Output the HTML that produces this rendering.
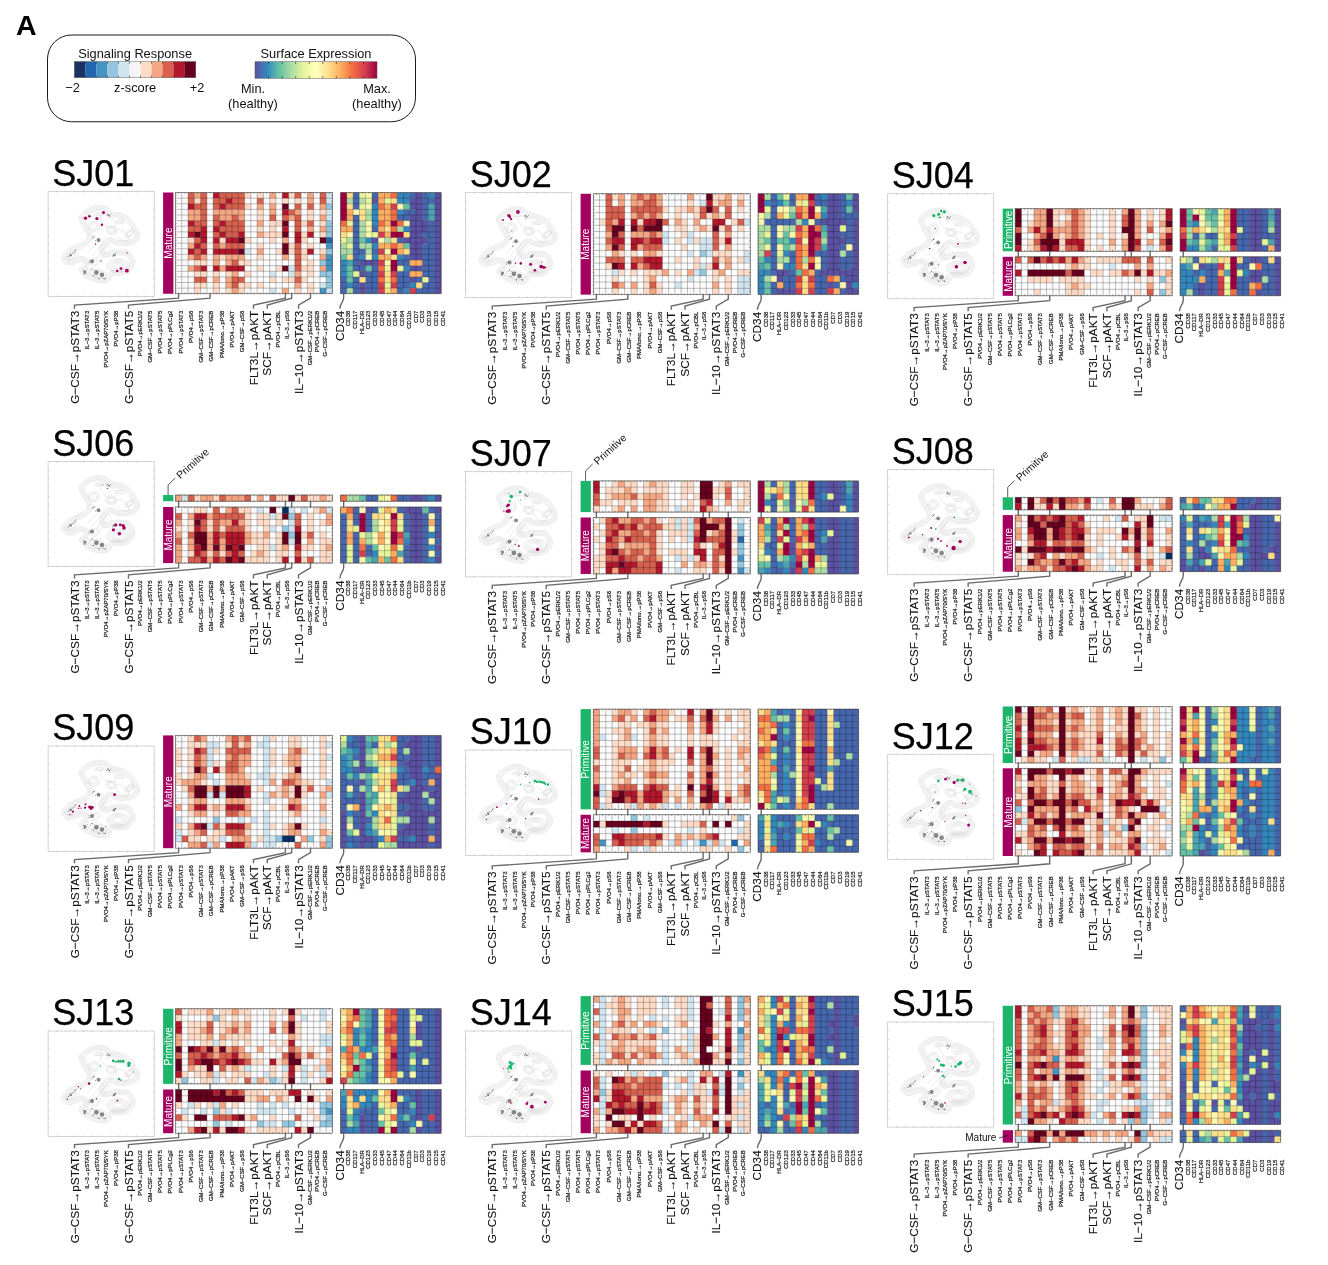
<!DOCTYPE html>
<html lang="en"><head><meta charset="utf-8"><title>Figure A</title>
<style>html,body{margin:0;padding:0;background:#fff}svg{display:block}text{font-family:"Liberation Sans",sans-serif}</style></head><body>
<svg width="1328" height="1265" viewBox="0 0 1328 1265">
<rect width="1328" height="1265" fill="#fff"/>
<defs><g id="ct"><path d="M51.7 14.3L54.1 14.5L56.4 14.9L58.7 15.7L60.8 17.1L62.7 19L64.8 20.4L67 21L69.4 21.3L71.7 21.7L74.1 22.5L76.4 23.5L78.7 24.8L80.9 26.3L83 28.1L84.8 30L86.2 32L87.2 34L88.3 36.1L89.6 38.1L90.9 40.1L91.7 42.2L91.6 44.6L91 47L90 49.1L88.7 50.6L86.9 51.7L84.8 52.6L82.2 53.4L79.1 54L76.1 54.3L73.1 54.3L70 54L67.4 53.5L65.3 52.5L63.7 51.4L62.2 50.9L60.9 51.5L59.7 52.8L58.7 54.3L57.6 56.1L56.5 58L56.1 59.6L56.5 60.6L57.4 61.2L58.7 61.3L60.1 60.8L61.8 59.8L63.9 59.1L66.6 58.8L69.6 58.7L72.6 58.7L75.4 58.7L78.1 58.9L80.4 59.6L82.2 61L83.6 62.8L84.8 64.8L86 66.9L86.9 69.2L87 71.7L86.1 74.7L84.3 77.8L82.2 80.4L79.6 82.1L76.5 83.2L73.5 83.9L70.4 84L67.2 83.6L64.8 83.9L63.6 85.3L63 87.4L62.2 89.1L60.8 90.3L59.1 91.2L57 91.7L54.4 91.8L51.3 91.5L48.3 90.9L45.3 90L42.4 88.8L39.6 87.4L36.9 85.8L34.4 84L32.6 82.2L31.7 80.5L31.4 78.7L31.7 77L33.1 75.1L35 73.2L36.1 71.7L35.6 70.7L34.3 70.1L32.6 70L30.8 70.6L28.7 71.7L26.5 72.6L24.2 73.2L21.8 73.6L19.6 73.5L17.5 72.7L15.7 71.4L14.3 70L13.5 68.7L13.2 67.4L13.5 65.7L14.7 63.5L16.6 60.9L18.7 58.7L21.1 57L23.8 55.6L26.5 54.3L29.2 53.2L31.9 52.1L34.3 50.9L36.6 49.4L38.6 47.6L39.6 45.7L39.1 43.5L37.6 41.1L36.1 38.7L34.9 36.3L33.6 34L32.6 31.7L31.6 29.6L30.9 27.7L30.9 25.7L32 23.6L33.9 21.5L36.1 19.6L38.8 17.9L41.9 16.3L44.8 15.2L47.2 14.6L49.5 14.3ZM51.7 15.5L53.9 15.7L56.1 16.1L58.1 16.8L60 18.1L62 19.9L64.3 21.5L66.8 22.2L69.2 22.5L71.4 22.9L73.6 23.7L75.9 24.7L78 25.9L80.1 27.3L82.1 29L83.8 30.8L85.1 32.6L86.1 34.6L87.2 36.7L88.6 38.8L89.8 40.7L90.5 42.4L90.4 44.4L89.8 46.6L89 48.4L87.9 49.6L86.3 50.6L84.4 51.4L81.9 52.2L78.9 52.7L76 53.1L73.1 53L70.2 52.8L67.8 52.3L66 51.5L64.3 50.3L62.1 49.7L60.1 50.5L58.8 52L57.7 53.6L56.5 55.4L55.4 57.5L54.9 59.6L55.5 61.4L57.1 62.3L58.9 62.5L60.6 61.9L62.3 61L64.2 60.3L66.7 60L69.7 59.9L72.6 59.9L75.3 60L77.9 60.2L79.8 60.7L81.3 61.8L82.6 63.5L83.7 65.4L84.8 67.4L85.6 69.5L85.8 71.5L84.9 74.2L83.3 77.1L81.4 79.5L79 81L76.2 82L73.3 82.7L70.4 82.7L67.3 82.4L64.3 82.8L62.5 84.8L61.9 86.9L61.2 88.3L60.1 89.2L58.7 90L56.8 90.5L54.4 90.5L51.5 90.3L48.6 89.7L45.8 88.8L42.9 87.7L40.2 86.3L37.6 84.7L35.2 83L33.6 81.4L32.8 80.1L32.6 78.8L32.8 77.5L34 75.9L36 74L37.3 72L36.4 69.8L34.5 68.9L32.4 68.8L30.3 69.5L28.2 70.6L26.1 71.4L23.9 72L21.7 72.3L19.9 72.3L18.1 71.6L16.5 70.4L15.3 69.2L14.6 68.2L14.4 67.4L14.7 66.2L15.7 64.1L17.5 61.7L19.5 59.6L21.8 58.1L24.4 56.7L27 55.4L29.7 54.3L32.4 53.3L34.9 52L37.3 50.4L39.5 48.4L40.8 45.9L40.2 43L38.7 40.4L37.2 38.1L36 35.8L34.8 33.4L33.7 31.2L32.8 29.1L32.1 27.4L32.1 26L33 24.3L34.7 22.4L36.8 20.6L39.4 19L42.4 17.5L45.2 16.4L47.5 15.8L49.5 15.5ZM51.6 16.8L53.7 17L55.8 17.3L57.6 17.9L59.2 19.1L61.2 20.9L63.7 22.7L66.6 23.5L69 23.7L71.1 24.1L73.2 24.9L75.3 25.8L77.4 26.9L79.4 28.3L81.3 29.9L82.9 31.6L84 33.3L85 35.2L86.1 37.4L87.5 39.5L88.7 41.2L89.2 42.6L89.2 44.2L88.7 46.2L87.9 47.7L87 48.7L85.8 49.5L84 50.2L81.6 51L78.8 51.5L76 51.8L73.2 51.8L70.4 51.5L68.1 51.1L66.6 50.4L64.8 49.2L62.1 48.4L59.3 49.5L57.8 51.3L56.6 52.9L55.4 54.8L54.2 57.1L53.6 59.5L54.6 62.2L56.7 63.5L59 63.8L61.2 63.1L62.8 62.1L64.4 61.5L66.8 61.3L69.7 61.2L72.6 61.2L75.3 61.2L77.7 61.4L79.3 61.8L80.4 62.7L81.6 64.2L82.6 66L83.7 68L84.4 69.7L84.5 71.3L83.8 73.7L82.3 76.4L80.5 78.5L78.5 79.8L75.8 80.8L73.2 81.4L70.5 81.5L67.3 81.1L63.7 81.6L61.4 84.2L60.7 86.5L60.2 87.6L59.4 88.2L58.2 88.8L56.7 89.2L54.5 89.3L51.7 89L48.9 88.5L46.2 87.6L43.4 86.5L40.8 85.2L38.3 83.7L36 82.1L34.6 80.7L34 79.6L33.9 78.8L34 78.1L34.9 76.8L36.9 74.9L38.5 72.3L37.2 68.8L34.8 67.7L32.2 67.5L29.8 68.3L27.6 69.4L25.7 70.2L23.7 70.7L21.6 71.1L20.1 71.1L18.7 70.5L17.3 69.5L16.2 68.4L15.8 67.7L15.7 67.4L15.8 66.6L16.8 64.8L18.5 62.5L20.3 60.6L22.4 59.1L24.9 57.8L27.5 56.6L30.1 55.5L32.9 54.4L35.6 53.1L38.1 51.4L40.5 49.2L42.1 46L41.4 42.5L39.7 39.8L38.3 37.5L37.1 35.2L35.9 32.9L34.9 30.7L33.9 28.7L33.3 27.2L33.3 26.4L34 25.1L35.6 23.3L37.6 21.6L40 20.1L42.9 18.6L45.6 17.6L47.7 17L49.6 16.8ZM51.6 18L53.6 18.2L55.5 18.5L57 19L58.4 20.1L60.4 21.9L63.2 23.8L66.3 24.7L68.8 25L70.7 25.3L72.7 26L74.8 26.9L76.7 28L78.6 29.3L80.4 30.9L81.9 32.4L83 33.9L83.9 35.8L85.1 38L86.5 40.2L87.6 41.8L88 42.8L87.9 44L87.5 45.7L86.9 47L86.2 47.7L85.2 48.4L83.5 49.1L81.3 49.7L78.6 50.3L75.9 50.6L73.3 50.5L70.6 50.3L68.5 49.9L67.2 49.3L65.4 48.1L62 47.2L58.6 48.6L56.8 50.5L55.6 52.2L54.3 54.2L53.1 56.6L52.4 59.5L53.7 63L56.3 64.7L59.2 65L61.7 64.2L63.3 63.3L64.7 62.8L66.9 62.5L69.7 62.4L72.6 62.4L75.2 62.5L77.5 62.6L78.7 63L79.6 63.6L80.5 64.9L81.5 66.6L82.6 68.5L83.2 70L83.3 71.2L82.6 73.2L81.2 75.7L79.7 77.6L77.9 78.7L75.5 79.6L73 80.2L70.5 80.2L67.3 79.9L63.2 80.5L60.2 83.6L59.5 86.1L59.2 86.8L58.7 87.2L57.8 87.7L56.5 88L54.5 88L51.9 87.8L49.2 87.3L46.6 86.5L43.9 85.4L41.4 84.1L39 82.7L36.8 81.1L35.6 79.9L35.2 79.2L35.1 78.8L35.1 78.6L35.9 77.6L37.8 75.7L39.7 72.6L38.1 67.9L35.1 66.5L32.1 66.3L29.3 67.2L27.1 68.3L25.3 69L23.4 69.5L21.6 69.8L20.4 69.8L19.3 69.4L18.1 68.5L17.2 67.6L16.9 67.2L16.9 67.4L17 67.1L17.8 65.5L19.4 63.4L21.2 61.5L23.1 60.2L25.5 58.9L28 57.7L30.6 56.6L33.4 55.6L36.2 54.1L38.9 52.3L41.5 50L43.3 46.2L42.5 42L40.8 39.1L39.4 36.8L38.2 34.6L37 32.3L36 30.1L35.1 28.2L34.6 27L34.5 26.7L35.1 25.8L36.5 24.2L38.3 22.6L40.6 21.1L43.4 19.8L46 18.8L47.9 18.2L49.7 18ZM51.5 19.3L53.4 19.4L55.2 19.7L56.4 20.1L57.6 21L59.6 22.9L62.6 24.9L66.1 25.9L68.6 26.2L70.4 26.5L72.2 27.2L74.2 28L76 29L77.8 30.3L79.6 31.8L80.9 33.2L81.9 34.6L82.8 36.3L84 38.6L85.5 40.9L86.5 42.4L86.8 43L86.7 43.9L86.3 45.3L85.8 46.3L85.4 46.8L84.6 47.3L83.1 47.9L81 48.5L78.4 49L75.9 49.3L73.3 49.3L70.7 49L68.9 48.7L67.8 48.2L66 47L62 45.9L57.8 47.6L55.8 49.7L54.5 51.5L53.2 53.6L51.9 56.1L51.1 59.5L52.7 63.9L55.9 65.9L59.4 66.3L62.2 65.3L63.8 64.4L65 64L66.9 63.8L69.7 63.7L72.5 63.7L75.2 63.7L77.2 63.9L78.2 64.1L78.7 64.5L79.5 65.6L80.4 67.3L81.4 69L82 70.3L82.1 71L81.5 72.7L80.2 75L78.9 76.7L77.4 77.6L75.1 78.4L72.9 78.9L70.6 79L67.3 78.6L62.7 79.4L59.1 83.1L58.3 85.6L58.2 86.1L58 86.1L57.3 86.5L56.4 86.7L54.5 86.8L52.1 86.5L49.5 86L47 85.3L44.4 84.2L42 83L39.7 81.6L37.6 80.2L36.5 79.1L36.4 78.8L36.4 78.8L36.2 79.1L36.8 78.4L38.8 76.5L41 72.9L38.9 66.9L35.4 65.2L31.9 65.1L28.8 66L26.6 67.2L24.9 67.9L23.2 68.3L21.5 68.6L20.6 68.6L19.9 68.3L18.9 67.5L18.2 66.8L18.1 66.7L18.2 67.4L18.2 67.5L18.9 66.2L20.4 64.2L22 62.5L23.7 61.3L26 60.1L28.6 58.9L31.1 57.8L33.9 56.7L36.8 55.2L39.6 53.3L42.4 50.8L44.6 46.3L43.7 41.5L41.8 38.5L40.4 36.2L39.3 34L38.1 31.8L37.1 29.6L36.2 27.7L35.8 26.7L35.7 27L36.1 26.5L37.3 25.1L39.1 23.6L41.3 22.2L43.9 20.9L46.4 19.9L48.2 19.5L49.7 19.3ZM51.3 35.2C51.3 36.22 50.88 37.43 50.23 38.26C49.59 39.08 48.47 39.83 47.43 40.15C46.39 40.46 45.01 40.46 43.97 40.15C42.93 39.83 41.81 39.08 41.17 38.26C40.52 37.43 40.1 36.22 40.1 35.2C40.1 34.18 40.52 32.97 41.17 32.14C41.81 31.32 42.93 30.57 43.97 30.25C45.01 29.94 46.39 29.94 47.43 30.25C48.47 30.57 49.59 31.32 50.23 32.14C50.88 32.97 51.3 34.18 51.3 35.2ZM49.81 35.2C49.81 35.95 49.5 36.84 49.02 37.44C48.55 38.05 47.73 38.6 46.97 38.83C46.2 39.06 45.2 39.06 44.43 38.83C43.67 38.6 42.85 38.05 42.38 37.44C41.9 36.84 41.59 35.95 41.59 35.2C41.59 34.45 41.9 33.56 42.38 32.96C42.85 32.35 43.67 31.8 44.43 31.57C45.2 31.34 46.2 31.34 46.97 31.57C47.73 31.8 48.55 32.35 49.02 32.96C49.5 33.56 49.81 34.45 49.81 35.2ZM48.31 35.2C48.31 35.68 48.12 36.24 47.81 36.63C47.51 37.01 46.99 37.36 46.51 37.51C46.02 37.65 45.38 37.65 44.89 37.51C44.41 37.36 43.89 37.01 43.59 36.63C43.28 36.24 43.09 35.68 43.09 35.2C43.09 34.72 43.28 34.16 43.59 33.77C43.89 33.39 44.41 33.04 44.89 32.89C45.38 32.75 46.02 32.75 46.51 32.89C46.99 33.04 47.51 33.39 47.81 33.77C48.12 34.16 48.31 34.72 48.31 35.2ZM55.85 22.3C55.89 22.61 55.57 23.04 55.04 23.37C54.5 23.7 53.55 24.07 52.64 24.29C51.73 24.52 50.52 24.69 49.58 24.72C48.65 24.76 47.63 24.67 47.03 24.49C46.42 24.32 45.99 24.01 45.95 23.7C45.91 23.39 46.23 22.96 46.76 22.63C47.3 22.3 48.25 21.93 49.16 21.71C50.07 21.48 51.28 21.31 52.22 21.28C53.15 21.24 54.17 21.33 54.77 21.51C55.38 21.68 55.81 21.99 55.85 22.3ZM53.87 22.58C53.9 22.77 53.7 23.02 53.38 23.22C53.06 23.42 52.49 23.64 51.95 23.78C51.4 23.91 50.67 24.01 50.11 24.03C49.55 24.05 48.94 24 48.58 23.9C48.21 23.79 47.96 23.6 47.93 23.42C47.9 23.23 48.1 22.98 48.42 22.78C48.74 22.58 49.31 22.36 49.85 22.22C50.4 22.09 51.13 21.99 51.69 21.97C52.25 21.95 52.86 22 53.22 22.1C53.59 22.21 53.84 22.4 53.87 22.58ZM68.07 40.55C67.78 41.36 67.04 42.18 66.22 42.62C65.4 43.07 64.17 43.3 63.14 43.2C62.1 43.11 60.86 42.66 60 42.06C59.15 41.47 58.36 40.5 58.01 39.64C57.66 38.77 57.63 37.66 57.93 36.85C58.22 36.04 58.96 35.22 59.78 34.78C60.6 34.33 61.83 34.1 62.86 34.2C63.9 34.29 65.14 34.74 66 35.34C66.85 35.93 67.64 36.9 67.99 37.76C68.34 38.63 68.37 39.74 68.07 40.55ZM66.72 40.05C66.5 40.65 65.97 41.25 65.36 41.58C64.76 41.9 63.86 42.07 63.1 42C62.34 41.93 61.43 41.6 60.8 41.17C60.17 40.73 59.59 40.02 59.34 39.39C59.09 38.75 59.06 37.94 59.28 37.35C59.5 36.75 60.03 36.15 60.64 35.82C61.24 35.5 62.14 35.33 62.9 35.4C63.66 35.47 64.57 35.8 65.2 36.23C65.83 36.67 66.41 37.38 66.66 38.01C66.91 38.65 66.94 39.46 66.72 40.05ZM65.37 39.56C65.23 39.94 64.89 40.32 64.5 40.53C64.12 40.74 63.55 40.85 63.06 40.8C62.58 40.76 62 40.55 61.6 40.27C61.2 39.99 60.83 39.54 60.67 39.14C60.51 38.73 60.49 38.22 60.63 37.84C60.77 37.46 61.11 37.08 61.5 36.87C61.88 36.66 62.45 36.55 62.94 36.6C63.42 36.64 64 36.85 64.4 37.13C64.8 37.41 65.17 37.86 65.33 38.26C65.49 38.67 65.51 39.18 65.37 39.56ZM76.28 30.8C76.25 31.15 75.87 31.54 75.32 31.78C74.76 32.02 73.83 32.2 72.97 32.23C72.1 32.26 70.98 32.16 70.13 31.98C69.29 31.8 68.4 31.46 67.9 31.13C67.4 30.8 67.09 30.35 67.12 30C67.15 29.65 67.53 29.26 68.08 29.02C68.64 28.78 69.57 28.6 70.43 28.57C71.3 28.54 72.42 28.64 73.27 28.82C74.11 29 75 29.34 75.5 29.67C76 30 76.31 30.45 76.28 30.8ZM74.45 30.64C74.43 30.85 74.2 31.08 73.87 31.23C73.54 31.37 72.98 31.48 72.46 31.5C71.94 31.52 71.27 31.46 70.76 31.35C70.25 31.24 69.72 31.04 69.42 30.84C69.12 30.64 68.93 30.37 68.95 30.16C68.97 29.95 69.2 29.72 69.53 29.57C69.86 29.43 70.42 29.32 70.94 29.3C71.46 29.28 72.13 29.34 72.64 29.45C73.15 29.56 73.68 29.76 73.98 29.96C74.28 30.16 74.47 30.43 74.45 30.64ZM85.89 38.99C86.22 39.47 86.28 40.29 86.02 41.05C85.77 41.81 85.1 42.8 84.35 43.54C83.6 44.29 82.48 45.08 81.52 45.53C80.56 45.98 79.4 46.26 78.6 46.24C77.8 46.22 77.05 45.89 76.71 45.41C76.38 44.93 76.32 44.11 76.58 43.35C76.83 42.59 77.5 41.6 78.25 40.86C79 40.11 80.12 39.32 81.08 38.87C82.04 38.42 83.2 38.14 84 38.16C84.8 38.18 85.55 38.51 85.89 38.99ZM84.66 39.84C84.91 40.2 84.95 40.8 84.76 41.35C84.58 41.91 84.09 42.64 83.54 43.19C82.99 43.73 82.16 44.31 81.46 44.64C80.76 44.97 79.91 45.18 79.32 45.16C78.73 45.15 78.18 44.91 77.94 44.56C77.69 44.2 77.65 43.6 77.84 43.05C78.02 42.49 78.51 41.76 79.06 41.21C79.61 40.67 80.44 40.09 81.14 39.76C81.84 39.43 82.69 39.22 83.28 39.24C83.87 39.25 84.42 39.49 84.66 39.84ZM83.44 40.7C83.6 40.93 83.62 41.31 83.5 41.66C83.38 42.02 83.08 42.48 82.73 42.83C82.37 43.18 81.85 43.54 81.4 43.75C80.95 43.96 80.41 44.1 80.04 44.09C79.67 44.08 79.32 43.92 79.16 43.7C79 43.47 78.98 43.09 79.1 42.74C79.22 42.38 79.52 41.92 79.87 41.57C80.23 41.22 80.75 40.86 81.2 40.65C81.65 40.44 82.19 40.3 82.56 40.31C82.93 40.32 83.28 40.48 83.44 40.7ZM81.5 74.3C81.5 75.67 80.63 77.3 79.3 78.41C77.98 79.52 75.7 80.53 73.55 80.96C71.41 81.38 68.59 81.38 66.45 80.96C64.3 80.53 62.02 79.52 60.7 78.41C59.37 77.3 58.5 75.67 58.5 74.3C58.5 72.93 59.37 71.3 60.7 70.19C62.02 69.08 64.3 68.07 66.45 67.64C68.59 67.22 71.41 67.22 73.55 67.64C75.7 68.07 77.98 69.08 79.3 70.19C80.63 71.3 81.5 72.93 81.5 74.3ZM79.66 74.3C79.66 75.45 78.93 76.82 77.82 77.76C76.7 78.69 74.79 79.54 72.99 79.89C71.19 80.25 68.81 80.25 67.01 79.89C65.21 79.54 63.3 78.69 62.18 77.76C61.07 76.82 60.34 75.45 60.34 74.3C60.34 73.15 61.07 71.78 62.18 70.84C63.3 69.91 65.21 69.06 67.01 68.71C68.81 68.35 71.19 68.35 72.99 68.71C74.79 69.06 76.7 69.91 77.82 70.84C78.93 71.78 79.66 73.15 79.66 74.3ZM77.82 74.3C77.82 75.23 77.23 76.34 76.33 77.1C75.43 77.85 73.87 78.54 72.42 78.83C70.96 79.12 69.04 79.12 67.58 78.83C66.13 78.54 64.57 77.85 63.67 77.1C62.77 76.34 62.18 75.23 62.18 74.3C62.18 73.37 62.77 72.26 63.67 71.5C64.57 70.75 66.13 70.06 67.58 69.77C69.04 69.48 70.96 69.48 72.42 69.77C73.87 70.06 75.43 70.75 76.33 71.5C77.23 72.26 77.82 73.37 77.82 74.3ZM75.98 74.3C75.98 75.01 75.53 75.86 74.84 76.44C74.15 77.02 72.96 77.54 71.85 77.76C70.73 77.98 69.27 77.98 68.15 77.76C67.04 77.54 65.85 77.02 65.16 76.44C64.47 75.86 64.02 75.01 64.02 74.3C64.02 73.59 64.47 72.74 65.16 72.16C65.85 71.58 67.04 71.06 68.15 70.84C69.27 70.62 70.73 70.62 71.85 70.84C72.96 71.06 74.15 71.58 74.84 72.16C75.53 72.74 75.98 73.59 75.98 74.3ZM74.14 74.3C74.14 74.79 73.83 75.38 73.35 75.78C72.87 76.18 72.05 76.54 71.28 76.7C70.51 76.85 69.49 76.85 68.72 76.7C67.95 76.54 67.13 76.18 66.65 75.78C66.17 75.38 65.86 74.79 65.86 74.3C65.86 73.81 66.17 73.22 66.65 72.82C67.13 72.42 67.95 72.06 68.72 71.9C69.49 71.75 70.51 71.75 71.28 71.9C72.05 72.06 72.87 72.42 73.35 72.82C73.83 73.22 74.14 73.81 74.14 74.3ZM51.5 70.9C51.5 71.68 51.12 72.62 50.55 73.25C49.97 73.89 48.98 74.46 48.05 74.7C47.11 74.95 45.89 74.95 44.95 74.7C44.02 74.46 43.03 73.89 42.45 73.25C41.88 72.62 41.5 71.68 41.5 70.9C41.5 70.12 41.88 69.18 42.45 68.55C43.03 67.91 44.02 67.34 44.95 67.1C45.89 66.85 47.11 66.85 48.05 67.1C48.98 67.34 49.97 67.91 50.55 68.55C51.12 69.18 51.5 70.12 51.5 70.9ZM49.5 70.9C49.5 71.37 49.27 71.93 48.93 72.31C48.58 72.69 47.99 73.04 47.43 73.18C46.87 73.33 46.13 73.33 45.57 73.18C45.01 73.04 44.42 72.69 44.07 72.31C43.73 71.93 43.5 71.37 43.5 70.9C43.5 70.43 43.73 69.87 44.07 69.49C44.42 69.11 45.01 68.76 45.57 68.62C46.13 68.47 46.87 68.47 47.43 68.62C47.99 68.76 48.58 69.11 48.93 69.49C49.27 69.87 49.5 70.43 49.5 70.9ZM58.31 84.27C58.13 85.13 57.28 86.02 56.18 86.52C55.07 87.01 53.29 87.3 51.68 87.23C50.07 87.17 48.03 86.74 46.54 86.14C45.05 85.54 43.53 84.56 42.72 83.66C41.91 82.76 41.5 81.6 41.69 80.73C41.87 79.87 42.72 78.98 43.82 78.48C44.93 77.99 46.71 77.7 48.32 77.77C49.93 77.83 51.97 78.26 53.46 78.86C54.95 79.46 56.47 80.44 57.28 81.34C58.09 82.24 58.5 83.4 58.31 84.27ZM56.1 83.8C55.96 84.43 55.34 85.08 54.53 85.45C53.72 85.81 52.41 86.02 51.23 85.97C50.05 85.92 48.56 85.61 47.46 85.17C46.37 84.73 45.26 84.01 44.66 83.35C44.07 82.69 43.77 81.84 43.9 81.2C44.04 80.57 44.66 79.92 45.47 79.55C46.28 79.19 47.59 78.98 48.77 79.03C49.95 79.08 51.44 79.39 52.54 79.83C53.63 80.27 54.74 80.99 55.34 81.65C55.93 82.31 56.23 83.16 56.1 83.8ZM53.88 83.32C53.79 83.73 53.4 84.14 52.88 84.37C52.37 84.61 51.53 84.74 50.78 84.71C50.03 84.68 49.08 84.48 48.39 84.2C47.69 83.92 46.98 83.46 46.6 83.04C46.23 82.62 46.03 82.08 46.12 81.68C46.21 81.27 46.6 80.86 47.12 80.63C47.63 80.39 48.47 80.26 49.22 80.29C49.97 80.32 50.92 80.52 51.61 80.8C52.31 81.08 53.02 81.54 53.4 81.96C53.77 82.38 53.97 82.92 53.88 83.32ZM28.74 61.75C29.03 62.3 28.95 63.19 28.53 63.99C28.1 64.79 27.18 65.8 26.2 66.54C25.22 67.28 23.82 68.03 22.66 68.43C21.49 68.83 20.14 69.03 19.24 68.93C18.34 68.83 17.56 68.41 17.26 67.85C16.97 67.3 17.05 66.41 17.47 65.61C17.9 64.81 18.82 63.8 19.8 63.06C20.78 62.32 22.18 61.57 23.34 61.17C24.51 60.77 25.86 60.57 26.76 60.67C27.66 60.77 28.44 61.19 28.74 61.75ZM26.44 62.97C26.62 63.3 26.57 63.84 26.32 64.32C26.06 64.79 25.51 65.4 24.92 65.85C24.33 66.29 23.49 66.74 22.79 66.98C22.1 67.22 21.28 67.34 20.74 67.28C20.2 67.22 19.73 66.96 19.56 66.63C19.38 66.3 19.43 65.76 19.68 65.28C19.94 64.81 20.49 64.2 21.08 63.75C21.67 63.31 22.51 62.86 23.21 62.62C23.9 62.38 24.72 62.26 25.26 62.32C25.8 62.38 26.27 62.64 26.44 62.97ZM41 79.5C41 80.24 40.77 81.13 40.43 81.73C40.08 82.34 39.49 82.88 38.93 83.11C38.37 83.34 37.63 83.34 37.07 83.11C36.51 82.88 35.92 82.34 35.57 81.73C35.23 81.13 35 80.24 35 79.5C35 78.76 35.23 77.87 35.57 77.27C35.92 76.66 36.51 76.12 37.07 75.89C37.63 75.66 38.37 75.66 38.93 75.89C39.49 76.12 40.08 76.66 40.43 77.27C40.77 77.87 41 78.76 41 79.5ZM67.37 35.16C66.81 35.96 65.58 36.53 64.28 36.58C62.98 36.64 61.1 36.2 59.55 35.49C58 34.78 56.19 33.51 54.99 32.3C53.79 31.09 52.74 29.47 52.35 28.23C51.96 26.99 52.07 25.64 52.63 24.84C53.19 24.04 54.42 23.47 55.72 23.42C57.02 23.36 58.9 23.8 60.45 24.51C62 25.22 63.81 26.49 65.01 27.7C66.21 28.91 67.26 30.53 67.65 31.77C68.04 33.01 67.93 34.36 67.37 35.16ZM80.13 49.14C79.62 49.74 78.56 50.07 77.45 49.96C76.33 49.85 74.75 49.28 73.45 48.5C72.15 47.73 70.65 46.47 69.66 45.33C68.67 44.18 67.83 42.72 67.53 41.64C67.23 40.56 67.37 39.46 67.87 38.86C68.38 38.26 69.44 37.93 70.55 38.04C71.67 38.15 73.25 38.72 74.55 39.5C75.85 40.27 77.35 41.53 78.34 42.67C79.33 43.82 80.17 45.28 80.47 46.36C80.77 47.44 80.63 48.54 80.13 49.14ZM60 52C56 58 51 62 48 68M63 53C59 60 54 64 51 70M57 50C52 56 47 60 44 65M54 48C49 53 43 57 40 62" stroke="#c2c2c2" stroke-width="0.33" fill="none"/><g fill="#858585"><circle cx="50.4" cy="48.7" r="1.9"/><circle cx="22.6" cy="63.9" r="1.3"/><circle cx="66.1" cy="63.9" r="1.3"/><circle cx="43.9" cy="70" r="2.1"/><circle cx="37" cy="80.4" r="1.5"/><circle cx="36.3" cy="82.3" r="1"/><circle cx="48.3" cy="81.3" r="2.4"/><circle cx="53.9" cy="83.5" r="2.3"/><circle cx="60.4" cy="23.9" r="0.7"/></g><g fill="#4a4a4a"><circle cx="59.6" cy="22.8" r="0.61"/><circle cx="61.5" cy="24.6" r="0.61"/><circle cx="62.6" cy="23" r="0.47"/><circle cx="60" cy="26.5" r="0.41"/><circle cx="58.8" cy="24.5" r="0.47"/><circle cx="45.7" cy="45.7" r="0.61"/><circle cx="44.6" cy="47" r="0.47"/><circle cx="46.8" cy="44.6" r="0.41"/><circle cx="47.3" cy="49.5" r="0.47"/><circle cx="27" cy="59.6" r="0.54"/><circle cx="26" cy="61.5" r="0.47"/><circle cx="27.8" cy="58.3" r="0.41"/><circle cx="20.5" cy="65.5" r="0.54"/><circle cx="24.3" cy="62" r="0.47"/><circle cx="67.3" cy="62.4" r="0.54"/><circle cx="64.8" cy="65" r="0.47"/><circle cx="41" cy="71.5" r="0.47"/><circle cx="40.8" cy="69.3" r="0.41"/><circle cx="43.9" cy="77.4" r="0.54"/><circle cx="42.5" cy="79" r="0.41"/><circle cx="45.2" cy="83.9" r="0.54"/><circle cx="50.9" cy="87.4" r="0.54"/><circle cx="57" cy="87.4" r="0.61"/><circle cx="55.5" cy="87.2" r="0.41"/><circle cx="39.5" cy="78.3" r="0.41"/><circle cx="46" cy="78.8" r="0.41"/><circle cx="35.5" cy="79.5" r="0.47"/></g></g></defs>
<text x="16" y="35.4" font-size="28.5" font-weight="bold" fill="#000">A</text>
<rect x="47.5" y="35" width="368" height="86.75" rx="24" ry="24" fill="#fff" stroke="#1a1a1a" stroke-width="1"/>
<text x="135.1" y="58" text-anchor="middle" font-size="12.8" fill="#111">Signaling Response</text>
<rect x="74.25" y="61.5" width="11.15" height="16.25" fill="#1d3263"/>
<rect x="85.3" y="61.5" width="11.15" height="16.25" fill="#2166ac"/>
<rect x="96.34" y="61.5" width="11.15" height="16.25" fill="#4393c3"/>
<rect x="107.39" y="61.5" width="11.15" height="16.25" fill="#92c5de"/>
<rect x="118.43" y="61.5" width="11.15" height="16.25" fill="#d1e5f0"/>
<rect x="129.48" y="61.5" width="11.15" height="16.25" fill="#f5f5f5"/>
<rect x="140.52" y="61.5" width="11.15" height="16.25" fill="#fddbc7"/>
<rect x="151.57" y="61.5" width="11.15" height="16.25" fill="#f4a582"/>
<rect x="162.61" y="61.5" width="11.15" height="16.25" fill="#d6604d"/>
<rect x="173.66" y="61.5" width="11.15" height="16.25" fill="#b2182b"/>
<rect x="184.7" y="61.5" width="11.15" height="16.25" fill="#67001f"/>
<path d="M85.3 61.5v2.2M85.3 77.75v-2.2M96.34 61.5v2.2M96.34 77.75v-2.2M107.39 61.5v2.2M107.39 77.75v-2.2M118.43 61.5v2.2M118.43 77.75v-2.2M129.48 61.5v2.2M129.48 77.75v-2.2M140.52 61.5v2.2M140.52 77.75v-2.2M151.57 61.5v2.2M151.57 77.75v-2.2M162.61 61.5v2.2M162.61 77.75v-2.2M173.66 61.5v2.2M173.66 77.75v-2.2M184.7 61.5v2.2M184.7 77.75v-2.2" stroke="#222" stroke-width="0.6" fill="none"/>
<rect x="74.25" y="61.5" width="121.5" height="16.25" fill="none" stroke="#666" stroke-width="0.5"/>
<text x="65.3" y="92" font-size="12.8" fill="#111">−2</text>
<text x="135.1" y="92" text-anchor="middle" font-size="12.8" fill="#111">z-score</text>
<text x="189.7" y="92" font-size="12.8" fill="#111">+2</text>
<text x="316" y="58" text-anchor="middle" font-size="12.8" fill="#111">Surface Expression</text>
<defs><linearGradient id="sp" x1="0" x2="1" y1="0" y2="0"><stop offset="0" stop-color="#5e4fa2"/><stop offset="0.1" stop-color="#3288bd"/><stop offset="0.2" stop-color="#66c2a5"/><stop offset="0.3" stop-color="#abdda4"/><stop offset="0.4" stop-color="#e6f598"/><stop offset="0.5" stop-color="#ffffbf"/><stop offset="0.6" stop-color="#fee08b"/><stop offset="0.7" stop-color="#fdae61"/><stop offset="0.8" stop-color="#f46d43"/><stop offset="0.9" stop-color="#d53e4f"/><stop offset="1" stop-color="#9e0142"/></linearGradient></defs>
<rect x="255" y="61.75" width="122" height="16.5" fill="url(#sp)" stroke="#555" stroke-width="0.5"/>
<path d="M268.56 61.75v2.2M268.56 78.25v-2.2M282.11 61.75v2.2M282.11 78.25v-2.2M295.67 61.75v2.2M295.67 78.25v-2.2M309.22 61.75v2.2M309.22 78.25v-2.2M322.78 61.75v2.2M322.78 78.25v-2.2M336.33 61.75v2.2M336.33 78.25v-2.2M349.89 61.75v2.2M349.89 78.25v-2.2M363.44 61.75v2.2M363.44 78.25v-2.2" stroke="#222" stroke-width="0.6" fill="none"/>
<text x="253" y="92.9" text-anchor="middle" font-size="12.8" fill="#111">Min.</text>
<text x="253" y="107.9" text-anchor="middle" font-size="12.8" fill="#111">(healthy)</text>
<text x="377" y="92.9" text-anchor="middle" font-size="12.8" fill="#111">Max.</text>
<text x="377" y="107.9" text-anchor="middle" font-size="12.8" fill="#111">(healthy)</text>
<g id="SJ01">
<text x="52.2" y="185.6" font-size="36" fill="#000" stroke="#000" stroke-width="0.25">SJ01</text>
<g transform="translate(48.1 191.3)">
<rect x="0" y="0" width="106.1" height="105.3" fill="#fff" stroke="#bdbdbd" stroke-width="0.65"/>
<path d="M8.84 0v1.2M8.84 105.3v-1.2M0 8.78h1.2M106.1 8.78h-1.2M17.68 0v1.2M17.68 105.3v-1.2M0 17.55h1.2M106.1 17.55h-1.2M26.52 0v1.2M26.52 105.3v-1.2M0 26.33h1.2M106.1 26.33h-1.2M35.37 0v1.2M35.37 105.3v-1.2M0 35.1h1.2M106.1 35.1h-1.2M44.21 0v1.2M44.21 105.3v-1.2M0 43.88h1.2M106.1 43.88h-1.2M53.05 0v1.2M53.05 105.3v-1.2M0 52.65h1.2M106.1 52.65h-1.2M61.89 0v1.2M61.89 105.3v-1.2M0 61.43h1.2M106.1 61.43h-1.2M70.73 0v1.2M70.73 105.3v-1.2M0 70.2h1.2M106.1 70.2h-1.2M79.58 0v1.2M79.58 105.3v-1.2M0 78.98h1.2M106.1 78.98h-1.2M88.42 0v1.2M88.42 105.3v-1.2M0 87.75h1.2M106.1 87.75h-1.2M97.26 0v1.2M97.26 105.3v-1.2M0 96.53h1.2M106.1 96.53h-1.2" stroke="#a8a8a8" stroke-width="0.55" fill="none"/>
<use href="#ct"/>
<g fill="#a3005f"><circle cx="37.5" cy="26.9" r="1.6"/><circle cx="41.3" cy="25" r="1.3"/><circle cx="48.8" cy="27.25" r="1.6"/><circle cx="55.4" cy="21.25" r="1.5"/><circle cx="53.8" cy="33.4" r="1.2"/><circle cx="47.3" cy="52.75" r="0.7"/><circle cx="79" cy="61.6" r="0.7"/><circle cx="52.9" cy="69.75" r="0.7"/><circle cx="69.1" cy="79.6" r="1.2"/><circle cx="72.9" cy="77.25" r="1.4"/><circle cx="78.8" cy="79.4" r="1.9"/><circle cx="35" cy="26.5" r="0.5"/></g>
</g>
<rect x="163.1" y="192.5" width="10.3" height="101.25" fill="#a3005f"/>
<text transform="translate(171.9 243.12) rotate(-90)" text-anchor="middle" font-size="10" fill="#fff">Mature</text>
<g transform="translate(175.5 192.5)">
<g transform="scale(6.2800 5.6250)">
<path fill="#fbfbfb" d="M0 0h2v1h-2zM5 0h1v1h-1zM12 0h1v1h-1zM14 0h1v1h-1zM16 0h1v1h-1zM20 0h1v1h-1zM22 0h1v1h-1zM0 1h2v1h-2zM5 1h1v1h-1zM11 1h2v1h-2zM14 1h1v1h-1zM16 1h1v1h-1zM18 1h1v1h-1zM20 1h1v1h-1zM22 1h1v1h-1zM0 2h2v1h-2zM5 2h1v1h-1zM12 2h1v1h-1zM14 2h1v1h-1zM16 2h1v1h-1zM18 2h1v1h-1zM20 2h1v1h-1zM22 2h1v1h-1zM0 3h2v1h-2zM5 3h1v1h-1zM11 3h2v1h-2zM14 3h1v1h-1zM16 3h1v1h-1zM20 3h1v1h-1zM22 3h1v1h-1zM0 4h2v1h-2zM5 4h1v1h-1zM11 4h2v1h-2zM14 4h1v1h-1zM16 4h1v1h-1zM20 4h1v1h-1zM22 4h1v1h-1zM0 5h2v1h-2zM5 5h1v1h-1zM11 5h2v1h-2zM14 5h1v1h-1zM18 5h1v1h-1zM22 5h1v1h-1zM0 6h2v1h-2zM5 6h1v1h-1zM11 6h2v1h-2zM14 6h1v1h-1zM16 6h1v1h-1zM18 6h1v1h-1zM20 6h1v1h-1zM22 6h1v1h-1zM0 7h2v1h-2zM5 7h1v1h-1zM11 7h2v1h-2zM18 7h1v1h-1zM22 7h1v1h-1zM0 8h2v1h-2zM5 8h1v1h-1zM12 8h3v1h-3zM16 8h1v1h-1zM18 8h1v1h-1zM21 8h2v1h-2zM0 9h2v1h-2zM5 9h1v1h-1zM11 9h2v1h-2zM14 9h3v1h-3zM20 9h1v1h-1zM22 9h2v1h-2zM0 10h2v1h-2zM5 10h1v1h-1zM12 10h1v1h-1zM14 10h2v1h-2zM22 10h1v1h-1zM0 11h2v1h-2zM5 11h1v1h-1zM11 11h2v1h-2zM14 11h3v1h-3zM18 11h1v1h-1zM21 11h2v1h-2zM0 12h3v1h-3zM5 12h1v1h-1zM7 12h1v1h-1zM12 12h7v1h-7zM20 12h1v1h-1zM22 12h1v1h-1zM0 13h2v1h-2zM5 13h1v1h-1zM11 13h2v1h-2zM14 13h2v1h-2zM22 13h1v1h-1zM0 14h3v1h-3zM5 14h1v1h-1zM7 14h1v1h-1zM10 14h1v1h-1zM12 14h3v1h-3zM16 14h2v1h-2zM20 14h1v1h-1zM22 14h1v1h-1zM0 15h3v1h-3zM5 15h1v1h-1zM7 15h1v1h-1zM11 15h4v1h-4zM16 15h1v1h-1zM21 15h3v1h-3zM0 16h3v1h-3zM5 16h1v1h-1zM7 16h1v1h-1zM12 16h1v1h-1zM14 16h5v1h-5zM20 16h1v1h-1zM22 16h1v1h-1zM0 17h3v1h-3zM4 17h2v1h-2zM7 17h1v1h-1zM11 17h4v1h-4zM16 17h1v1h-1zM18 17h1v1h-1zM20 17h1v1h-1zM22 17h1v1h-1z"/>
<path fill="#fddbc7" d="M11 0h1v1h-1zM13 0h1v1h-1zM18 0h1v1h-1zM3 1h1v1h-1zM15 1h1v1h-1zM17 1h1v1h-1zM19 1h1v1h-1zM11 2h1v1h-1zM13 3h1v1h-1zM21 3h1v1h-1zM23 3h1v1h-1zM13 4h1v1h-1zM21 4h1v1h-1zM15 5h2v1h-2zM20 5h1v1h-1zM23 5h1v1h-1zM13 6h1v1h-1zM15 6h1v1h-1zM14 7h3v1h-3zM20 7h1v1h-1zM23 7h1v1h-1zM2 8h1v1h-1zM7 8h1v1h-1zM11 8h1v1h-1zM15 8h1v1h-1zM20 8h1v1h-1zM13 9h1v1h-1zM18 9h1v1h-1zM21 9h1v1h-1zM16 10h1v1h-1zM18 10h1v1h-1zM20 10h1v1h-1zM23 10h1v1h-1zM7 11h1v1h-1zM13 11h1v1h-1zM20 11h1v1h-1zM3 12h2v1h-2zM10 12h2v1h-2zM21 12h1v1h-1zM13 13h1v1h-1zM16 13h1v1h-1zM20 13h2v1h-2zM3 14h2v1h-2zM6 14h1v1h-1zM8 14h1v1h-1zM11 14h1v1h-1zM21 14h1v1h-1zM15 15h1v1h-1zM17 15h2v1h-2zM20 15h1v1h-1zM3 16h2v1h-2zM6 16h1v1h-1zM10 16h2v1h-2zM13 16h1v1h-1zM21 16h1v1h-1zM3 17h1v1h-1zM6 17h1v1h-1zM8 17h1v1h-1zM10 17h1v1h-1zM19 17h1v1h-1zM21 17h1v1h-1z"/>
<path fill="#f4a582" d="M3 0h1v1h-1zM15 0h1v1h-1zM21 0h1v1h-1zM21 1h1v1h-1zM13 2h1v1h-1zM15 2h1v1h-1zM23 2h1v1h-1zM2 3h2v1h-2zM6 3h5v1h-5zM15 3h1v1h-1zM19 3h1v1h-1zM2 4h2v1h-2zM7 4h2v1h-2zM10 4h1v1h-1zM18 4h1v1h-1zM23 4h1v1h-1zM13 5h1v1h-1zM21 6h1v1h-1zM23 6h1v1h-1zM13 7h1v1h-1zM17 8h1v1h-1zM2 9h1v1h-1zM7 9h1v1h-1zM13 10h1v1h-1zM2 11h1v1h-1zM4 11h1v1h-1zM6 11h1v1h-1zM8 11h3v1h-3zM17 11h1v1h-1zM23 11h1v1h-1zM6 12h1v1h-1zM8 12h1v1h-1zM2 13h1v1h-1zM7 13h1v1h-1zM23 13h1v1h-1zM9 14h1v1h-1zM19 14h1v1h-1zM6 15h1v1h-1zM8 15h1v1h-1zM8 16h1v1h-1zM19 16h1v1h-1zM9 17h1v1h-1zM17 17h1v1h-1z"/>
<path fill="#d6604d" d="M2 0h1v1h-1zM4 0h1v1h-1zM7 0h4v1h-4zM19 0h1v1h-1zM23 0h1v1h-1zM2 1h1v1h-1zM4 1h1v1h-1zM6 1h2v1h-2zM9 1h2v1h-2zM13 1h1v1h-1zM23 1h1v1h-1zM3 2h2v1h-2zM6 2h1v1h-1zM8 2h3v1h-3zM19 2h1v1h-1zM21 2h1v1h-1zM4 3h1v1h-1zM18 3h1v1h-1zM4 4h1v1h-1zM6 4h1v1h-1zM9 4h1v1h-1zM15 4h1v1h-1zM17 4h1v1h-1zM19 4h1v1h-1zM3 5h2v1h-2zM6 5h1v1h-1zM8 5h3v1h-3zM19 5h1v1h-1zM21 5h1v1h-1zM2 6h2v1h-2zM7 6h4v1h-4zM19 6h1v1h-1zM6 7h1v1h-1zM8 7h2v1h-2zM3 8h1v1h-1zM4 9h1v1h-1zM6 9h1v1h-1zM8 9h3v1h-3zM19 9h1v1h-1zM3 10h1v1h-1zM19 10h1v1h-1zM3 11h1v1h-1zM19 11h1v1h-1zM9 12h1v1h-1zM19 12h1v1h-1zM3 13h1v1h-1zM19 13h1v1h-1zM3 15h2v1h-2zM9 15h2v1h-2zM19 15h1v1h-1zM9 16h1v1h-1z"/>
<path fill="#b2182b" d="M6 0h1v1h-1zM17 0h1v1h-1zM8 1h1v1h-1zM2 2h1v1h-1zM7 2h1v1h-1zM17 3h1v1h-1zM2 5h1v1h-1zM7 5h1v1h-1zM4 6h1v1h-1zM6 6h1v1h-1zM17 6h1v1h-1zM2 7h1v1h-1zM4 7h1v1h-1zM7 7h1v1h-1zM10 7h1v1h-1zM19 7h1v1h-1zM21 7h1v1h-1zM4 8h1v1h-1zM6 8h1v1h-1zM8 8h2v1h-2zM19 8h1v1h-1zM3 9h1v1h-1zM2 10h1v1h-1zM4 10h1v1h-1zM6 10h4v1h-4zM21 10h1v1h-1zM4 13h1v1h-1zM6 13h1v1h-1zM8 13h3v1h-3z"/>
<path fill="#67001f" d="M17 2h1v1h-1zM17 5h1v1h-1zM3 7h1v1h-1zM17 7h1v1h-1zM10 8h1v1h-1zM23 8h1v1h-1zM17 9h1v1h-1zM10 10h1v1h-1zM17 10h1v1h-1zM17 13h1v1h-1z"/>
<path fill="#d1e5f0" d="M24 0h1v1h-1zM24 1h1v1h-1zM24 3h1v1h-1zM24 4h1v1h-1zM11 10h1v1h-1zM18 13h1v1h-1zM15 14h1v1h-1zM18 14h1v1h-1zM23 16h1v1h-1zM15 17h1v1h-1zM24 17h1v1h-1z"/>
<path fill="#92c5de" d="M24 2h1v1h-1zM24 5h1v1h-1zM24 6h1v1h-1zM24 7h1v1h-1zM24 10h1v1h-1zM23 12h1v1h-1zM23 14h2v1h-2zM24 15h1v1h-1zM24 16h1v1h-1z"/>
<path fill="#4393c3" d="M24 9h1v1h-1zM24 11h1v1h-1zM24 12h1v1h-1zM24 13h1v1h-1zM23 17h1v1h-1z"/>
<path fill="#2166ac" d="M24 8h1v1h-1z"/>
</g>
<path d="M0 0V101.25M6.28 0V101.25M12.56 0V101.25M18.84 0V101.25M25.12 0V101.25M31.4 0V101.25M37.68 0V101.25M43.96 0V101.25M50.24 0V101.25M56.52 0V101.25M62.8 0V101.25M69.08 0V101.25M75.36 0V101.25M81.64 0V101.25M87.92 0V101.25M94.2 0V101.25M100.48 0V101.25M106.76 0V101.25M113.04 0V101.25M119.32 0V101.25M125.6 0V101.25M131.88 0V101.25M138.16 0V101.25M144.44 0V101.25M150.72 0V101.25M157 0V101.25M0 0H157M0 5.62H157M0 11.25H157M0 16.88H157M0 22.5H157M0 28.12H157M0 33.75H157M0 39.38H157M0 45H157M0 50.62H157M0 56.25H157M0 61.88H157M0 67.5H157M0 73.12H157M0 78.75H157M0 84.38H157M0 90H157M0 95.62H157M0 101.25H157" stroke="#000" stroke-width="0.31" fill="none" stroke-opacity="0.8"/>
<rect x="0" y="0" width="157" height="101.25" fill="none" stroke="#555" stroke-width="0.5"/>
<path d="M3.14 0v1.3M3.14 101.25v-1.3M9.42 0v1.3M9.42 101.25v-1.3M15.7 0v1.3M15.7 101.25v-1.3M21.98 0v1.3M21.98 101.25v-1.3M28.26 0v1.3M28.26 101.25v-1.3M34.54 0v1.3M34.54 101.25v-1.3M40.82 0v1.3M40.82 101.25v-1.3M47.1 0v1.3M47.1 101.25v-1.3M53.38 0v1.3M53.38 101.25v-1.3M59.66 0v1.3M59.66 101.25v-1.3M65.94 0v1.3M65.94 101.25v-1.3M72.22 0v1.3M72.22 101.25v-1.3M78.5 0v1.3M78.5 101.25v-1.3M84.78 0v1.3M84.78 101.25v-1.3M91.06 0v1.3M91.06 101.25v-1.3M97.34 0v1.3M97.34 101.25v-1.3M103.62 0v1.3M103.62 101.25v-1.3M109.9 0v1.3M109.9 101.25v-1.3M116.18 0v1.3M116.18 101.25v-1.3M122.46 0v1.3M122.46 101.25v-1.3M128.74 0v1.3M128.74 101.25v-1.3M135.02 0v1.3M135.02 101.25v-1.3M141.3 0v1.3M141.3 101.25v-1.3M147.58 0v1.3M147.58 101.25v-1.3M153.86 0v1.3M153.86 101.25v-1.3M0 2.81h1.3M157 2.81h-1.3M0 8.44h1.3M157 8.44h-1.3M0 14.06h1.3M157 14.06h-1.3M0 19.69h1.3M157 19.69h-1.3M0 25.31h1.3M157 25.31h-1.3M0 30.94h1.3M157 30.94h-1.3M0 36.56h1.3M157 36.56h-1.3M0 42.19h1.3M157 42.19h-1.3M0 47.81h1.3M157 47.81h-1.3M0 53.44h1.3M157 53.44h-1.3M0 59.06h1.3M157 59.06h-1.3M0 64.69h1.3M157 64.69h-1.3M0 70.31h1.3M157 70.31h-1.3M0 75.94h1.3M157 75.94h-1.3M0 81.56h1.3M157 81.56h-1.3M0 87.19h1.3M157 87.19h-1.3M0 92.81h1.3M157 92.81h-1.3M0 98.44h1.3M157 98.44h-1.3" stroke="#333" stroke-width="0.45" fill="none"/>
</g>
<g transform="translate(340.5 192.5)">
<g transform="scale(6.2906 5.6250)">
<path fill="#5b51a3" d="M12 0h1v1h-1zM15 0h1v1h-1zM5 1h1v1h-1zM11 1h2v1h-2zM15 1h1v1h-1zM11 2h2v1h-2zM15 2h1v1h-1zM12 3h1v1h-1zM15 3h1v1h-1zM11 4h2v1h-2zM15 4h1v1h-1zM11 5h3v1h-3zM15 5h1v1h-1zM11 6h3v1h-3zM15 6h1v1h-1zM11 7h2v1h-2zM15 7h1v1h-1zM5 8h1v1h-1zM10 8h4v1h-4zM15 8h1v1h-1zM11 9h2v1h-2zM15 9h1v1h-1zM11 10h2v1h-2zM15 10h1v1h-1zM11 11h2v1h-2zM15 11h1v1h-1zM3 12h3v1h-3zM15 12h1v1h-1zM11 13h2v1h-2zM15 13h1v1h-1zM3 14h1v1h-1zM15 14h1v1h-1zM11 15h1v1h-1zM15 15h1v1h-1zM3 16h1v1h-1zM15 16h1v1h-1zM3 17h1v1h-1zM15 17h1v1h-1z"/>
<path fill="#4667ae" d="M2 0h1v1h-1zM5 0h1v1h-1zM11 0h1v1h-1zM13 0h1v1h-1zM2 1h1v1h-1zM13 1h2v1h-2zM2 2h1v1h-1zM13 2h1v1h-1zM10 3h2v1h-2zM13 3h1v1h-1zM2 4h1v1h-1zM9 4h2v1h-2zM13 4h1v1h-1zM2 5h1v1h-1zM14 5h1v1h-1zM2 6h1v1h-1zM5 6h1v1h-1zM14 6h1v1h-1zM2 7h1v1h-1zM13 7h2v1h-2zM2 8h1v1h-1zM9 8h1v1h-1zM14 8h1v1h-1zM2 9h1v1h-1zM13 9h2v1h-2zM2 10h2v1h-2zM5 10h1v1h-1zM13 10h2v1h-2zM2 11h1v1h-1zM10 11h1v1h-1zM13 11h2v1h-2zM2 12h1v1h-1zM9 12h2v1h-2zM13 12h2v1h-2zM2 13h2v1h-2zM5 13h1v1h-1zM13 13h2v1h-2zM4 14h2v1h-2zM9 14h2v1h-2zM13 14h2v1h-2zM0 15h1v1h-1zM2 15h1v1h-1zM4 15h2v1h-2zM9 15h2v1h-2zM12 15h1v1h-1zM14 15h1v1h-1zM0 16h1v1h-1zM2 16h1v1h-1zM4 16h2v1h-2zM9 16h2v1h-2zM13 16h2v1h-2zM0 17h1v1h-1zM2 17h1v1h-1zM4 17h2v1h-2zM9 17h1v1h-1zM12 17h3v1h-3z"/>
<path fill="#3387bc" d="M9 0h2v1h-2zM14 0h1v1h-1zM9 1h2v1h-2zM5 2h1v1h-1zM5 3h1v1h-1zM9 3h1v1h-1zM5 4h1v1h-1zM5 5h1v1h-1zM10 6h1v1h-1zM4 8h1v1h-1zM5 9h1v1h-1zM3 11h1v1h-1zM5 11h1v1h-1zM9 11h1v1h-1zM0 12h1v1h-1zM0 13h1v1h-1zM10 13h1v1h-1zM0 14h1v1h-1zM1 16h1v1h-1zM11 16h1v1h-1zM10 17h1v1h-1z"/>
<path fill="#4ba4b1" d="M14 2h1v1h-1zM14 3h1v1h-1zM14 4h1v1h-1zM1 12h1v1h-1z"/>
<path fill="#66c2a5" d="M10 2h1v1h-1zM3 8h1v1h-1zM10 9h1v1h-1zM0 11h1v1h-1zM1 13h1v1h-1zM4 13h1v1h-1zM1 14h1v1h-1zM1 15h1v1h-1z"/>
<path fill="#abdda4" d="M1 1h1v1h-1zM3 1h1v1h-1zM4 3h1v1h-1zM4 4h1v1h-1zM3 5h1v1h-1zM3 6h1v1h-1zM9 6h1v1h-1zM3 7h1v1h-1zM1 8h1v1h-1zM7 8h1v1h-1zM0 9h1v1h-1zM3 9h2v1h-2zM0 10h2v1h-2zM4 10h1v1h-1zM1 17h1v1h-1z"/>
<path fill="#e6f598" d="M3 0h1v1h-1zM4 1h1v1h-1zM7 1h1v1h-1zM3 2h1v1h-1zM1 5h1v1h-1zM5 7h1v1h-1zM0 8h1v1h-1zM1 9h1v1h-1zM7 13h1v1h-1zM9 13h1v1h-1zM2 14h1v1h-1zM13 15h1v1h-1zM7 16h1v1h-1z"/>
<path fill="#fbf8b0" d="M4 0h1v1h-1zM4 2h1v1h-1zM9 2h1v1h-1zM2 3h1v1h-1zM4 5h1v1h-1zM10 5h1v1h-1zM4 6h1v1h-1zM1 7h1v1h-1zM4 7h1v1h-1zM6 8h1v1h-1zM7 10h1v1h-1zM4 11h1v1h-1zM7 12h1v1h-1z"/>
<path fill="#fee08b" d="M1 0h1v1h-1zM8 1h1v1h-1zM1 2h1v1h-1zM3 3h1v1h-1zM3 4h1v1h-1zM7 6h1v1h-1zM0 7h1v1h-1zM10 7h1v1h-1zM8 8h1v1h-1zM10 10h1v1h-1zM1 11h1v1h-1zM8 11h1v1h-1zM7 14h1v1h-1zM3 15h1v1h-1zM7 15h1v1h-1zM12 16h1v1h-1zM7 17h1v1h-1z"/>
<path fill="#fdae61" d="M6 0h2v1h-2zM6 1h1v1h-1zM7 2h1v1h-1zM1 3h1v1h-1zM6 3h2v1h-2zM1 4h1v1h-1zM6 4h2v1h-2zM7 5h1v1h-1zM0 6h2v1h-2zM6 6h1v1h-1zM7 7h1v1h-1zM6 9h2v1h-2zM9 9h1v1h-1zM9 10h1v1h-1zM6 11h2v1h-2zM11 12h2v1h-2zM11 14h2v1h-2zM8 17h1v1h-1z"/>
<path fill="#f46d43" d="M8 0h1v1h-1zM6 2h1v1h-1zM8 3h1v1h-1zM8 4h1v1h-1zM0 5h1v1h-1zM6 5h1v1h-1zM9 5h1v1h-1zM8 6h1v1h-1zM8 9h1v1h-1zM6 13h1v1h-1zM6 15h1v1h-1zM8 15h1v1h-1z"/>
<path fill="#d53e4f" d="M8 2h1v1h-1zM6 7h1v1h-1zM6 10h1v1h-1zM6 12h1v1h-1zM6 14h1v1h-1zM8 14h1v1h-1zM6 16h1v1h-1zM8 16h1v1h-1zM6 17h1v1h-1zM11 17h1v1h-1z"/>
<path fill="#9e0142" d="M0 0h1v1h-1zM0 1h1v1h-1zM0 2h1v1h-1zM0 3h1v1h-1zM0 4h1v1h-1zM8 5h1v1h-1zM8 7h2v1h-2zM8 10h1v1h-1zM8 12h1v1h-1zM8 13h1v1h-1z"/>
</g>
<path d="M0 0V101.25M6.29 0V101.25M12.58 0V101.25M18.87 0V101.25M25.16 0V101.25M31.45 0V101.25M37.74 0V101.25M44.03 0V101.25M50.33 0V101.25M56.62 0V101.25M62.91 0V101.25M69.2 0V101.25M75.49 0V101.25M81.78 0V101.25M88.07 0V101.25M94.36 0V101.25M100.65 0V101.25M0 0H100.65M0 5.62H100.65M0 11.25H100.65M0 16.88H100.65M0 22.5H100.65M0 28.12H100.65M0 33.75H100.65M0 39.38H100.65M0 45H100.65M0 50.62H100.65M0 56.25H100.65M0 61.88H100.65M0 67.5H100.65M0 73.12H100.65M0 78.75H100.65M0 84.38H100.65M0 90H100.65M0 95.62H100.65M0 101.25H100.65" stroke="#000" stroke-width="0.31" fill="none" stroke-opacity="0.8"/>
<rect x="0" y="0" width="100.65" height="101.25" fill="none" stroke="#555" stroke-width="0.5"/>
<path d="M3.15 0v1.3M3.15 101.25v-1.3M9.44 0v1.3M9.44 101.25v-1.3M15.73 0v1.3M15.73 101.25v-1.3M22.02 0v1.3M22.02 101.25v-1.3M28.31 0v1.3M28.31 101.25v-1.3M34.6 0v1.3M34.6 101.25v-1.3M40.89 0v1.3M40.89 101.25v-1.3M47.18 0v1.3M47.18 101.25v-1.3M53.47 0v1.3M53.47 101.25v-1.3M59.76 0v1.3M59.76 101.25v-1.3M66.05 0v1.3M66.05 101.25v-1.3M72.34 0v1.3M72.34 101.25v-1.3M78.63 0v1.3M78.63 101.25v-1.3M84.92 0v1.3M84.92 101.25v-1.3M91.21 0v1.3M91.21 101.25v-1.3M97.5 0v1.3M97.5 101.25v-1.3M0 2.81h1.3M100.65 2.81h-1.3M0 8.44h1.3M100.65 8.44h-1.3M0 14.06h1.3M100.65 14.06h-1.3M0 19.69h1.3M100.65 19.69h-1.3M0 25.31h1.3M100.65 25.31h-1.3M0 30.94h1.3M100.65 30.94h-1.3M0 36.56h1.3M100.65 36.56h-1.3M0 42.19h1.3M100.65 42.19h-1.3M0 47.81h1.3M100.65 47.81h-1.3M0 53.44h1.3M100.65 53.44h-1.3M0 59.06h1.3M100.65 59.06h-1.3M0 64.69h1.3M100.65 64.69h-1.3M0 70.31h1.3M100.65 70.31h-1.3M0 75.94h1.3M100.65 75.94h-1.3M0 81.56h1.3M100.65 81.56h-1.3M0 87.19h1.3M100.65 87.19h-1.3M0 92.81h1.3M100.65 92.81h-1.3M0 98.44h1.3M100.65 98.44h-1.3" stroke="#333" stroke-width="0.45" fill="none"/>
</g>
<path d="M178.64 293.75V298.15L74.5 305.15V308.65M210.04 293.75V298.15L128.5 305.15V308.65M285.4 293.75V298.15L253.5 305.15V308.65M291.68 293.75V298.15L267.25 305.15V308.65M310.52 293.75V298.15L298.5 305.15V308.65M343.65 293.75V297.75C343.65 301.75 339.9 303.75 339.9 308.65" stroke="#6a6a6a" stroke-width="1.4" fill="none"/>
<text transform="translate(78.5 310.75) rotate(-90)" text-anchor="end" font-size="11.8" fill="#111" stroke="#111" stroke-width="0.12">G−CSF→pSTAT3</text>
<text transform="translate(89.4 310.75) rotate(-90)" text-anchor="end" font-size="5.95" fill="#222" stroke="#222" stroke-width="0.22">IL−3→pSTAT3</text>
<text transform="translate(99 310.75) rotate(-90)" text-anchor="end" font-size="5.95" fill="#222" stroke="#222" stroke-width="0.22">IL−3→pSTAT5</text>
<text transform="translate(107.75 310.75) rotate(-90)" text-anchor="end" font-size="5.95" fill="#222" stroke="#222" stroke-width="0.22">PVO4→pZAP70/SYK</text>
<text transform="translate(117.5 310.75) rotate(-90)" text-anchor="end" font-size="5.95" fill="#222" stroke="#222" stroke-width="0.22">PVO4→pP38</text>
<text transform="translate(132.5 310.75) rotate(-90)" text-anchor="end" font-size="11.8" fill="#111" stroke="#111" stroke-width="0.12">G−CSF→pSTAT5</text>
<text transform="translate(141.9 310.75) rotate(-90)" text-anchor="end" font-size="5.95" fill="#222" stroke="#222" stroke-width="0.22">PVO4→pERK1/2</text>
<text transform="translate(152.1 310.75) rotate(-90)" text-anchor="end" font-size="5.95" fill="#222" stroke="#222" stroke-width="0.22">GM−CSF→pSTAT5</text>
<text transform="translate(162.25 310.75) rotate(-90)" text-anchor="end" font-size="5.95" fill="#222" stroke="#222" stroke-width="0.22">PVO4→pSTAT5</text>
<text transform="translate(172.25 310.75) rotate(-90)" text-anchor="end" font-size="5.95" fill="#222" stroke="#222" stroke-width="0.22">PVO4→pPLCg2</text>
<text transform="translate(182.5 310.75) rotate(-90)" text-anchor="end" font-size="5.95" fill="#222" stroke="#222" stroke-width="0.22">PVO4→pSTAT3</text>
<text transform="translate(192.75 310.75) rotate(-90)" text-anchor="end" font-size="5.95" fill="#222" stroke="#222" stroke-width="0.22">PVO4→pS6</text>
<text transform="translate(202.75 310.75) rotate(-90)" text-anchor="end" font-size="5.95" fill="#222" stroke="#222" stroke-width="0.22">GM−CSF→pSTAT3</text>
<text transform="translate(213.1 310.75) rotate(-90)" text-anchor="end" font-size="5.95" fill="#222" stroke="#222" stroke-width="0.22">GM−CSF→pCREB</text>
<text transform="translate(223.6 310.75) rotate(-90)" text-anchor="end" font-size="5.95" fill="#222" stroke="#222" stroke-width="0.22">PMA/iono.→pP38</text>
<text transform="translate(233.75 310.75) rotate(-90)" text-anchor="end" font-size="5.95" fill="#222" stroke="#222" stroke-width="0.22">PVO4→pAKT</text>
<text transform="translate(244 310.75) rotate(-90)" text-anchor="end" font-size="5.95" fill="#222" stroke="#222" stroke-width="0.22">GM−CSF→pS6</text>
<text transform="translate(257.5 310.75) rotate(-90)" text-anchor="end" font-size="11.8" fill="#111" stroke="#111" stroke-width="0.12">FLT3L→pAKT</text>
<text transform="translate(271.25 310.75) rotate(-90)" text-anchor="end" font-size="11.8" fill="#111" stroke="#111" stroke-width="0.12">SCF→pAKT</text>
<text transform="translate(280.25 310.75) rotate(-90)" text-anchor="end" font-size="5.95" fill="#222" stroke="#222" stroke-width="0.22">PVO4→pCBL</text>
<text transform="translate(288.5 310.75) rotate(-90)" text-anchor="end" font-size="5.95" fill="#222" stroke="#222" stroke-width="0.22">IL−3→pS6</text>
<text transform="translate(302.5 310.75) rotate(-90)" text-anchor="end" font-size="11.8" fill="#111" stroke="#111" stroke-width="0.12">IL−10→pSTAT3</text>
<text transform="translate(311.5 310.75) rotate(-90)" text-anchor="end" font-size="5.95" fill="#222" stroke="#222" stroke-width="0.22">GM−CSF→pERK1/2</text>
<text transform="translate(319 310.75) rotate(-90)" text-anchor="end" font-size="5.95" fill="#222" stroke="#222" stroke-width="0.22">PVO4→pCREB</text>
<text transform="translate(326.9 310.75) rotate(-90)" text-anchor="end" font-size="5.95" fill="#222" stroke="#222" stroke-width="0.22">G−CSF→pCREB</text>
<text transform="translate(343.8 310.75) rotate(-90)" text-anchor="end" font-size="11.8" fill="#111" stroke="#111" stroke-width="0.12">CD34</text>
<text transform="translate(350.15 310.75) rotate(-90)" text-anchor="end" font-size="5.95" fill="#222" stroke="#222" stroke-width="0.22">CD38</text>
<text transform="translate(356.89 310.75) rotate(-90)" text-anchor="end" font-size="5.95" fill="#222" stroke="#222" stroke-width="0.22">CD117</text>
<text transform="translate(363.63 310.75) rotate(-90)" text-anchor="end" font-size="5.95" fill="#222" stroke="#222" stroke-width="0.22">HLA−DR</text>
<text transform="translate(370.37 310.75) rotate(-90)" text-anchor="end" font-size="5.95" fill="#222" stroke="#222" stroke-width="0.22">CD123</text>
<text transform="translate(377.11 310.75) rotate(-90)" text-anchor="end" font-size="5.95" fill="#222" stroke="#222" stroke-width="0.22">CD33</text>
<text transform="translate(383.85 310.75) rotate(-90)" text-anchor="end" font-size="5.95" fill="#222" stroke="#222" stroke-width="0.22">CD45</text>
<text transform="translate(390.59 310.75) rotate(-90)" text-anchor="end" font-size="5.95" fill="#222" stroke="#222" stroke-width="0.22">CD47</text>
<text transform="translate(397.33 310.75) rotate(-90)" text-anchor="end" font-size="5.95" fill="#222" stroke="#222" stroke-width="0.22">CD44</text>
<text transform="translate(404.07 310.75) rotate(-90)" text-anchor="end" font-size="5.95" fill="#222" stroke="#222" stroke-width="0.22">CD64</text>
<text transform="translate(410.81 310.75) rotate(-90)" text-anchor="end" font-size="5.95" fill="#222" stroke="#222" stroke-width="0.22">CD11b</text>
<text transform="translate(417.55 310.75) rotate(-90)" text-anchor="end" font-size="5.95" fill="#222" stroke="#222" stroke-width="0.22">CD7</text>
<text transform="translate(424.29 310.75) rotate(-90)" text-anchor="end" font-size="5.95" fill="#222" stroke="#222" stroke-width="0.22">CD3</text>
<text transform="translate(431.03 310.75) rotate(-90)" text-anchor="end" font-size="5.95" fill="#222" stroke="#222" stroke-width="0.22">CD19</text>
<text transform="translate(437.77 310.75) rotate(-90)" text-anchor="end" font-size="5.95" fill="#222" stroke="#222" stroke-width="0.22">CD15</text>
<text transform="translate(444.51 310.75) rotate(-90)" text-anchor="end" font-size="5.95" fill="#222" stroke="#222" stroke-width="0.22">CD41</text>
</g>
<g id="SJ02">
<text x="469.7" y="186.8" font-size="36" fill="#000" stroke="#000" stroke-width="0.25">SJ02</text>
<g transform="translate(465.6 192.5)">
<rect x="0" y="0" width="106.1" height="105.2" fill="#fff" stroke="#bdbdbd" stroke-width="0.65"/>
<path d="M8.84 0v1.2M8.84 105.2v-1.2M0 8.77h1.2M106.1 8.77h-1.2M17.68 0v1.2M17.68 105.2v-1.2M0 17.53h1.2M106.1 17.53h-1.2M26.52 0v1.2M26.52 105.2v-1.2M0 26.3h1.2M106.1 26.3h-1.2M35.37 0v1.2M35.37 105.2v-1.2M0 35.07h1.2M106.1 35.07h-1.2M44.21 0v1.2M44.21 105.2v-1.2M0 43.83h1.2M106.1 43.83h-1.2M53.05 0v1.2M53.05 105.2v-1.2M0 52.6h1.2M106.1 52.6h-1.2M61.89 0v1.2M61.89 105.2v-1.2M0 61.37h1.2M106.1 61.37h-1.2M70.73 0v1.2M70.73 105.2v-1.2M0 70.13h1.2M106.1 70.13h-1.2M79.58 0v1.2M79.58 105.2v-1.2M0 78.9h1.2M106.1 78.9h-1.2M88.42 0v1.2M88.42 105.2v-1.2M0 87.67h1.2M106.1 87.67h-1.2M97.26 0v1.2M97.26 105.2v-1.2M0 96.43h1.2M106.1 96.43h-1.2" stroke="#a8a8a8" stroke-width="0.55" fill="none"/>
<use href="#ct"/>
<g fill="#a3005f"><circle cx="52.3" cy="19.4" r="1.9"/><circle cx="43.3" cy="23.1" r="1.7"/><circle cx="44.3" cy="24.6" r="1.2"/><circle cx="45.6" cy="26.7" r="1.1"/><circle cx="37.4" cy="27.4" r="1"/><circle cx="46.3" cy="38.4" r="0.5"/><circle cx="47.2" cy="53.6" r="0.6"/><circle cx="49.9" cy="70.7" r="0.7"/><circle cx="55.2" cy="70.9" r="1.3"/><circle cx="65" cy="71.7" r="1.5"/><circle cx="69.3" cy="77.8" r="1.4"/><circle cx="75.6" cy="74.1" r="1.9"/><circle cx="78.2" cy="75" r="1.4"/><circle cx="79.9" cy="75" r="0.8"/><circle cx="76" cy="69.7" r="0.5"/></g>
</g>
<rect x="580.6" y="193.75" width="10.3" height="100.85" fill="#a3005f"/>
<text transform="translate(589.4 244.18) rotate(-90)" text-anchor="middle" font-size="10" fill="#fff">Mature</text>
<g transform="translate(593.25 193.75)">
<g transform="scale(6.2800 6.3031)">
<path fill="#fbfbfb" d="M0 0h2v1h-2zM5 0h1v1h-1zM11 0h4v1h-4zM16 0h2v1h-2zM22 0h1v1h-1zM24 0h1v1h-1zM0 1h2v1h-2zM3 1h1v1h-1zM5 1h1v1h-1zM11 1h4v1h-4zM16 1h1v1h-1zM22 1h1v1h-1zM24 1h1v1h-1zM0 2h2v1h-2zM5 2h1v1h-1zM12 2h1v1h-1zM20 2h1v1h-1zM22 2h1v1h-1zM24 2h1v1h-1zM0 3h2v1h-2zM5 3h1v1h-1zM11 3h2v1h-2zM14 3h2v1h-2zM22 3h3v1h-3zM0 4h1v1h-1zM5 4h1v1h-1zM12 4h1v1h-1zM15 4h1v1h-1zM17 4h2v1h-2zM21 4h1v1h-1zM0 5h2v1h-2zM5 5h1v1h-1zM11 5h2v1h-2zM15 5h1v1h-1zM22 5h1v1h-1zM24 5h1v1h-1zM0 6h2v1h-2zM5 6h1v1h-1zM12 6h2v1h-2zM16 6h3v1h-3zM20 6h1v1h-1zM22 6h3v1h-3zM0 7h2v1h-2zM5 7h1v1h-1zM12 7h1v1h-1zM14 7h1v1h-1zM22 7h3v1h-3zM0 8h2v1h-2zM5 8h1v1h-1zM11 8h3v1h-3zM15 8h2v1h-2zM20 8h1v1h-1zM22 8h3v1h-3zM0 9h3v1h-3zM5 9h1v1h-1zM7 9h1v1h-1zM11 9h4v1h-4zM16 9h1v1h-1zM22 9h2v1h-2zM0 10h2v1h-2zM5 10h1v1h-1zM11 10h2v1h-2zM14 10h2v1h-2zM17 10h2v1h-2zM22 10h1v1h-1zM0 11h2v1h-2zM5 11h1v1h-1zM11 11h5v1h-5zM20 11h1v1h-1zM22 11h3v1h-3zM0 12h3v1h-3zM5 12h1v1h-1zM7 12h1v1h-1zM12 12h1v1h-1zM14 12h1v1h-1zM18 12h1v1h-1zM21 12h2v1h-2zM0 13h3v1h-3zM4 13h4v1h-4zM10 13h5v1h-5zM16 13h3v1h-3zM20 13h1v1h-1zM22 13h1v1h-1zM0 14h3v1h-3zM5 14h1v1h-1zM7 14h1v1h-1zM11 14h2v1h-2zM14 14h5v1h-5zM20 14h1v1h-1zM22 14h1v1h-1zM0 15h3v1h-3zM4 15h2v1h-2zM7 15h1v1h-1zM11 15h8v1h-8zM20 15h1v1h-1zM22 15h1v1h-1z"/>
<path fill="#fddbc7" d="M3 0h1v1h-1zM19 0h2v1h-2zM23 0h1v1h-1zM15 1h1v1h-1zM19 1h1v1h-1zM11 2h1v1h-1zM13 2h2v1h-2zM16 2h1v1h-1zM23 2h1v1h-1zM13 3h1v1h-1zM16 3h1v1h-1zM18 3h1v1h-1zM20 3h1v1h-1zM1 4h1v1h-1zM7 4h1v1h-1zM14 4h1v1h-1zM22 4h1v1h-1zM13 5h2v1h-2zM16 5h1v1h-1zM18 5h1v1h-1zM20 5h1v1h-1zM23 5h1v1h-1zM14 6h1v1h-1zM13 7h1v1h-1zM16 7h1v1h-1zM20 7h1v1h-1zM14 8h1v1h-1zM4 9h1v1h-1zM6 9h1v1h-1zM10 9h1v1h-1zM19 9h3v1h-3zM13 10h1v1h-1zM16 10h1v1h-1zM20 10h1v1h-1zM23 10h1v1h-1zM2 11h1v1h-1zM16 11h1v1h-1zM18 11h1v1h-1zM4 12h1v1h-1zM6 12h1v1h-1zM8 12h3v1h-3zM13 12h1v1h-1zM19 12h1v1h-1zM23 12h2v1h-2zM3 13h1v1h-1zM8 13h1v1h-1zM19 13h1v1h-1zM21 13h1v1h-1zM8 14h1v1h-1zM10 14h1v1h-1zM21 14h1v1h-1zM3 15h1v1h-1zM6 15h1v1h-1zM8 15h1v1h-1zM10 15h1v1h-1zM19 15h1v1h-1zM21 15h1v1h-1z"/>
<path fill="#f4a582" d="M4 0h1v1h-1zM6 0h1v1h-1zM8 0h1v1h-1zM10 0h1v1h-1zM15 0h1v1h-1zM21 0h1v1h-1zM4 1h1v1h-1zM6 1h2v1h-2zM10 1h1v1h-1zM20 1h2v1h-2zM23 1h1v1h-1zM15 2h1v1h-1zM6 3h1v1h-1zM8 3h1v1h-1zM10 3h1v1h-1zM19 3h1v1h-1zM3 4h1v1h-1zM13 4h1v1h-1zM16 4h1v1h-1zM17 5h1v1h-1zM2 6h1v1h-1zM6 6h3v1h-3zM10 6h1v1h-1zM21 6h1v1h-1zM2 8h1v1h-1zM7 8h1v1h-1zM21 8h1v1h-1zM3 9h1v1h-1zM8 9h2v1h-2zM21 10h1v1h-1zM7 11h1v1h-1zM21 11h1v1h-1zM11 12h1v1h-1zM15 12h1v1h-1zM20 12h1v1h-1zM9 13h1v1h-1zM4 14h1v1h-1zM6 14h1v1h-1zM19 14h1v1h-1zM9 15h1v1h-1z"/>
<path fill="#d6604d" d="M2 0h1v1h-1zM7 0h1v1h-1zM9 0h1v1h-1zM2 1h1v1h-1zM8 1h2v1h-2zM2 2h3v1h-3zM6 2h5v1h-5zM17 2h1v1h-1zM19 2h1v1h-1zM21 2h1v1h-1zM2 3h3v1h-3zM7 3h1v1h-1zM9 3h1v1h-1zM17 3h1v1h-1zM21 3h1v1h-1zM2 4h1v1h-1zM11 4h1v1h-1zM23 4h1v1h-1zM2 5h1v1h-1zM7 5h1v1h-1zM21 5h1v1h-1zM4 6h1v1h-1zM9 6h1v1h-1zM19 6h1v1h-1zM2 7h1v1h-1zM8 7h1v1h-1zM19 7h1v1h-1zM4 8h1v1h-1zM8 8h3v1h-3zM19 8h1v1h-1zM2 10h3v1h-3zM6 10h2v1h-2zM19 10h1v1h-1zM8 11h1v1h-1zM3 14h1v1h-1zM9 14h1v1h-1z"/>
<path fill="#b2182b" d="M18 1h1v1h-1zM4 4h1v1h-1zM6 4h1v1h-1zM8 4h2v1h-2zM19 4h2v1h-2zM3 7h2v1h-2zM6 7h2v1h-2zM9 7h2v1h-2zM21 7h1v1h-1zM6 8h1v1h-1zM8 10h3v1h-3zM4 11h1v1h-1zM6 11h1v1h-1zM9 11h2v1h-2zM19 11h1v1h-1z"/>
<path fill="#67001f" d="M18 0h1v1h-1zM18 2h1v1h-1zM10 4h1v1h-1zM3 5h2v1h-2zM6 5h1v1h-1zM8 5h3v1h-3zM19 5h1v1h-1zM3 6h1v1h-1zM3 8h1v1h-1zM3 11h1v1h-1z"/>
<path fill="#d1e5f0" d="M17 1h1v1h-1zM24 4h1v1h-1zM11 6h1v1h-1zM15 6h1v1h-1zM11 7h1v1h-1zM15 7h1v1h-1zM17 7h2v1h-2zM17 8h2v1h-2zM15 9h1v1h-1zM18 9h1v1h-1zM24 9h1v1h-1zM24 10h1v1h-1zM17 11h1v1h-1zM3 12h1v1h-1zM16 12h1v1h-1zM15 13h1v1h-1zM23 13h2v1h-2zM13 14h1v1h-1zM23 14h2v1h-2zM23 15h2v1h-2z"/>
<path fill="#92c5de" d="M17 9h1v1h-1zM17 12h1v1h-1z"/>
</g>
<path d="M0 0V100.85M6.28 0V100.85M12.56 0V100.85M18.84 0V100.85M25.12 0V100.85M31.4 0V100.85M37.68 0V100.85M43.96 0V100.85M50.24 0V100.85M56.52 0V100.85M62.8 0V100.85M69.08 0V100.85M75.36 0V100.85M81.64 0V100.85M87.92 0V100.85M94.2 0V100.85M100.48 0V100.85M106.76 0V100.85M113.04 0V100.85M119.32 0V100.85M125.6 0V100.85M131.88 0V100.85M138.16 0V100.85M144.44 0V100.85M150.72 0V100.85M157 0V100.85M0 0H157M0 6.3H157M0 12.61H157M0 18.91H157M0 25.21H157M0 31.52H157M0 37.82H157M0 44.12H157M0 50.43H157M0 56.73H157M0 63.03H157M0 69.33H157M0 75.64H157M0 81.94H157M0 88.24H157M0 94.55H157M0 100.85H157" stroke="#000" stroke-width="0.31" fill="none" stroke-opacity="0.8"/>
<rect x="0" y="0" width="157" height="100.85" fill="none" stroke="#555" stroke-width="0.5"/>
<path d="M3.14 0v1.3M3.14 100.85v-1.3M9.42 0v1.3M9.42 100.85v-1.3M15.7 0v1.3M15.7 100.85v-1.3M21.98 0v1.3M21.98 100.85v-1.3M28.26 0v1.3M28.26 100.85v-1.3M34.54 0v1.3M34.54 100.85v-1.3M40.82 0v1.3M40.82 100.85v-1.3M47.1 0v1.3M47.1 100.85v-1.3M53.38 0v1.3M53.38 100.85v-1.3M59.66 0v1.3M59.66 100.85v-1.3M65.94 0v1.3M65.94 100.85v-1.3M72.22 0v1.3M72.22 100.85v-1.3M78.5 0v1.3M78.5 100.85v-1.3M84.78 0v1.3M84.78 100.85v-1.3M91.06 0v1.3M91.06 100.85v-1.3M97.34 0v1.3M97.34 100.85v-1.3M103.62 0v1.3M103.62 100.85v-1.3M109.9 0v1.3M109.9 100.85v-1.3M116.18 0v1.3M116.18 100.85v-1.3M122.46 0v1.3M122.46 100.85v-1.3M128.74 0v1.3M128.74 100.85v-1.3M135.02 0v1.3M135.02 100.85v-1.3M141.3 0v1.3M141.3 100.85v-1.3M147.58 0v1.3M147.58 100.85v-1.3M153.86 0v1.3M153.86 100.85v-1.3M0 3.15h1.3M157 3.15h-1.3M0 9.45h1.3M157 9.45h-1.3M0 15.76h1.3M157 15.76h-1.3M0 22.06h1.3M157 22.06h-1.3M0 28.36h1.3M157 28.36h-1.3M0 34.67h1.3M157 34.67h-1.3M0 40.97h1.3M157 40.97h-1.3M0 47.27h1.3M157 47.27h-1.3M0 53.58h1.3M157 53.58h-1.3M0 59.88h1.3M157 59.88h-1.3M0 66.18h1.3M157 66.18h-1.3M0 72.49h1.3M157 72.49h-1.3M0 78.79h1.3M157 78.79h-1.3M0 85.09h1.3M157 85.09h-1.3M0 91.4h1.3M157 91.4h-1.3M0 97.7h1.3M157 97.7h-1.3" stroke="#333" stroke-width="0.45" fill="none"/>
</g>
<g transform="translate(758.05 193.75)">
<g transform="scale(6.2906 6.3031)">
<path fill="#5b51a3" d="M11 0h2v1h-2zM15 0h1v1h-1zM11 1h2v1h-2zM15 1h1v1h-1zM11 2h2v1h-2zM15 2h1v1h-1zM11 3h2v1h-2zM10 4h4v1h-4zM15 4h1v1h-1zM11 5h2v1h-2zM15 5h1v1h-1zM11 6h2v1h-2zM15 6h1v1h-1zM11 7h3v1h-3zM15 7h1v1h-1zM11 8h2v1h-2zM15 8h1v1h-1zM11 9h2v1h-2zM15 9h1v1h-1zM11 10h2v1h-2zM15 10h1v1h-1zM11 11h2v1h-2zM15 11h1v1h-1zM3 12h2v1h-2zM10 12h6v1h-6zM3 13h1v1h-1zM14 13h2v1h-2zM11 14h1v1h-1zM14 14h1v1h-1zM3 15h3v1h-3zM14 15h2v1h-2z"/>
<path fill="#4667ae" d="M2 0h1v1h-1zM5 0h1v1h-1zM9 0h1v1h-1zM13 0h1v1h-1zM2 1h1v1h-1zM5 1h1v1h-1zM9 1h2v1h-2zM13 1h1v1h-1zM2 2h1v1h-1zM13 2h1v1h-1zM2 3h1v1h-1zM13 3h3v1h-3zM1 4h5v1h-5zM9 4h1v1h-1zM14 4h1v1h-1zM2 5h1v1h-1zM14 5h1v1h-1zM2 6h1v1h-1zM13 6h2v1h-2zM2 7h1v1h-1zM14 7h1v1h-1zM2 8h1v1h-1zM13 8h1v1h-1zM2 9h1v1h-1zM5 9h1v1h-1zM9 9h2v1h-2zM14 9h1v1h-1zM2 10h1v1h-1zM5 10h1v1h-1zM10 10h1v1h-1zM13 10h2v1h-2zM2 11h1v1h-1zM10 11h1v1h-1zM13 11h2v1h-2zM2 12h1v1h-1zM5 12h1v1h-1zM9 12h1v1h-1zM4 13h2v1h-2zM9 13h2v1h-2zM13 13h1v1h-1zM2 14h1v1h-1zM4 14h2v1h-2zM9 14h2v1h-2zM12 14h1v1h-1zM2 15h1v1h-1zM9 15h2v1h-2zM13 15h1v1h-1z"/>
<path fill="#3387bc" d="M10 0h1v1h-1zM1 1h1v1h-1zM3 1h1v1h-1zM14 1h1v1h-1zM10 3h1v1h-1zM7 4h1v1h-1zM5 7h1v1h-1zM4 9h1v1h-1zM1 10h1v1h-1zM4 11h2v1h-2zM0 12h2v1h-2zM0 13h1v1h-1zM0 14h1v1h-1zM15 14h1v1h-1zM0 15h1v1h-1z"/>
<path fill="#4ba4b1" d="M10 2h1v1h-1zM10 5h1v1h-1zM10 8h1v1h-1zM0 11h1v1h-1z"/>
<path fill="#66c2a5" d="M3 0h1v1h-1zM14 0h1v1h-1zM4 1h1v1h-1zM14 2h1v1h-1zM5 3h1v1h-1zM4 6h1v1h-1zM10 6h1v1h-1zM1 7h1v1h-1zM3 7h2v1h-2zM4 8h1v1h-1zM0 10h1v1h-1zM1 11h1v1h-1zM6 12h1v1h-1zM1 14h1v1h-1zM1 15h1v1h-1z"/>
<path fill="#abdda4" d="M1 0h1v1h-1zM5 2h1v1h-1zM1 3h1v1h-1zM6 4h1v1h-1zM0 5h2v1h-2zM4 5h2v1h-2zM0 6h1v1h-1zM0 7h1v1h-1zM10 7h1v1h-1zM0 8h1v1h-1zM5 8h1v1h-1zM0 9h1v1h-1zM13 9h1v1h-1zM3 10h2v1h-2zM7 10h1v1h-1zM1 13h1v1h-1z"/>
<path fill="#e6f598" d="M4 0h1v1h-1zM7 1h1v1h-1zM1 2h1v1h-1zM4 3h1v1h-1zM13 5h1v1h-1zM1 6h1v1h-1zM1 8h1v1h-1zM3 9h1v1h-1z"/>
<path fill="#fbf8b0" d="M3 2h2v1h-2zM9 2h1v1h-1zM0 3h1v1h-1zM0 4h1v1h-1zM8 4h1v1h-1zM3 5h1v1h-1zM3 6h1v1h-1zM5 6h1v1h-1zM7 7h1v1h-1zM3 8h1v1h-1zM14 8h1v1h-1zM9 10h1v1h-1zM3 11h1v1h-1zM9 11h1v1h-1zM2 13h1v1h-1zM13 14h1v1h-1z"/>
<path fill="#fee08b" d="M6 1h1v1h-1zM7 11h1v1h-1zM7 13h1v1h-1zM7 14h1v1h-1zM7 15h1v1h-1z"/>
<path fill="#fdae61" d="M6 0h2v1h-2zM7 2h1v1h-1zM3 3h1v1h-1zM7 3h1v1h-1zM9 3h1v1h-1zM7 5h1v1h-1zM7 6h1v1h-1zM7 8h1v1h-1zM7 9h1v1h-1zM8 12h1v1h-1zM12 13h1v1h-1zM3 14h1v1h-1zM12 15h1v1h-1z"/>
<path fill="#f46d43" d="M6 2h1v1h-1zM9 5h1v1h-1zM6 6h1v1h-1zM6 8h1v1h-1zM6 9h1v1h-1zM6 10h1v1h-1zM8 10h1v1h-1zM6 11h1v1h-1zM7 12h1v1h-1zM11 13h1v1h-1zM6 14h1v1h-1zM8 14h1v1h-1z"/>
<path fill="#d53e4f" d="M8 1h1v1h-1zM6 3h1v1h-1zM6 5h1v1h-1zM6 7h1v1h-1zM9 7h1v1h-1zM9 8h1v1h-1zM1 9h1v1h-1zM6 13h1v1h-1zM8 13h1v1h-1zM6 15h1v1h-1zM8 15h1v1h-1zM11 15h1v1h-1z"/>
<path fill="#9e0142" d="M0 0h1v1h-1zM8 0h1v1h-1zM0 1h1v1h-1zM0 2h1v1h-1zM8 2h1v1h-1zM8 3h1v1h-1zM8 5h1v1h-1zM8 6h2v1h-2zM8 7h1v1h-1zM8 8h1v1h-1zM8 9h1v1h-1zM8 11h1v1h-1z"/>
</g>
<path d="M0 0V100.85M6.29 0V100.85M12.58 0V100.85M18.87 0V100.85M25.16 0V100.85M31.45 0V100.85M37.74 0V100.85M44.03 0V100.85M50.33 0V100.85M56.62 0V100.85M62.91 0V100.85M69.2 0V100.85M75.49 0V100.85M81.78 0V100.85M88.07 0V100.85M94.36 0V100.85M100.65 0V100.85M0 0H100.65M0 6.3H100.65M0 12.61H100.65M0 18.91H100.65M0 25.21H100.65M0 31.52H100.65M0 37.82H100.65M0 44.12H100.65M0 50.43H100.65M0 56.73H100.65M0 63.03H100.65M0 69.33H100.65M0 75.64H100.65M0 81.94H100.65M0 88.24H100.65M0 94.55H100.65M0 100.85H100.65" stroke="#000" stroke-width="0.31" fill="none" stroke-opacity="0.8"/>
<rect x="0" y="0" width="100.65" height="100.85" fill="none" stroke="#555" stroke-width="0.5"/>
<path d="M3.15 0v1.3M3.15 100.85v-1.3M9.44 0v1.3M9.44 100.85v-1.3M15.73 0v1.3M15.73 100.85v-1.3M22.02 0v1.3M22.02 100.85v-1.3M28.31 0v1.3M28.31 100.85v-1.3M34.6 0v1.3M34.6 100.85v-1.3M40.89 0v1.3M40.89 100.85v-1.3M47.18 0v1.3M47.18 100.85v-1.3M53.47 0v1.3M53.47 100.85v-1.3M59.76 0v1.3M59.76 100.85v-1.3M66.05 0v1.3M66.05 100.85v-1.3M72.34 0v1.3M72.34 100.85v-1.3M78.63 0v1.3M78.63 100.85v-1.3M84.92 0v1.3M84.92 100.85v-1.3M91.21 0v1.3M91.21 100.85v-1.3M97.5 0v1.3M97.5 100.85v-1.3M0 3.15h1.3M100.65 3.15h-1.3M0 9.45h1.3M100.65 9.45h-1.3M0 15.76h1.3M100.65 15.76h-1.3M0 22.06h1.3M100.65 22.06h-1.3M0 28.36h1.3M100.65 28.36h-1.3M0 34.67h1.3M100.65 34.67h-1.3M0 40.97h1.3M100.65 40.97h-1.3M0 47.27h1.3M100.65 47.27h-1.3M0 53.58h1.3M100.65 53.58h-1.3M0 59.88h1.3M100.65 59.88h-1.3M0 66.18h1.3M100.65 66.18h-1.3M0 72.49h1.3M100.65 72.49h-1.3M0 78.79h1.3M100.65 78.79h-1.3M0 85.09h1.3M100.65 85.09h-1.3M0 91.4h1.3M100.65 91.4h-1.3M0 97.7h1.3M100.65 97.7h-1.3" stroke="#333" stroke-width="0.45" fill="none"/>
</g>
<path d="M596.39 294.6V299.15L492.25 306.15V309.65M627.79 294.6V299.15L546.25 306.15V309.65M703.15 294.6V299.15L671.25 306.15V309.65M709.43 294.6V299.15L685 306.15V309.65M728.27 294.6V299.15L716.25 306.15V309.65M761.2 294.6V298.75C761.2 302.75 757.45 304.75 757.45 309.65" stroke="#6a6a6a" stroke-width="1.4" fill="none"/>
<text transform="translate(496.25 311.75) rotate(-90)" text-anchor="end" font-size="11.8" fill="#111" stroke="#111" stroke-width="0.12">G−CSF→pSTAT3</text>
<text transform="translate(507.15 311.75) rotate(-90)" text-anchor="end" font-size="5.95" fill="#222" stroke="#222" stroke-width="0.22">IL−3→pSTAT3</text>
<text transform="translate(516.75 311.75) rotate(-90)" text-anchor="end" font-size="5.95" fill="#222" stroke="#222" stroke-width="0.22">IL−3→pSTAT5</text>
<text transform="translate(525.5 311.75) rotate(-90)" text-anchor="end" font-size="5.95" fill="#222" stroke="#222" stroke-width="0.22">PVO4→pZAP70/SYK</text>
<text transform="translate(535.25 311.75) rotate(-90)" text-anchor="end" font-size="5.95" fill="#222" stroke="#222" stroke-width="0.22">PVO4→pP38</text>
<text transform="translate(550.25 311.75) rotate(-90)" text-anchor="end" font-size="11.8" fill="#111" stroke="#111" stroke-width="0.12">G−CSF→pSTAT5</text>
<text transform="translate(559.65 311.75) rotate(-90)" text-anchor="end" font-size="5.95" fill="#222" stroke="#222" stroke-width="0.22">PVO4→pERK1/2</text>
<text transform="translate(569.85 311.75) rotate(-90)" text-anchor="end" font-size="5.95" fill="#222" stroke="#222" stroke-width="0.22">GM−CSF→pSTAT5</text>
<text transform="translate(580 311.75) rotate(-90)" text-anchor="end" font-size="5.95" fill="#222" stroke="#222" stroke-width="0.22">PVO4→pSTAT5</text>
<text transform="translate(590 311.75) rotate(-90)" text-anchor="end" font-size="5.95" fill="#222" stroke="#222" stroke-width="0.22">PVO4→pPLCg2</text>
<text transform="translate(600.25 311.75) rotate(-90)" text-anchor="end" font-size="5.95" fill="#222" stroke="#222" stroke-width="0.22">PVO4→pSTAT3</text>
<text transform="translate(610.5 311.75) rotate(-90)" text-anchor="end" font-size="5.95" fill="#222" stroke="#222" stroke-width="0.22">PVO4→pS6</text>
<text transform="translate(620.5 311.75) rotate(-90)" text-anchor="end" font-size="5.95" fill="#222" stroke="#222" stroke-width="0.22">GM−CSF→pSTAT3</text>
<text transform="translate(630.85 311.75) rotate(-90)" text-anchor="end" font-size="5.95" fill="#222" stroke="#222" stroke-width="0.22">GM−CSF→pCREB</text>
<text transform="translate(641.35 311.75) rotate(-90)" text-anchor="end" font-size="5.95" fill="#222" stroke="#222" stroke-width="0.22">PMA/iono.→pP38</text>
<text transform="translate(651.5 311.75) rotate(-90)" text-anchor="end" font-size="5.95" fill="#222" stroke="#222" stroke-width="0.22">PVO4→pAKT</text>
<text transform="translate(661.75 311.75) rotate(-90)" text-anchor="end" font-size="5.95" fill="#222" stroke="#222" stroke-width="0.22">GM−CSF→pS6</text>
<text transform="translate(675.25 311.75) rotate(-90)" text-anchor="end" font-size="11.8" fill="#111" stroke="#111" stroke-width="0.12">FLT3L→pAKT</text>
<text transform="translate(689 311.75) rotate(-90)" text-anchor="end" font-size="11.8" fill="#111" stroke="#111" stroke-width="0.12">SCF→pAKT</text>
<text transform="translate(698 311.75) rotate(-90)" text-anchor="end" font-size="5.95" fill="#222" stroke="#222" stroke-width="0.22">PVO4→pCBL</text>
<text transform="translate(706.25 311.75) rotate(-90)" text-anchor="end" font-size="5.95" fill="#222" stroke="#222" stroke-width="0.22">IL−3→pS6</text>
<text transform="translate(720.25 311.75) rotate(-90)" text-anchor="end" font-size="11.8" fill="#111" stroke="#111" stroke-width="0.12">IL−10→pSTAT3</text>
<text transform="translate(729.25 311.75) rotate(-90)" text-anchor="end" font-size="5.95" fill="#222" stroke="#222" stroke-width="0.22">GM−CSF→pERK1/2</text>
<text transform="translate(736.75 311.75) rotate(-90)" text-anchor="end" font-size="5.95" fill="#222" stroke="#222" stroke-width="0.22">PVO4→pCREB</text>
<text transform="translate(744.65 311.75) rotate(-90)" text-anchor="end" font-size="5.95" fill="#222" stroke="#222" stroke-width="0.22">G−CSF→pCREB</text>
<text transform="translate(761.35 311.75) rotate(-90)" text-anchor="end" font-size="11.8" fill="#111" stroke="#111" stroke-width="0.12">CD34</text>
<text transform="translate(767.7 311.75) rotate(-90)" text-anchor="end" font-size="5.95" fill="#222" stroke="#222" stroke-width="0.22">CD38</text>
<text transform="translate(774.44 311.75) rotate(-90)" text-anchor="end" font-size="5.95" fill="#222" stroke="#222" stroke-width="0.22">CD117</text>
<text transform="translate(781.18 311.75) rotate(-90)" text-anchor="end" font-size="5.95" fill="#222" stroke="#222" stroke-width="0.22">HLA−DR</text>
<text transform="translate(787.92 311.75) rotate(-90)" text-anchor="end" font-size="5.95" fill="#222" stroke="#222" stroke-width="0.22">CD123</text>
<text transform="translate(794.66 311.75) rotate(-90)" text-anchor="end" font-size="5.95" fill="#222" stroke="#222" stroke-width="0.22">CD33</text>
<text transform="translate(801.4 311.75) rotate(-90)" text-anchor="end" font-size="5.95" fill="#222" stroke="#222" stroke-width="0.22">CD45</text>
<text transform="translate(808.14 311.75) rotate(-90)" text-anchor="end" font-size="5.95" fill="#222" stroke="#222" stroke-width="0.22">CD47</text>
<text transform="translate(814.88 311.75) rotate(-90)" text-anchor="end" font-size="5.95" fill="#222" stroke="#222" stroke-width="0.22">CD44</text>
<text transform="translate(821.62 311.75) rotate(-90)" text-anchor="end" font-size="5.95" fill="#222" stroke="#222" stroke-width="0.22">CD64</text>
<text transform="translate(828.36 311.75) rotate(-90)" text-anchor="end" font-size="5.95" fill="#222" stroke="#222" stroke-width="0.22">CD11b</text>
<text transform="translate(835.1 311.75) rotate(-90)" text-anchor="end" font-size="5.95" fill="#222" stroke="#222" stroke-width="0.22">CD7</text>
<text transform="translate(841.84 311.75) rotate(-90)" text-anchor="end" font-size="5.95" fill="#222" stroke="#222" stroke-width="0.22">CD3</text>
<text transform="translate(848.58 311.75) rotate(-90)" text-anchor="end" font-size="5.95" fill="#222" stroke="#222" stroke-width="0.22">CD19</text>
<text transform="translate(855.32 311.75) rotate(-90)" text-anchor="end" font-size="5.95" fill="#222" stroke="#222" stroke-width="0.22">CD15</text>
<text transform="translate(862.06 311.75) rotate(-90)" text-anchor="end" font-size="5.95" fill="#222" stroke="#222" stroke-width="0.22">CD41</text>
</g>
<g id="SJ04">
<text x="891.8" y="188.05" font-size="36" fill="#000" stroke="#000" stroke-width="0.25">SJ04</text>
<g transform="translate(887.7 193.75)">
<rect x="0" y="0" width="106.1" height="105" fill="#fff" stroke="#bdbdbd" stroke-width="0.65"/>
<path d="M8.84 0v1.2M8.84 105v-1.2M0 8.75h1.2M106.1 8.75h-1.2M17.68 0v1.2M17.68 105v-1.2M0 17.5h1.2M106.1 17.5h-1.2M26.52 0v1.2M26.52 105v-1.2M0 26.25h1.2M106.1 26.25h-1.2M35.37 0v1.2M35.37 105v-1.2M0 35h1.2M106.1 35h-1.2M44.21 0v1.2M44.21 105v-1.2M0 43.75h1.2M106.1 43.75h-1.2M53.05 0v1.2M53.05 105v-1.2M0 52.5h1.2M106.1 52.5h-1.2M61.89 0v1.2M61.89 105v-1.2M0 61.25h1.2M106.1 61.25h-1.2M70.73 0v1.2M70.73 105v-1.2M0 70h1.2M106.1 70h-1.2M79.58 0v1.2M79.58 105v-1.2M0 78.75h1.2M106.1 78.75h-1.2M88.42 0v1.2M88.42 105v-1.2M0 87.5h1.2M106.1 87.5h-1.2M97.26 0v1.2M97.26 105v-1.2M0 96.25h1.2M106.1 96.25h-1.2" stroke="#a8a8a8" stroke-width="0.55" fill="none"/>
<use href="#ct"/>
<g fill="#1db46b"><circle cx="46.1" cy="21.8" r="1.6"/><circle cx="50.9" cy="20.5" r="1.5"/><circle cx="53.4" cy="17.2" r="1.2"/><circle cx="56.7" cy="18.1" r="1.6"/><circle cx="51.9" cy="23.5" r="1"/><circle cx="47.4" cy="34.7" r="0.8"/></g>
<g fill="#a3005f"><circle cx="70.3" cy="50.1" r="0.9"/><circle cx="42" cy="54.7" r="0.8"/><circle cx="50.7" cy="70.9" r="0.5"/><circle cx="68.7" cy="73.1" r="1.8"/><circle cx="77.3" cy="68.8" r="1.8"/></g>
</g>
<path d="M1018.29 251.25V256.8M1049.69 251.25V256.8M1125.05 251.25V256.8M1131.33 251.25V256.8M1150.17 251.25V256.8M1183.25 251.25V256.8" stroke="#6a6a6a" stroke-width="1.4" fill="none"/>
<rect x="1002.7" y="208.65" width="10.3" height="42.6" fill="#1db46b"/>
<text transform="translate(1011.5 229.95) rotate(-90)" text-anchor="middle" font-size="10" fill="#fff">Primitive</text>
<g transform="translate(1015.15 208.65)">
<g transform="scale(6.2800 6.0857)">
<path fill="#fbfbfb" d="M1 0h2v1h-2zM12 0h3v1h-3zM16 0h1v1h-1zM20 0h1v1h-1zM22 0h1v1h-1zM1 1h2v1h-2zM7 1h1v1h-1zM12 1h3v1h-3zM16 1h1v1h-1zM20 1h1v1h-1zM22 1h1v1h-1zM1 2h1v1h-1zM12 2h3v1h-3zM16 2h1v1h-1zM20 2h1v1h-1zM22 2h1v1h-1zM1 3h1v1h-1zM12 3h3v1h-3zM16 3h1v1h-1zM20 3h1v1h-1zM22 3h1v1h-1zM1 4h2v1h-2zM12 4h1v1h-1zM14 4h1v1h-1zM16 4h1v1h-1zM20 4h3v1h-3zM1 5h1v1h-1zM12 5h3v1h-3zM16 5h1v1h-1zM20 5h1v1h-1zM22 5h1v1h-1zM1 6h1v1h-1zM12 6h1v1h-1zM14 6h1v1h-1zM16 6h1v1h-1zM20 6h1v1h-1zM22 6h1v1h-1z"/>
<path fill="#fddbc7" d="M6 0h2v1h-2zM11 0h1v1h-1zM15 0h1v1h-1zM21 0h1v1h-1zM23 0h1v1h-1zM6 1h1v1h-1zM8 1h1v1h-1zM11 1h1v1h-1zM15 1h1v1h-1zM21 1h1v1h-1zM23 1h1v1h-1zM2 2h1v1h-1zM6 2h2v1h-2zM11 2h1v1h-1zM15 2h1v1h-1zM11 3h1v1h-1zM15 3h1v1h-1zM23 3h1v1h-1zM7 4h1v1h-1zM11 4h1v1h-1zM13 4h1v1h-1zM15 4h1v1h-1zM17 4h1v1h-1zM2 5h1v1h-1zM7 5h1v1h-1zM11 5h1v1h-1zM2 6h1v1h-1zM7 6h1v1h-1zM11 6h1v1h-1zM13 6h1v1h-1zM15 6h1v1h-1z"/>
<path fill="#f4a582" d="M3 0h2v1h-2zM8 0h1v1h-1zM10 0h1v1h-1zM17 0h1v1h-1zM19 0h1v1h-1zM3 1h2v1h-2zM10 1h1v1h-1zM19 1h1v1h-1zM3 2h2v1h-2zM8 2h1v1h-1zM10 2h1v1h-1zM19 2h1v1h-1zM21 2h1v1h-1zM23 2h1v1h-1zM2 3h1v1h-1zM4 3h1v1h-1zM6 3h3v1h-3zM10 3h1v1h-1zM19 3h1v1h-1zM24 3h1v1h-1zM3 4h1v1h-1zM6 4h1v1h-1zM8 4h1v1h-1zM10 4h1v1h-1zM19 4h1v1h-1zM23 4h1v1h-1zM15 5h1v1h-1zM17 5h1v1h-1zM21 5h1v1h-1zM3 6h1v1h-1zM17 6h1v1h-1zM23 6h1v1h-1z"/>
<path fill="#d6604d" d="M9 0h1v1h-1zM9 1h1v1h-1zM17 1h1v1h-1zM9 2h1v1h-1zM17 2h1v1h-1zM0 3h1v1h-1zM9 3h1v1h-1zM21 3h1v1h-1zM4 4h1v1h-1zM9 4h1v1h-1zM3 5h1v1h-1zM23 5h1v1h-1zM8 6h2v1h-2zM19 6h1v1h-1z"/>
<path fill="#b2182b" d="M24 0h1v1h-1zM24 1h1v1h-1zM3 3h1v1h-1zM5 3h1v1h-1zM24 4h1v1h-1zM8 5h3v1h-3zM19 5h1v1h-1zM0 6h1v1h-1zM4 6h1v1h-1zM6 6h1v1h-1zM10 6h1v1h-1zM24 6h1v1h-1z"/>
<path fill="#67001f" d="M0 0h1v1h-1zM5 0h1v1h-1zM18 0h1v1h-1zM0 1h1v1h-1zM5 1h1v1h-1zM18 1h1v1h-1zM0 2h1v1h-1zM5 2h1v1h-1zM18 2h1v1h-1zM24 2h1v1h-1zM17 3h2v1h-2zM0 4h1v1h-1zM5 4h1v1h-1zM18 4h1v1h-1zM0 5h1v1h-1zM4 5h3v1h-3zM18 5h1v1h-1zM24 5h1v1h-1zM5 6h1v1h-1zM18 6h1v1h-1z"/>
<path fill="#d1e5f0" d="M21 6h1v1h-1z"/>
</g>
<path d="M0 0V42.6M6.28 0V42.6M12.56 0V42.6M18.84 0V42.6M25.12 0V42.6M31.4 0V42.6M37.68 0V42.6M43.96 0V42.6M50.24 0V42.6M56.52 0V42.6M62.8 0V42.6M69.08 0V42.6M75.36 0V42.6M81.64 0V42.6M87.92 0V42.6M94.2 0V42.6M100.48 0V42.6M106.76 0V42.6M113.04 0V42.6M119.32 0V42.6M125.6 0V42.6M131.88 0V42.6M138.16 0V42.6M144.44 0V42.6M150.72 0V42.6M157 0V42.6M0 0H157M0 6.09H157M0 12.17H157M0 18.26H157M0 24.34H157M0 30.43H157M0 36.51H157M0 42.6H157" stroke="#000" stroke-width="0.31" fill="none" stroke-opacity="0.8"/>
<rect x="0" y="0" width="157" height="42.6" fill="none" stroke="#555" stroke-width="0.5"/>
<path d="M3.14 0v1.3M3.14 42.6v-1.3M9.42 0v1.3M9.42 42.6v-1.3M15.7 0v1.3M15.7 42.6v-1.3M21.98 0v1.3M21.98 42.6v-1.3M28.26 0v1.3M28.26 42.6v-1.3M34.54 0v1.3M34.54 42.6v-1.3M40.82 0v1.3M40.82 42.6v-1.3M47.1 0v1.3M47.1 42.6v-1.3M53.38 0v1.3M53.38 42.6v-1.3M59.66 0v1.3M59.66 42.6v-1.3M65.94 0v1.3M65.94 42.6v-1.3M72.22 0v1.3M72.22 42.6v-1.3M78.5 0v1.3M78.5 42.6v-1.3M84.78 0v1.3M84.78 42.6v-1.3M91.06 0v1.3M91.06 42.6v-1.3M97.34 0v1.3M97.34 42.6v-1.3M103.62 0v1.3M103.62 42.6v-1.3M109.9 0v1.3M109.9 42.6v-1.3M116.18 0v1.3M116.18 42.6v-1.3M122.46 0v1.3M122.46 42.6v-1.3M128.74 0v1.3M128.74 42.6v-1.3M135.02 0v1.3M135.02 42.6v-1.3M141.3 0v1.3M141.3 42.6v-1.3M147.58 0v1.3M147.58 42.6v-1.3M153.86 0v1.3M153.86 42.6v-1.3M0 3.04h1.3M157 3.04h-1.3M0 9.13h1.3M157 9.13h-1.3M0 15.21h1.3M157 15.21h-1.3M0 21.3h1.3M157 21.3h-1.3M0 27.39h1.3M157 27.39h-1.3M0 33.47h1.3M157 33.47h-1.3M0 39.56h1.3M157 39.56h-1.3" stroke="#333" stroke-width="0.45" fill="none"/>
</g>
<g transform="translate(1180.1 208.65)">
<g transform="scale(6.2906 6.0857)">
<path fill="#5b51a3" d="M11 0h2v1h-2zM15 0h1v1h-1zM11 1h2v1h-2zM15 1h1v1h-1zM11 2h2v1h-2zM15 2h1v1h-1zM11 3h2v1h-2zM15 3h1v1h-1zM11 4h2v1h-2zM15 4h1v1h-1zM11 5h2v1h-2zM15 5h1v1h-1zM11 6h2v1h-2zM15 6h1v1h-1z"/>
<path fill="#4667ae" d="M9 0h2v1h-2zM13 0h1v1h-1zM9 1h2v1h-2zM13 1h1v1h-1zM9 2h2v1h-2zM13 2h1v1h-1zM10 3h1v1h-1zM13 3h1v1h-1zM2 4h1v1h-1zM4 4h2v1h-2zM9 4h2v1h-2zM13 4h2v1h-2zM9 5h2v1h-2zM5 6h1v1h-1zM9 6h2v1h-2zM13 6h1v1h-1z"/>
<path fill="#3387bc" d="M2 2h1v1h-1zM1 6h2v1h-2z"/>
<path fill="#4ba4b1" d="M5 0h1v1h-1zM14 0h1v1h-1zM14 1h1v1h-1zM1 2h1v1h-1zM2 5h1v1h-1zM5 5h1v1h-1zM14 5h1v1h-1zM4 6h1v1h-1z"/>
<path fill="#66c2a5" d="M1 0h1v1h-1zM4 0h1v1h-1zM1 1h1v1h-1zM4 1h2v1h-2zM5 2h1v1h-1zM14 2h1v1h-1zM1 5h1v1h-1zM4 5h1v1h-1z"/>
<path fill="#abdda4" d="M4 2h1v1h-1zM1 3h1v1h-1zM5 3h1v1h-1zM14 3h1v1h-1zM1 4h1v1h-1zM3 4h1v1h-1zM3 6h1v1h-1z"/>
<path fill="#e6f598" d="M3 0h1v1h-1zM6 0h1v1h-1zM6 1h1v1h-1zM9 3h1v1h-1zM6 4h1v1h-1zM3 5h1v1h-1zM6 5h1v1h-1zM13 5h1v1h-1zM6 6h2v1h-2z"/>
<path fill="#fbf8b0" d="M2 0h1v1h-1zM3 1h1v1h-1zM3 2h1v1h-1zM6 2h1v1h-1zM4 3h1v1h-1z"/>
<path fill="#fee08b" d="M3 3h1v1h-1zM6 3h2v1h-2z"/>
<path fill="#fdae61" d="M7 0h1v1h-1zM7 1h1v1h-1zM7 2h1v1h-1zM2 3h1v1h-1zM7 4h1v1h-1zM7 5h1v1h-1zM14 6h1v1h-1z"/>
<path fill="#f46d43" d="M0 3h1v1h-1z"/>
<path fill="#d53e4f" d="M0 4h1v1h-1zM8 4h1v1h-1zM8 6h1v1h-1z"/>
<path fill="#9e0142" d="M0 0h1v1h-1zM8 0h1v1h-1zM0 1h1v1h-1zM2 1h1v1h-1zM8 1h1v1h-1zM0 2h1v1h-1zM8 2h1v1h-1zM8 3h1v1h-1zM0 5h1v1h-1zM8 5h1v1h-1zM0 6h1v1h-1z"/>
</g>
<path d="M0 0V42.6M6.29 0V42.6M12.58 0V42.6M18.87 0V42.6M25.16 0V42.6M31.45 0V42.6M37.74 0V42.6M44.03 0V42.6M50.33 0V42.6M56.62 0V42.6M62.91 0V42.6M69.2 0V42.6M75.49 0V42.6M81.78 0V42.6M88.07 0V42.6M94.36 0V42.6M100.65 0V42.6M0 0H100.65M0 6.09H100.65M0 12.17H100.65M0 18.26H100.65M0 24.34H100.65M0 30.43H100.65M0 36.51H100.65M0 42.6H100.65" stroke="#000" stroke-width="0.31" fill="none" stroke-opacity="0.8"/>
<rect x="0" y="0" width="100.65" height="42.6" fill="none" stroke="#555" stroke-width="0.5"/>
<path d="M3.15 0v1.3M3.15 42.6v-1.3M9.44 0v1.3M9.44 42.6v-1.3M15.73 0v1.3M15.73 42.6v-1.3M22.02 0v1.3M22.02 42.6v-1.3M28.31 0v1.3M28.31 42.6v-1.3M34.6 0v1.3M34.6 42.6v-1.3M40.89 0v1.3M40.89 42.6v-1.3M47.18 0v1.3M47.18 42.6v-1.3M53.47 0v1.3M53.47 42.6v-1.3M59.76 0v1.3M59.76 42.6v-1.3M66.05 0v1.3M66.05 42.6v-1.3M72.34 0v1.3M72.34 42.6v-1.3M78.63 0v1.3M78.63 42.6v-1.3M84.92 0v1.3M84.92 42.6v-1.3M91.21 0v1.3M91.21 42.6v-1.3M97.5 0v1.3M97.5 42.6v-1.3M0 3.04h1.3M100.65 3.04h-1.3M0 9.13h1.3M100.65 9.13h-1.3M0 15.21h1.3M100.65 15.21h-1.3M0 21.3h1.3M100.65 21.3h-1.3M0 27.39h1.3M100.65 27.39h-1.3M0 33.47h1.3M100.65 33.47h-1.3M0 39.56h1.3M100.65 39.56h-1.3" stroke="#333" stroke-width="0.45" fill="none"/>
</g>
<rect x="1002.7" y="256.8" width="10.3" height="39" fill="#a3005f"/>
<text transform="translate(1011.5 276.3) rotate(-90)" text-anchor="middle" font-size="10" fill="#fff">Mature</text>
<g transform="translate(1015.15 256.8)">
<g transform="scale(6.2800 6.5000)">
<path fill="#fbfbfb" d="M1 0h1v1h-1zM12 0h1v1h-1zM20 0h1v1h-1zM22 0h2v1h-2zM0 1h8v1h-8zM12 1h3v1h-3zM16 1h3v1h-3zM20 1h1v1h-1zM22 1h3v1h-3zM1 2h1v1h-1zM11 2h1v1h-1zM14 2h1v1h-1zM0 3h2v1h-2zM6 3h1v1h-1zM11 3h8v1h-8zM20 3h1v1h-1zM22 3h1v1h-1zM0 4h8v1h-8zM12 4h9v1h-9zM22 4h2v1h-2zM0 5h3v1h-3zM4 5h4v1h-4zM11 5h8v1h-8zM20 5h1v1h-1zM22 5h1v1h-1z"/>
<path fill="#fddbc7" d="M11 0h1v1h-1zM13 0h4v1h-4zM24 0h1v1h-1zM8 1h1v1h-1zM10 1h2v1h-2zM12 2h2v1h-2zM15 2h2v1h-2zM20 2h1v1h-1zM22 2h2v1h-2zM2 3h4v1h-4zM7 3h4v1h-4zM19 3h1v1h-1zM21 3h1v1h-1zM24 3h1v1h-1zM8 4h1v1h-1zM10 4h2v1h-2zM24 4h1v1h-1zM3 5h1v1h-1zM8 5h3v1h-3zM19 5h1v1h-1zM24 5h1v1h-1z"/>
<path fill="#f4a582" d="M8 0h1v1h-1zM10 0h1v1h-1zM9 1h1v1h-1zM19 1h1v1h-1zM21 1h1v1h-1zM18 2h1v1h-1zM24 2h1v1h-1zM9 4h1v1h-1zM21 4h1v1h-1z"/>
<path fill="#d6604d" d="M0 0h1v1h-1zM2 0h1v1h-1zM4 0h1v1h-1zM6 0h1v1h-1zM17 0h3v1h-3zM21 0h1v1h-1zM8 2h1v1h-1zM17 2h1v1h-1zM21 5h1v1h-1z"/>
<path fill="#b2182b" d="M5 0h1v1h-1zM7 0h1v1h-1zM9 0h1v1h-1zM0 2h1v1h-1zM21 2h1v1h-1z"/>
<path fill="#67001f" d="M3 0h1v1h-1zM2 2h6v1h-6zM9 2h2v1h-2zM19 2h1v1h-1z"/>
<path fill="#d1e5f0" d="M15 1h1v1h-1z"/>
<path fill="#92c5de" d="M23 3h1v1h-1zM23 5h1v1h-1z"/>
</g>
<path d="M0 0V39M6.28 0V39M12.56 0V39M18.84 0V39M25.12 0V39M31.4 0V39M37.68 0V39M43.96 0V39M50.24 0V39M56.52 0V39M62.8 0V39M69.08 0V39M75.36 0V39M81.64 0V39M87.92 0V39M94.2 0V39M100.48 0V39M106.76 0V39M113.04 0V39M119.32 0V39M125.6 0V39M131.88 0V39M138.16 0V39M144.44 0V39M150.72 0V39M157 0V39M0 0H157M0 6.5H157M0 13H157M0 19.5H157M0 26H157M0 32.5H157M0 39H157" stroke="#000" stroke-width="0.31" fill="none" stroke-opacity="0.8"/>
<rect x="0" y="0" width="157" height="39" fill="none" stroke="#555" stroke-width="0.5"/>
<path d="M3.14 0v1.3M3.14 39v-1.3M9.42 0v1.3M9.42 39v-1.3M15.7 0v1.3M15.7 39v-1.3M21.98 0v1.3M21.98 39v-1.3M28.26 0v1.3M28.26 39v-1.3M34.54 0v1.3M34.54 39v-1.3M40.82 0v1.3M40.82 39v-1.3M47.1 0v1.3M47.1 39v-1.3M53.38 0v1.3M53.38 39v-1.3M59.66 0v1.3M59.66 39v-1.3M65.94 0v1.3M65.94 39v-1.3M72.22 0v1.3M72.22 39v-1.3M78.5 0v1.3M78.5 39v-1.3M84.78 0v1.3M84.78 39v-1.3M91.06 0v1.3M91.06 39v-1.3M97.34 0v1.3M97.34 39v-1.3M103.62 0v1.3M103.62 39v-1.3M109.9 0v1.3M109.9 39v-1.3M116.18 0v1.3M116.18 39v-1.3M122.46 0v1.3M122.46 39v-1.3M128.74 0v1.3M128.74 39v-1.3M135.02 0v1.3M135.02 39v-1.3M141.3 0v1.3M141.3 39v-1.3M147.58 0v1.3M147.58 39v-1.3M153.86 0v1.3M153.86 39v-1.3M0 3.25h1.3M157 3.25h-1.3M0 9.75h1.3M157 9.75h-1.3M0 16.25h1.3M157 16.25h-1.3M0 22.75h1.3M157 22.75h-1.3M0 29.25h1.3M157 29.25h-1.3M0 35.75h1.3M157 35.75h-1.3" stroke="#333" stroke-width="0.45" fill="none"/>
</g>
<g transform="translate(1180.1 256.8)">
<g transform="scale(6.2906 6.5000)">
<path fill="#5b51a3" d="M11 0h2v1h-2zM15 0h1v1h-1zM3 1h1v1h-1zM15 1h1v1h-1zM11 2h2v1h-2zM15 2h1v1h-1zM11 3h2v1h-2zM15 3h1v1h-1zM3 4h1v1h-1zM15 4h1v1h-1zM3 5h1v1h-1zM12 5h1v1h-1zM15 5h1v1h-1z"/>
<path fill="#4667ae" d="M2 0h1v1h-1zM10 0h1v1h-1zM13 0h1v1h-1zM4 1h2v1h-2zM9 1h2v1h-2zM13 1h2v1h-2zM2 2h1v1h-1zM4 2h2v1h-2zM13 2h2v1h-2zM4 3h2v1h-2zM9 3h2v1h-2zM14 3h1v1h-1zM2 4h1v1h-1zM4 4h2v1h-2zM9 4h2v1h-2zM13 4h2v1h-2zM2 5h1v1h-1zM4 5h2v1h-2zM9 5h2v1h-2zM13 5h2v1h-2z"/>
<path fill="#3387bc" d="M0 1h1v1h-1zM0 2h2v1h-2zM3 2h1v1h-1zM10 2h1v1h-1zM0 3h3v1h-3zM0 4h2v1h-2zM0 5h1v1h-1z"/>
<path fill="#4ba4b1" d="M1 1h1v1h-1zM7 2h1v1h-1z"/>
<path fill="#abdda4" d="M1 0h1v1h-1zM5 0h1v1h-1zM13 3h1v1h-1zM1 5h1v1h-1z"/>
<path fill="#e6f598" d="M0 0h1v1h-1zM4 0h1v1h-1zM7 1h1v1h-1zM9 2h1v1h-1zM7 4h1v1h-1zM7 5h1v1h-1z"/>
<path fill="#fbf8b0" d="M2 1h1v1h-1zM11 1h1v1h-1zM7 3h1v1h-1z"/>
<path fill="#fee08b" d="M3 0h1v1h-1zM6 0h2v1h-2zM9 0h1v1h-1zM14 0h1v1h-1z"/>
<path fill="#fdae61" d="M6 2h1v1h-1zM3 3h1v1h-1zM11 4h1v1h-1z"/>
<path fill="#f46d43" d="M12 1h1v1h-1zM12 4h1v1h-1zM8 5h1v1h-1zM11 5h1v1h-1z"/>
<path fill="#d53e4f" d="M6 1h1v1h-1zM6 3h1v1h-1zM6 4h1v1h-1zM6 5h1v1h-1z"/>
<path fill="#9e0142" d="M8 0h1v1h-1zM8 1h1v1h-1zM8 2h1v1h-1zM8 3h1v1h-1zM8 4h1v1h-1z"/>
</g>
<path d="M0 0V39M6.29 0V39M12.58 0V39M18.87 0V39M25.16 0V39M31.45 0V39M37.74 0V39M44.03 0V39M50.33 0V39M56.62 0V39M62.91 0V39M69.2 0V39M75.49 0V39M81.78 0V39M88.07 0V39M94.36 0V39M100.65 0V39M0 0H100.65M0 6.5H100.65M0 13H100.65M0 19.5H100.65M0 26H100.65M0 32.5H100.65M0 39H100.65" stroke="#000" stroke-width="0.31" fill="none" stroke-opacity="0.8"/>
<rect x="0" y="0" width="100.65" height="39" fill="none" stroke="#555" stroke-width="0.5"/>
<path d="M3.15 0v1.3M3.15 39v-1.3M9.44 0v1.3M9.44 39v-1.3M15.73 0v1.3M15.73 39v-1.3M22.02 0v1.3M22.02 39v-1.3M28.31 0v1.3M28.31 39v-1.3M34.6 0v1.3M34.6 39v-1.3M40.89 0v1.3M40.89 39v-1.3M47.18 0v1.3M47.18 39v-1.3M53.47 0v1.3M53.47 39v-1.3M59.76 0v1.3M59.76 39v-1.3M66.05 0v1.3M66.05 39v-1.3M72.34 0v1.3M72.34 39v-1.3M78.63 0v1.3M78.63 39v-1.3M84.92 0v1.3M84.92 39v-1.3M91.21 0v1.3M91.21 39v-1.3M97.5 0v1.3M97.5 39v-1.3M0 3.25h1.3M100.65 3.25h-1.3M0 9.75h1.3M100.65 9.75h-1.3M0 16.25h1.3M100.65 16.25h-1.3M0 22.75h1.3M100.65 22.75h-1.3M0 29.25h1.3M100.65 29.25h-1.3M0 35.75h1.3M100.65 35.75h-1.3" stroke="#333" stroke-width="0.45" fill="none"/>
</g>
<path d="M1018.29 295.8V300.65L914.15 307.65V311.15M1049.69 295.8V300.65L968.15 307.65V311.15M1125.05 295.8V300.65L1093.15 307.65V311.15M1131.33 295.8V300.65L1106.9 307.65V311.15M1150.17 295.8V300.65L1138.15 307.65V311.15M1183.25 295.8V300.25C1183.25 304.25 1179.5 306.25 1179.5 311.15" stroke="#6a6a6a" stroke-width="1.4" fill="none"/>
<text transform="translate(918.15 313.25) rotate(-90)" text-anchor="end" font-size="11.8" fill="#111" stroke="#111" stroke-width="0.12">G−CSF→pSTAT3</text>
<text transform="translate(929.05 313.25) rotate(-90)" text-anchor="end" font-size="5.95" fill="#222" stroke="#222" stroke-width="0.22">IL−3→pSTAT3</text>
<text transform="translate(938.65 313.25) rotate(-90)" text-anchor="end" font-size="5.95" fill="#222" stroke="#222" stroke-width="0.22">IL−3→pSTAT5</text>
<text transform="translate(947.4 313.25) rotate(-90)" text-anchor="end" font-size="5.95" fill="#222" stroke="#222" stroke-width="0.22">PVO4→pZAP70/SYK</text>
<text transform="translate(957.15 313.25) rotate(-90)" text-anchor="end" font-size="5.95" fill="#222" stroke="#222" stroke-width="0.22">PVO4→pP38</text>
<text transform="translate(972.15 313.25) rotate(-90)" text-anchor="end" font-size="11.8" fill="#111" stroke="#111" stroke-width="0.12">G−CSF→pSTAT5</text>
<text transform="translate(981.55 313.25) rotate(-90)" text-anchor="end" font-size="5.95" fill="#222" stroke="#222" stroke-width="0.22">PVO4→pERK1/2</text>
<text transform="translate(991.75 313.25) rotate(-90)" text-anchor="end" font-size="5.95" fill="#222" stroke="#222" stroke-width="0.22">GM−CSF→pSTAT5</text>
<text transform="translate(1001.9 313.25) rotate(-90)" text-anchor="end" font-size="5.95" fill="#222" stroke="#222" stroke-width="0.22">PVO4→pSTAT5</text>
<text transform="translate(1011.9 313.25) rotate(-90)" text-anchor="end" font-size="5.95" fill="#222" stroke="#222" stroke-width="0.22">PVO4→pPLCg2</text>
<text transform="translate(1022.15 313.25) rotate(-90)" text-anchor="end" font-size="5.95" fill="#222" stroke="#222" stroke-width="0.22">PVO4→pSTAT3</text>
<text transform="translate(1032.4 313.25) rotate(-90)" text-anchor="end" font-size="5.95" fill="#222" stroke="#222" stroke-width="0.22">PVO4→pS6</text>
<text transform="translate(1042.4 313.25) rotate(-90)" text-anchor="end" font-size="5.95" fill="#222" stroke="#222" stroke-width="0.22">GM−CSF→pSTAT3</text>
<text transform="translate(1052.75 313.25) rotate(-90)" text-anchor="end" font-size="5.95" fill="#222" stroke="#222" stroke-width="0.22">GM−CSF→pCREB</text>
<text transform="translate(1063.25 313.25) rotate(-90)" text-anchor="end" font-size="5.95" fill="#222" stroke="#222" stroke-width="0.22">PMA/iono.→pP38</text>
<text transform="translate(1073.4 313.25) rotate(-90)" text-anchor="end" font-size="5.95" fill="#222" stroke="#222" stroke-width="0.22">PVO4→pAKT</text>
<text transform="translate(1083.65 313.25) rotate(-90)" text-anchor="end" font-size="5.95" fill="#222" stroke="#222" stroke-width="0.22">GM−CSF→pS6</text>
<text transform="translate(1097.15 313.25) rotate(-90)" text-anchor="end" font-size="11.8" fill="#111" stroke="#111" stroke-width="0.12">FLT3L→pAKT</text>
<text transform="translate(1110.9 313.25) rotate(-90)" text-anchor="end" font-size="11.8" fill="#111" stroke="#111" stroke-width="0.12">SCF→pAKT</text>
<text transform="translate(1119.9 313.25) rotate(-90)" text-anchor="end" font-size="5.95" fill="#222" stroke="#222" stroke-width="0.22">PVO4→pCBL</text>
<text transform="translate(1128.15 313.25) rotate(-90)" text-anchor="end" font-size="5.95" fill="#222" stroke="#222" stroke-width="0.22">IL−3→pS6</text>
<text transform="translate(1142.15 313.25) rotate(-90)" text-anchor="end" font-size="11.8" fill="#111" stroke="#111" stroke-width="0.12">IL−10→pSTAT3</text>
<text transform="translate(1151.15 313.25) rotate(-90)" text-anchor="end" font-size="5.95" fill="#222" stroke="#222" stroke-width="0.22">GM−CSF→pERK1/2</text>
<text transform="translate(1158.65 313.25) rotate(-90)" text-anchor="end" font-size="5.95" fill="#222" stroke="#222" stroke-width="0.22">PVO4→pCREB</text>
<text transform="translate(1166.55 313.25) rotate(-90)" text-anchor="end" font-size="5.95" fill="#222" stroke="#222" stroke-width="0.22">G−CSF→pCREB</text>
<text transform="translate(1183.4 313.25) rotate(-90)" text-anchor="end" font-size="11.8" fill="#111" stroke="#111" stroke-width="0.12">CD34</text>
<text transform="translate(1189.75 313.25) rotate(-90)" text-anchor="end" font-size="5.95" fill="#222" stroke="#222" stroke-width="0.22">CD38</text>
<text transform="translate(1196.49 313.25) rotate(-90)" text-anchor="end" font-size="5.95" fill="#222" stroke="#222" stroke-width="0.22">CD117</text>
<text transform="translate(1203.23 313.25) rotate(-90)" text-anchor="end" font-size="5.95" fill="#222" stroke="#222" stroke-width="0.22">HLA−DR</text>
<text transform="translate(1209.97 313.25) rotate(-90)" text-anchor="end" font-size="5.95" fill="#222" stroke="#222" stroke-width="0.22">CD123</text>
<text transform="translate(1216.71 313.25) rotate(-90)" text-anchor="end" font-size="5.95" fill="#222" stroke="#222" stroke-width="0.22">CD33</text>
<text transform="translate(1223.45 313.25) rotate(-90)" text-anchor="end" font-size="5.95" fill="#222" stroke="#222" stroke-width="0.22">CD45</text>
<text transform="translate(1230.19 313.25) rotate(-90)" text-anchor="end" font-size="5.95" fill="#222" stroke="#222" stroke-width="0.22">CD47</text>
<text transform="translate(1236.93 313.25) rotate(-90)" text-anchor="end" font-size="5.95" fill="#222" stroke="#222" stroke-width="0.22">CD44</text>
<text transform="translate(1243.67 313.25) rotate(-90)" text-anchor="end" font-size="5.95" fill="#222" stroke="#222" stroke-width="0.22">CD64</text>
<text transform="translate(1250.41 313.25) rotate(-90)" text-anchor="end" font-size="5.95" fill="#222" stroke="#222" stroke-width="0.22">CD11b</text>
<text transform="translate(1257.15 313.25) rotate(-90)" text-anchor="end" font-size="5.95" fill="#222" stroke="#222" stroke-width="0.22">CD7</text>
<text transform="translate(1263.89 313.25) rotate(-90)" text-anchor="end" font-size="5.95" fill="#222" stroke="#222" stroke-width="0.22">CD3</text>
<text transform="translate(1270.63 313.25) rotate(-90)" text-anchor="end" font-size="5.95" fill="#222" stroke="#222" stroke-width="0.22">CD19</text>
<text transform="translate(1277.37 313.25) rotate(-90)" text-anchor="end" font-size="5.95" fill="#222" stroke="#222" stroke-width="0.22">CD15</text>
<text transform="translate(1284.11 313.25) rotate(-90)" text-anchor="end" font-size="5.95" fill="#222" stroke="#222" stroke-width="0.22">CD41</text>
</g>
<g id="SJ06">
<text x="52.2" y="455.8" font-size="36" fill="#000" stroke="#000" stroke-width="0.25">SJ06</text>
<g transform="translate(48.1 461.5)">
<rect x="0" y="0" width="106.1" height="105.2" fill="#fff" stroke="#bdbdbd" stroke-width="0.65"/>
<path d="M8.84 0v1.2M8.84 105.2v-1.2M0 8.77h1.2M106.1 8.77h-1.2M17.68 0v1.2M17.68 105.2v-1.2M0 17.53h1.2M106.1 17.53h-1.2M26.52 0v1.2M26.52 105.2v-1.2M0 26.3h1.2M106.1 26.3h-1.2M35.37 0v1.2M35.37 105.2v-1.2M0 35.07h1.2M106.1 35.07h-1.2M44.21 0v1.2M44.21 105.2v-1.2M0 43.83h1.2M106.1 43.83h-1.2M53.05 0v1.2M53.05 105.2v-1.2M0 52.6h1.2M106.1 52.6h-1.2M61.89 0v1.2M61.89 105.2v-1.2M0 61.37h1.2M106.1 61.37h-1.2M70.73 0v1.2M70.73 105.2v-1.2M0 70.13h1.2M106.1 70.13h-1.2M79.58 0v1.2M79.58 105.2v-1.2M0 78.9h1.2M106.1 78.9h-1.2M88.42 0v1.2M88.42 105.2v-1.2M0 87.67h1.2M106.1 87.67h-1.2M97.26 0v1.2M97.26 105.2v-1.2M0 96.43h1.2M106.1 96.43h-1.2" stroke="#a8a8a8" stroke-width="0.55" fill="none"/>
<use href="#ct"/>
<g fill="#1db46b"><circle cx="54.6" cy="23.3" r="0.5"/></g>
<g fill="#a3005f"><circle cx="67.8" cy="63.6" r="1.5"/><circle cx="72.2" cy="63.4" r="1.4"/><circle cx="75" cy="64" r="1.6"/><circle cx="75.9" cy="66.4" r="1.8"/><circle cx="65.3" cy="68.3" r="1.6"/><circle cx="71.3" cy="72.2" r="1.8"/><circle cx="59.2" cy="27" r="0.6"/></g>
</g>
<path d="M178.64 501.25V507M210.04 501.25V507M285.4 501.25V507M291.68 501.25V507M310.52 501.25V507M343.65 501.25V507" stroke="#6a6a6a" stroke-width="1.4" fill="none"/>
<rect x="163.1" y="495" width="10.3" height="6.25" fill="#1db46b"/>
<path d="M168.1 495V485L175.1 478.1" stroke="#333" stroke-width="0.8" fill="none"/>
<text transform="translate(180.3 479.3) rotate(-42)" font-size="10.3" fill="#111">Primitive</text>
<g transform="translate(175.5 495)">
<g transform="scale(6.2800 6.2500)">
<path fill="#fbfbfb" d="M12 0h1v1h-1zM14 0h1v1h-1z"/>
<path fill="#fddbc7" d="M3 0h1v1h-1zM6 0h1v1h-1zM16 0h2v1h-2zM19 0h1v1h-1zM21 0h2v1h-2zM24 0h1v1h-1z"/>
<path fill="#f4a582" d="M0 0h1v1h-1zM4 0h2v1h-2zM8 0h3v1h-3zM13 0h1v1h-1zM23 0h1v1h-1z"/>
<path fill="#d6604d" d="M2 0h1v1h-1zM7 0h1v1h-1zM11 0h1v1h-1zM15 0h1v1h-1zM20 0h1v1h-1z"/>
<path fill="#67001f" d="M18 0h1v1h-1z"/>
<path fill="#d1e5f0" d="M1 0h1v1h-1z"/>
</g>
<path d="M0 0V6.25M6.28 0V6.25M12.56 0V6.25M18.84 0V6.25M25.12 0V6.25M31.4 0V6.25M37.68 0V6.25M43.96 0V6.25M50.24 0V6.25M56.52 0V6.25M62.8 0V6.25M69.08 0V6.25M75.36 0V6.25M81.64 0V6.25M87.92 0V6.25M94.2 0V6.25M100.48 0V6.25M106.76 0V6.25M113.04 0V6.25M119.32 0V6.25M125.6 0V6.25M131.88 0V6.25M138.16 0V6.25M144.44 0V6.25M150.72 0V6.25M157 0V6.25M0 0H157M0 6.25H157" stroke="#000" stroke-width="0.31" fill="none" stroke-opacity="0.8"/>
<rect x="0" y="0" width="157" height="6.25" fill="none" stroke="#555" stroke-width="0.5"/>
<path d="M3.14 0v1.3M3.14 6.25v-1.3M9.42 0v1.3M9.42 6.25v-1.3M15.7 0v1.3M15.7 6.25v-1.3M21.98 0v1.3M21.98 6.25v-1.3M28.26 0v1.3M28.26 6.25v-1.3M34.54 0v1.3M34.54 6.25v-1.3M40.82 0v1.3M40.82 6.25v-1.3M47.1 0v1.3M47.1 6.25v-1.3M53.38 0v1.3M53.38 6.25v-1.3M59.66 0v1.3M59.66 6.25v-1.3M65.94 0v1.3M65.94 6.25v-1.3M72.22 0v1.3M72.22 6.25v-1.3M78.5 0v1.3M78.5 6.25v-1.3M84.78 0v1.3M84.78 6.25v-1.3M91.06 0v1.3M91.06 6.25v-1.3M97.34 0v1.3M97.34 6.25v-1.3M103.62 0v1.3M103.62 6.25v-1.3M109.9 0v1.3M109.9 6.25v-1.3M116.18 0v1.3M116.18 6.25v-1.3M122.46 0v1.3M122.46 6.25v-1.3M128.74 0v1.3M128.74 6.25v-1.3M135.02 0v1.3M135.02 6.25v-1.3M141.3 0v1.3M141.3 6.25v-1.3M147.58 0v1.3M147.58 6.25v-1.3M153.86 0v1.3M153.86 6.25v-1.3M0 3.12h1.3M157 3.12h-1.3" stroke="#333" stroke-width="0.45" fill="none"/>
</g>
<g transform="translate(340.5 495)">
<g transform="scale(6.2906 6.2500)">
<path fill="#5b51a3" d="M11 0h2v1h-2zM15 0h1v1h-1z"/>
<path fill="#4667ae" d="M4 0h2v1h-2zM9 0h2v1h-2zM13 0h1v1h-1z"/>
<path fill="#3387bc" d="M14 0h1v1h-1z"/>
<path fill="#66c2a5" d="M3 0h1v1h-1z"/>
<path fill="#abdda4" d="M1 0h2v1h-2z"/>
<path fill="#e6f598" d="M6 0h1v1h-1z"/>
<path fill="#fbf8b0" d="M7 0h1v1h-1z"/>
<path fill="#f46d43" d="M0 0h1v1h-1zM8 0h1v1h-1z"/>
</g>
<path d="M0 0V6.25M6.29 0V6.25M12.58 0V6.25M18.87 0V6.25M25.16 0V6.25M31.45 0V6.25M37.74 0V6.25M44.03 0V6.25M50.33 0V6.25M56.62 0V6.25M62.91 0V6.25M69.2 0V6.25M75.49 0V6.25M81.78 0V6.25M88.07 0V6.25M94.36 0V6.25M100.65 0V6.25M0 0H100.65M0 6.25H100.65" stroke="#000" stroke-width="0.31" fill="none" stroke-opacity="0.8"/>
<rect x="0" y="0" width="100.65" height="6.25" fill="none" stroke="#555" stroke-width="0.5"/>
<path d="M3.15 0v1.3M3.15 6.25v-1.3M9.44 0v1.3M9.44 6.25v-1.3M15.73 0v1.3M15.73 6.25v-1.3M22.02 0v1.3M22.02 6.25v-1.3M28.31 0v1.3M28.31 6.25v-1.3M34.6 0v1.3M34.6 6.25v-1.3M40.89 0v1.3M40.89 6.25v-1.3M47.18 0v1.3M47.18 6.25v-1.3M53.47 0v1.3M53.47 6.25v-1.3M59.76 0v1.3M59.76 6.25v-1.3M66.05 0v1.3M66.05 6.25v-1.3M72.34 0v1.3M72.34 6.25v-1.3M78.63 0v1.3M78.63 6.25v-1.3M84.92 0v1.3M84.92 6.25v-1.3M91.21 0v1.3M91.21 6.25v-1.3M97.5 0v1.3M97.5 6.25v-1.3M0 3.12h1.3M100.65 3.12h-1.3" stroke="#333" stroke-width="0.45" fill="none"/>
</g>
<rect x="163.1" y="507" width="10.3" height="56.1" fill="#a3005f"/>
<text transform="translate(171.9 535.05) rotate(-90)" text-anchor="middle" font-size="10" fill="#fff">Mature</text>
<g transform="translate(175.5 507)">
<g transform="scale(6.2800 6.2333)">
<path fill="#fbfbfb" d="M0 0h3v1h-3zM5 0h1v1h-1zM7 0h1v1h-1zM12 0h1v1h-1zM14 0h1v1h-1zM16 0h1v1h-1zM19 0h1v1h-1zM21 0h1v1h-1zM1 1h1v1h-1zM12 1h1v1h-1zM20 1h1v1h-1zM22 1h2v1h-2zM1 2h1v1h-1zM12 2h1v1h-1zM15 2h1v1h-1zM17 2h1v1h-1zM20 2h1v1h-1zM22 2h1v1h-1zM1 3h1v1h-1zM12 3h2v1h-2zM16 3h1v1h-1zM20 3h1v1h-1zM22 3h3v1h-3zM1 4h1v1h-1zM15 4h1v1h-1zM22 4h1v1h-1zM24 4h1v1h-1zM1 5h1v1h-1zM15 5h1v1h-1zM20 5h1v1h-1zM22 5h1v1h-1zM1 6h1v1h-1zM11 6h2v1h-2zM18 6h1v1h-1zM22 6h1v1h-1zM1 7h1v1h-1zM11 7h1v1h-1zM15 7h1v1h-1zM18 7h1v1h-1zM20 7h3v1h-3zM1 8h1v1h-1zM15 8h1v1h-1zM18 8h1v1h-1zM22 8h1v1h-1z"/>
<path fill="#fddbc7" d="M3 0h2v1h-2zM10 0h2v1h-2zM22 0h1v1h-1zM11 1h1v1h-1zM13 1h2v1h-2zM16 1h1v1h-1zM21 1h1v1h-1zM2 2h1v1h-1zM5 2h1v1h-1zM11 2h1v1h-1zM13 2h2v1h-2zM16 2h1v1h-1zM21 2h1v1h-1zM23 2h1v1h-1zM0 3h1v1h-1zM2 3h1v1h-1zM5 3h1v1h-1zM7 3h1v1h-1zM11 3h1v1h-1zM14 3h1v1h-1zM21 3h1v1h-1zM12 4h2v1h-2zM16 4h1v1h-1zM20 4h1v1h-1zM23 4h1v1h-1zM12 5h3v1h-3zM16 5h1v1h-1zM23 5h2v1h-2zM13 6h2v1h-2zM16 6h1v1h-1zM20 6h2v1h-2zM23 6h1v1h-1zM2 7h1v1h-1zM5 7h1v1h-1zM7 7h1v1h-1zM12 7h1v1h-1zM14 7h1v1h-1zM16 7h2v1h-2zM23 7h2v1h-2zM11 8h4v1h-4zM16 8h1v1h-1zM20 8h1v1h-1zM23 8h2v1h-2z"/>
<path fill="#f4a582" d="M8 0h1v1h-1zM23 0h1v1h-1zM2 1h1v1h-1zM5 1h1v1h-1zM24 1h1v1h-1zM0 2h1v1h-1zM7 2h2v1h-2zM10 2h1v1h-1zM24 2h1v1h-1zM0 4h1v1h-1zM5 4h1v1h-1zM11 4h1v1h-1zM14 4h1v1h-1zM2 5h1v1h-1zM5 5h1v1h-1zM7 5h1v1h-1zM11 5h1v1h-1zM21 5h1v1h-1zM0 6h1v1h-1zM2 6h1v1h-1zM5 6h1v1h-1zM7 6h1v1h-1zM17 6h1v1h-1zM24 6h1v1h-1zM0 7h1v1h-1zM13 7h1v1h-1zM0 8h1v1h-1zM5 8h1v1h-1z"/>
<path fill="#d6604d" d="M6 0h1v1h-1zM9 0h1v1h-1zM0 1h1v1h-1zM6 1h5v1h-5zM19 1h1v1h-1zM4 2h1v1h-1zM6 2h1v1h-1zM19 2h1v1h-1zM4 3h1v1h-1zM6 3h1v1h-1zM8 3h3v1h-3zM2 4h1v1h-1zM7 4h1v1h-1zM21 4h1v1h-1zM0 5h1v1h-1zM4 7h1v1h-1zM6 7h1v1h-1zM8 7h1v1h-1zM10 7h1v1h-1zM19 7h1v1h-1zM2 8h2v1h-2zM7 8h1v1h-1zM21 8h1v1h-1z"/>
<path fill="#b2182b" d="M3 1h2v1h-2zM9 2h1v1h-1zM3 3h1v1h-1zM19 3h1v1h-1zM6 4h1v1h-1zM8 4h3v1h-3zM6 5h1v1h-1zM8 5h3v1h-3zM3 6h1v1h-1zM9 6h1v1h-1zM19 6h1v1h-1zM3 7h1v1h-1zM9 7h1v1h-1zM4 8h1v1h-1zM6 8h1v1h-1zM9 8h1v1h-1zM17 8h1v1h-1zM19 8h1v1h-1z"/>
<path fill="#67001f" d="M15 0h1v1h-1zM17 1h1v1h-1zM3 2h1v1h-1zM3 4h2v1h-2zM17 4h1v1h-1zM19 4h1v1h-1zM3 5h2v1h-2zM17 5h1v1h-1zM19 5h1v1h-1zM4 6h1v1h-1zM6 6h1v1h-1zM8 6h1v1h-1zM10 6h1v1h-1zM8 8h1v1h-1zM10 8h1v1h-1z"/>
<path fill="#d1e5f0" d="M13 0h1v1h-1zM18 0h1v1h-1zM20 0h1v1h-1zM24 0h1v1h-1zM15 1h1v1h-1zM18 2h1v1h-1zM15 3h1v1h-1zM18 3h1v1h-1zM18 5h1v1h-1zM15 6h1v1h-1z"/>
<path fill="#92c5de" d="M18 1h1v1h-1zM17 3h1v1h-1zM18 4h1v1h-1z"/>
<path fill="#053061" d="M17 0h1v1h-1z"/>
</g>
<path d="M0 0V56.1M6.28 0V56.1M12.56 0V56.1M18.84 0V56.1M25.12 0V56.1M31.4 0V56.1M37.68 0V56.1M43.96 0V56.1M50.24 0V56.1M56.52 0V56.1M62.8 0V56.1M69.08 0V56.1M75.36 0V56.1M81.64 0V56.1M87.92 0V56.1M94.2 0V56.1M100.48 0V56.1M106.76 0V56.1M113.04 0V56.1M119.32 0V56.1M125.6 0V56.1M131.88 0V56.1M138.16 0V56.1M144.44 0V56.1M150.72 0V56.1M157 0V56.1M0 0H157M0 6.23H157M0 12.47H157M0 18.7H157M0 24.93H157M0 31.17H157M0 37.4H157M0 43.63H157M0 49.87H157M0 56.1H157" stroke="#000" stroke-width="0.31" fill="none" stroke-opacity="0.8"/>
<rect x="0" y="0" width="157" height="56.1" fill="none" stroke="#555" stroke-width="0.5"/>
<path d="M3.14 0v1.3M3.14 56.1v-1.3M9.42 0v1.3M9.42 56.1v-1.3M15.7 0v1.3M15.7 56.1v-1.3M21.98 0v1.3M21.98 56.1v-1.3M28.26 0v1.3M28.26 56.1v-1.3M34.54 0v1.3M34.54 56.1v-1.3M40.82 0v1.3M40.82 56.1v-1.3M47.1 0v1.3M47.1 56.1v-1.3M53.38 0v1.3M53.38 56.1v-1.3M59.66 0v1.3M59.66 56.1v-1.3M65.94 0v1.3M65.94 56.1v-1.3M72.22 0v1.3M72.22 56.1v-1.3M78.5 0v1.3M78.5 56.1v-1.3M84.78 0v1.3M84.78 56.1v-1.3M91.06 0v1.3M91.06 56.1v-1.3M97.34 0v1.3M97.34 56.1v-1.3M103.62 0v1.3M103.62 56.1v-1.3M109.9 0v1.3M109.9 56.1v-1.3M116.18 0v1.3M116.18 56.1v-1.3M122.46 0v1.3M122.46 56.1v-1.3M128.74 0v1.3M128.74 56.1v-1.3M135.02 0v1.3M135.02 56.1v-1.3M141.3 0v1.3M141.3 56.1v-1.3M147.58 0v1.3M147.58 56.1v-1.3M153.86 0v1.3M153.86 56.1v-1.3M0 3.12h1.3M157 3.12h-1.3M0 9.35h1.3M157 9.35h-1.3M0 15.58h1.3M157 15.58h-1.3M0 21.82h1.3M157 21.82h-1.3M0 28.05h1.3M157 28.05h-1.3M0 34.28h1.3M157 34.28h-1.3M0 40.52h1.3M157 40.52h-1.3M0 46.75h1.3M157 46.75h-1.3M0 52.98h1.3M157 52.98h-1.3" stroke="#333" stroke-width="0.45" fill="none"/>
</g>
<g transform="translate(340.5 507)">
<g transform="scale(6.2906 6.2333)">
<path fill="#5b51a3" d="M4 0h1v1h-1zM10 0h3v1h-3zM15 0h1v1h-1zM11 1h2v1h-2zM11 2h2v1h-2zM11 3h2v1h-2zM11 4h2v1h-2zM15 4h1v1h-1zM11 5h2v1h-2zM11 6h2v1h-2zM15 6h1v1h-1zM11 7h2v1h-2zM11 8h2v1h-2zM15 8h1v1h-1z"/>
<path fill="#4667ae" d="M2 0h1v1h-1zM5 0h1v1h-1zM9 0h1v1h-1zM14 0h1v1h-1zM0 1h1v1h-1zM2 1h1v1h-1zM4 1h1v1h-1zM10 1h1v1h-1zM13 1h1v1h-1zM15 1h1v1h-1zM0 2h1v1h-1zM2 2h1v1h-1zM4 2h1v1h-1zM10 2h1v1h-1zM13 2h1v1h-1zM15 2h1v1h-1zM0 3h1v1h-1zM4 3h1v1h-1zM10 3h1v1h-1zM13 3h1v1h-1zM15 3h1v1h-1zM0 4h1v1h-1zM2 4h1v1h-1zM13 4h1v1h-1zM0 5h1v1h-1zM2 5h1v1h-1zM13 5h1v1h-1zM15 5h1v1h-1zM0 6h1v1h-1zM2 6h1v1h-1zM4 6h1v1h-1zM10 6h1v1h-1zM13 6h1v1h-1zM0 7h1v1h-1zM2 7h1v1h-1zM4 7h1v1h-1zM10 7h1v1h-1zM13 7h1v1h-1zM15 7h1v1h-1zM0 8h1v1h-1zM2 8h1v1h-1zM10 8h1v1h-1zM13 8h1v1h-1z"/>
<path fill="#3387bc" d="M14 4h1v1h-1zM10 5h1v1h-1zM14 6h1v1h-1zM5 7h1v1h-1zM14 8h1v1h-1z"/>
<path fill="#4ba4b1" d="M10 4h1v1h-1zM9 7h1v1h-1zM5 8h1v1h-1z"/>
<path fill="#66c2a5" d="M13 0h1v1h-1zM5 6h1v1h-1zM4 8h1v1h-1zM7 8h1v1h-1z"/>
<path fill="#abdda4" d="M5 2h1v1h-1zM5 3h1v1h-1zM4 4h1v1h-1zM4 5h1v1h-1z"/>
<path fill="#e6f598" d="M6 0h1v1h-1zM9 2h1v1h-1zM2 3h1v1h-1zM9 3h1v1h-1zM3 4h1v1h-1zM1 6h1v1h-1zM7 6h1v1h-1zM9 6h1v1h-1zM1 7h1v1h-1zM6 7h2v1h-2zM1 8h1v1h-1z"/>
<path fill="#fbf8b0" d="M3 0h1v1h-1zM7 1h1v1h-1zM14 1h1v1h-1zM6 2h1v1h-1zM6 3h2v1h-2zM14 3h1v1h-1zM5 4h1v1h-1zM7 4h1v1h-1zM5 5h1v1h-1zM7 5h1v1h-1zM14 5h1v1h-1zM6 6h1v1h-1zM14 7h1v1h-1zM3 8h1v1h-1z"/>
<path fill="#fee08b" d="M8 0h1v1h-1zM5 1h2v1h-2zM9 1h1v1h-1zM1 2h1v1h-1zM7 2h1v1h-1zM1 3h1v1h-1zM9 8h1v1h-1z"/>
<path fill="#fdae61" d="M0 0h1v1h-1zM7 0h1v1h-1zM1 1h1v1h-1zM14 2h1v1h-1zM1 4h1v1h-1zM6 4h1v1h-1zM1 5h1v1h-1zM3 5h1v1h-1zM6 5h1v1h-1zM8 7h1v1h-1zM6 8h1v1h-1z"/>
<path fill="#f46d43" d="M1 0h1v1h-1zM9 5h1v1h-1zM3 6h1v1h-1zM8 6h1v1h-1zM8 8h1v1h-1z"/>
<path fill="#d53e4f" d="M8 2h1v1h-1zM8 3h1v1h-1zM9 4h1v1h-1zM3 7h1v1h-1z"/>
<path fill="#9e0142" d="M3 1h1v1h-1zM8 1h1v1h-1zM3 2h1v1h-1zM3 3h1v1h-1zM8 4h1v1h-1zM8 5h1v1h-1z"/>
</g>
<path d="M0 0V56.1M6.29 0V56.1M12.58 0V56.1M18.87 0V56.1M25.16 0V56.1M31.45 0V56.1M37.74 0V56.1M44.03 0V56.1M50.33 0V56.1M56.62 0V56.1M62.91 0V56.1M69.2 0V56.1M75.49 0V56.1M81.78 0V56.1M88.07 0V56.1M94.36 0V56.1M100.65 0V56.1M0 0H100.65M0 6.23H100.65M0 12.47H100.65M0 18.7H100.65M0 24.93H100.65M0 31.17H100.65M0 37.4H100.65M0 43.63H100.65M0 49.87H100.65M0 56.1H100.65" stroke="#000" stroke-width="0.31" fill="none" stroke-opacity="0.8"/>
<rect x="0" y="0" width="100.65" height="56.1" fill="none" stroke="#555" stroke-width="0.5"/>
<path d="M3.15 0v1.3M3.15 56.1v-1.3M9.44 0v1.3M9.44 56.1v-1.3M15.73 0v1.3M15.73 56.1v-1.3M22.02 0v1.3M22.02 56.1v-1.3M28.31 0v1.3M28.31 56.1v-1.3M34.6 0v1.3M34.6 56.1v-1.3M40.89 0v1.3M40.89 56.1v-1.3M47.18 0v1.3M47.18 56.1v-1.3M53.47 0v1.3M53.47 56.1v-1.3M59.76 0v1.3M59.76 56.1v-1.3M66.05 0v1.3M66.05 56.1v-1.3M72.34 0v1.3M72.34 56.1v-1.3M78.63 0v1.3M78.63 56.1v-1.3M84.92 0v1.3M84.92 56.1v-1.3M91.21 0v1.3M91.21 56.1v-1.3M97.5 0v1.3M97.5 56.1v-1.3M0 3.12h1.3M100.65 3.12h-1.3M0 9.35h1.3M100.65 9.35h-1.3M0 15.58h1.3M100.65 15.58h-1.3M0 21.82h1.3M100.65 21.82h-1.3M0 28.05h1.3M100.65 28.05h-1.3M0 34.28h1.3M100.65 34.28h-1.3M0 40.52h1.3M100.65 40.52h-1.3M0 46.75h1.3M100.65 46.75h-1.3M0 52.98h1.3M100.65 52.98h-1.3" stroke="#333" stroke-width="0.45" fill="none"/>
</g>
<path d="M178.64 563.1V567.9L74.5 574.9V578.4M210.04 563.1V567.9L128.5 574.9V578.4M285.4 563.1V567.9L253.5 574.9V578.4M291.68 563.1V567.9L267.25 574.9V578.4M310.52 563.1V567.9L298.5 574.9V578.4M343.65 563.1V567.5C343.65 571.5 339.9 573.5 339.9 578.4" stroke="#6a6a6a" stroke-width="1.4" fill="none"/>
<text transform="translate(78.5 580.5) rotate(-90)" text-anchor="end" font-size="11.8" fill="#111" stroke="#111" stroke-width="0.12">G−CSF→pSTAT3</text>
<text transform="translate(89.4 580.5) rotate(-90)" text-anchor="end" font-size="5.95" fill="#222" stroke="#222" stroke-width="0.22">IL−3→pSTAT3</text>
<text transform="translate(99 580.5) rotate(-90)" text-anchor="end" font-size="5.95" fill="#222" stroke="#222" stroke-width="0.22">IL−3→pSTAT5</text>
<text transform="translate(107.75 580.5) rotate(-90)" text-anchor="end" font-size="5.95" fill="#222" stroke="#222" stroke-width="0.22">PVO4→pZAP70/SYK</text>
<text transform="translate(117.5 580.5) rotate(-90)" text-anchor="end" font-size="5.95" fill="#222" stroke="#222" stroke-width="0.22">PVO4→pP38</text>
<text transform="translate(132.5 580.5) rotate(-90)" text-anchor="end" font-size="11.8" fill="#111" stroke="#111" stroke-width="0.12">G−CSF→pSTAT5</text>
<text transform="translate(141.9 580.5) rotate(-90)" text-anchor="end" font-size="5.95" fill="#222" stroke="#222" stroke-width="0.22">PVO4→pERK1/2</text>
<text transform="translate(152.1 580.5) rotate(-90)" text-anchor="end" font-size="5.95" fill="#222" stroke="#222" stroke-width="0.22">GM−CSF→pSTAT5</text>
<text transform="translate(162.25 580.5) rotate(-90)" text-anchor="end" font-size="5.95" fill="#222" stroke="#222" stroke-width="0.22">PVO4→pSTAT5</text>
<text transform="translate(172.25 580.5) rotate(-90)" text-anchor="end" font-size="5.95" fill="#222" stroke="#222" stroke-width="0.22">PVO4→pPLCg2</text>
<text transform="translate(182.5 580.5) rotate(-90)" text-anchor="end" font-size="5.95" fill="#222" stroke="#222" stroke-width="0.22">PVO4→pSTAT3</text>
<text transform="translate(192.75 580.5) rotate(-90)" text-anchor="end" font-size="5.95" fill="#222" stroke="#222" stroke-width="0.22">PVO4→pS6</text>
<text transform="translate(202.75 580.5) rotate(-90)" text-anchor="end" font-size="5.95" fill="#222" stroke="#222" stroke-width="0.22">GM−CSF→pSTAT3</text>
<text transform="translate(213.1 580.5) rotate(-90)" text-anchor="end" font-size="5.95" fill="#222" stroke="#222" stroke-width="0.22">GM−CSF→pCREB</text>
<text transform="translate(223.6 580.5) rotate(-90)" text-anchor="end" font-size="5.95" fill="#222" stroke="#222" stroke-width="0.22">PMA/iono.→pP38</text>
<text transform="translate(233.75 580.5) rotate(-90)" text-anchor="end" font-size="5.95" fill="#222" stroke="#222" stroke-width="0.22">PVO4→pAKT</text>
<text transform="translate(244 580.5) rotate(-90)" text-anchor="end" font-size="5.95" fill="#222" stroke="#222" stroke-width="0.22">GM−CSF→pS6</text>
<text transform="translate(257.5 580.5) rotate(-90)" text-anchor="end" font-size="11.8" fill="#111" stroke="#111" stroke-width="0.12">FLT3L→pAKT</text>
<text transform="translate(271.25 580.5) rotate(-90)" text-anchor="end" font-size="11.8" fill="#111" stroke="#111" stroke-width="0.12">SCF→pAKT</text>
<text transform="translate(280.25 580.5) rotate(-90)" text-anchor="end" font-size="5.95" fill="#222" stroke="#222" stroke-width="0.22">PVO4→pCBL</text>
<text transform="translate(288.5 580.5) rotate(-90)" text-anchor="end" font-size="5.95" fill="#222" stroke="#222" stroke-width="0.22">IL−3→pS6</text>
<text transform="translate(302.5 580.5) rotate(-90)" text-anchor="end" font-size="11.8" fill="#111" stroke="#111" stroke-width="0.12">IL−10→pSTAT3</text>
<text transform="translate(311.5 580.5) rotate(-90)" text-anchor="end" font-size="5.95" fill="#222" stroke="#222" stroke-width="0.22">GM−CSF→pERK1/2</text>
<text transform="translate(319 580.5) rotate(-90)" text-anchor="end" font-size="5.95" fill="#222" stroke="#222" stroke-width="0.22">PVO4→pCREB</text>
<text transform="translate(326.9 580.5) rotate(-90)" text-anchor="end" font-size="5.95" fill="#222" stroke="#222" stroke-width="0.22">G−CSF→pCREB</text>
<text transform="translate(343.8 580.5) rotate(-90)" text-anchor="end" font-size="11.8" fill="#111" stroke="#111" stroke-width="0.12">CD34</text>
<text transform="translate(350.15 580.5) rotate(-90)" text-anchor="end" font-size="5.95" fill="#222" stroke="#222" stroke-width="0.22">CD38</text>
<text transform="translate(356.89 580.5) rotate(-90)" text-anchor="end" font-size="5.95" fill="#222" stroke="#222" stroke-width="0.22">CD117</text>
<text transform="translate(363.63 580.5) rotate(-90)" text-anchor="end" font-size="5.95" fill="#222" stroke="#222" stroke-width="0.22">HLA−DR</text>
<text transform="translate(370.37 580.5) rotate(-90)" text-anchor="end" font-size="5.95" fill="#222" stroke="#222" stroke-width="0.22">CD123</text>
<text transform="translate(377.11 580.5) rotate(-90)" text-anchor="end" font-size="5.95" fill="#222" stroke="#222" stroke-width="0.22">CD33</text>
<text transform="translate(383.85 580.5) rotate(-90)" text-anchor="end" font-size="5.95" fill="#222" stroke="#222" stroke-width="0.22">CD45</text>
<text transform="translate(390.59 580.5) rotate(-90)" text-anchor="end" font-size="5.95" fill="#222" stroke="#222" stroke-width="0.22">CD47</text>
<text transform="translate(397.33 580.5) rotate(-90)" text-anchor="end" font-size="5.95" fill="#222" stroke="#222" stroke-width="0.22">CD44</text>
<text transform="translate(404.07 580.5) rotate(-90)" text-anchor="end" font-size="5.95" fill="#222" stroke="#222" stroke-width="0.22">CD64</text>
<text transform="translate(410.81 580.5) rotate(-90)" text-anchor="end" font-size="5.95" fill="#222" stroke="#222" stroke-width="0.22">CD11b</text>
<text transform="translate(417.55 580.5) rotate(-90)" text-anchor="end" font-size="5.95" fill="#222" stroke="#222" stroke-width="0.22">CD7</text>
<text transform="translate(424.29 580.5) rotate(-90)" text-anchor="end" font-size="5.95" fill="#222" stroke="#222" stroke-width="0.22">CD3</text>
<text transform="translate(431.03 580.5) rotate(-90)" text-anchor="end" font-size="5.95" fill="#222" stroke="#222" stroke-width="0.22">CD19</text>
<text transform="translate(437.77 580.5) rotate(-90)" text-anchor="end" font-size="5.95" fill="#222" stroke="#222" stroke-width="0.22">CD15</text>
<text transform="translate(444.51 580.5) rotate(-90)" text-anchor="end" font-size="5.95" fill="#222" stroke="#222" stroke-width="0.22">CD41</text>
</g>
<g id="SJ07">
<text x="469.7" y="465.9" font-size="36" fill="#000" stroke="#000" stroke-width="0.25">SJ07</text>
<g transform="translate(465.6 471.6)">
<rect x="0" y="0" width="106.1" height="105.3" fill="#fff" stroke="#bdbdbd" stroke-width="0.65"/>
<path d="M8.84 0v1.2M8.84 105.3v-1.2M0 8.77h1.2M106.1 8.77h-1.2M17.68 0v1.2M17.68 105.3v-1.2M0 17.55h1.2M106.1 17.55h-1.2M26.52 0v1.2M26.52 105.3v-1.2M0 26.32h1.2M106.1 26.32h-1.2M35.37 0v1.2M35.37 105.3v-1.2M0 35.1h1.2M106.1 35.1h-1.2M44.21 0v1.2M44.21 105.3v-1.2M0 43.87h1.2M106.1 43.87h-1.2M53.05 0v1.2M53.05 105.3v-1.2M0 52.65h1.2M106.1 52.65h-1.2M61.89 0v1.2M61.89 105.3v-1.2M0 61.42h1.2M106.1 61.42h-1.2M70.73 0v1.2M70.73 105.3v-1.2M0 70.2h1.2M106.1 70.2h-1.2M79.58 0v1.2M79.58 105.3v-1.2M0 78.97h1.2M106.1 78.97h-1.2M88.42 0v1.2M88.42 105.3v-1.2M0 87.75h1.2M106.1 87.75h-1.2M97.26 0v1.2M97.26 105.3v-1.2M0 96.52h1.2M106.1 96.52h-1.2" stroke="#a8a8a8" stroke-width="0.55" fill="none"/>
<use href="#ct"/>
<g fill="#1db46b"><circle cx="54.5" cy="20.5" r="1.3"/><circle cx="45.7" cy="25" r="1.8"/><circle cx="43.3" cy="22.4" r="0.7"/><circle cx="44.1" cy="29.5" r="1.2"/><circle cx="54.9" cy="28.4" r="0.6"/></g>
<g fill="#a3005f"><circle cx="42.8" cy="33.4" r="1.6"/><circle cx="41.6" cy="34.5" r="1.2"/><circle cx="43.3" cy="39.4" r="2"/><circle cx="41.6" cy="39.7" r="1.5"/><circle cx="38.3" cy="39.5" r="0.7"/><circle cx="49.6" cy="72.8" r="0.6"/><circle cx="53.2" cy="74.4" r="1"/><circle cx="72" cy="77.8" r="1.7"/></g>
</g>
<path d="M596.39 512.1V517.5M627.79 512.1V517.5M703.15 512.1V517.5M709.43 512.1V517.5M728.27 512.1V517.5M761.2 512.1V517.5" stroke="#6a6a6a" stroke-width="1.4" fill="none"/>
<rect x="580.6" y="480.9" width="10.3" height="31.2" fill="#1db46b"/>
<path d="M585.6 480.9V470.9L592.6 464" stroke="#333" stroke-width="0.8" fill="none"/>
<text transform="translate(597.8 465.2) rotate(-42)" font-size="10.3" fill="#111">Primitive</text>
<g transform="translate(593.25 480.9)">
<g transform="scale(6.2800 6.2400)">
<path fill="#fbfbfb" d="M1 0h2v1h-2zM7 0h1v1h-1zM12 0h2v1h-2zM16 0h1v1h-1zM19 0h1v1h-1zM22 0h1v1h-1zM1 1h1v1h-1zM7 1h1v1h-1zM12 1h2v1h-2zM16 1h1v1h-1zM22 1h2v1h-2zM1 2h1v1h-1zM12 2h2v1h-2zM15 2h1v1h-1zM20 2h1v1h-1zM22 2h2v1h-2zM3 3h1v1h-1zM7 3h1v1h-1zM12 3h3v1h-3zM16 3h1v1h-1zM19 3h2v1h-2zM22 3h1v1h-1zM1 4h2v1h-2zM5 4h1v1h-1zM7 4h1v1h-1zM12 4h1v1h-1zM16 4h1v1h-1zM20 4h3v1h-3zM24 4h1v1h-1z"/>
<path fill="#fddbc7" d="M3 0h1v1h-1zM5 0h2v1h-2zM8 0h1v1h-1zM10 0h2v1h-2zM14 0h2v1h-2zM20 0h1v1h-1zM23 0h2v1h-2zM2 1h3v1h-3zM6 1h1v1h-1zM8 1h4v1h-4zM14 1h2v1h-2zM19 1h2v1h-2zM24 1h1v1h-1zM2 2h1v1h-1zM7 2h1v1h-1zM11 2h1v1h-1zM14 2h1v1h-1zM16 2h1v1h-1zM19 2h1v1h-1zM24 2h1v1h-1zM1 3h2v1h-2zM4 3h3v1h-3zM10 3h2v1h-2zM15 3h1v1h-1zM23 3h2v1h-2zM0 4h1v1h-1zM3 4h1v1h-1zM10 4h2v1h-2zM14 4h2v1h-2zM19 4h1v1h-1zM23 4h1v1h-1z"/>
<path fill="#f4a582" d="M4 0h1v1h-1zM9 0h1v1h-1zM21 0h1v1h-1zM5 1h1v1h-1zM3 2h3v1h-3zM8 2h3v1h-3zM8 3h2v1h-2zM21 3h1v1h-1zM4 4h1v1h-1zM6 4h1v1h-1zM8 4h2v1h-2zM18 4h1v1h-1z"/>
<path fill="#d6604d" d="M21 1h1v1h-1zM0 2h1v1h-1zM6 2h1v1h-1zM21 2h1v1h-1zM0 3h1v1h-1zM17 3h1v1h-1z"/>
<path fill="#b2182b" d="M0 0h1v1h-1zM0 1h1v1h-1zM18 3h1v1h-1zM17 4h1v1h-1z"/>
<path fill="#67001f" d="M17 0h2v1h-2zM17 1h2v1h-2zM17 2h2v1h-2z"/>
<path fill="#d1e5f0" d="M13 4h1v1h-1z"/>
</g>
<path d="M0 0V31.2M6.28 0V31.2M12.56 0V31.2M18.84 0V31.2M25.12 0V31.2M31.4 0V31.2M37.68 0V31.2M43.96 0V31.2M50.24 0V31.2M56.52 0V31.2M62.8 0V31.2M69.08 0V31.2M75.36 0V31.2M81.64 0V31.2M87.92 0V31.2M94.2 0V31.2M100.48 0V31.2M106.76 0V31.2M113.04 0V31.2M119.32 0V31.2M125.6 0V31.2M131.88 0V31.2M138.16 0V31.2M144.44 0V31.2M150.72 0V31.2M157 0V31.2M0 0H157M0 6.24H157M0 12.48H157M0 18.72H157M0 24.96H157M0 31.2H157" stroke="#000" stroke-width="0.31" fill="none" stroke-opacity="0.8"/>
<rect x="0" y="0" width="157" height="31.2" fill="none" stroke="#555" stroke-width="0.5"/>
<path d="M3.14 0v1.3M3.14 31.2v-1.3M9.42 0v1.3M9.42 31.2v-1.3M15.7 0v1.3M15.7 31.2v-1.3M21.98 0v1.3M21.98 31.2v-1.3M28.26 0v1.3M28.26 31.2v-1.3M34.54 0v1.3M34.54 31.2v-1.3M40.82 0v1.3M40.82 31.2v-1.3M47.1 0v1.3M47.1 31.2v-1.3M53.38 0v1.3M53.38 31.2v-1.3M59.66 0v1.3M59.66 31.2v-1.3M65.94 0v1.3M65.94 31.2v-1.3M72.22 0v1.3M72.22 31.2v-1.3M78.5 0v1.3M78.5 31.2v-1.3M84.78 0v1.3M84.78 31.2v-1.3M91.06 0v1.3M91.06 31.2v-1.3M97.34 0v1.3M97.34 31.2v-1.3M103.62 0v1.3M103.62 31.2v-1.3M109.9 0v1.3M109.9 31.2v-1.3M116.18 0v1.3M116.18 31.2v-1.3M122.46 0v1.3M122.46 31.2v-1.3M128.74 0v1.3M128.74 31.2v-1.3M135.02 0v1.3M135.02 31.2v-1.3M141.3 0v1.3M141.3 31.2v-1.3M147.58 0v1.3M147.58 31.2v-1.3M153.86 0v1.3M153.86 31.2v-1.3M0 3.12h1.3M157 3.12h-1.3M0 9.36h1.3M157 9.36h-1.3M0 15.6h1.3M157 15.6h-1.3M0 21.84h1.3M157 21.84h-1.3M0 28.08h1.3M157 28.08h-1.3" stroke="#333" stroke-width="0.45" fill="none"/>
</g>
<g transform="translate(758.05 480.9)">
<g transform="scale(6.2906 6.2400)">
<path fill="#5b51a3" d="M11 0h2v1h-2zM15 0h1v1h-1zM11 1h2v1h-2zM15 1h1v1h-1zM12 2h1v1h-1zM15 2h1v1h-1zM5 3h1v1h-1zM11 3h2v1h-2zM15 3h1v1h-1zM11 4h2v1h-2zM15 4h1v1h-1z"/>
<path fill="#4667ae" d="M2 0h1v1h-1zM5 0h1v1h-1zM9 0h2v1h-2zM13 0h1v1h-1zM5 1h1v1h-1zM9 1h2v1h-2zM13 1h1v1h-1zM2 2h1v1h-1zM5 2h1v1h-1zM9 2h1v1h-1zM13 2h1v1h-1zM2 3h1v1h-1zM9 3h2v1h-2zM13 3h1v1h-1zM2 4h1v1h-1zM5 4h1v1h-1zM9 4h2v1h-2z"/>
<path fill="#3387bc" d="M10 2h1v1h-1zM14 2h1v1h-1zM1 3h1v1h-1zM14 3h1v1h-1zM14 4h1v1h-1z"/>
<path fill="#4ba4b1" d="M14 0h1v1h-1zM14 1h1v1h-1z"/>
<path fill="#66c2a5" d="M4 3h1v1h-1z"/>
<path fill="#abdda4" d="M1 0h1v1h-1zM4 0h1v1h-1zM4 1h1v1h-1zM1 2h1v1h-1zM7 3h1v1h-1zM4 4h1v1h-1z"/>
<path fill="#e6f598" d="M1 1h1v1h-1zM11 2h1v1h-1zM3 3h1v1h-1zM6 4h1v1h-1z"/>
<path fill="#fbf8b0" d="M4 2h1v1h-1zM6 3h1v1h-1zM1 4h1v1h-1zM3 4h1v1h-1zM13 4h1v1h-1z"/>
<path fill="#fee08b" d="M3 0h1v1h-1zM6 0h2v1h-2zM2 1h1v1h-1zM6 1h2v1h-2zM6 2h2v1h-2zM8 4h1v1h-1z"/>
<path fill="#fdae61" d="M3 1h1v1h-1z"/>
<path fill="#f46d43" d="M3 2h1v1h-1zM8 3h1v1h-1z"/>
<path fill="#d53e4f" d="M7 4h1v1h-1z"/>
<path fill="#9e0142" d="M0 0h1v1h-1zM8 0h1v1h-1zM0 1h1v1h-1zM8 1h1v1h-1zM0 2h1v1h-1zM8 2h1v1h-1zM0 3h1v1h-1zM0 4h1v1h-1z"/>
</g>
<path d="M0 0V31.2M6.29 0V31.2M12.58 0V31.2M18.87 0V31.2M25.16 0V31.2M31.45 0V31.2M37.74 0V31.2M44.03 0V31.2M50.33 0V31.2M56.62 0V31.2M62.91 0V31.2M69.2 0V31.2M75.49 0V31.2M81.78 0V31.2M88.07 0V31.2M94.36 0V31.2M100.65 0V31.2M0 0H100.65M0 6.24H100.65M0 12.48H100.65M0 18.72H100.65M0 24.96H100.65M0 31.2H100.65" stroke="#000" stroke-width="0.31" fill="none" stroke-opacity="0.8"/>
<rect x="0" y="0" width="100.65" height="31.2" fill="none" stroke="#555" stroke-width="0.5"/>
<path d="M3.15 0v1.3M3.15 31.2v-1.3M9.44 0v1.3M9.44 31.2v-1.3M15.73 0v1.3M15.73 31.2v-1.3M22.02 0v1.3M22.02 31.2v-1.3M28.31 0v1.3M28.31 31.2v-1.3M34.6 0v1.3M34.6 31.2v-1.3M40.89 0v1.3M40.89 31.2v-1.3M47.18 0v1.3M47.18 31.2v-1.3M53.47 0v1.3M53.47 31.2v-1.3M59.76 0v1.3M59.76 31.2v-1.3M66.05 0v1.3M66.05 31.2v-1.3M72.34 0v1.3M72.34 31.2v-1.3M78.63 0v1.3M78.63 31.2v-1.3M84.92 0v1.3M84.92 31.2v-1.3M91.21 0v1.3M91.21 31.2v-1.3M97.5 0v1.3M97.5 31.2v-1.3M0 3.12h1.3M100.65 3.12h-1.3M0 9.36h1.3M100.65 9.36h-1.3M0 15.6h1.3M100.65 15.6h-1.3M0 21.84h1.3M100.65 21.84h-1.3M0 28.08h1.3M100.65 28.08h-1.3" stroke="#333" stroke-width="0.45" fill="none"/>
</g>
<rect x="580.6" y="517.5" width="10.3" height="56.45" fill="#a3005f"/>
<text transform="translate(589.4 545.73) rotate(-90)" text-anchor="middle" font-size="10" fill="#fff">Mature</text>
<g transform="translate(593.25 517.5)">
<g transform="scale(6.2800 6.2722)">
<path fill="#fbfbfb" d="M0 0h1v1h-1zM11 0h1v1h-1zM22 0h1v1h-1zM24 0h1v1h-1zM1 1h1v1h-1zM22 1h1v1h-1zM24 1h1v1h-1zM0 2h1v1h-1zM11 2h1v1h-1zM24 2h1v1h-1zM1 3h1v1h-1zM11 3h1v1h-1zM13 3h1v1h-1zM24 3h1v1h-1zM0 4h1v1h-1zM11 4h5v1h-5zM18 4h1v1h-1zM22 4h1v1h-1zM24 4h1v1h-1zM0 5h1v1h-1zM11 5h1v1h-1zM15 5h1v1h-1zM18 5h1v1h-1zM24 5h1v1h-1zM11 6h2v1h-2zM18 6h1v1h-1zM22 6h1v1h-1zM24 6h1v1h-1zM11 7h3v1h-3zM15 7h1v1h-1zM22 7h1v1h-1zM24 7h1v1h-1zM1 8h1v1h-1zM11 8h2v1h-2zM14 8h2v1h-2zM18 8h1v1h-1zM22 8h1v1h-1z"/>
<path fill="#fddbc7" d="M1 0h1v1h-1zM10 0h1v1h-1zM12 0h1v1h-1zM14 0h1v1h-1zM0 1h1v1h-1zM11 1h2v1h-2zM14 1h1v1h-1zM1 2h1v1h-1zM10 2h1v1h-1zM12 2h3v1h-3zM18 2h1v1h-1zM22 2h1v1h-1zM0 3h1v1h-1zM10 3h1v1h-1zM12 3h1v1h-1zM14 3h1v1h-1zM22 3h1v1h-1zM1 4h1v1h-1zM4 4h1v1h-1zM10 4h1v1h-1zM17 4h1v1h-1zM1 5h1v1h-1zM10 5h1v1h-1zM12 5h3v1h-3zM22 5h1v1h-1zM0 6h2v1h-2zM14 6h1v1h-1zM16 6h1v1h-1zM20 6h1v1h-1zM0 7h2v1h-2zM18 7h1v1h-1zM0 8h1v1h-1zM16 8h2v1h-2zM20 8h1v1h-1z"/>
<path fill="#f4a582" d="M4 0h2v1h-2zM8 0h1v1h-1zM18 0h1v1h-1zM7 1h1v1h-1zM16 1h1v1h-1zM20 1h1v1h-1zM4 2h2v1h-2zM8 2h1v1h-1zM19 2h1v1h-1zM4 3h1v1h-1zM5 4h4v1h-4zM19 4h1v1h-1zM5 5h1v1h-1zM8 5h1v1h-1zM7 6h1v1h-1zM10 6h1v1h-1zM14 7h1v1h-1zM16 7h2v1h-2zM20 7h1v1h-1zM3 8h1v1h-1z"/>
<path fill="#d6604d" d="M2 0h1v1h-1zM6 0h2v1h-2zM9 0h1v1h-1zM16 0h1v1h-1zM19 0h2v1h-2zM2 1h2v1h-2zM5 1h1v1h-1zM8 1h3v1h-3zM2 2h1v1h-1zM6 2h2v1h-2zM9 2h1v1h-1zM16 2h1v1h-1zM20 2h1v1h-1zM3 3h1v1h-1zM6 3h4v1h-4zM18 3h3v1h-3zM2 4h2v1h-2zM9 4h1v1h-1zM16 4h1v1h-1zM4 5h1v1h-1zM6 5h2v1h-2zM9 5h1v1h-1zM19 5h2v1h-2zM2 6h2v1h-2zM5 6h2v1h-2zM8 6h2v1h-2zM19 6h1v1h-1zM7 7h3v1h-3zM19 7h1v1h-1zM6 8h4v1h-4zM19 8h1v1h-1z"/>
<path fill="#b2182b" d="M3 0h1v1h-1zM4 1h1v1h-1zM6 1h1v1h-1zM3 2h1v1h-1zM2 3h1v1h-1zM5 3h1v1h-1zM16 3h1v1h-1zM20 4h1v1h-1zM2 5h1v1h-1zM16 5h2v1h-2zM4 6h1v1h-1zM17 6h1v1h-1zM2 7h2v1h-2zM5 7h2v1h-2zM10 7h1v1h-1zM2 8h1v1h-1zM4 8h2v1h-2zM10 8h1v1h-1z"/>
<path fill="#67001f" d="M17 0h1v1h-1zM21 0h1v1h-1zM17 1h3v1h-3zM21 1h1v1h-1zM17 2h1v1h-1zM21 2h1v1h-1zM17 3h1v1h-1zM21 3h1v1h-1zM21 4h1v1h-1zM3 5h1v1h-1zM21 5h1v1h-1zM21 6h1v1h-1zM4 7h1v1h-1zM21 7h1v1h-1zM21 8h1v1h-1z"/>
<path fill="#d1e5f0" d="M13 0h1v1h-1zM15 0h1v1h-1zM23 0h1v1h-1zM13 1h1v1h-1zM15 1h1v1h-1zM15 2h1v1h-1zM15 3h1v1h-1zM13 6h1v1h-1zM15 6h1v1h-1zM13 8h1v1h-1zM24 8h1v1h-1z"/>
<path fill="#92c5de" d="M23 1h1v1h-1zM23 2h1v1h-1zM23 4h1v1h-1zM23 5h1v1h-1zM23 7h1v1h-1z"/>
<path fill="#4393c3" d="M23 6h1v1h-1zM23 8h1v1h-1z"/>
<path fill="#2166ac" d="M23 3h1v1h-1z"/>
</g>
<path d="M0 0V56.45M6.28 0V56.45M12.56 0V56.45M18.84 0V56.45M25.12 0V56.45M31.4 0V56.45M37.68 0V56.45M43.96 0V56.45M50.24 0V56.45M56.52 0V56.45M62.8 0V56.45M69.08 0V56.45M75.36 0V56.45M81.64 0V56.45M87.92 0V56.45M94.2 0V56.45M100.48 0V56.45M106.76 0V56.45M113.04 0V56.45M119.32 0V56.45M125.6 0V56.45M131.88 0V56.45M138.16 0V56.45M144.44 0V56.45M150.72 0V56.45M157 0V56.45M0 0H157M0 6.27H157M0 12.54H157M0 18.82H157M0 25.09H157M0 31.36H157M0 37.63H157M0 43.91H157M0 50.18H157M0 56.45H157" stroke="#000" stroke-width="0.31" fill="none" stroke-opacity="0.8"/>
<rect x="0" y="0" width="157" height="56.45" fill="none" stroke="#555" stroke-width="0.5"/>
<path d="M3.14 0v1.3M3.14 56.45v-1.3M9.42 0v1.3M9.42 56.45v-1.3M15.7 0v1.3M15.7 56.45v-1.3M21.98 0v1.3M21.98 56.45v-1.3M28.26 0v1.3M28.26 56.45v-1.3M34.54 0v1.3M34.54 56.45v-1.3M40.82 0v1.3M40.82 56.45v-1.3M47.1 0v1.3M47.1 56.45v-1.3M53.38 0v1.3M53.38 56.45v-1.3M59.66 0v1.3M59.66 56.45v-1.3M65.94 0v1.3M65.94 56.45v-1.3M72.22 0v1.3M72.22 56.45v-1.3M78.5 0v1.3M78.5 56.45v-1.3M84.78 0v1.3M84.78 56.45v-1.3M91.06 0v1.3M91.06 56.45v-1.3M97.34 0v1.3M97.34 56.45v-1.3M103.62 0v1.3M103.62 56.45v-1.3M109.9 0v1.3M109.9 56.45v-1.3M116.18 0v1.3M116.18 56.45v-1.3M122.46 0v1.3M122.46 56.45v-1.3M128.74 0v1.3M128.74 56.45v-1.3M135.02 0v1.3M135.02 56.45v-1.3M141.3 0v1.3M141.3 56.45v-1.3M147.58 0v1.3M147.58 56.45v-1.3M153.86 0v1.3M153.86 56.45v-1.3M0 3.14h1.3M157 3.14h-1.3M0 9.41h1.3M157 9.41h-1.3M0 15.68h1.3M157 15.68h-1.3M0 21.95h1.3M157 21.95h-1.3M0 28.23h1.3M157 28.23h-1.3M0 34.5h1.3M157 34.5h-1.3M0 40.77h1.3M157 40.77h-1.3M0 47.04h1.3M157 47.04h-1.3M0 53.31h1.3M157 53.31h-1.3" stroke="#333" stroke-width="0.45" fill="none"/>
</g>
<g transform="translate(758.05 517.5)">
<g transform="scale(6.2906 6.2722)">
<path fill="#5b51a3" d="M11 0h2v1h-2zM15 0h1v1h-1zM11 1h2v1h-2zM15 1h1v1h-1zM12 2h1v1h-1zM15 2h1v1h-1zM11 3h2v1h-2zM15 3h1v1h-1zM5 4h1v1h-1zM11 4h2v1h-2zM15 4h1v1h-1zM5 5h1v1h-1zM11 5h2v1h-2zM15 5h1v1h-1zM11 6h2v1h-2zM15 6h1v1h-1zM11 7h2v1h-2zM15 7h1v1h-1zM5 8h1v1h-1zM11 8h2v1h-2zM15 8h1v1h-1z"/>
<path fill="#4667ae" d="M2 0h1v1h-1zM5 0h1v1h-1zM9 0h2v1h-2zM13 0h2v1h-2zM2 1h1v1h-1zM5 1h1v1h-1zM9 1h2v1h-2zM13 1h2v1h-2zM2 2h1v1h-1zM5 2h1v1h-1zM9 2h1v1h-1zM13 2h2v1h-2zM2 3h1v1h-1zM5 3h1v1h-1zM9 3h1v1h-1zM13 3h2v1h-2zM1 4h2v1h-2zM9 4h2v1h-2zM13 4h2v1h-2zM2 5h1v1h-1zM9 5h2v1h-2zM13 5h2v1h-2zM2 6h1v1h-1zM13 6h2v1h-2zM2 7h1v1h-1zM5 7h1v1h-1zM13 7h2v1h-2zM2 8h2v1h-2zM13 8h2v1h-2z"/>
<path fill="#3387bc" d="M10 2h1v1h-1zM1 5h1v1h-1zM5 6h1v1h-1zM3 7h1v1h-1zM1 8h1v1h-1zM4 8h1v1h-1zM7 8h1v1h-1z"/>
<path fill="#4ba4b1" d="M1 1h1v1h-1zM10 3h1v1h-1zM4 7h1v1h-1zM0 8h1v1h-1z"/>
<path fill="#66c2a5" d="M1 2h1v1h-1zM4 6h1v1h-1zM0 7h2v1h-2z"/>
<path fill="#abdda4" d="M4 1h1v1h-1zM7 1h1v1h-1zM1 3h1v1h-1zM3 6h1v1h-1zM10 6h1v1h-1zM7 7h1v1h-1zM9 8h2v1h-2z"/>
<path fill="#e6f598" d="M1 0h1v1h-1zM11 2h1v1h-1zM4 3h1v1h-1zM3 4h1v1h-1zM7 4h1v1h-1zM0 6h1v1h-1zM9 7h2v1h-2z"/>
<path fill="#fbf8b0" d="M0 5h1v1h-1zM1 6h1v1h-1z"/>
<path fill="#fee08b" d="M3 2h1v1h-1zM0 4h1v1h-1zM7 6h1v1h-1z"/>
<path fill="#fdae61" d="M3 0h1v1h-1zM6 0h1v1h-1zM0 1h1v1h-1zM6 1h1v1h-1zM0 2h1v1h-1zM6 2h1v1h-1zM0 3h1v1h-1zM7 3h1v1h-1zM6 4h1v1h-1zM8 4h1v1h-1zM3 5h1v1h-1zM9 6h1v1h-1z"/>
<path fill="#f46d43" d="M3 1h1v1h-1zM7 2h1v1h-1zM6 5h1v1h-1zM8 8h1v1h-1z"/>
<path fill="#d53e4f" d="M0 0h1v1h-1zM7 0h1v1h-1zM8 1h1v1h-1zM3 3h1v1h-1zM6 3h1v1h-1zM7 5h1v1h-1zM6 6h1v1h-1zM6 8h1v1h-1z"/>
<path fill="#9e0142" d="M4 0h1v1h-1zM8 0h1v1h-1zM4 2h1v1h-1zM8 2h1v1h-1zM8 3h1v1h-1zM4 4h1v1h-1zM4 5h1v1h-1zM8 5h1v1h-1zM8 6h1v1h-1zM6 7h1v1h-1zM8 7h1v1h-1z"/>
</g>
<path d="M0 0V56.45M6.29 0V56.45M12.58 0V56.45M18.87 0V56.45M25.16 0V56.45M31.45 0V56.45M37.74 0V56.45M44.03 0V56.45M50.33 0V56.45M56.62 0V56.45M62.91 0V56.45M69.2 0V56.45M75.49 0V56.45M81.78 0V56.45M88.07 0V56.45M94.36 0V56.45M100.65 0V56.45M0 0H100.65M0 6.27H100.65M0 12.54H100.65M0 18.82H100.65M0 25.09H100.65M0 31.36H100.65M0 37.63H100.65M0 43.91H100.65M0 50.18H100.65M0 56.45H100.65" stroke="#000" stroke-width="0.31" fill="none" stroke-opacity="0.8"/>
<rect x="0" y="0" width="100.65" height="56.45" fill="none" stroke="#555" stroke-width="0.5"/>
<path d="M3.15 0v1.3M3.15 56.45v-1.3M9.44 0v1.3M9.44 56.45v-1.3M15.73 0v1.3M15.73 56.45v-1.3M22.02 0v1.3M22.02 56.45v-1.3M28.31 0v1.3M28.31 56.45v-1.3M34.6 0v1.3M34.6 56.45v-1.3M40.89 0v1.3M40.89 56.45v-1.3M47.18 0v1.3M47.18 56.45v-1.3M53.47 0v1.3M53.47 56.45v-1.3M59.76 0v1.3M59.76 56.45v-1.3M66.05 0v1.3M66.05 56.45v-1.3M72.34 0v1.3M72.34 56.45v-1.3M78.63 0v1.3M78.63 56.45v-1.3M84.92 0v1.3M84.92 56.45v-1.3M91.21 0v1.3M91.21 56.45v-1.3M97.5 0v1.3M97.5 56.45v-1.3M0 3.14h1.3M100.65 3.14h-1.3M0 9.41h1.3M100.65 9.41h-1.3M0 15.68h1.3M100.65 15.68h-1.3M0 21.95h1.3M100.65 21.95h-1.3M0 28.23h1.3M100.65 28.23h-1.3M0 34.5h1.3M100.65 34.5h-1.3M0 40.77h1.3M100.65 40.77h-1.3M0 47.04h1.3M100.65 47.04h-1.3M0 53.31h1.3M100.65 53.31h-1.3" stroke="#333" stroke-width="0.45" fill="none"/>
</g>
<path d="M596.39 573.95V578.4L492.25 585.4V588.9M627.79 573.95V578.4L546.25 585.4V588.9M703.15 573.95V578.4L671.25 585.4V588.9M709.43 573.95V578.4L685 585.4V588.9M728.27 573.95V578.4L716.25 585.4V588.9M761.2 573.95V578C761.2 582 757.45 584 757.45 588.9" stroke="#6a6a6a" stroke-width="1.4" fill="none"/>
<text transform="translate(496.25 591) rotate(-90)" text-anchor="end" font-size="11.8" fill="#111" stroke="#111" stroke-width="0.12">G−CSF→pSTAT3</text>
<text transform="translate(507.15 591) rotate(-90)" text-anchor="end" font-size="5.95" fill="#222" stroke="#222" stroke-width="0.22">IL−3→pSTAT3</text>
<text transform="translate(516.75 591) rotate(-90)" text-anchor="end" font-size="5.95" fill="#222" stroke="#222" stroke-width="0.22">IL−3→pSTAT5</text>
<text transform="translate(525.5 591) rotate(-90)" text-anchor="end" font-size="5.95" fill="#222" stroke="#222" stroke-width="0.22">PVO4→pZAP70/SYK</text>
<text transform="translate(535.25 591) rotate(-90)" text-anchor="end" font-size="5.95" fill="#222" stroke="#222" stroke-width="0.22">PVO4→pP38</text>
<text transform="translate(550.25 591) rotate(-90)" text-anchor="end" font-size="11.8" fill="#111" stroke="#111" stroke-width="0.12">G−CSF→pSTAT5</text>
<text transform="translate(559.65 591) rotate(-90)" text-anchor="end" font-size="5.95" fill="#222" stroke="#222" stroke-width="0.22">PVO4→pERK1/2</text>
<text transform="translate(569.85 591) rotate(-90)" text-anchor="end" font-size="5.95" fill="#222" stroke="#222" stroke-width="0.22">GM−CSF→pSTAT5</text>
<text transform="translate(580 591) rotate(-90)" text-anchor="end" font-size="5.95" fill="#222" stroke="#222" stroke-width="0.22">PVO4→pSTAT5</text>
<text transform="translate(590 591) rotate(-90)" text-anchor="end" font-size="5.95" fill="#222" stroke="#222" stroke-width="0.22">PVO4→pPLCg2</text>
<text transform="translate(600.25 591) rotate(-90)" text-anchor="end" font-size="5.95" fill="#222" stroke="#222" stroke-width="0.22">PVO4→pSTAT3</text>
<text transform="translate(610.5 591) rotate(-90)" text-anchor="end" font-size="5.95" fill="#222" stroke="#222" stroke-width="0.22">PVO4→pS6</text>
<text transform="translate(620.5 591) rotate(-90)" text-anchor="end" font-size="5.95" fill="#222" stroke="#222" stroke-width="0.22">GM−CSF→pSTAT3</text>
<text transform="translate(630.85 591) rotate(-90)" text-anchor="end" font-size="5.95" fill="#222" stroke="#222" stroke-width="0.22">GM−CSF→pCREB</text>
<text transform="translate(641.35 591) rotate(-90)" text-anchor="end" font-size="5.95" fill="#222" stroke="#222" stroke-width="0.22">PMA/iono.→pP38</text>
<text transform="translate(651.5 591) rotate(-90)" text-anchor="end" font-size="5.95" fill="#222" stroke="#222" stroke-width="0.22">PVO4→pAKT</text>
<text transform="translate(661.75 591) rotate(-90)" text-anchor="end" font-size="5.95" fill="#222" stroke="#222" stroke-width="0.22">GM−CSF→pS6</text>
<text transform="translate(675.25 591) rotate(-90)" text-anchor="end" font-size="11.8" fill="#111" stroke="#111" stroke-width="0.12">FLT3L→pAKT</text>
<text transform="translate(689 591) rotate(-90)" text-anchor="end" font-size="11.8" fill="#111" stroke="#111" stroke-width="0.12">SCF→pAKT</text>
<text transform="translate(698 591) rotate(-90)" text-anchor="end" font-size="5.95" fill="#222" stroke="#222" stroke-width="0.22">PVO4→pCBL</text>
<text transform="translate(706.25 591) rotate(-90)" text-anchor="end" font-size="5.95" fill="#222" stroke="#222" stroke-width="0.22">IL−3→pS6</text>
<text transform="translate(720.25 591) rotate(-90)" text-anchor="end" font-size="11.8" fill="#111" stroke="#111" stroke-width="0.12">IL−10→pSTAT3</text>
<text transform="translate(729.25 591) rotate(-90)" text-anchor="end" font-size="5.95" fill="#222" stroke="#222" stroke-width="0.22">GM−CSF→pERK1/2</text>
<text transform="translate(736.75 591) rotate(-90)" text-anchor="end" font-size="5.95" fill="#222" stroke="#222" stroke-width="0.22">PVO4→pCREB</text>
<text transform="translate(744.65 591) rotate(-90)" text-anchor="end" font-size="5.95" fill="#222" stroke="#222" stroke-width="0.22">G−CSF→pCREB</text>
<text transform="translate(761.35 591) rotate(-90)" text-anchor="end" font-size="11.8" fill="#111" stroke="#111" stroke-width="0.12">CD34</text>
<text transform="translate(767.7 591) rotate(-90)" text-anchor="end" font-size="5.95" fill="#222" stroke="#222" stroke-width="0.22">CD38</text>
<text transform="translate(774.44 591) rotate(-90)" text-anchor="end" font-size="5.95" fill="#222" stroke="#222" stroke-width="0.22">CD117</text>
<text transform="translate(781.18 591) rotate(-90)" text-anchor="end" font-size="5.95" fill="#222" stroke="#222" stroke-width="0.22">HLA−DR</text>
<text transform="translate(787.92 591) rotate(-90)" text-anchor="end" font-size="5.95" fill="#222" stroke="#222" stroke-width="0.22">CD123</text>
<text transform="translate(794.66 591) rotate(-90)" text-anchor="end" font-size="5.95" fill="#222" stroke="#222" stroke-width="0.22">CD33</text>
<text transform="translate(801.4 591) rotate(-90)" text-anchor="end" font-size="5.95" fill="#222" stroke="#222" stroke-width="0.22">CD45</text>
<text transform="translate(808.14 591) rotate(-90)" text-anchor="end" font-size="5.95" fill="#222" stroke="#222" stroke-width="0.22">CD47</text>
<text transform="translate(814.88 591) rotate(-90)" text-anchor="end" font-size="5.95" fill="#222" stroke="#222" stroke-width="0.22">CD44</text>
<text transform="translate(821.62 591) rotate(-90)" text-anchor="end" font-size="5.95" fill="#222" stroke="#222" stroke-width="0.22">CD64</text>
<text transform="translate(828.36 591) rotate(-90)" text-anchor="end" font-size="5.95" fill="#222" stroke="#222" stroke-width="0.22">CD11b</text>
<text transform="translate(835.1 591) rotate(-90)" text-anchor="end" font-size="5.95" fill="#222" stroke="#222" stroke-width="0.22">CD7</text>
<text transform="translate(841.84 591) rotate(-90)" text-anchor="end" font-size="5.95" fill="#222" stroke="#222" stroke-width="0.22">CD3</text>
<text transform="translate(848.58 591) rotate(-90)" text-anchor="end" font-size="5.95" fill="#222" stroke="#222" stroke-width="0.22">CD19</text>
<text transform="translate(855.32 591) rotate(-90)" text-anchor="end" font-size="5.95" fill="#222" stroke="#222" stroke-width="0.22">CD15</text>
<text transform="translate(862.06 591) rotate(-90)" text-anchor="end" font-size="5.95" fill="#222" stroke="#222" stroke-width="0.22">CD41</text>
</g>
<g id="SJ08">
<text x="891.8" y="463.9" font-size="36" fill="#000" stroke="#000" stroke-width="0.25">SJ08</text>
<g transform="translate(887.7 469.6)">
<rect x="0" y="0" width="106.1" height="105.15" fill="#fff" stroke="#bdbdbd" stroke-width="0.65"/>
<path d="M8.84 0v1.2M8.84 105.15v-1.2M0 8.76h1.2M106.1 8.76h-1.2M17.68 0v1.2M17.68 105.15v-1.2M0 17.52h1.2M106.1 17.52h-1.2M26.52 0v1.2M26.52 105.15v-1.2M0 26.29h1.2M106.1 26.29h-1.2M35.37 0v1.2M35.37 105.15v-1.2M0 35.05h1.2M106.1 35.05h-1.2M44.21 0v1.2M44.21 105.15v-1.2M0 43.81h1.2M106.1 43.81h-1.2M53.05 0v1.2M53.05 105.15v-1.2M0 52.57h1.2M106.1 52.57h-1.2M61.89 0v1.2M61.89 105.15v-1.2M0 61.34h1.2M106.1 61.34h-1.2M70.73 0v1.2M70.73 105.15v-1.2M0 70.1h1.2M106.1 70.1h-1.2M79.58 0v1.2M79.58 105.15v-1.2M0 78.86h1.2M106.1 78.86h-1.2M88.42 0v1.2M88.42 105.15v-1.2M0 87.62h1.2M106.1 87.62h-1.2M97.26 0v1.2M97.26 105.15v-1.2M0 96.39h1.2M106.1 96.39h-1.2" stroke="#a8a8a8" stroke-width="0.55" fill="none"/>
<use href="#ct"/>
<g fill="#1db46b"><circle cx="66.6" cy="47.7" r="0.9"/><circle cx="48.1" cy="59.5" r="0.9"/></g>
<g fill="#a3005f"><circle cx="43.5" cy="58.4" r="0.9"/><circle cx="34.9" cy="65.1" r="0.7"/><circle cx="21.1" cy="67.8" r="0.9"/><circle cx="50.3" cy="69.2" r="1.1"/><circle cx="53.3" cy="71.4" r="0.9"/><circle cx="59.3" cy="76.3" r="0.9"/><circle cx="72.4" cy="72" r="1.7"/><circle cx="65.9" cy="78.4" r="2.2"/></g>
</g>
<path d="M1018.29 509.9V515.1M1049.69 509.9V515.1M1125.05 509.9V515.1M1131.33 509.9V515.1M1150.17 509.9V515.1M1183.25 509.9V515.1" stroke="#6a6a6a" stroke-width="1.4" fill="none"/>
<rect x="1002.7" y="497.3" width="10.3" height="12.6" fill="#1db46b"/>
<path d="M1007.7 497.3V487.3L1014.7 480.4" stroke="#333" stroke-width="0.8" fill="none"/>
<text transform="translate(1019.9 481.6) rotate(-42)" font-size="10.3" fill="#111">Primitive</text>
<g transform="translate(1015.15 497.3)">
<g transform="scale(6.2800 6.3000)">
<path fill="#fbfbfb" d="M1 0h1v1h-1zM12 0h1v1h-1zM14 0h1v1h-1zM16 0h1v1h-1zM20 0h3v1h-3zM1 1h1v1h-1zM12 1h3v1h-3zM22 1h1v1h-1z"/>
<path fill="#fddbc7" d="M3 0h1v1h-1zM23 0h1v1h-1zM3 1h2v1h-2zM6 1h1v1h-1zM10 1h1v1h-1zM16 1h1v1h-1zM19 1h3v1h-3z"/>
<path fill="#f4a582" d="M10 0h1v1h-1zM19 0h1v1h-1zM8 1h2v1h-2zM15 1h1v1h-1zM23 1h1v1h-1z"/>
<path fill="#d6604d" d="M4 0h1v1h-1zM6 0h1v1h-1zM8 0h2v1h-2zM15 0h1v1h-1zM24 0h1v1h-1zM11 1h1v1h-1zM24 1h1v1h-1z"/>
<path fill="#b2182b" d="M11 0h1v1h-1zM0 1h1v1h-1zM5 1h1v1h-1z"/>
<path fill="#67001f" d="M0 0h1v1h-1zM2 0h1v1h-1zM5 0h1v1h-1zM7 0h1v1h-1zM17 0h2v1h-2zM2 1h1v1h-1zM7 1h1v1h-1zM17 1h2v1h-2z"/>
<path fill="#d1e5f0" d="M13 0h1v1h-1z"/>
</g>
<path d="M0 0V12.6M6.28 0V12.6M12.56 0V12.6M18.84 0V12.6M25.12 0V12.6M31.4 0V12.6M37.68 0V12.6M43.96 0V12.6M50.24 0V12.6M56.52 0V12.6M62.8 0V12.6M69.08 0V12.6M75.36 0V12.6M81.64 0V12.6M87.92 0V12.6M94.2 0V12.6M100.48 0V12.6M106.76 0V12.6M113.04 0V12.6M119.32 0V12.6M125.6 0V12.6M131.88 0V12.6M138.16 0V12.6M144.44 0V12.6M150.72 0V12.6M157 0V12.6M0 0H157M0 6.3H157M0 12.6H157" stroke="#000" stroke-width="0.31" fill="none" stroke-opacity="0.8"/>
<rect x="0" y="0" width="157" height="12.6" fill="none" stroke="#555" stroke-width="0.5"/>
<path d="M3.14 0v1.3M3.14 12.6v-1.3M9.42 0v1.3M9.42 12.6v-1.3M15.7 0v1.3M15.7 12.6v-1.3M21.98 0v1.3M21.98 12.6v-1.3M28.26 0v1.3M28.26 12.6v-1.3M34.54 0v1.3M34.54 12.6v-1.3M40.82 0v1.3M40.82 12.6v-1.3M47.1 0v1.3M47.1 12.6v-1.3M53.38 0v1.3M53.38 12.6v-1.3M59.66 0v1.3M59.66 12.6v-1.3M65.94 0v1.3M65.94 12.6v-1.3M72.22 0v1.3M72.22 12.6v-1.3M78.5 0v1.3M78.5 12.6v-1.3M84.78 0v1.3M84.78 12.6v-1.3M91.06 0v1.3M91.06 12.6v-1.3M97.34 0v1.3M97.34 12.6v-1.3M103.62 0v1.3M103.62 12.6v-1.3M109.9 0v1.3M109.9 12.6v-1.3M116.18 0v1.3M116.18 12.6v-1.3M122.46 0v1.3M122.46 12.6v-1.3M128.74 0v1.3M128.74 12.6v-1.3M135.02 0v1.3M135.02 12.6v-1.3M141.3 0v1.3M141.3 12.6v-1.3M147.58 0v1.3M147.58 12.6v-1.3M153.86 0v1.3M153.86 12.6v-1.3M0 3.15h1.3M157 3.15h-1.3M0 9.45h1.3M157 9.45h-1.3" stroke="#333" stroke-width="0.45" fill="none"/>
</g>
<g transform="translate(1180.1 497.3)">
<g transform="scale(6.2906 6.3000)">
<path fill="#5b51a3" d="M12 0h1v1h-1zM15 0h1v1h-1zM11 1h2v1h-2zM15 1h1v1h-1z"/>
<path fill="#4667ae" d="M0 0h1v1h-1zM9 0h3v1h-3zM13 0h2v1h-2zM2 1h1v1h-1zM9 1h2v1h-2zM13 1h2v1h-2z"/>
<path fill="#3387bc" d="M3 1h1v1h-1z"/>
<path fill="#4ba4b1" d="M0 1h1v1h-1z"/>
<path fill="#66c2a5" d="M3 0h2v1h-2zM1 1h1v1h-1z"/>
<path fill="#abdda4" d="M5 1h1v1h-1z"/>
<path fill="#fbf8b0" d="M4 1h1v1h-1z"/>
<path fill="#fee08b" d="M1 0h1v1h-1zM5 0h2v1h-2z"/>
<path fill="#fdae61" d="M6 1h2v1h-2z"/>
<path fill="#f46d43" d="M2 0h1v1h-1zM7 0h2v1h-2z"/>
<path fill="#9e0142" d="M8 1h1v1h-1z"/>
</g>
<path d="M0 0V12.6M6.29 0V12.6M12.58 0V12.6M18.87 0V12.6M25.16 0V12.6M31.45 0V12.6M37.74 0V12.6M44.03 0V12.6M50.33 0V12.6M56.62 0V12.6M62.91 0V12.6M69.2 0V12.6M75.49 0V12.6M81.78 0V12.6M88.07 0V12.6M94.36 0V12.6M100.65 0V12.6M0 0H100.65M0 6.3H100.65M0 12.6H100.65" stroke="#000" stroke-width="0.31" fill="none" stroke-opacity="0.8"/>
<rect x="0" y="0" width="100.65" height="12.6" fill="none" stroke="#555" stroke-width="0.5"/>
<path d="M3.15 0v1.3M3.15 12.6v-1.3M9.44 0v1.3M9.44 12.6v-1.3M15.73 0v1.3M15.73 12.6v-1.3M22.02 0v1.3M22.02 12.6v-1.3M28.31 0v1.3M28.31 12.6v-1.3M34.6 0v1.3M34.6 12.6v-1.3M40.89 0v1.3M40.89 12.6v-1.3M47.18 0v1.3M47.18 12.6v-1.3M53.47 0v1.3M53.47 12.6v-1.3M59.76 0v1.3M59.76 12.6v-1.3M66.05 0v1.3M66.05 12.6v-1.3M72.34 0v1.3M72.34 12.6v-1.3M78.63 0v1.3M78.63 12.6v-1.3M84.92 0v1.3M84.92 12.6v-1.3M91.21 0v1.3M91.21 12.6v-1.3M97.5 0v1.3M97.5 12.6v-1.3M0 3.15h1.3M100.65 3.15h-1.3M0 9.45h1.3M100.65 9.45h-1.3" stroke="#333" stroke-width="0.45" fill="none"/>
</g>
<rect x="1002.7" y="515.1" width="10.3" height="56.6" fill="#a3005f"/>
<text transform="translate(1011.5 543.4) rotate(-90)" text-anchor="middle" font-size="10" fill="#fff">Mature</text>
<g transform="translate(1015.15 515.1)">
<g transform="scale(6.2800 6.2889)">
<path fill="#fbfbfb" d="M1 0h1v1h-1zM11 0h3v1h-3zM15 0h1v1h-1zM18 0h1v1h-1zM22 0h1v1h-1zM1 1h1v1h-1zM12 1h7v1h-7zM22 1h3v1h-3zM1 2h1v1h-1zM12 2h1v1h-1zM16 2h1v1h-1zM22 2h2v1h-2zM1 3h1v1h-1zM12 3h1v1h-1zM14 3h2v1h-2zM22 3h2v1h-2zM0 4h2v1h-2zM12 4h1v1h-1zM14 4h5v1h-5zM20 4h1v1h-1zM22 4h2v1h-2zM13 5h2v1h-2zM16 5h1v1h-1zM20 5h1v1h-1zM22 5h1v1h-1zM1 6h1v1h-1zM5 6h1v1h-1zM11 6h2v1h-2zM14 6h1v1h-1zM16 6h2v1h-2zM20 6h1v1h-1zM22 6h1v1h-1zM1 7h1v1h-1zM12 7h1v1h-1zM14 7h2v1h-2zM18 7h1v1h-1zM22 7h1v1h-1zM14 8h1v1h-1zM16 8h1v1h-1zM18 8h1v1h-1zM20 8h1v1h-1zM22 8h1v1h-1z"/>
<path fill="#fddbc7" d="M14 0h1v1h-1zM19 0h2v1h-2zM0 1h1v1h-1zM11 1h1v1h-1zM20 1h1v1h-1zM13 2h3v1h-3zM20 2h1v1h-1zM11 3h1v1h-1zM13 3h1v1h-1zM16 3h1v1h-1zM18 3h1v1h-1zM20 3h1v1h-1zM24 3h1v1h-1zM5 4h1v1h-1zM11 4h1v1h-1zM13 4h1v1h-1zM24 4h1v1h-1zM1 5h1v1h-1zM12 5h1v1h-1zM15 5h1v1h-1zM21 5h1v1h-1zM0 6h1v1h-1zM2 6h1v1h-1zM7 6h1v1h-1zM15 6h1v1h-1zM18 6h1v1h-1zM21 6h1v1h-1zM0 7h1v1h-1zM13 7h1v1h-1zM16 7h2v1h-2zM20 7h1v1h-1zM23 7h2v1h-2zM1 8h1v1h-1zM5 8h1v1h-1zM12 8h2v1h-2zM17 8h1v1h-1zM24 8h1v1h-1z"/>
<path fill="#f4a582" d="M0 0h1v1h-1zM0 2h1v1h-1zM5 2h1v1h-1zM11 2h1v1h-1zM18 2h1v1h-1zM24 2h1v1h-1zM0 3h1v1h-1zM5 3h1v1h-1zM2 4h1v1h-1zM8 4h1v1h-1zM11 5h1v1h-1zM18 5h1v1h-1zM23 5h1v1h-1zM6 6h1v1h-1zM8 6h2v1h-2zM4 7h2v1h-2zM10 7h2v1h-2zM0 8h1v1h-1zM2 8h2v1h-2zM11 8h1v1h-1zM21 8h1v1h-1zM23 8h1v1h-1z"/>
<path fill="#d6604d" d="M3 0h1v1h-1zM5 0h1v1h-1zM8 0h2v1h-2zM17 0h1v1h-1zM4 1h1v1h-1zM8 1h1v1h-1zM10 1h1v1h-1zM8 2h1v1h-1zM21 2h1v1h-1zM2 3h1v1h-1zM8 3h1v1h-1zM21 3h1v1h-1zM6 4h2v1h-2zM9 4h2v1h-2zM17 5h1v1h-1zM24 5h1v1h-1zM3 6h1v1h-1zM10 6h1v1h-1zM19 6h1v1h-1zM3 7h1v1h-1zM6 7h1v1h-1zM8 7h1v1h-1zM19 7h1v1h-1zM21 7h1v1h-1zM4 8h1v1h-1zM6 8h2v1h-2z"/>
<path fill="#b2182b" d="M4 0h1v1h-1zM6 0h1v1h-1zM10 0h1v1h-1zM9 1h1v1h-1zM19 1h1v1h-1zM2 2h1v1h-1zM7 2h1v1h-1zM9 2h2v1h-2zM7 3h1v1h-1zM9 3h1v1h-1zM17 3h1v1h-1zM3 4h2v1h-2zM19 4h1v1h-1zM21 4h1v1h-1zM5 5h1v1h-1zM8 5h1v1h-1zM4 6h1v1h-1zM9 7h1v1h-1zM8 8h1v1h-1zM10 8h1v1h-1zM19 8h1v1h-1z"/>
<path fill="#67001f" d="M2 0h1v1h-1zM7 0h1v1h-1zM21 0h1v1h-1zM2 1h2v1h-2zM5 1h3v1h-3zM21 1h1v1h-1zM3 2h2v1h-2zM6 2h1v1h-1zM17 2h1v1h-1zM19 2h1v1h-1zM3 3h2v1h-2zM6 3h1v1h-1zM10 3h1v1h-1zM19 3h1v1h-1zM0 5h1v1h-1zM2 5h3v1h-3zM6 5h2v1h-2zM9 5h2v1h-2zM19 5h1v1h-1zM2 7h1v1h-1zM7 7h1v1h-1zM9 8h1v1h-1z"/>
<path fill="#d1e5f0" d="M16 0h1v1h-1zM23 0h2v1h-2zM13 6h1v1h-1zM23 6h1v1h-1zM15 8h1v1h-1z"/>
<path fill="#053061" d="M24 6h1v1h-1z"/>
</g>
<path d="M0 0V56.6M6.28 0V56.6M12.56 0V56.6M18.84 0V56.6M25.12 0V56.6M31.4 0V56.6M37.68 0V56.6M43.96 0V56.6M50.24 0V56.6M56.52 0V56.6M62.8 0V56.6M69.08 0V56.6M75.36 0V56.6M81.64 0V56.6M87.92 0V56.6M94.2 0V56.6M100.48 0V56.6M106.76 0V56.6M113.04 0V56.6M119.32 0V56.6M125.6 0V56.6M131.88 0V56.6M138.16 0V56.6M144.44 0V56.6M150.72 0V56.6M157 0V56.6M0 0H157M0 6.29H157M0 12.58H157M0 18.87H157M0 25.16H157M0 31.44H157M0 37.73H157M0 44.02H157M0 50.31H157M0 56.6H157" stroke="#000" stroke-width="0.31" fill="none" stroke-opacity="0.8"/>
<rect x="0" y="0" width="157" height="56.6" fill="none" stroke="#555" stroke-width="0.5"/>
<path d="M3.14 0v1.3M3.14 56.6v-1.3M9.42 0v1.3M9.42 56.6v-1.3M15.7 0v1.3M15.7 56.6v-1.3M21.98 0v1.3M21.98 56.6v-1.3M28.26 0v1.3M28.26 56.6v-1.3M34.54 0v1.3M34.54 56.6v-1.3M40.82 0v1.3M40.82 56.6v-1.3M47.1 0v1.3M47.1 56.6v-1.3M53.38 0v1.3M53.38 56.6v-1.3M59.66 0v1.3M59.66 56.6v-1.3M65.94 0v1.3M65.94 56.6v-1.3M72.22 0v1.3M72.22 56.6v-1.3M78.5 0v1.3M78.5 56.6v-1.3M84.78 0v1.3M84.78 56.6v-1.3M91.06 0v1.3M91.06 56.6v-1.3M97.34 0v1.3M97.34 56.6v-1.3M103.62 0v1.3M103.62 56.6v-1.3M109.9 0v1.3M109.9 56.6v-1.3M116.18 0v1.3M116.18 56.6v-1.3M122.46 0v1.3M122.46 56.6v-1.3M128.74 0v1.3M128.74 56.6v-1.3M135.02 0v1.3M135.02 56.6v-1.3M141.3 0v1.3M141.3 56.6v-1.3M147.58 0v1.3M147.58 56.6v-1.3M153.86 0v1.3M153.86 56.6v-1.3M0 3.14h1.3M157 3.14h-1.3M0 9.43h1.3M157 9.43h-1.3M0 15.72h1.3M157 15.72h-1.3M0 22.01h1.3M157 22.01h-1.3M0 28.3h1.3M157 28.3h-1.3M0 34.59h1.3M157 34.59h-1.3M0 40.88h1.3M157 40.88h-1.3M0 47.17h1.3M157 47.17h-1.3M0 53.46h1.3M157 53.46h-1.3" stroke="#333" stroke-width="0.45" fill="none"/>
</g>
<g transform="translate(1180.1 515.1)">
<g transform="scale(6.2906 6.2889)">
<path fill="#5b51a3" d="M11 0h2v1h-2zM11 1h2v1h-2zM15 1h1v1h-1zM11 2h2v1h-2zM15 2h1v1h-1zM11 3h2v1h-2zM15 3h1v1h-1zM11 4h2v1h-2zM15 4h1v1h-1zM3 5h1v1h-1zM11 5h2v1h-2zM14 5h2v1h-2zM3 6h2v1h-2zM11 6h3v1h-3zM15 6h1v1h-1zM0 7h1v1h-1zM11 7h2v1h-2zM15 7h1v1h-1zM0 8h1v1h-1zM3 8h1v1h-1zM11 8h2v1h-2zM15 8h1v1h-1z"/>
<path fill="#4667ae" d="M2 0h1v1h-1zM13 0h2v1h-2zM0 1h1v1h-1zM2 1h3v1h-3zM13 1h2v1h-2zM0 2h1v1h-1zM2 2h1v1h-1zM10 2h1v1h-1zM13 2h2v1h-2zM0 3h1v1h-1zM2 3h1v1h-1zM13 3h2v1h-2zM0 4h1v1h-1zM2 4h1v1h-1zM4 4h1v1h-1zM13 4h2v1h-2zM0 5h1v1h-1zM2 5h1v1h-1zM9 5h2v1h-2zM13 5h1v1h-1zM0 6h1v1h-1zM2 6h1v1h-1zM2 7h1v1h-1zM5 7h1v1h-1zM10 7h1v1h-1zM13 7h2v1h-2zM1 8h2v1h-2zM4 8h2v1h-2zM9 8h2v1h-2zM13 8h2v1h-2z"/>
<path fill="#3387bc" d="M0 0h1v1h-1zM4 0h1v1h-1zM5 1h1v1h-1zM3 3h1v1h-1zM10 3h1v1h-1zM1 4h1v1h-1zM5 4h1v1h-1zM4 5h1v1h-1zM10 6h1v1h-1zM7 8h1v1h-1z"/>
<path fill="#4ba4b1" d="M3 0h1v1h-1zM1 1h1v1h-1zM7 1h1v1h-1zM10 4h1v1h-1zM5 6h1v1h-1zM1 7h1v1h-1zM3 7h1v1h-1zM7 7h1v1h-1z"/>
<path fill="#66c2a5" d="M4 3h1v1h-1zM9 4h1v1h-1z"/>
<path fill="#abdda4" d="M5 0h1v1h-1zM10 0h1v1h-1zM5 2h1v1h-1zM5 3h1v1h-1zM3 4h1v1h-1zM1 6h1v1h-1zM9 6h1v1h-1z"/>
<path fill="#e6f598" d="M1 0h1v1h-1zM10 1h1v1h-1zM4 2h1v1h-1zM4 7h1v1h-1zM9 7h1v1h-1zM8 8h1v1h-1z"/>
<path fill="#fbf8b0" d="M7 0h1v1h-1zM15 0h1v1h-1zM7 2h1v1h-1zM1 3h1v1h-1zM7 3h1v1h-1zM7 4h1v1h-1zM5 5h1v1h-1zM6 6h1v1h-1z"/>
<path fill="#fee08b" d="M1 2h1v1h-1zM3 2h1v1h-1zM1 5h1v1h-1zM6 5h2v1h-2zM14 6h1v1h-1z"/>
<path fill="#fdae61" d="M6 2h1v1h-1zM7 6h2v1h-2zM6 7h1v1h-1zM8 7h1v1h-1zM6 8h1v1h-1z"/>
<path fill="#f46d43" d="M9 1h1v1h-1zM9 2h1v1h-1zM6 3h1v1h-1zM8 5h1v1h-1z"/>
<path fill="#d53e4f" d="M6 0h1v1h-1zM9 0h1v1h-1zM6 1h1v1h-1zM6 4h1v1h-1z"/>
<path fill="#9e0142" d="M8 0h1v1h-1zM8 1h1v1h-1zM8 2h1v1h-1zM8 3h2v1h-2zM8 4h1v1h-1z"/>
</g>
<path d="M0 0V56.6M6.29 0V56.6M12.58 0V56.6M18.87 0V56.6M25.16 0V56.6M31.45 0V56.6M37.74 0V56.6M44.03 0V56.6M50.33 0V56.6M56.62 0V56.6M62.91 0V56.6M69.2 0V56.6M75.49 0V56.6M81.78 0V56.6M88.07 0V56.6M94.36 0V56.6M100.65 0V56.6M0 0H100.65M0 6.29H100.65M0 12.58H100.65M0 18.87H100.65M0 25.16H100.65M0 31.44H100.65M0 37.73H100.65M0 44.02H100.65M0 50.31H100.65M0 56.6H100.65" stroke="#000" stroke-width="0.31" fill="none" stroke-opacity="0.8"/>
<rect x="0" y="0" width="100.65" height="56.6" fill="none" stroke="#555" stroke-width="0.5"/>
<path d="M3.15 0v1.3M3.15 56.6v-1.3M9.44 0v1.3M9.44 56.6v-1.3M15.73 0v1.3M15.73 56.6v-1.3M22.02 0v1.3M22.02 56.6v-1.3M28.31 0v1.3M28.31 56.6v-1.3M34.6 0v1.3M34.6 56.6v-1.3M40.89 0v1.3M40.89 56.6v-1.3M47.18 0v1.3M47.18 56.6v-1.3M53.47 0v1.3M53.47 56.6v-1.3M59.76 0v1.3M59.76 56.6v-1.3M66.05 0v1.3M66.05 56.6v-1.3M72.34 0v1.3M72.34 56.6v-1.3M78.63 0v1.3M78.63 56.6v-1.3M84.92 0v1.3M84.92 56.6v-1.3M91.21 0v1.3M91.21 56.6v-1.3M97.5 0v1.3M97.5 56.6v-1.3M0 3.14h1.3M100.65 3.14h-1.3M0 9.43h1.3M100.65 9.43h-1.3M0 15.72h1.3M100.65 15.72h-1.3M0 22.01h1.3M100.65 22.01h-1.3M0 28.3h1.3M100.65 28.3h-1.3M0 34.59h1.3M100.65 34.59h-1.3M0 40.88h1.3M100.65 40.88h-1.3M0 47.17h1.3M100.65 47.17h-1.3M0 53.46h1.3M100.65 53.46h-1.3" stroke="#333" stroke-width="0.45" fill="none"/>
</g>
<path d="M1018.29 571.7V576.15L914.15 583.15V586.65M1049.69 571.7V576.15L968.15 583.15V586.65M1125.05 571.7V576.15L1093.15 583.15V586.65M1131.33 571.7V576.15L1106.9 583.15V586.65M1150.17 571.7V576.15L1138.15 583.15V586.65M1183.25 571.7V575.75C1183.25 579.75 1179.5 581.75 1179.5 586.65" stroke="#6a6a6a" stroke-width="1.4" fill="none"/>
<text transform="translate(918.15 588.75) rotate(-90)" text-anchor="end" font-size="11.8" fill="#111" stroke="#111" stroke-width="0.12">G−CSF→pSTAT3</text>
<text transform="translate(929.05 588.75) rotate(-90)" text-anchor="end" font-size="5.95" fill="#222" stroke="#222" stroke-width="0.22">IL−3→pSTAT3</text>
<text transform="translate(938.65 588.75) rotate(-90)" text-anchor="end" font-size="5.95" fill="#222" stroke="#222" stroke-width="0.22">IL−3→pSTAT5</text>
<text transform="translate(947.4 588.75) rotate(-90)" text-anchor="end" font-size="5.95" fill="#222" stroke="#222" stroke-width="0.22">PVO4→pZAP70/SYK</text>
<text transform="translate(957.15 588.75) rotate(-90)" text-anchor="end" font-size="5.95" fill="#222" stroke="#222" stroke-width="0.22">PVO4→pP38</text>
<text transform="translate(972.15 588.75) rotate(-90)" text-anchor="end" font-size="11.8" fill="#111" stroke="#111" stroke-width="0.12">G−CSF→pSTAT5</text>
<text transform="translate(981.55 588.75) rotate(-90)" text-anchor="end" font-size="5.95" fill="#222" stroke="#222" stroke-width="0.22">PVO4→pERK1/2</text>
<text transform="translate(991.75 588.75) rotate(-90)" text-anchor="end" font-size="5.95" fill="#222" stroke="#222" stroke-width="0.22">GM−CSF→pSTAT5</text>
<text transform="translate(1001.9 588.75) rotate(-90)" text-anchor="end" font-size="5.95" fill="#222" stroke="#222" stroke-width="0.22">PVO4→pSTAT5</text>
<text transform="translate(1011.9 588.75) rotate(-90)" text-anchor="end" font-size="5.95" fill="#222" stroke="#222" stroke-width="0.22">PVO4→pPLCg2</text>
<text transform="translate(1022.15 588.75) rotate(-90)" text-anchor="end" font-size="5.95" fill="#222" stroke="#222" stroke-width="0.22">PVO4→pSTAT3</text>
<text transform="translate(1032.4 588.75) rotate(-90)" text-anchor="end" font-size="5.95" fill="#222" stroke="#222" stroke-width="0.22">PVO4→pS6</text>
<text transform="translate(1042.4 588.75) rotate(-90)" text-anchor="end" font-size="5.95" fill="#222" stroke="#222" stroke-width="0.22">GM−CSF→pSTAT3</text>
<text transform="translate(1052.75 588.75) rotate(-90)" text-anchor="end" font-size="5.95" fill="#222" stroke="#222" stroke-width="0.22">GM−CSF→pCREB</text>
<text transform="translate(1063.25 588.75) rotate(-90)" text-anchor="end" font-size="5.95" fill="#222" stroke="#222" stroke-width="0.22">PMA/iono.→pP38</text>
<text transform="translate(1073.4 588.75) rotate(-90)" text-anchor="end" font-size="5.95" fill="#222" stroke="#222" stroke-width="0.22">PVO4→pAKT</text>
<text transform="translate(1083.65 588.75) rotate(-90)" text-anchor="end" font-size="5.95" fill="#222" stroke="#222" stroke-width="0.22">GM−CSF→pS6</text>
<text transform="translate(1097.15 588.75) rotate(-90)" text-anchor="end" font-size="11.8" fill="#111" stroke="#111" stroke-width="0.12">FLT3L→pAKT</text>
<text transform="translate(1110.9 588.75) rotate(-90)" text-anchor="end" font-size="11.8" fill="#111" stroke="#111" stroke-width="0.12">SCF→pAKT</text>
<text transform="translate(1119.9 588.75) rotate(-90)" text-anchor="end" font-size="5.95" fill="#222" stroke="#222" stroke-width="0.22">PVO4→pCBL</text>
<text transform="translate(1128.15 588.75) rotate(-90)" text-anchor="end" font-size="5.95" fill="#222" stroke="#222" stroke-width="0.22">IL−3→pS6</text>
<text transform="translate(1142.15 588.75) rotate(-90)" text-anchor="end" font-size="11.8" fill="#111" stroke="#111" stroke-width="0.12">IL−10→pSTAT3</text>
<text transform="translate(1151.15 588.75) rotate(-90)" text-anchor="end" font-size="5.95" fill="#222" stroke="#222" stroke-width="0.22">GM−CSF→pERK1/2</text>
<text transform="translate(1158.65 588.75) rotate(-90)" text-anchor="end" font-size="5.95" fill="#222" stroke="#222" stroke-width="0.22">PVO4→pCREB</text>
<text transform="translate(1166.55 588.75) rotate(-90)" text-anchor="end" font-size="5.95" fill="#222" stroke="#222" stroke-width="0.22">G−CSF→pCREB</text>
<text transform="translate(1183.4 588.75) rotate(-90)" text-anchor="end" font-size="11.8" fill="#111" stroke="#111" stroke-width="0.12">CD34</text>
<text transform="translate(1189.75 588.75) rotate(-90)" text-anchor="end" font-size="5.95" fill="#222" stroke="#222" stroke-width="0.22">CD38</text>
<text transform="translate(1196.49 588.75) rotate(-90)" text-anchor="end" font-size="5.95" fill="#222" stroke="#222" stroke-width="0.22">CD117</text>
<text transform="translate(1203.23 588.75) rotate(-90)" text-anchor="end" font-size="5.95" fill="#222" stroke="#222" stroke-width="0.22">HLA−DR</text>
<text transform="translate(1209.97 588.75) rotate(-90)" text-anchor="end" font-size="5.95" fill="#222" stroke="#222" stroke-width="0.22">CD123</text>
<text transform="translate(1216.71 588.75) rotate(-90)" text-anchor="end" font-size="5.95" fill="#222" stroke="#222" stroke-width="0.22">CD33</text>
<text transform="translate(1223.45 588.75) rotate(-90)" text-anchor="end" font-size="5.95" fill="#222" stroke="#222" stroke-width="0.22">CD45</text>
<text transform="translate(1230.19 588.75) rotate(-90)" text-anchor="end" font-size="5.95" fill="#222" stroke="#222" stroke-width="0.22">CD47</text>
<text transform="translate(1236.93 588.75) rotate(-90)" text-anchor="end" font-size="5.95" fill="#222" stroke="#222" stroke-width="0.22">CD44</text>
<text transform="translate(1243.67 588.75) rotate(-90)" text-anchor="end" font-size="5.95" fill="#222" stroke="#222" stroke-width="0.22">CD64</text>
<text transform="translate(1250.41 588.75) rotate(-90)" text-anchor="end" font-size="5.95" fill="#222" stroke="#222" stroke-width="0.22">CD11b</text>
<text transform="translate(1257.15 588.75) rotate(-90)" text-anchor="end" font-size="5.95" fill="#222" stroke="#222" stroke-width="0.22">CD7</text>
<text transform="translate(1263.89 588.75) rotate(-90)" text-anchor="end" font-size="5.95" fill="#222" stroke="#222" stroke-width="0.22">CD3</text>
<text transform="translate(1270.63 588.75) rotate(-90)" text-anchor="end" font-size="5.95" fill="#222" stroke="#222" stroke-width="0.22">CD19</text>
<text transform="translate(1277.37 588.75) rotate(-90)" text-anchor="end" font-size="5.95" fill="#222" stroke="#222" stroke-width="0.22">CD15</text>
<text transform="translate(1284.11 588.75) rotate(-90)" text-anchor="end" font-size="5.95" fill="#222" stroke="#222" stroke-width="0.22">CD41</text>
</g>
<g id="SJ09">
<text x="52.2" y="740.3" font-size="36" fill="#000" stroke="#000" stroke-width="0.25">SJ09</text>
<g transform="translate(48.1 746)">
<rect x="0" y="0" width="106.1" height="105.5" fill="#fff" stroke="#bdbdbd" stroke-width="0.65"/>
<path d="M8.84 0v1.2M8.84 105.5v-1.2M0 8.79h1.2M106.1 8.79h-1.2M17.68 0v1.2M17.68 105.5v-1.2M0 17.58h1.2M106.1 17.58h-1.2M26.52 0v1.2M26.52 105.5v-1.2M0 26.38h1.2M106.1 26.38h-1.2M35.37 0v1.2M35.37 105.5v-1.2M0 35.17h1.2M106.1 35.17h-1.2M44.21 0v1.2M44.21 105.5v-1.2M0 43.96h1.2M106.1 43.96h-1.2M53.05 0v1.2M53.05 105.5v-1.2M0 52.75h1.2M106.1 52.75h-1.2M61.89 0v1.2M61.89 105.5v-1.2M0 61.54h1.2M106.1 61.54h-1.2M70.73 0v1.2M70.73 105.5v-1.2M0 70.33h1.2M106.1 70.33h-1.2M79.58 0v1.2M79.58 105.5v-1.2M0 79.12h1.2M106.1 79.12h-1.2M88.42 0v1.2M88.42 105.5v-1.2M0 87.92h1.2M106.1 87.92h-1.2M97.26 0v1.2M97.26 105.5v-1.2M0 96.71h1.2M106.1 96.71h-1.2" stroke="#a8a8a8" stroke-width="0.55" fill="none"/>
<use href="#ct"/>
<g fill="#a3005f"><circle cx="66.5" cy="48.7" r="1.4"/><circle cx="41.6" cy="61" r="1.6"/><circle cx="44" cy="61.3" r="1.6"/><circle cx="42.8" cy="62.8" r="1.2"/><circle cx="37.4" cy="58.3" r="1"/><circle cx="37" cy="61.7" r="1.1"/><circle cx="31.3" cy="60" r="1"/><circle cx="30.4" cy="62.2" r="0.8"/><circle cx="33" cy="62.2" r="0.6"/><circle cx="24.8" cy="65.7" r="1.1"/><circle cx="21.7" cy="68.7" r="0.6"/><circle cx="23.9" cy="68.7" r="0.4"/><circle cx="57.8" cy="80.4" r="0.5"/></g>
</g>
<rect x="163.1" y="735.4" width="10.3" height="112.8" fill="#a3005f"/>
<text transform="translate(171.9 791.8) rotate(-90)" text-anchor="middle" font-size="10" fill="#fff">Mature</text>
<g transform="translate(175.5 735.4)">
<g transform="scale(6.2800 6.2667)">
<path fill="#fbfbfb" d="M0 0h2v1h-2zM5 0h3v1h-3zM12 0h2v1h-2zM16 0h2v1h-2zM20 0h3v1h-3zM24 0h1v1h-1zM0 1h2v1h-2zM7 1h1v1h-1zM12 1h1v1h-1zM15 1h3v1h-3zM20 1h3v1h-3zM1 2h1v1h-1zM7 2h1v1h-1zM12 2h2v1h-2zM16 2h2v1h-2zM21 2h2v1h-2zM24 2h1v1h-1zM1 3h1v1h-1zM6 3h2v1h-2zM12 3h2v1h-2zM16 3h1v1h-1zM20 3h3v1h-3zM1 4h1v1h-1zM7 4h1v1h-1zM12 4h2v1h-2zM16 4h1v1h-1zM20 4h3v1h-3zM24 4h1v1h-1zM0 5h2v1h-2zM5 5h1v1h-1zM11 5h3v1h-3zM15 5h3v1h-3zM20 5h3v1h-3zM24 5h1v1h-1zM1 6h1v1h-1zM6 6h2v1h-2zM12 6h1v1h-1zM16 6h1v1h-1zM20 6h3v1h-3zM24 6h1v1h-1zM5 7h1v1h-1zM7 7h1v1h-1zM12 7h2v1h-2zM16 7h1v1h-1zM22 7h2v1h-2zM0 8h1v1h-1zM12 8h1v1h-1zM14 8h2v1h-2zM22 8h1v1h-1zM0 9h2v1h-2zM12 9h2v1h-2zM21 9h2v1h-2zM0 10h2v1h-2zM5 10h3v1h-3zM12 10h2v1h-2zM15 10h3v1h-3zM20 10h3v1h-3zM24 10h1v1h-1zM1 11h1v1h-1zM12 11h3v1h-3zM16 11h1v1h-1zM21 11h2v1h-2zM24 11h1v1h-1zM0 12h2v1h-2zM5 12h1v1h-1zM7 12h1v1h-1zM12 12h2v1h-2zM15 12h3v1h-3zM20 12h3v1h-3zM24 12h1v1h-1zM1 13h5v1h-5zM7 13h3v1h-3zM11 13h1v1h-1zM13 13h1v1h-1zM15 13h8v1h-8zM24 13h1v1h-1zM1 14h1v1h-1zM12 14h2v1h-2zM16 14h1v1h-1zM21 14h2v1h-2zM24 14h1v1h-1zM1 15h1v1h-1zM5 15h1v1h-1zM12 15h2v1h-2zM15 15h2v1h-2zM20 15h3v1h-3zM4 16h1v1h-1zM8 16h1v1h-1zM12 16h1v1h-1zM19 16h1v1h-1zM22 16h1v1h-1zM0 17h2v1h-2zM7 17h1v1h-1zM13 17h1v1h-1zM16 17h3v1h-3zM20 17h3v1h-3z"/>
<path fill="#fddbc7" d="M2 0h1v1h-1zM15 0h1v1h-1zM18 0h2v1h-2zM23 0h1v1h-1zM2 1h3v1h-3zM8 1h1v1h-1zM10 1h1v1h-1zM18 1h2v1h-2zM23 1h1v1h-1zM0 2h1v1h-1zM2 2h1v1h-1zM6 2h1v1h-1zM15 2h1v1h-1zM20 2h1v1h-1zM23 2h1v1h-1zM0 3h1v1h-1zM2 3h1v1h-1zM15 3h1v1h-1zM17 3h1v1h-1zM23 3h1v1h-1zM0 4h1v1h-1zM2 4h1v1h-1zM6 4h1v1h-1zM15 4h1v1h-1zM17 4h1v1h-1zM23 4h1v1h-1zM2 5h1v1h-1zM7 5h1v1h-1zM18 5h1v1h-1zM23 5h1v1h-1zM0 6h1v1h-1zM2 6h1v1h-1zM11 6h1v1h-1zM15 6h1v1h-1zM17 6h1v1h-1zM23 6h1v1h-1zM0 7h1v1h-1zM4 7h1v1h-1zM20 7h2v1h-2zM1 8h1v1h-1zM13 8h1v1h-1zM16 8h1v1h-1zM18 8h1v1h-1zM20 8h1v1h-1zM23 8h1v1h-1zM16 9h1v1h-1zM18 9h1v1h-1zM20 9h1v1h-1zM2 10h1v1h-1zM11 10h1v1h-1zM23 10h1v1h-1zM5 11h1v1h-1zM7 11h1v1h-1zM15 11h1v1h-1zM17 11h1v1h-1zM20 11h1v1h-1zM2 12h1v1h-1zM6 12h1v1h-1zM18 12h1v1h-1zM23 12h1v1h-1zM0 14h1v1h-1zM7 14h1v1h-1zM15 14h1v1h-1zM17 14h1v1h-1zM20 14h1v1h-1zM23 14h1v1h-1zM2 15h1v1h-1zM6 15h2v1h-2zM11 15h1v1h-1zM17 15h1v1h-1zM24 15h1v1h-1zM2 16h2v1h-2zM5 16h2v1h-2zM13 16h1v1h-1zM23 16h1v1h-1z"/>
<path fill="#f4a582" d="M4 0h1v1h-1zM8 0h1v1h-1zM10 0h1v1h-1zM11 1h1v1h-1zM18 2h1v1h-1zM4 3h1v1h-1zM8 3h1v1h-1zM10 3h2v1h-2zM18 3h2v1h-2zM4 4h1v1h-1zM10 4h2v1h-2zM18 4h2v1h-2zM10 5h1v1h-1zM3 6h2v1h-2zM8 6h3v1h-3zM18 6h2v1h-2zM1 7h3v1h-3zM8 7h4v1h-4zM15 7h1v1h-1zM19 7h1v1h-1zM5 8h1v1h-1zM7 8h1v1h-1zM17 8h1v1h-1zM24 8h1v1h-1zM2 9h1v1h-1zM15 9h1v1h-1zM17 9h1v1h-1zM23 9h1v1h-1zM3 10h2v1h-2zM8 10h3v1h-3zM18 10h2v1h-2zM0 11h1v1h-1zM2 11h1v1h-1zM6 11h1v1h-1zM11 11h1v1h-1zM23 11h1v1h-1zM3 12h2v1h-2zM10 12h2v1h-2zM19 12h1v1h-1zM2 14h1v1h-1zM11 14h1v1h-1zM18 14h1v1h-1zM3 15h1v1h-1zM18 15h2v1h-2zM23 15h1v1h-1zM9 16h3v1h-3zM20 16h1v1h-1zM2 17h2v1h-2zM6 17h1v1h-1zM11 17h1v1h-1zM23 17h1v1h-1z"/>
<path fill="#d6604d" d="M3 0h1v1h-1zM9 0h1v1h-1zM11 0h1v1h-1zM9 1h1v1h-1zM4 2h1v1h-1zM8 2h4v1h-4zM19 2h1v1h-1zM3 3h1v1h-1zM9 3h1v1h-1zM3 4h1v1h-1zM8 4h2v1h-2zM4 5h1v1h-1zM8 5h2v1h-2zM17 7h2v1h-2zM2 8h1v1h-1zM21 8h1v1h-1zM19 11h1v1h-1zM8 12h2v1h-2zM6 14h1v1h-1zM4 15h1v1h-1zM8 15h3v1h-3zM1 16h1v1h-1zM4 17h1v1h-1zM19 17h1v1h-1z"/>
<path fill="#b2182b" d="M3 2h1v1h-1zM6 5h1v1h-1zM11 8h1v1h-1zM11 9h1v1h-1zM3 11h2v1h-2zM8 11h3v1h-3zM18 11h1v1h-1zM3 14h1v1h-1zM8 14h3v1h-3zM8 17h3v1h-3z"/>
<path fill="#67001f" d="M3 5h1v1h-1zM19 5h1v1h-1zM3 8h2v1h-2zM6 8h1v1h-1zM8 8h3v1h-3zM19 8h1v1h-1zM3 9h2v1h-2zM6 9h1v1h-1zM8 9h3v1h-3zM19 9h1v1h-1zM4 14h1v1h-1zM19 14h1v1h-1z"/>
<path fill="#d1e5f0" d="M14 0h1v1h-1zM5 1h2v1h-2zM13 1h2v1h-2zM24 1h1v1h-1zM5 2h1v1h-1zM14 2h1v1h-1zM5 3h1v1h-1zM14 3h1v1h-1zM24 3h1v1h-1zM5 4h1v1h-1zM14 4h1v1h-1zM14 5h1v1h-1zM5 6h1v1h-1zM13 6h2v1h-2zM6 7h1v1h-1zM14 7h1v1h-1zM24 7h1v1h-1zM5 9h1v1h-1zM7 9h1v1h-1zM14 9h1v1h-1zM24 9h1v1h-1zM14 10h1v1h-1zM14 12h1v1h-1zM0 13h1v1h-1zM10 13h1v1h-1zM12 13h1v1h-1zM14 13h1v1h-1zM23 13h1v1h-1zM5 14h1v1h-1zM14 14h1v1h-1zM0 15h1v1h-1zM14 15h1v1h-1zM0 16h1v1h-1zM7 16h1v1h-1zM14 16h2v1h-2zM5 17h1v1h-1zM12 17h1v1h-1zM14 17h2v1h-2z"/>
<path fill="#92c5de" d="M6 13h1v1h-1zM16 16h1v1h-1zM21 16h1v1h-1zM24 16h1v1h-1zM24 17h1v1h-1z"/>
<path fill="#053061" d="M17 16h2v1h-2z"/>
</g>
<path d="M0 0V112.8M6.28 0V112.8M12.56 0V112.8M18.84 0V112.8M25.12 0V112.8M31.4 0V112.8M37.68 0V112.8M43.96 0V112.8M50.24 0V112.8M56.52 0V112.8M62.8 0V112.8M69.08 0V112.8M75.36 0V112.8M81.64 0V112.8M87.92 0V112.8M94.2 0V112.8M100.48 0V112.8M106.76 0V112.8M113.04 0V112.8M119.32 0V112.8M125.6 0V112.8M131.88 0V112.8M138.16 0V112.8M144.44 0V112.8M150.72 0V112.8M157 0V112.8M0 0H157M0 6.27H157M0 12.53H157M0 18.8H157M0 25.07H157M0 31.33H157M0 37.6H157M0 43.87H157M0 50.13H157M0 56.4H157M0 62.67H157M0 68.93H157M0 75.2H157M0 81.47H157M0 87.73H157M0 94H157M0 100.27H157M0 106.53H157M0 112.8H157" stroke="#000" stroke-width="0.31" fill="none" stroke-opacity="0.8"/>
<rect x="0" y="0" width="157" height="112.8" fill="none" stroke="#555" stroke-width="0.5"/>
<path d="M3.14 0v1.3M3.14 112.8v-1.3M9.42 0v1.3M9.42 112.8v-1.3M15.7 0v1.3M15.7 112.8v-1.3M21.98 0v1.3M21.98 112.8v-1.3M28.26 0v1.3M28.26 112.8v-1.3M34.54 0v1.3M34.54 112.8v-1.3M40.82 0v1.3M40.82 112.8v-1.3M47.1 0v1.3M47.1 112.8v-1.3M53.38 0v1.3M53.38 112.8v-1.3M59.66 0v1.3M59.66 112.8v-1.3M65.94 0v1.3M65.94 112.8v-1.3M72.22 0v1.3M72.22 112.8v-1.3M78.5 0v1.3M78.5 112.8v-1.3M84.78 0v1.3M84.78 112.8v-1.3M91.06 0v1.3M91.06 112.8v-1.3M97.34 0v1.3M97.34 112.8v-1.3M103.62 0v1.3M103.62 112.8v-1.3M109.9 0v1.3M109.9 112.8v-1.3M116.18 0v1.3M116.18 112.8v-1.3M122.46 0v1.3M122.46 112.8v-1.3M128.74 0v1.3M128.74 112.8v-1.3M135.02 0v1.3M135.02 112.8v-1.3M141.3 0v1.3M141.3 112.8v-1.3M147.58 0v1.3M147.58 112.8v-1.3M153.86 0v1.3M153.86 112.8v-1.3M0 3.13h1.3M157 3.13h-1.3M0 9.4h1.3M157 9.4h-1.3M0 15.67h1.3M157 15.67h-1.3M0 21.93h1.3M157 21.93h-1.3M0 28.2h1.3M157 28.2h-1.3M0 34.47h1.3M157 34.47h-1.3M0 40.73h1.3M157 40.73h-1.3M0 47h1.3M157 47h-1.3M0 53.27h1.3M157 53.27h-1.3M0 59.53h1.3M157 59.53h-1.3M0 65.8h1.3M157 65.8h-1.3M0 72.07h1.3M157 72.07h-1.3M0 78.33h1.3M157 78.33h-1.3M0 84.6h1.3M157 84.6h-1.3M0 90.87h1.3M157 90.87h-1.3M0 97.13h1.3M157 97.13h-1.3M0 103.4h1.3M157 103.4h-1.3M0 109.67h1.3M157 109.67h-1.3" stroke="#333" stroke-width="0.45" fill="none"/>
</g>
<g transform="translate(340.5 735.4)">
<g transform="scale(6.2906 6.2667)">
<path fill="#5b51a3" d="M3 0h1v1h-1zM11 0h2v1h-2zM15 0h1v1h-1zM3 1h1v1h-1zM10 1h3v1h-3zM15 1h1v1h-1zM3 2h1v1h-1zM11 2h2v1h-2zM15 2h1v1h-1zM3 3h1v1h-1zM11 3h2v1h-2zM15 3h1v1h-1zM3 4h1v1h-1zM10 4h3v1h-3zM15 4h1v1h-1zM3 5h1v1h-1zM11 5h2v1h-2zM11 6h2v1h-2zM15 6h1v1h-1zM3 7h1v1h-1zM12 7h1v1h-1zM15 7h1v1h-1zM11 8h3v1h-3zM15 8h1v1h-1zM3 9h1v1h-1zM10 9h3v1h-3zM14 9h2v1h-2zM3 10h1v1h-1zM9 10h4v1h-4zM15 10h1v1h-1zM3 11h1v1h-1zM11 11h2v1h-2zM15 11h1v1h-1zM0 12h1v1h-1zM3 12h1v1h-1zM10 12h6v1h-6zM0 13h1v1h-1zM3 13h1v1h-1zM11 13h3v1h-3zM15 13h1v1h-1zM0 14h1v1h-1zM3 14h1v1h-1zM10 14h4v1h-4zM15 14h1v1h-1zM0 15h1v1h-1zM3 15h1v1h-1zM9 15h5v1h-5zM15 15h1v1h-1zM0 16h1v1h-1zM3 16h2v1h-2zM12 16h2v1h-2zM15 16h1v1h-1zM0 17h1v1h-1zM3 17h1v1h-1zM9 17h5v1h-5zM15 17h1v1h-1z"/>
<path fill="#4667ae" d="M2 0h1v1h-1zM9 0h2v1h-2zM13 0h2v1h-2zM1 1h2v1h-2zM5 1h1v1h-1zM9 1h1v1h-1zM13 1h2v1h-2zM9 2h1v1h-1zM13 2h2v1h-2zM2 3h1v1h-1zM9 3h2v1h-2zM13 3h2v1h-2zM9 4h1v1h-1zM13 4h2v1h-2zM2 5h1v1h-1zM4 5h1v1h-1zM10 5h1v1h-1zM14 5h1v1h-1zM0 6h1v1h-1zM9 6h2v1h-2zM13 6h2v1h-2zM0 7h3v1h-3zM9 7h2v1h-2zM13 7h1v1h-1zM0 8h1v1h-1zM2 8h1v1h-1zM14 8h1v1h-1zM0 9h1v1h-1zM2 9h1v1h-1zM9 9h1v1h-1zM0 10h3v1h-3zM13 10h1v1h-1zM0 11h1v1h-1zM9 11h2v1h-2zM13 11h2v1h-2zM2 12h1v1h-1zM9 12h1v1h-1zM2 13h1v1h-1zM4 13h1v1h-1zM2 14h1v1h-1zM9 14h1v1h-1zM14 14h1v1h-1zM14 15h1v1h-1zM1 16h2v1h-2zM5 16h1v1h-1zM9 16h2v1h-2zM2 17h1v1h-1zM4 17h2v1h-2zM14 17h1v1h-1z"/>
<path fill="#3387bc" d="M1 0h1v1h-1zM2 2h1v1h-1zM0 3h1v1h-1zM0 4h1v1h-1zM0 5h2v1h-2zM5 5h1v1h-1zM9 5h1v1h-1zM13 5h1v1h-1zM2 6h1v1h-1zM11 7h1v1h-1zM1 12h1v1h-1zM5 12h1v1h-1zM4 14h1v1h-1zM4 15h1v1h-1zM6 16h1v1h-1zM11 16h1v1h-1zM1 17h1v1h-1z"/>
<path fill="#4ba4b1" d="M4 1h1v1h-1zM1 2h1v1h-1zM1 3h1v1h-1zM1 4h1v1h-1zM4 7h1v1h-1zM4 8h1v1h-1zM1 9h1v1h-1zM5 9h1v1h-1zM4 10h1v1h-1zM4 11h1v1h-1zM5 15h1v1h-1z"/>
<path fill="#66c2a5" d="M4 0h2v1h-2zM0 2h1v1h-1zM4 2h1v1h-1zM4 4h1v1h-1zM1 6h1v1h-1zM4 6h1v1h-1zM4 9h1v1h-1zM5 10h1v1h-1zM4 12h1v1h-1zM1 15h1v1h-1z"/>
<path fill="#abdda4" d="M0 1h1v1h-1zM7 1h1v1h-1zM5 2h1v1h-1zM10 2h1v1h-1zM4 3h1v1h-1zM2 4h1v1h-1zM5 4h1v1h-1zM8 5h1v1h-1zM3 6h1v1h-1zM5 7h1v1h-1zM3 8h1v1h-1zM10 8h1v1h-1zM13 9h1v1h-1zM14 10h1v1h-1zM1 13h1v1h-1zM5 13h1v1h-1zM9 13h2v1h-2zM14 13h1v1h-1zM5 14h1v1h-1zM7 17h2v1h-2z"/>
<path fill="#e6f598" d="M0 0h1v1h-1zM8 1h1v1h-1zM5 3h1v1h-1zM6 5h1v1h-1zM5 6h1v1h-1zM7 8h1v1h-1zM8 10h1v1h-1zM8 13h1v1h-1zM8 14h1v1h-1zM2 15h1v1h-1zM8 15h1v1h-1zM6 17h1v1h-1z"/>
<path fill="#fbf8b0" d="M7 5h1v1h-1zM1 8h1v1h-1zM5 8h1v1h-1zM6 9h2v1h-2zM6 10h2v1h-2zM1 11h1v1h-1zM5 11h1v1h-1zM7 12h1v1h-1zM1 14h1v1h-1zM6 15h2v1h-2z"/>
<path fill="#fee08b" d="M6 0h2v1h-2zM6 1h1v1h-1zM6 2h2v1h-2zM6 4h2v1h-2zM6 6h2v1h-2zM6 7h2v1h-2zM9 8h1v1h-1zM8 9h1v1h-1zM6 11h1v1h-1zM8 11h1v1h-1zM6 12h1v1h-1zM8 12h1v1h-1zM6 13h1v1h-1zM6 14h2v1h-2z"/>
<path fill="#fdae61" d="M8 2h1v1h-1zM6 3h2v1h-2zM8 4h1v1h-1zM8 6h1v1h-1zM14 7h1v1h-1zM6 8h1v1h-1zM2 11h1v1h-1zM7 11h1v1h-1zM7 16h1v1h-1zM14 16h1v1h-1z"/>
<path fill="#f46d43" d="M8 0h1v1h-1zM15 5h1v1h-1zM7 13h1v1h-1z"/>
<path fill="#d53e4f" d="M8 3h1v1h-1zM8 7h1v1h-1zM8 8h1v1h-1zM8 16h1v1h-1z"/>
</g>
<path d="M0 0V112.8M6.29 0V112.8M12.58 0V112.8M18.87 0V112.8M25.16 0V112.8M31.45 0V112.8M37.74 0V112.8M44.03 0V112.8M50.33 0V112.8M56.62 0V112.8M62.91 0V112.8M69.2 0V112.8M75.49 0V112.8M81.78 0V112.8M88.07 0V112.8M94.36 0V112.8M100.65 0V112.8M0 0H100.65M0 6.27H100.65M0 12.53H100.65M0 18.8H100.65M0 25.07H100.65M0 31.33H100.65M0 37.6H100.65M0 43.87H100.65M0 50.13H100.65M0 56.4H100.65M0 62.67H100.65M0 68.93H100.65M0 75.2H100.65M0 81.47H100.65M0 87.73H100.65M0 94H100.65M0 100.27H100.65M0 106.53H100.65M0 112.8H100.65" stroke="#000" stroke-width="0.31" fill="none" stroke-opacity="0.8"/>
<rect x="0" y="0" width="100.65" height="112.8" fill="none" stroke="#555" stroke-width="0.5"/>
<path d="M3.15 0v1.3M3.15 112.8v-1.3M9.44 0v1.3M9.44 112.8v-1.3M15.73 0v1.3M15.73 112.8v-1.3M22.02 0v1.3M22.02 112.8v-1.3M28.31 0v1.3M28.31 112.8v-1.3M34.6 0v1.3M34.6 112.8v-1.3M40.89 0v1.3M40.89 112.8v-1.3M47.18 0v1.3M47.18 112.8v-1.3M53.47 0v1.3M53.47 112.8v-1.3M59.76 0v1.3M59.76 112.8v-1.3M66.05 0v1.3M66.05 112.8v-1.3M72.34 0v1.3M72.34 112.8v-1.3M78.63 0v1.3M78.63 112.8v-1.3M84.92 0v1.3M84.92 112.8v-1.3M91.21 0v1.3M91.21 112.8v-1.3M97.5 0v1.3M97.5 112.8v-1.3M0 3.13h1.3M100.65 3.13h-1.3M0 9.4h1.3M100.65 9.4h-1.3M0 15.67h1.3M100.65 15.67h-1.3M0 21.93h1.3M100.65 21.93h-1.3M0 28.2h1.3M100.65 28.2h-1.3M0 34.47h1.3M100.65 34.47h-1.3M0 40.73h1.3M100.65 40.73h-1.3M0 47h1.3M100.65 47h-1.3M0 53.27h1.3M100.65 53.27h-1.3M0 59.53h1.3M100.65 59.53h-1.3M0 65.8h1.3M100.65 65.8h-1.3M0 72.07h1.3M100.65 72.07h-1.3M0 78.33h1.3M100.65 78.33h-1.3M0 84.6h1.3M100.65 84.6h-1.3M0 90.87h1.3M100.65 90.87h-1.3M0 97.13h1.3M100.65 97.13h-1.3M0 103.4h1.3M100.65 103.4h-1.3M0 109.67h1.3M100.65 109.67h-1.3" stroke="#333" stroke-width="0.45" fill="none"/>
</g>
<path d="M178.64 848.2V852.65L74.5 859.65V863.15M210.04 848.2V852.65L128.5 859.65V863.15M285.4 848.2V852.65L253.5 859.65V863.15M291.68 848.2V852.65L267.25 859.65V863.15M310.52 848.2V852.65L298.5 859.65V863.15M343.65 848.2V852.25C343.65 856.25 339.9 858.25 339.9 863.15" stroke="#6a6a6a" stroke-width="1.4" fill="none"/>
<text transform="translate(78.5 865.25) rotate(-90)" text-anchor="end" font-size="11.8" fill="#111" stroke="#111" stroke-width="0.12">G−CSF→pSTAT3</text>
<text transform="translate(89.4 865.25) rotate(-90)" text-anchor="end" font-size="5.95" fill="#222" stroke="#222" stroke-width="0.22">IL−3→pSTAT3</text>
<text transform="translate(99 865.25) rotate(-90)" text-anchor="end" font-size="5.95" fill="#222" stroke="#222" stroke-width="0.22">IL−3→pSTAT5</text>
<text transform="translate(107.75 865.25) rotate(-90)" text-anchor="end" font-size="5.95" fill="#222" stroke="#222" stroke-width="0.22">PVO4→pZAP70/SYK</text>
<text transform="translate(117.5 865.25) rotate(-90)" text-anchor="end" font-size="5.95" fill="#222" stroke="#222" stroke-width="0.22">PVO4→pP38</text>
<text transform="translate(132.5 865.25) rotate(-90)" text-anchor="end" font-size="11.8" fill="#111" stroke="#111" stroke-width="0.12">G−CSF→pSTAT5</text>
<text transform="translate(141.9 865.25) rotate(-90)" text-anchor="end" font-size="5.95" fill="#222" stroke="#222" stroke-width="0.22">PVO4→pERK1/2</text>
<text transform="translate(152.1 865.25) rotate(-90)" text-anchor="end" font-size="5.95" fill="#222" stroke="#222" stroke-width="0.22">GM−CSF→pSTAT5</text>
<text transform="translate(162.25 865.25) rotate(-90)" text-anchor="end" font-size="5.95" fill="#222" stroke="#222" stroke-width="0.22">PVO4→pSTAT5</text>
<text transform="translate(172.25 865.25) rotate(-90)" text-anchor="end" font-size="5.95" fill="#222" stroke="#222" stroke-width="0.22">PVO4→pPLCg2</text>
<text transform="translate(182.5 865.25) rotate(-90)" text-anchor="end" font-size="5.95" fill="#222" stroke="#222" stroke-width="0.22">PVO4→pSTAT3</text>
<text transform="translate(192.75 865.25) rotate(-90)" text-anchor="end" font-size="5.95" fill="#222" stroke="#222" stroke-width="0.22">PVO4→pS6</text>
<text transform="translate(202.75 865.25) rotate(-90)" text-anchor="end" font-size="5.95" fill="#222" stroke="#222" stroke-width="0.22">GM−CSF→pSTAT3</text>
<text transform="translate(213.1 865.25) rotate(-90)" text-anchor="end" font-size="5.95" fill="#222" stroke="#222" stroke-width="0.22">GM−CSF→pCREB</text>
<text transform="translate(223.6 865.25) rotate(-90)" text-anchor="end" font-size="5.95" fill="#222" stroke="#222" stroke-width="0.22">PMA/iono.→pP38</text>
<text transform="translate(233.75 865.25) rotate(-90)" text-anchor="end" font-size="5.95" fill="#222" stroke="#222" stroke-width="0.22">PVO4→pAKT</text>
<text transform="translate(244 865.25) rotate(-90)" text-anchor="end" font-size="5.95" fill="#222" stroke="#222" stroke-width="0.22">GM−CSF→pS6</text>
<text transform="translate(257.5 865.25) rotate(-90)" text-anchor="end" font-size="11.8" fill="#111" stroke="#111" stroke-width="0.12">FLT3L→pAKT</text>
<text transform="translate(271.25 865.25) rotate(-90)" text-anchor="end" font-size="11.8" fill="#111" stroke="#111" stroke-width="0.12">SCF→pAKT</text>
<text transform="translate(280.25 865.25) rotate(-90)" text-anchor="end" font-size="5.95" fill="#222" stroke="#222" stroke-width="0.22">PVO4→pCBL</text>
<text transform="translate(288.5 865.25) rotate(-90)" text-anchor="end" font-size="5.95" fill="#222" stroke="#222" stroke-width="0.22">IL−3→pS6</text>
<text transform="translate(302.5 865.25) rotate(-90)" text-anchor="end" font-size="11.8" fill="#111" stroke="#111" stroke-width="0.12">IL−10→pSTAT3</text>
<text transform="translate(311.5 865.25) rotate(-90)" text-anchor="end" font-size="5.95" fill="#222" stroke="#222" stroke-width="0.22">GM−CSF→pERK1/2</text>
<text transform="translate(319 865.25) rotate(-90)" text-anchor="end" font-size="5.95" fill="#222" stroke="#222" stroke-width="0.22">PVO4→pCREB</text>
<text transform="translate(326.9 865.25) rotate(-90)" text-anchor="end" font-size="5.95" fill="#222" stroke="#222" stroke-width="0.22">G−CSF→pCREB</text>
<text transform="translate(343.8 865.25) rotate(-90)" text-anchor="end" font-size="11.8" fill="#111" stroke="#111" stroke-width="0.12">CD34</text>
<text transform="translate(350.15 865.25) rotate(-90)" text-anchor="end" font-size="5.95" fill="#222" stroke="#222" stroke-width="0.22">CD38</text>
<text transform="translate(356.89 865.25) rotate(-90)" text-anchor="end" font-size="5.95" fill="#222" stroke="#222" stroke-width="0.22">CD117</text>
<text transform="translate(363.63 865.25) rotate(-90)" text-anchor="end" font-size="5.95" fill="#222" stroke="#222" stroke-width="0.22">HLA−DR</text>
<text transform="translate(370.37 865.25) rotate(-90)" text-anchor="end" font-size="5.95" fill="#222" stroke="#222" stroke-width="0.22">CD123</text>
<text transform="translate(377.11 865.25) rotate(-90)" text-anchor="end" font-size="5.95" fill="#222" stroke="#222" stroke-width="0.22">CD33</text>
<text transform="translate(383.85 865.25) rotate(-90)" text-anchor="end" font-size="5.95" fill="#222" stroke="#222" stroke-width="0.22">CD45</text>
<text transform="translate(390.59 865.25) rotate(-90)" text-anchor="end" font-size="5.95" fill="#222" stroke="#222" stroke-width="0.22">CD47</text>
<text transform="translate(397.33 865.25) rotate(-90)" text-anchor="end" font-size="5.95" fill="#222" stroke="#222" stroke-width="0.22">CD44</text>
<text transform="translate(404.07 865.25) rotate(-90)" text-anchor="end" font-size="5.95" fill="#222" stroke="#222" stroke-width="0.22">CD64</text>
<text transform="translate(410.81 865.25) rotate(-90)" text-anchor="end" font-size="5.95" fill="#222" stroke="#222" stroke-width="0.22">CD11b</text>
<text transform="translate(417.55 865.25) rotate(-90)" text-anchor="end" font-size="5.95" fill="#222" stroke="#222" stroke-width="0.22">CD7</text>
<text transform="translate(424.29 865.25) rotate(-90)" text-anchor="end" font-size="5.95" fill="#222" stroke="#222" stroke-width="0.22">CD3</text>
<text transform="translate(431.03 865.25) rotate(-90)" text-anchor="end" font-size="5.95" fill="#222" stroke="#222" stroke-width="0.22">CD19</text>
<text transform="translate(437.77 865.25) rotate(-90)" text-anchor="end" font-size="5.95" fill="#222" stroke="#222" stroke-width="0.22">CD15</text>
<text transform="translate(444.51 865.25) rotate(-90)" text-anchor="end" font-size="5.95" fill="#222" stroke="#222" stroke-width="0.22">CD41</text>
</g>
<g id="SJ10">
<text x="469.7" y="744.3" font-size="36" fill="#000" stroke="#000" stroke-width="0.25">SJ10</text>
<g transform="translate(465.6 750)">
<rect x="0" y="0" width="106.1" height="105.5" fill="#fff" stroke="#bdbdbd" stroke-width="0.65"/>
<path d="M8.84 0v1.2M8.84 105.5v-1.2M0 8.79h1.2M106.1 8.79h-1.2M17.68 0v1.2M17.68 105.5v-1.2M0 17.58h1.2M106.1 17.58h-1.2M26.52 0v1.2M26.52 105.5v-1.2M0 26.38h1.2M106.1 26.38h-1.2M35.37 0v1.2M35.37 105.5v-1.2M0 35.17h1.2M106.1 35.17h-1.2M44.21 0v1.2M44.21 105.5v-1.2M0 43.96h1.2M106.1 43.96h-1.2M53.05 0v1.2M53.05 105.5v-1.2M0 52.75h1.2M106.1 52.75h-1.2M61.89 0v1.2M61.89 105.5v-1.2M0 61.54h1.2M106.1 61.54h-1.2M70.73 0v1.2M70.73 105.5v-1.2M0 70.33h1.2M106.1 70.33h-1.2M79.58 0v1.2M79.58 105.5v-1.2M0 79.12h1.2M106.1 79.12h-1.2M88.42 0v1.2M88.42 105.5v-1.2M0 87.92h1.2M106.1 87.92h-1.2M97.26 0v1.2M97.26 105.5v-1.2M0 96.71h1.2M106.1 96.71h-1.2" stroke="#a8a8a8" stroke-width="0.55" fill="none"/>
<use href="#ct"/>
<g fill="#1db46b"><circle cx="69.3" cy="31.1" r="1.3"/><circle cx="71.5" cy="31.7" r="1.3"/><circle cx="74.1" cy="31.7" r="1.3"/><circle cx="76.3" cy="32.2" r="1.3"/><circle cx="78.4" cy="32.8" r="1.3"/><circle cx="79.7" cy="33.9" r="1"/><circle cx="82.3" cy="34.5" r="1.2"/><circle cx="64.1" cy="32.6" r="0.8"/><circle cx="54.8" cy="34.5" r="0.8"/><circle cx="54.1" cy="25.5" r="0.4"/></g>
<g fill="#a3005f"><circle cx="73" cy="49.1" r="0.8"/><circle cx="41" cy="53.7" r="0.8"/><circle cx="31.3" cy="57.2" r="0.9"/><circle cx="20.9" cy="69.6" r="0.7"/><circle cx="60" cy="68.7" r="0.7"/></g>
</g>
<path d="M596.39 809.35V814.75M627.79 809.35V814.75M703.15 809.35V814.75M709.43 809.35V814.75M728.27 809.35V814.75M761.2 809.35V814.75" stroke="#6a6a6a" stroke-width="1.4" fill="none"/>
<rect x="580.6" y="709.1" width="10.3" height="100.25" fill="#1db46b"/>
<text transform="translate(589.4 759.23) rotate(-90)" text-anchor="middle" font-size="10" fill="#fff">Primitive</text>
<g transform="translate(593.25 709.1)">
<g transform="scale(6.2800 6.2656)">
<path fill="#fbfbfb" d="M1 0h2v1h-2zM7 0h1v1h-1zM13 0h2v1h-2zM16 0h1v1h-1zM20 0h1v1h-1zM22 0h1v1h-1zM1 1h2v1h-2zM7 1h1v1h-1zM12 1h1v1h-1zM16 1h1v1h-1zM20 1h1v1h-1zM22 1h1v1h-1zM1 2h3v1h-3zM6 2h1v1h-1zM12 2h3v1h-3zM16 2h1v1h-1zM20 2h4v1h-4zM1 3h2v1h-2zM6 3h2v1h-2zM12 3h3v1h-3zM16 3h1v1h-1zM20 3h3v1h-3zM2 4h2v1h-2zM7 4h1v1h-1zM12 4h3v1h-3zM16 4h1v1h-1zM19 4h3v1h-3zM23 4h1v1h-1zM1 5h2v1h-2zM6 5h2v1h-2zM12 5h3v1h-3zM16 5h1v1h-1zM20 5h3v1h-3zM1 6h2v1h-2zM7 6h1v1h-1zM12 6h1v1h-1zM14 6h1v1h-1zM16 6h1v1h-1zM20 6h1v1h-1zM22 6h1v1h-1zM1 7h2v1h-2zM7 7h1v1h-1zM13 7h2v1h-2zM16 7h1v1h-1zM20 7h1v1h-1zM22 7h1v1h-1zM1 8h2v1h-2zM6 8h2v1h-2zM13 8h2v1h-2zM16 8h1v1h-1zM20 8h1v1h-1zM22 8h1v1h-1zM1 9h2v1h-2zM6 9h1v1h-1zM12 9h3v1h-3zM16 9h1v1h-1zM20 9h1v1h-1zM22 9h2v1h-2zM1 10h2v1h-2zM7 10h1v1h-1zM12 10h3v1h-3zM16 10h1v1h-1zM20 10h1v1h-1zM22 10h1v1h-1zM1 11h2v1h-2zM6 11h2v1h-2zM12 11h3v1h-3zM16 11h1v1h-1zM20 11h1v1h-1zM22 11h2v1h-2zM2 12h1v1h-1zM7 12h1v1h-1zM12 12h1v1h-1zM14 12h1v1h-1zM16 12h1v1h-1zM20 12h1v1h-1zM22 12h1v1h-1zM14 13h1v1h-1zM16 13h1v1h-1zM20 13h1v1h-1zM22 13h1v1h-1zM1 14h1v1h-1zM12 14h1v1h-1zM14 14h1v1h-1zM16 14h1v1h-1zM20 14h1v1h-1zM3 15h2v1h-2zM12 15h1v1h-1zM14 15h1v1h-1zM16 15h1v1h-1zM19 15h1v1h-1zM22 15h3v1h-3z"/>
<path fill="#fddbc7" d="M3 0h1v1h-1zM6 0h1v1h-1zM12 0h1v1h-1zM19 0h1v1h-1zM21 0h1v1h-1zM23 0h2v1h-2zM5 1h1v1h-1zM13 1h2v1h-2zM23 1h2v1h-2zM4 2h2v1h-2zM7 2h2v1h-2zM10 2h2v1h-2zM19 2h1v1h-1zM24 2h1v1h-1zM3 3h2v1h-2zM8 3h1v1h-1zM10 3h1v1h-1zM19 3h1v1h-1zM23 3h2v1h-2zM4 4h1v1h-1zM8 4h1v1h-1zM10 4h2v1h-2zM15 4h1v1h-1zM17 4h2v1h-2zM22 4h1v1h-1zM24 4h1v1h-1zM3 5h3v1h-3zM8 5h1v1h-1zM10 5h2v1h-2zM15 5h1v1h-1zM17 5h3v1h-3zM23 5h2v1h-2zM3 6h1v1h-1zM13 6h1v1h-1zM19 6h1v1h-1zM21 6h1v1h-1zM3 7h1v1h-1zM12 7h1v1h-1zM21 7h1v1h-1zM24 7h1v1h-1zM0 8h1v1h-1zM3 8h3v1h-3zM8 8h1v1h-1zM10 8h3v1h-3zM19 8h1v1h-1zM21 8h1v1h-1zM23 8h2v1h-2zM3 9h2v1h-2zM7 9h2v1h-2zM10 9h2v1h-2zM15 9h1v1h-1zM19 9h1v1h-1zM21 9h1v1h-1zM3 10h1v1h-1zM5 10h2v1h-2zM21 10h1v1h-1zM23 10h2v1h-2zM3 11h2v1h-2zM8 11h1v1h-1zM10 11h2v1h-2zM19 11h1v1h-1zM21 11h1v1h-1zM24 11h1v1h-1zM13 12h1v1h-1zM21 12h1v1h-1zM2 13h1v1h-1zM12 13h2v1h-2zM2 14h1v1h-1zM22 14h2v1h-2zM2 15h1v1h-1zM5 15h1v1h-1zM8 15h1v1h-1zM10 15h1v1h-1zM15 15h1v1h-1zM21 15h1v1h-1z"/>
<path fill="#f4a582" d="M0 0h1v1h-1zM4 0h2v1h-2zM8 0h1v1h-1zM10 0h2v1h-2zM17 0h1v1h-1zM0 1h1v1h-1zM3 1h1v1h-1zM6 1h1v1h-1zM10 1h2v1h-2zM19 1h1v1h-1zM21 1h1v1h-1zM0 2h1v1h-1zM9 2h1v1h-1zM15 2h1v1h-1zM17 2h1v1h-1zM0 3h1v1h-1zM5 3h1v1h-1zM11 3h1v1h-1zM15 3h1v1h-1zM17 3h1v1h-1zM0 4h1v1h-1zM5 4h1v1h-1zM9 4h1v1h-1zM0 5h1v1h-1zM9 5h1v1h-1zM4 6h3v1h-3zM8 6h1v1h-1zM10 6h1v1h-1zM23 6h2v1h-2zM5 7h2v1h-2zM10 7h1v1h-1zM17 7h1v1h-1zM19 7h1v1h-1zM23 7h1v1h-1zM9 8h1v1h-1zM17 8h1v1h-1zM9 9h1v1h-1zM17 9h1v1h-1zM24 9h1v1h-1zM0 10h1v1h-1zM4 10h1v1h-1zM8 10h1v1h-1zM10 10h2v1h-2zM17 10h1v1h-1zM19 10h1v1h-1zM0 11h1v1h-1zM5 11h1v1h-1zM9 11h1v1h-1zM15 11h1v1h-1zM17 11h1v1h-1zM3 12h1v1h-1zM19 12h1v1h-1zM23 12h1v1h-1zM7 13h1v1h-1zM11 13h1v1h-1zM21 13h1v1h-1zM23 13h1v1h-1zM7 14h1v1h-1zM11 14h1v1h-1zM13 14h1v1h-1zM15 14h1v1h-1zM24 14h1v1h-1zM7 15h1v1h-1zM9 15h1v1h-1zM17 15h1v1h-1z"/>
<path fill="#d6604d" d="M9 0h1v1h-1zM4 1h1v1h-1zM8 1h1v1h-1zM15 1h1v1h-1zM17 1h1v1h-1zM9 3h1v1h-1zM0 6h1v1h-1zM11 6h1v1h-1zM17 6h1v1h-1zM0 7h1v1h-1zM4 7h1v1h-1zM8 7h1v1h-1zM11 7h1v1h-1zM15 8h1v1h-1zM0 9h1v1h-1zM5 9h1v1h-1zM18 9h1v1h-1zM9 10h1v1h-1zM15 10h1v1h-1zM4 12h3v1h-3zM8 12h1v1h-1zM10 12h2v1h-2zM24 12h1v1h-1zM15 13h1v1h-1zM17 13h1v1h-1zM24 13h1v1h-1zM0 14h1v1h-1zM5 14h1v1h-1zM0 15h1v1h-1zM18 15h1v1h-1z"/>
<path fill="#b2182b" d="M15 0h1v1h-1zM9 1h1v1h-1zM18 2h1v1h-1zM18 3h1v1h-1zM9 6h1v1h-1zM15 6h1v1h-1zM9 7h1v1h-1zM15 7h1v1h-1zM18 11h1v1h-1zM0 12h1v1h-1zM9 12h1v1h-1zM17 12h1v1h-1zM3 13h1v1h-1zM5 13h2v1h-2zM8 13h3v1h-3zM19 13h1v1h-1zM6 14h1v1h-1zM8 14h3v1h-3zM19 14h1v1h-1zM21 14h1v1h-1z"/>
<path fill="#67001f" d="M18 0h1v1h-1zM18 1h1v1h-1zM18 6h1v1h-1zM18 7h1v1h-1zM18 8h1v1h-1zM18 10h1v1h-1zM15 12h1v1h-1zM18 12h1v1h-1zM0 13h1v1h-1zM4 13h1v1h-1zM18 13h1v1h-1zM3 14h2v1h-2zM17 14h2v1h-2z"/>
<path fill="#d1e5f0" d="M1 4h1v1h-1zM6 4h1v1h-1zM1 12h1v1h-1zM1 13h1v1h-1zM1 15h1v1h-1zM6 15h1v1h-1zM11 15h1v1h-1zM13 15h1v1h-1zM20 15h1v1h-1z"/>
</g>
<path d="M0 0V100.25M6.28 0V100.25M12.56 0V100.25M18.84 0V100.25M25.12 0V100.25M31.4 0V100.25M37.68 0V100.25M43.96 0V100.25M50.24 0V100.25M56.52 0V100.25M62.8 0V100.25M69.08 0V100.25M75.36 0V100.25M81.64 0V100.25M87.92 0V100.25M94.2 0V100.25M100.48 0V100.25M106.76 0V100.25M113.04 0V100.25M119.32 0V100.25M125.6 0V100.25M131.88 0V100.25M138.16 0V100.25M144.44 0V100.25M150.72 0V100.25M157 0V100.25M0 0H157M0 6.27H157M0 12.53H157M0 18.8H157M0 25.06H157M0 31.33H157M0 37.59H157M0 43.86H157M0 50.12H157M0 56.39H157M0 62.66H157M0 68.92H157M0 75.19H157M0 81.45H157M0 87.72H157M0 93.98H157M0 100.25H157" stroke="#000" stroke-width="0.31" fill="none" stroke-opacity="0.8"/>
<rect x="0" y="0" width="157" height="100.25" fill="none" stroke="#555" stroke-width="0.5"/>
<path d="M3.14 0v1.3M3.14 100.25v-1.3M9.42 0v1.3M9.42 100.25v-1.3M15.7 0v1.3M15.7 100.25v-1.3M21.98 0v1.3M21.98 100.25v-1.3M28.26 0v1.3M28.26 100.25v-1.3M34.54 0v1.3M34.54 100.25v-1.3M40.82 0v1.3M40.82 100.25v-1.3M47.1 0v1.3M47.1 100.25v-1.3M53.38 0v1.3M53.38 100.25v-1.3M59.66 0v1.3M59.66 100.25v-1.3M65.94 0v1.3M65.94 100.25v-1.3M72.22 0v1.3M72.22 100.25v-1.3M78.5 0v1.3M78.5 100.25v-1.3M84.78 0v1.3M84.78 100.25v-1.3M91.06 0v1.3M91.06 100.25v-1.3M97.34 0v1.3M97.34 100.25v-1.3M103.62 0v1.3M103.62 100.25v-1.3M109.9 0v1.3M109.9 100.25v-1.3M116.18 0v1.3M116.18 100.25v-1.3M122.46 0v1.3M122.46 100.25v-1.3M128.74 0v1.3M128.74 100.25v-1.3M135.02 0v1.3M135.02 100.25v-1.3M141.3 0v1.3M141.3 100.25v-1.3M147.58 0v1.3M147.58 100.25v-1.3M153.86 0v1.3M153.86 100.25v-1.3M0 3.13h1.3M157 3.13h-1.3M0 9.4h1.3M157 9.4h-1.3M0 15.66h1.3M157 15.66h-1.3M0 21.93h1.3M157 21.93h-1.3M0 28.2h1.3M157 28.2h-1.3M0 34.46h1.3M157 34.46h-1.3M0 40.73h1.3M157 40.73h-1.3M0 46.99h1.3M157 46.99h-1.3M0 53.26h1.3M157 53.26h-1.3M0 59.52h1.3M157 59.52h-1.3M0 65.79h1.3M157 65.79h-1.3M0 72.05h1.3M157 72.05h-1.3M0 78.32h1.3M157 78.32h-1.3M0 84.59h1.3M157 84.59h-1.3M0 90.85h1.3M157 90.85h-1.3M0 97.12h1.3M157 97.12h-1.3" stroke="#333" stroke-width="0.45" fill="none"/>
</g>
<g transform="translate(758.05 709.1)">
<g transform="scale(6.2906 6.2656)">
<path fill="#4667ae" d="M3 0h1v1h-1zM5 0h1v1h-1zM9 0h2v1h-2zM12 0h4v1h-4zM5 1h1v1h-1zM9 1h2v1h-2zM12 1h4v1h-4zM3 2h1v1h-1zM5 2h1v1h-1zM9 2h2v1h-2zM13 2h3v1h-3zM3 3h1v1h-1zM5 3h1v1h-1zM9 3h2v1h-2zM12 3h4v1h-4zM3 4h1v1h-1zM5 4h1v1h-1zM9 4h2v1h-2zM12 4h4v1h-4zM3 5h3v1h-3zM9 5h2v1h-2zM12 5h4v1h-4zM3 6h1v1h-1zM5 6h1v1h-1zM9 6h2v1h-2zM12 6h4v1h-4zM3 7h1v1h-1zM5 7h1v1h-1zM9 7h2v1h-2zM12 7h2v1h-2zM15 7h1v1h-1zM3 8h1v1h-1zM5 8h1v1h-1zM9 8h2v1h-2zM13 8h3v1h-3zM3 9h1v1h-1zM5 9h1v1h-1zM9 9h2v1h-2zM12 9h4v1h-4zM3 10h1v1h-1zM9 10h2v1h-2zM12 10h4v1h-4zM3 11h1v1h-1zM5 11h1v1h-1zM10 11h1v1h-1zM12 11h4v1h-4zM3 12h1v1h-1zM5 12h1v1h-1zM9 12h1v1h-1zM12 12h4v1h-4zM3 13h1v1h-1zM5 13h1v1h-1zM9 13h7v1h-7zM5 14h1v1h-1zM9 14h7v1h-7zM3 15h1v1h-1zM5 15h1v1h-1zM9 15h2v1h-2zM12 15h4v1h-4z"/>
<path fill="#3387bc" d="M4 0h1v1h-1zM4 2h1v1h-1zM4 4h1v1h-1zM4 7h1v1h-1zM4 8h1v1h-1zM4 10h1v1h-1zM4 11h1v1h-1zM4 12h1v1h-1zM4 13h1v1h-1zM4 15h1v1h-1z"/>
<path fill="#4ba4b1" d="M2 0h1v1h-1zM2 6h1v1h-1zM2 8h1v1h-1zM4 9h1v1h-1zM11 9h1v1h-1zM2 13h1v1h-1zM2 14h1v1h-1z"/>
<path fill="#66c2a5" d="M2 1h1v1h-1zM4 3h1v1h-1zM4 6h1v1h-1zM2 15h1v1h-1z"/>
<path fill="#abdda4" d="M3 1h2v1h-2zM12 2h1v1h-1zM14 7h1v1h-1zM12 8h1v1h-1zM2 10h1v1h-1zM5 10h1v1h-1zM10 12h1v1h-1zM4 14h1v1h-1zM11 15h1v1h-1z"/>
<path fill="#e6f598" d="M2 7h1v1h-1zM9 11h1v1h-1zM2 12h1v1h-1zM3 14h1v1h-1zM1 15h1v1h-1z"/>
<path fill="#fbf8b0" d="M6 0h1v1h-1zM11 0h1v1h-1zM6 2h1v1h-1zM6 3h1v1h-1zM6 4h1v1h-1zM6 5h1v1h-1zM11 5h1v1h-1zM6 7h1v1h-1zM6 8h1v1h-1zM6 9h1v1h-1zM6 10h1v1h-1zM2 11h1v1h-1zM6 11h1v1h-1zM6 12h1v1h-1zM6 13h1v1h-1zM0 14h1v1h-1z"/>
<path fill="#fee08b" d="M0 0h1v1h-1zM6 1h1v1h-1zM11 1h1v1h-1zM11 2h1v1h-1zM2 3h1v1h-1zM11 3h1v1h-1zM11 4h1v1h-1zM0 5h1v1h-1zM2 5h1v1h-1zM6 6h1v1h-1zM11 7h1v1h-1zM11 8h1v1h-1zM11 10h1v1h-1zM11 11h1v1h-1zM11 12h1v1h-1zM0 13h1v1h-1zM6 14h1v1h-1zM8 15h1v1h-1z"/>
<path fill="#fdae61" d="M1 0h1v1h-1zM0 2h2v1h-2zM1 3h1v1h-1zM0 4h2v1h-2zM1 5h1v1h-1zM11 6h1v1h-1zM1 7h1v1h-1zM0 8h2v1h-2zM0 9h2v1h-2zM0 10h2v1h-2zM0 11h2v1h-2zM6 15h1v1h-1z"/>
<path fill="#f46d43" d="M0 1h2v1h-2zM2 2h1v1h-1zM0 3h1v1h-1zM7 5h2v1h-2zM1 6h1v1h-1zM0 7h1v1h-1zM2 9h1v1h-1zM0 12h2v1h-2zM1 13h1v1h-1zM1 14h1v1h-1zM7 14h1v1h-1zM7 15h1v1h-1z"/>
<path fill="#d53e4f" d="M7 0h2v1h-2zM7 1h1v1h-1zM7 2h2v1h-2zM7 3h2v1h-2zM7 4h2v1h-2zM0 6h1v1h-1zM7 7h2v1h-2zM7 8h2v1h-2zM7 9h1v1h-1zM7 10h2v1h-2zM7 11h2v1h-2zM7 12h1v1h-1zM7 13h1v1h-1z"/>
<path fill="#9e0142" d="M8 1h1v1h-1zM2 4h1v1h-1zM7 6h2v1h-2zM8 9h1v1h-1zM8 12h1v1h-1zM8 13h1v1h-1zM8 14h1v1h-1zM0 15h1v1h-1z"/>
</g>
<path d="M0 0V100.25M6.29 0V100.25M12.58 0V100.25M18.87 0V100.25M25.16 0V100.25M31.45 0V100.25M37.74 0V100.25M44.03 0V100.25M50.33 0V100.25M56.62 0V100.25M62.91 0V100.25M69.2 0V100.25M75.49 0V100.25M81.78 0V100.25M88.07 0V100.25M94.36 0V100.25M100.65 0V100.25M0 0H100.65M0 6.27H100.65M0 12.53H100.65M0 18.8H100.65M0 25.06H100.65M0 31.33H100.65M0 37.59H100.65M0 43.86H100.65M0 50.12H100.65M0 56.39H100.65M0 62.66H100.65M0 68.92H100.65M0 75.19H100.65M0 81.45H100.65M0 87.72H100.65M0 93.98H100.65M0 100.25H100.65" stroke="#000" stroke-width="0.31" fill="none" stroke-opacity="0.8"/>
<rect x="0" y="0" width="100.65" height="100.25" fill="none" stroke="#555" stroke-width="0.5"/>
<path d="M3.15 0v1.3M3.15 100.25v-1.3M9.44 0v1.3M9.44 100.25v-1.3M15.73 0v1.3M15.73 100.25v-1.3M22.02 0v1.3M22.02 100.25v-1.3M28.31 0v1.3M28.31 100.25v-1.3M34.6 0v1.3M34.6 100.25v-1.3M40.89 0v1.3M40.89 100.25v-1.3M47.18 0v1.3M47.18 100.25v-1.3M53.47 0v1.3M53.47 100.25v-1.3M59.76 0v1.3M59.76 100.25v-1.3M66.05 0v1.3M66.05 100.25v-1.3M72.34 0v1.3M72.34 100.25v-1.3M78.63 0v1.3M78.63 100.25v-1.3M84.92 0v1.3M84.92 100.25v-1.3M91.21 0v1.3M91.21 100.25v-1.3M97.5 0v1.3M97.5 100.25v-1.3M0 3.13h1.3M100.65 3.13h-1.3M0 9.4h1.3M100.65 9.4h-1.3M0 15.66h1.3M100.65 15.66h-1.3M0 21.93h1.3M100.65 21.93h-1.3M0 28.2h1.3M100.65 28.2h-1.3M0 34.46h1.3M100.65 34.46h-1.3M0 40.73h1.3M100.65 40.73h-1.3M0 46.99h1.3M100.65 46.99h-1.3M0 53.26h1.3M100.65 53.26h-1.3M0 59.52h1.3M100.65 59.52h-1.3M0 65.79h1.3M100.65 65.79h-1.3M0 72.05h1.3M100.65 72.05h-1.3M0 78.32h1.3M100.65 78.32h-1.3M0 84.59h1.3M100.65 84.59h-1.3M0 90.85h1.3M100.65 90.85h-1.3M0 97.12h1.3M100.65 97.12h-1.3" stroke="#333" stroke-width="0.45" fill="none"/>
</g>
<rect x="580.6" y="814.75" width="10.3" height="37.6" fill="#a3005f"/>
<text transform="translate(589.4 833.55) rotate(-90)" text-anchor="middle" font-size="10" fill="#fff">Mature</text>
<g transform="translate(593.25 814.75)">
<g transform="scale(6.2800 6.2667)">
<path fill="#fbfbfb" d="M0 0h6v1h-6zM7 0h1v1h-1zM9 0h13v1h-13zM24 0h1v1h-1zM12 1h2v1h-2zM18 1h1v1h-1zM20 1h1v1h-1zM22 1h2v1h-2zM0 2h3v1h-3zM4 2h2v1h-2zM7 2h8v1h-8zM16 2h1v1h-1zM18 2h5v1h-5zM1 3h2v1h-2zM12 3h1v1h-1zM20 3h3v1h-3zM2 4h1v1h-1zM11 4h1v1h-1zM15 4h1v1h-1zM21 4h1v1h-1zM23 4h1v1h-1zM1 5h4v1h-4zM7 5h1v1h-1zM10 5h7v1h-7zM19 5h2v1h-2zM22 5h1v1h-1zM24 5h1v1h-1z"/>
<path fill="#fddbc7" d="M22 0h1v1h-1zM1 1h1v1h-1zM11 1h1v1h-1zM14 1h3v1h-3zM24 1h1v1h-1zM17 2h1v1h-1zM24 2h1v1h-1zM11 3h1v1h-1zM14 3h1v1h-1zM16 3h1v1h-1zM23 3h2v1h-2zM5 5h1v1h-1zM9 5h1v1h-1zM17 5h2v1h-2zM21 5h1v1h-1z"/>
<path fill="#f4a582" d="M13 3h1v1h-1zM15 3h1v1h-1zM17 3h1v1h-1zM8 4h1v1h-1zM10 4h1v1h-1zM13 4h1v1h-1zM19 4h1v1h-1zM24 4h1v1h-1zM0 5h1v1h-1z"/>
<path fill="#d6604d" d="M17 1h1v1h-1zM0 3h1v1h-1zM5 3h5v1h-5zM18 3h1v1h-1zM0 4h1v1h-1zM3 4h1v1h-1zM5 4h3v1h-3zM9 4h1v1h-1z"/>
<path fill="#b2182b" d="M8 1h1v1h-1zM3 3h2v1h-2zM10 3h1v1h-1zM19 3h1v1h-1zM4 4h1v1h-1z"/>
<path fill="#67001f" d="M0 1h1v1h-1zM2 1h6v1h-6zM9 1h2v1h-2zM19 1h1v1h-1zM21 1h1v1h-1z"/>
<path fill="#d1e5f0" d="M8 0h1v1h-1zM3 2h1v1h-1zM15 2h1v1h-1zM23 2h1v1h-1zM12 4h1v1h-1zM14 4h1v1h-1zM16 4h1v1h-1zM18 4h1v1h-1zM20 4h1v1h-1zM6 5h1v1h-1zM8 5h1v1h-1z"/>
<path fill="#92c5de" d="M6 0h1v1h-1zM23 0h1v1h-1zM6 2h1v1h-1zM23 5h1v1h-1z"/>
<path fill="#4393c3" d="M1 4h1v1h-1zM17 4h1v1h-1z"/>
<path fill="#2166ac" d="M22 4h1v1h-1z"/>
</g>
<path d="M0 0V37.6M6.28 0V37.6M12.56 0V37.6M18.84 0V37.6M25.12 0V37.6M31.4 0V37.6M37.68 0V37.6M43.96 0V37.6M50.24 0V37.6M56.52 0V37.6M62.8 0V37.6M69.08 0V37.6M75.36 0V37.6M81.64 0V37.6M87.92 0V37.6M94.2 0V37.6M100.48 0V37.6M106.76 0V37.6M113.04 0V37.6M119.32 0V37.6M125.6 0V37.6M131.88 0V37.6M138.16 0V37.6M144.44 0V37.6M150.72 0V37.6M157 0V37.6M0 0H157M0 6.27H157M0 12.53H157M0 18.8H157M0 25.07H157M0 31.33H157M0 37.6H157" stroke="#000" stroke-width="0.31" fill="none" stroke-opacity="0.8"/>
<rect x="0" y="0" width="157" height="37.6" fill="none" stroke="#555" stroke-width="0.5"/>
<path d="M3.14 0v1.3M3.14 37.6v-1.3M9.42 0v1.3M9.42 37.6v-1.3M15.7 0v1.3M15.7 37.6v-1.3M21.98 0v1.3M21.98 37.6v-1.3M28.26 0v1.3M28.26 37.6v-1.3M34.54 0v1.3M34.54 37.6v-1.3M40.82 0v1.3M40.82 37.6v-1.3M47.1 0v1.3M47.1 37.6v-1.3M53.38 0v1.3M53.38 37.6v-1.3M59.66 0v1.3M59.66 37.6v-1.3M65.94 0v1.3M65.94 37.6v-1.3M72.22 0v1.3M72.22 37.6v-1.3M78.5 0v1.3M78.5 37.6v-1.3M84.78 0v1.3M84.78 37.6v-1.3M91.06 0v1.3M91.06 37.6v-1.3M97.34 0v1.3M97.34 37.6v-1.3M103.62 0v1.3M103.62 37.6v-1.3M109.9 0v1.3M109.9 37.6v-1.3M116.18 0v1.3M116.18 37.6v-1.3M122.46 0v1.3M122.46 37.6v-1.3M128.74 0v1.3M128.74 37.6v-1.3M135.02 0v1.3M135.02 37.6v-1.3M141.3 0v1.3M141.3 37.6v-1.3M147.58 0v1.3M147.58 37.6v-1.3M153.86 0v1.3M153.86 37.6v-1.3M0 3.13h1.3M157 3.13h-1.3M0 9.4h1.3M157 9.4h-1.3M0 15.67h1.3M157 15.67h-1.3M0 21.93h1.3M157 21.93h-1.3M0 28.2h1.3M157 28.2h-1.3M0 34.47h1.3M157 34.47h-1.3" stroke="#333" stroke-width="0.45" fill="none"/>
</g>
<g transform="translate(758.05 814.75)">
<g transform="scale(6.2906 6.2667)">
<path fill="#4667ae" d="M3 0h3v1h-3zM9 0h2v1h-2zM12 0h4v1h-4zM5 1h1v1h-1zM11 1h5v1h-5zM3 2h3v1h-3zM9 2h2v1h-2zM13 2h3v1h-3zM3 3h1v1h-1zM5 3h1v1h-1zM9 3h2v1h-2zM12 3h4v1h-4zM0 4h1v1h-1zM3 4h3v1h-3zM10 4h4v1h-4zM15 4h1v1h-1zM0 5h1v1h-1zM3 5h3v1h-3zM9 5h2v1h-2zM12 5h4v1h-4z"/>
<path fill="#3387bc" d="M2 0h1v1h-1zM0 1h1v1h-1zM2 1h1v1h-1zM4 1h1v1h-1zM10 1h1v1h-1zM0 2h1v1h-1zM2 2h1v1h-1zM0 3h1v1h-1zM4 3h1v1h-1zM9 4h1v1h-1z"/>
<path fill="#4ba4b1" d="M0 0h1v1h-1zM3 1h1v1h-1zM2 3h1v1h-1zM2 4h1v1h-1z"/>
<path fill="#66c2a5" d="M6 0h1v1h-1zM11 0h1v1h-1zM6 2h1v1h-1zM11 2h1v1h-1zM11 5h1v1h-1z"/>
<path fill="#abdda4" d="M12 2h1v1h-1zM11 3h1v1h-1z"/>
<path fill="#e6f598" d="M1 0h1v1h-1zM1 2h1v1h-1zM8 2h1v1h-1zM6 3h1v1h-1zM6 5h1v1h-1z"/>
<path fill="#fbf8b0" d="M7 0h2v1h-2zM9 1h1v1h-1zM1 4h1v1h-1zM6 4h1v1h-1zM14 4h1v1h-1z"/>
<path fill="#fee08b" d="M1 1h1v1h-1zM6 1h1v1h-1zM7 2h1v1h-1zM1 3h1v1h-1zM1 5h1v1h-1z"/>
<path fill="#fdae61" d="M7 1h1v1h-1zM7 4h1v1h-1zM8 5h1v1h-1z"/>
<path fill="#f46d43" d="M7 3h2v1h-2zM2 5h1v1h-1zM7 5h1v1h-1z"/>
<path fill="#d53e4f" d="M8 4h1v1h-1z"/>
<path fill="#9e0142" d="M8 1h1v1h-1z"/>
</g>
<path d="M0 0V37.6M6.29 0V37.6M12.58 0V37.6M18.87 0V37.6M25.16 0V37.6M31.45 0V37.6M37.74 0V37.6M44.03 0V37.6M50.33 0V37.6M56.62 0V37.6M62.91 0V37.6M69.2 0V37.6M75.49 0V37.6M81.78 0V37.6M88.07 0V37.6M94.36 0V37.6M100.65 0V37.6M0 0H100.65M0 6.27H100.65M0 12.53H100.65M0 18.8H100.65M0 25.07H100.65M0 31.33H100.65M0 37.6H100.65" stroke="#000" stroke-width="0.31" fill="none" stroke-opacity="0.8"/>
<rect x="0" y="0" width="100.65" height="37.6" fill="none" stroke="#555" stroke-width="0.5"/>
<path d="M3.15 0v1.3M3.15 37.6v-1.3M9.44 0v1.3M9.44 37.6v-1.3M15.73 0v1.3M15.73 37.6v-1.3M22.02 0v1.3M22.02 37.6v-1.3M28.31 0v1.3M28.31 37.6v-1.3M34.6 0v1.3M34.6 37.6v-1.3M40.89 0v1.3M40.89 37.6v-1.3M47.18 0v1.3M47.18 37.6v-1.3M53.47 0v1.3M53.47 37.6v-1.3M59.76 0v1.3M59.76 37.6v-1.3M66.05 0v1.3M66.05 37.6v-1.3M72.34 0v1.3M72.34 37.6v-1.3M78.63 0v1.3M78.63 37.6v-1.3M84.92 0v1.3M84.92 37.6v-1.3M91.21 0v1.3M91.21 37.6v-1.3M97.5 0v1.3M97.5 37.6v-1.3M0 3.13h1.3M100.65 3.13h-1.3M0 9.4h1.3M100.65 9.4h-1.3M0 15.67h1.3M100.65 15.67h-1.3M0 21.93h1.3M100.65 21.93h-1.3M0 28.2h1.3M100.65 28.2h-1.3M0 34.47h1.3M100.65 34.47h-1.3" stroke="#333" stroke-width="0.45" fill="none"/>
</g>
<path d="M596.39 852.35V858.9L492.25 865.9V869.4M627.79 852.35V858.9L546.25 865.9V869.4M703.15 852.35V858.9L671.25 865.9V869.4M709.43 852.35V858.9L685 865.9V869.4M728.27 852.35V858.9L716.25 865.9V869.4M761.2 852.35V858.5C761.2 862.5 757.45 864.5 757.45 869.4" stroke="#6a6a6a" stroke-width="1.4" fill="none"/>
<text transform="translate(496.25 871.5) rotate(-90)" text-anchor="end" font-size="11.8" fill="#111" stroke="#111" stroke-width="0.12">G−CSF→pSTAT3</text>
<text transform="translate(507.15 871.5) rotate(-90)" text-anchor="end" font-size="5.95" fill="#222" stroke="#222" stroke-width="0.22">IL−3→pSTAT3</text>
<text transform="translate(516.75 871.5) rotate(-90)" text-anchor="end" font-size="5.95" fill="#222" stroke="#222" stroke-width="0.22">IL−3→pSTAT5</text>
<text transform="translate(525.5 871.5) rotate(-90)" text-anchor="end" font-size="5.95" fill="#222" stroke="#222" stroke-width="0.22">PVO4→pZAP70/SYK</text>
<text transform="translate(535.25 871.5) rotate(-90)" text-anchor="end" font-size="5.95" fill="#222" stroke="#222" stroke-width="0.22">PVO4→pP38</text>
<text transform="translate(550.25 871.5) rotate(-90)" text-anchor="end" font-size="11.8" fill="#111" stroke="#111" stroke-width="0.12">G−CSF→pSTAT5</text>
<text transform="translate(559.65 871.5) rotate(-90)" text-anchor="end" font-size="5.95" fill="#222" stroke="#222" stroke-width="0.22">PVO4→pERK1/2</text>
<text transform="translate(569.85 871.5) rotate(-90)" text-anchor="end" font-size="5.95" fill="#222" stroke="#222" stroke-width="0.22">GM−CSF→pSTAT5</text>
<text transform="translate(580 871.5) rotate(-90)" text-anchor="end" font-size="5.95" fill="#222" stroke="#222" stroke-width="0.22">PVO4→pSTAT5</text>
<text transform="translate(590 871.5) rotate(-90)" text-anchor="end" font-size="5.95" fill="#222" stroke="#222" stroke-width="0.22">PVO4→pPLCg2</text>
<text transform="translate(600.25 871.5) rotate(-90)" text-anchor="end" font-size="5.95" fill="#222" stroke="#222" stroke-width="0.22">PVO4→pSTAT3</text>
<text transform="translate(610.5 871.5) rotate(-90)" text-anchor="end" font-size="5.95" fill="#222" stroke="#222" stroke-width="0.22">PVO4→pS6</text>
<text transform="translate(620.5 871.5) rotate(-90)" text-anchor="end" font-size="5.95" fill="#222" stroke="#222" stroke-width="0.22">GM−CSF→pSTAT3</text>
<text transform="translate(630.85 871.5) rotate(-90)" text-anchor="end" font-size="5.95" fill="#222" stroke="#222" stroke-width="0.22">GM−CSF→pCREB</text>
<text transform="translate(641.35 871.5) rotate(-90)" text-anchor="end" font-size="5.95" fill="#222" stroke="#222" stroke-width="0.22">PMA/iono.→pP38</text>
<text transform="translate(651.5 871.5) rotate(-90)" text-anchor="end" font-size="5.95" fill="#222" stroke="#222" stroke-width="0.22">PVO4→pAKT</text>
<text transform="translate(661.75 871.5) rotate(-90)" text-anchor="end" font-size="5.95" fill="#222" stroke="#222" stroke-width="0.22">GM−CSF→pS6</text>
<text transform="translate(675.25 871.5) rotate(-90)" text-anchor="end" font-size="11.8" fill="#111" stroke="#111" stroke-width="0.12">FLT3L→pAKT</text>
<text transform="translate(689 871.5) rotate(-90)" text-anchor="end" font-size="11.8" fill="#111" stroke="#111" stroke-width="0.12">SCF→pAKT</text>
<text transform="translate(698 871.5) rotate(-90)" text-anchor="end" font-size="5.95" fill="#222" stroke="#222" stroke-width="0.22">PVO4→pCBL</text>
<text transform="translate(706.25 871.5) rotate(-90)" text-anchor="end" font-size="5.95" fill="#222" stroke="#222" stroke-width="0.22">IL−3→pS6</text>
<text transform="translate(720.25 871.5) rotate(-90)" text-anchor="end" font-size="11.8" fill="#111" stroke="#111" stroke-width="0.12">IL−10→pSTAT3</text>
<text transform="translate(729.25 871.5) rotate(-90)" text-anchor="end" font-size="5.95" fill="#222" stroke="#222" stroke-width="0.22">GM−CSF→pERK1/2</text>
<text transform="translate(736.75 871.5) rotate(-90)" text-anchor="end" font-size="5.95" fill="#222" stroke="#222" stroke-width="0.22">PVO4→pCREB</text>
<text transform="translate(744.65 871.5) rotate(-90)" text-anchor="end" font-size="5.95" fill="#222" stroke="#222" stroke-width="0.22">G−CSF→pCREB</text>
<text transform="translate(761.35 871.5) rotate(-90)" text-anchor="end" font-size="11.8" fill="#111" stroke="#111" stroke-width="0.12">CD34</text>
<text transform="translate(767.7 871.5) rotate(-90)" text-anchor="end" font-size="5.95" fill="#222" stroke="#222" stroke-width="0.22">CD38</text>
<text transform="translate(774.44 871.5) rotate(-90)" text-anchor="end" font-size="5.95" fill="#222" stroke="#222" stroke-width="0.22">CD117</text>
<text transform="translate(781.18 871.5) rotate(-90)" text-anchor="end" font-size="5.95" fill="#222" stroke="#222" stroke-width="0.22">HLA−DR</text>
<text transform="translate(787.92 871.5) rotate(-90)" text-anchor="end" font-size="5.95" fill="#222" stroke="#222" stroke-width="0.22">CD123</text>
<text transform="translate(794.66 871.5) rotate(-90)" text-anchor="end" font-size="5.95" fill="#222" stroke="#222" stroke-width="0.22">CD33</text>
<text transform="translate(801.4 871.5) rotate(-90)" text-anchor="end" font-size="5.95" fill="#222" stroke="#222" stroke-width="0.22">CD45</text>
<text transform="translate(808.14 871.5) rotate(-90)" text-anchor="end" font-size="5.95" fill="#222" stroke="#222" stroke-width="0.22">CD47</text>
<text transform="translate(814.88 871.5) rotate(-90)" text-anchor="end" font-size="5.95" fill="#222" stroke="#222" stroke-width="0.22">CD44</text>
<text transform="translate(821.62 871.5) rotate(-90)" text-anchor="end" font-size="5.95" fill="#222" stroke="#222" stroke-width="0.22">CD64</text>
<text transform="translate(828.36 871.5) rotate(-90)" text-anchor="end" font-size="5.95" fill="#222" stroke="#222" stroke-width="0.22">CD11b</text>
<text transform="translate(835.1 871.5) rotate(-90)" text-anchor="end" font-size="5.95" fill="#222" stroke="#222" stroke-width="0.22">CD7</text>
<text transform="translate(841.84 871.5) rotate(-90)" text-anchor="end" font-size="5.95" fill="#222" stroke="#222" stroke-width="0.22">CD3</text>
<text transform="translate(848.58 871.5) rotate(-90)" text-anchor="end" font-size="5.95" fill="#222" stroke="#222" stroke-width="0.22">CD19</text>
<text transform="translate(855.32 871.5) rotate(-90)" text-anchor="end" font-size="5.95" fill="#222" stroke="#222" stroke-width="0.22">CD15</text>
<text transform="translate(862.06 871.5) rotate(-90)" text-anchor="end" font-size="5.95" fill="#222" stroke="#222" stroke-width="0.22">CD41</text>
</g>
<g id="SJ12">
<text x="891.8" y="748.5" font-size="36" fill="#000" stroke="#000" stroke-width="0.25">SJ12</text>
<g transform="translate(887.7 754.2)">
<rect x="0" y="0" width="106.1" height="105.2" fill="#fff" stroke="#bdbdbd" stroke-width="0.65"/>
<path d="M8.84 0v1.2M8.84 105.2v-1.2M0 8.77h1.2M106.1 8.77h-1.2M17.68 0v1.2M17.68 105.2v-1.2M0 17.53h1.2M106.1 17.53h-1.2M26.52 0v1.2M26.52 105.2v-1.2M0 26.3h1.2M106.1 26.3h-1.2M35.37 0v1.2M35.37 105.2v-1.2M0 35.07h1.2M106.1 35.07h-1.2M44.21 0v1.2M44.21 105.2v-1.2M0 43.83h1.2M106.1 43.83h-1.2M53.05 0v1.2M53.05 105.2v-1.2M0 52.6h1.2M106.1 52.6h-1.2M61.89 0v1.2M61.89 105.2v-1.2M0 61.37h1.2M106.1 61.37h-1.2M70.73 0v1.2M70.73 105.2v-1.2M0 70.13h1.2M106.1 70.13h-1.2M79.58 0v1.2M79.58 105.2v-1.2M0 78.9h1.2M106.1 78.9h-1.2M88.42 0v1.2M88.42 105.2v-1.2M0 87.67h1.2M106.1 87.67h-1.2M97.26 0v1.2M97.26 105.2v-1.2M0 96.43h1.2M106.1 96.43h-1.2" stroke="#a8a8a8" stroke-width="0.55" fill="none"/>
<use href="#ct"/>
<g fill="#1db46b"><circle cx="50.6" cy="26.7" r="1.3"/><circle cx="70.3" cy="25.9" r="1.6"/><circle cx="75" cy="25.9" r="1.9"/><circle cx="77.2" cy="34.9" r="1.6"/><circle cx="75.9" cy="36.6" r="0.8"/><circle cx="82.3" cy="37.5" r="1.9"/><circle cx="84.1" cy="39.7" r="0.8"/><circle cx="88.4" cy="41.6" r="0.6"/></g>
<g fill="#a3005f"><circle cx="57.8" cy="25" r="1.4"/><circle cx="66.4" cy="28.2" r="1.6"/><circle cx="69" cy="26.7" r="0.6"/><circle cx="72.8" cy="25.9" r="0.5"/><circle cx="81.7" cy="29.9" r="0.5"/><circle cx="47.6" cy="37.8" r="0.5"/><circle cx="75" cy="48.9" r="0.6"/><circle cx="77.6" cy="49.1" r="0.7"/><circle cx="44.6" cy="53.6" r="0.8"/><circle cx="32.9" cy="56.6" r="0.7"/><circle cx="20" cy="66.1" r="0.5"/><circle cx="57.3" cy="67.4" r="0.7"/><circle cx="78" cy="61.2" r="0.6"/><circle cx="80.9" cy="70.9" r="1.5"/></g>
</g>
<path d="M1018.29 763V768.3M1049.69 763V768.3M1125.05 763V768.3M1131.33 763V768.3M1150.17 763V768.3M1183.25 763V768.3" stroke="#6a6a6a" stroke-width="1.4" fill="none"/>
<rect x="1002.7" y="706.5" width="10.3" height="56.5" fill="#1db46b"/>
<text transform="translate(1011.5 734.75) rotate(-90)" text-anchor="middle" font-size="10" fill="#fff">Primitive</text>
<g transform="translate(1015.15 706.5)">
<g transform="scale(6.2800 6.2778)">
<path fill="#fbfbfb" d="M1 0h1v1h-1zM6 0h1v1h-1zM11 0h1v1h-1zM14 0h1v1h-1zM21 0h1v1h-1zM23 0h2v1h-2zM11 1h1v1h-1zM14 1h1v1h-1zM21 1h1v1h-1zM23 1h2v1h-2zM11 2h1v1h-1zM14 2h2v1h-2zM21 2h1v1h-1zM23 2h2v1h-2zM1 3h1v1h-1zM14 3h1v1h-1zM21 3h1v1h-1zM23 3h2v1h-2zM1 4h1v1h-1zM6 4h1v1h-1zM14 4h2v1h-2zM21 4h1v1h-1zM23 4h1v1h-1zM14 5h1v1h-1zM21 5h1v1h-1zM23 5h1v1h-1zM1 6h1v1h-1zM14 6h1v1h-1zM23 6h1v1h-1zM1 7h1v1h-1zM6 7h1v1h-1zM14 7h2v1h-2zM23 7h1v1h-1zM0 8h1v1h-1zM5 8h1v1h-1zM8 8h1v1h-1zM15 8h3v1h-3zM19 8h1v1h-1zM21 8h1v1h-1zM24 8h1v1h-1z"/>
<path fill="#fddbc7" d="M8 0h1v1h-1zM10 0h1v1h-1zM12 0h1v1h-1zM15 0h1v1h-1zM17 0h1v1h-1zM19 0h2v1h-2zM22 0h1v1h-1zM1 1h1v1h-1zM12 1h1v1h-1zM15 1h1v1h-1zM17 1h1v1h-1zM20 1h1v1h-1zM22 1h1v1h-1zM1 2h1v1h-1zM6 2h1v1h-1zM8 2h1v1h-1zM12 2h1v1h-1zM17 2h1v1h-1zM20 2h1v1h-1zM22 2h1v1h-1zM11 3h2v1h-2zM15 3h3v1h-3zM20 3h1v1h-1zM22 3h1v1h-1zM8 4h1v1h-1zM10 4h3v1h-3zM17 4h1v1h-1zM19 4h1v1h-1zM22 4h1v1h-1zM24 4h1v1h-1zM1 5h1v1h-1zM11 5h2v1h-2zM15 5h1v1h-1zM22 5h1v1h-1zM24 5h1v1h-1zM11 6h2v1h-2zM15 6h1v1h-1zM20 6h1v1h-1zM22 6h1v1h-1zM24 6h1v1h-1zM3 7h1v1h-1zM8 7h1v1h-1zM10 7h3v1h-3zM19 7h1v1h-1zM21 7h2v1h-2zM24 7h1v1h-1zM1 8h1v1h-1zM3 8h2v1h-2zM9 8h1v1h-1zM12 8h2v1h-2zM22 8h1v1h-1z"/>
<path fill="#f4a582" d="M3 0h2v1h-2zM9 0h1v1h-1zM13 0h1v1h-1zM16 0h1v1h-1zM5 1h2v1h-2zM8 1h1v1h-1zM13 1h1v1h-1zM16 1h1v1h-1zM3 2h3v1h-3zM9 2h2v1h-2zM13 2h1v1h-1zM16 2h1v1h-1zM19 2h1v1h-1zM6 3h1v1h-1zM8 3h1v1h-1zM10 3h1v1h-1zM13 3h1v1h-1zM19 3h1v1h-1zM3 4h3v1h-3zM9 4h1v1h-1zM16 4h1v1h-1zM20 4h1v1h-1zM5 5h2v1h-2zM8 5h1v1h-1zM10 5h1v1h-1zM17 5h1v1h-1zM20 5h1v1h-1zM6 6h1v1h-1zM8 6h1v1h-1zM10 6h1v1h-1zM13 6h1v1h-1zM21 6h1v1h-1zM4 7h2v1h-2zM9 7h1v1h-1zM17 7h1v1h-1zM2 8h1v1h-1z"/>
<path fill="#d6604d" d="M5 0h1v1h-1zM0 1h1v1h-1zM3 1h2v1h-2zM9 1h2v1h-2zM19 1h1v1h-1zM0 2h1v1h-1zM3 3h3v1h-3zM9 3h1v1h-1zM0 4h1v1h-1zM13 4h1v1h-1zM3 5h2v1h-2zM9 5h1v1h-1zM16 5h1v1h-1zM19 5h1v1h-1zM5 6h1v1h-1zM9 6h1v1h-1zM16 6h2v1h-2zM19 6h1v1h-1zM13 7h1v1h-1zM16 7h1v1h-1zM20 7h1v1h-1zM7 8h1v1h-1z"/>
<path fill="#b2182b" d="M0 3h1v1h-1zM2 4h1v1h-1zM0 5h1v1h-1zM13 5h1v1h-1zM0 6h1v1h-1zM2 6h3v1h-3z"/>
<path fill="#67001f" d="M0 0h1v1h-1zM2 0h1v1h-1zM7 0h1v1h-1zM18 0h1v1h-1zM2 1h1v1h-1zM7 1h1v1h-1zM18 1h1v1h-1zM2 2h1v1h-1zM7 2h1v1h-1zM18 2h1v1h-1zM2 3h1v1h-1zM7 3h1v1h-1zM18 3h1v1h-1zM7 4h1v1h-1zM18 4h1v1h-1zM2 5h1v1h-1zM7 5h1v1h-1zM18 5h1v1h-1zM7 6h1v1h-1zM18 6h1v1h-1zM0 7h1v1h-1zM2 7h1v1h-1zM7 7h1v1h-1zM18 7h1v1h-1zM18 8h1v1h-1z"/>
<path fill="#d1e5f0" d="M6 8h1v1h-1zM10 8h2v1h-2zM14 8h1v1h-1zM20 8h1v1h-1z"/>
<path fill="#92c5de" d="M23 8h1v1h-1z"/>
</g>
<path d="M0 0V56.5M6.28 0V56.5M12.56 0V56.5M18.84 0V56.5M25.12 0V56.5M31.4 0V56.5M37.68 0V56.5M43.96 0V56.5M50.24 0V56.5M56.52 0V56.5M62.8 0V56.5M69.08 0V56.5M75.36 0V56.5M81.64 0V56.5M87.92 0V56.5M94.2 0V56.5M100.48 0V56.5M106.76 0V56.5M113.04 0V56.5M119.32 0V56.5M125.6 0V56.5M131.88 0V56.5M138.16 0V56.5M144.44 0V56.5M150.72 0V56.5M157 0V56.5M0 0H157M0 6.28H157M0 12.56H157M0 18.83H157M0 25.11H157M0 31.39H157M0 37.67H157M0 43.94H157M0 50.22H157M0 56.5H157" stroke="#000" stroke-width="0.31" fill="none" stroke-opacity="0.8"/>
<rect x="0" y="0" width="157" height="56.5" fill="none" stroke="#555" stroke-width="0.5"/>
<path d="M3.14 0v1.3M3.14 56.5v-1.3M9.42 0v1.3M9.42 56.5v-1.3M15.7 0v1.3M15.7 56.5v-1.3M21.98 0v1.3M21.98 56.5v-1.3M28.26 0v1.3M28.26 56.5v-1.3M34.54 0v1.3M34.54 56.5v-1.3M40.82 0v1.3M40.82 56.5v-1.3M47.1 0v1.3M47.1 56.5v-1.3M53.38 0v1.3M53.38 56.5v-1.3M59.66 0v1.3M59.66 56.5v-1.3M65.94 0v1.3M65.94 56.5v-1.3M72.22 0v1.3M72.22 56.5v-1.3M78.5 0v1.3M78.5 56.5v-1.3M84.78 0v1.3M84.78 56.5v-1.3M91.06 0v1.3M91.06 56.5v-1.3M97.34 0v1.3M97.34 56.5v-1.3M103.62 0v1.3M103.62 56.5v-1.3M109.9 0v1.3M109.9 56.5v-1.3M116.18 0v1.3M116.18 56.5v-1.3M122.46 0v1.3M122.46 56.5v-1.3M128.74 0v1.3M128.74 56.5v-1.3M135.02 0v1.3M135.02 56.5v-1.3M141.3 0v1.3M141.3 56.5v-1.3M147.58 0v1.3M147.58 56.5v-1.3M153.86 0v1.3M153.86 56.5v-1.3M0 3.14h1.3M157 3.14h-1.3M0 9.42h1.3M157 9.42h-1.3M0 15.69h1.3M157 15.69h-1.3M0 21.97h1.3M157 21.97h-1.3M0 28.25h1.3M157 28.25h-1.3M0 34.53h1.3M157 34.53h-1.3M0 40.81h1.3M157 40.81h-1.3M0 47.08h1.3M157 47.08h-1.3M0 53.36h1.3M157 53.36h-1.3" stroke="#333" stroke-width="0.45" fill="none"/>
</g>
<g transform="translate(1180.1 706.5)">
<g transform="scale(6.2906 6.2778)">
<path fill="#4667ae" d="M4 0h1v1h-1zM12 0h1v1h-1zM15 0h1v1h-1zM4 1h1v1h-1zM12 1h1v1h-1zM15 1h1v1h-1zM4 2h1v1h-1zM12 2h1v1h-1zM15 2h1v1h-1zM4 3h1v1h-1zM12 3h1v1h-1zM15 3h1v1h-1zM4 4h1v1h-1zM12 4h1v1h-1zM15 4h1v1h-1zM4 5h1v1h-1zM12 5h1v1h-1zM15 5h1v1h-1zM4 6h1v1h-1zM12 6h1v1h-1zM15 6h1v1h-1zM4 7h1v1h-1zM12 7h1v1h-1zM15 7h1v1h-1zM3 8h2v1h-2zM11 8h2v1h-2zM15 8h1v1h-1z"/>
<path fill="#3387bc" d="M9 0h2v1h-2zM13 0h1v1h-1zM9 1h2v1h-2zM13 1h1v1h-1zM5 2h1v1h-1zM9 2h2v1h-2zM13 2h2v1h-2zM9 3h2v1h-2zM13 3h1v1h-1zM5 4h1v1h-1zM9 4h3v1h-3zM13 4h2v1h-2zM9 5h3v1h-3zM13 5h1v1h-1zM10 6h2v1h-2zM13 6h2v1h-2zM9 7h3v1h-3zM13 7h2v1h-2zM9 8h2v1h-2zM13 8h2v1h-2z"/>
<path fill="#4ba4b1" d="M14 0h1v1h-1zM2 1h1v1h-1zM14 1h1v1h-1zM14 3h1v1h-1zM2 5h1v1h-1zM14 5h1v1h-1zM5 7h1v1h-1zM5 8h1v1h-1z"/>
<path fill="#66c2a5" d="M5 1h1v1h-1zM5 5h1v1h-1zM0 8h1v1h-1z"/>
<path fill="#abdda4" d="M5 0h1v1h-1zM5 6h1v1h-1z"/>
<path fill="#e6f598" d="M5 3h1v1h-1zM11 3h1v1h-1zM6 4h1v1h-1zM6 7h1v1h-1zM1 8h1v1h-1z"/>
<path fill="#fbf8b0" d="M3 0h1v1h-1zM6 0h1v1h-1zM11 0h1v1h-1zM3 1h1v1h-1zM6 1h1v1h-1zM11 1h1v1h-1zM3 2h1v1h-1zM6 2h1v1h-1zM11 2h1v1h-1zM3 3h1v1h-1zM6 3h1v1h-1zM3 4h1v1h-1zM6 5h1v1h-1zM3 6h1v1h-1zM6 6h1v1h-1zM9 6h1v1h-1zM3 7h1v1h-1z"/>
<path fill="#fee08b" d="M1 0h1v1h-1zM7 0h1v1h-1zM1 1h1v1h-1zM7 1h1v1h-1zM1 2h1v1h-1zM7 2h1v1h-1zM1 3h1v1h-1zM7 3h1v1h-1zM1 4h1v1h-1zM3 5h1v1h-1zM1 6h1v1h-1zM7 6h1v1h-1zM6 8h2v1h-2z"/>
<path fill="#fdae61" d="M2 2h1v1h-1zM2 3h1v1h-1zM0 4h1v1h-1zM7 4h2v1h-2zM1 5h1v1h-1zM7 5h1v1h-1zM1 7h1v1h-1zM8 7h1v1h-1z"/>
<path fill="#f46d43" d="M2 4h1v1h-1zM0 6h1v1h-1zM2 6h1v1h-1zM7 7h1v1h-1z"/>
<path fill="#d53e4f" d="M0 2h1v1h-1zM8 2h1v1h-1zM8 6h1v1h-1zM0 7h1v1h-1z"/>
<path fill="#9e0142" d="M0 0h1v1h-1zM2 0h1v1h-1zM8 0h1v1h-1zM0 1h1v1h-1zM8 1h1v1h-1zM0 3h1v1h-1zM8 3h1v1h-1zM0 5h1v1h-1zM8 5h1v1h-1zM2 7h1v1h-1zM2 8h1v1h-1zM8 8h1v1h-1z"/>
</g>
<path d="M0 0V56.5M6.29 0V56.5M12.58 0V56.5M18.87 0V56.5M25.16 0V56.5M31.45 0V56.5M37.74 0V56.5M44.03 0V56.5M50.33 0V56.5M56.62 0V56.5M62.91 0V56.5M69.2 0V56.5M75.49 0V56.5M81.78 0V56.5M88.07 0V56.5M94.36 0V56.5M100.65 0V56.5M0 0H100.65M0 6.28H100.65M0 12.56H100.65M0 18.83H100.65M0 25.11H100.65M0 31.39H100.65M0 37.67H100.65M0 43.94H100.65M0 50.22H100.65M0 56.5H100.65" stroke="#000" stroke-width="0.31" fill="none" stroke-opacity="0.8"/>
<rect x="0" y="0" width="100.65" height="56.5" fill="none" stroke="#555" stroke-width="0.5"/>
<path d="M3.15 0v1.3M3.15 56.5v-1.3M9.44 0v1.3M9.44 56.5v-1.3M15.73 0v1.3M15.73 56.5v-1.3M22.02 0v1.3M22.02 56.5v-1.3M28.31 0v1.3M28.31 56.5v-1.3M34.6 0v1.3M34.6 56.5v-1.3M40.89 0v1.3M40.89 56.5v-1.3M47.18 0v1.3M47.18 56.5v-1.3M53.47 0v1.3M53.47 56.5v-1.3M59.76 0v1.3M59.76 56.5v-1.3M66.05 0v1.3M66.05 56.5v-1.3M72.34 0v1.3M72.34 56.5v-1.3M78.63 0v1.3M78.63 56.5v-1.3M84.92 0v1.3M84.92 56.5v-1.3M91.21 0v1.3M91.21 56.5v-1.3M97.5 0v1.3M97.5 56.5v-1.3M0 3.14h1.3M100.65 3.14h-1.3M0 9.42h1.3M100.65 9.42h-1.3M0 15.69h1.3M100.65 15.69h-1.3M0 21.97h1.3M100.65 21.97h-1.3M0 28.25h1.3M100.65 28.25h-1.3M0 34.53h1.3M100.65 34.53h-1.3M0 40.81h1.3M100.65 40.81h-1.3M0 47.08h1.3M100.65 47.08h-1.3M0 53.36h1.3M100.65 53.36h-1.3" stroke="#333" stroke-width="0.45" fill="none"/>
</g>
<rect x="1002.7" y="768.3" width="10.3" height="87.7" fill="#a3005f"/>
<text transform="translate(1011.5 812.15) rotate(-90)" text-anchor="middle" font-size="10" fill="#fff">Mature</text>
<g transform="translate(1015.15 768.3)">
<g transform="scale(6.2800 6.2643)">
<path fill="#fbfbfb" d="M1 0h1v1h-1zM14 0h1v1h-1zM1 1h1v1h-1zM6 1h1v1h-1zM11 1h1v1h-1zM14 1h1v1h-1zM21 1h1v1h-1zM23 1h2v1h-2zM1 2h1v1h-1zM12 2h1v1h-1zM14 2h1v1h-1zM20 2h2v1h-2zM23 2h1v1h-1zM1 3h1v1h-1zM14 3h1v1h-1zM21 3h1v1h-1zM24 3h1v1h-1zM14 4h1v1h-1zM21 4h1v1h-1zM24 4h1v1h-1zM1 5h1v1h-1zM14 5h1v1h-1zM23 5h1v1h-1zM1 6h1v1h-1zM10 6h1v1h-1zM14 6h1v1h-1zM19 6h1v1h-1zM24 6h1v1h-1zM14 7h1v1h-1zM21 7h1v1h-1zM24 7h1v1h-1zM17 8h1v1h-1zM20 8h2v1h-2zM23 8h1v1h-1zM0 9h2v1h-2zM5 9h1v1h-1zM11 9h1v1h-1zM14 9h1v1h-1zM20 9h1v1h-1zM23 9h1v1h-1zM5 10h2v1h-2zM17 10h1v1h-1zM20 10h2v1h-2zM23 10h2v1h-2zM14 11h1v1h-1zM20 11h1v1h-1zM24 11h1v1h-1zM0 12h2v1h-2zM5 12h1v1h-1zM12 12h1v1h-1zM14 12h1v1h-1zM21 12h1v1h-1zM24 12h1v1h-1zM1 13h2v1h-2zM5 13h1v1h-1zM14 13h1v1h-1zM20 13h2v1h-2zM23 13h1v1h-1z"/>
<path fill="#fddbc7" d="M11 0h2v1h-2zM17 0h1v1h-1zM21 0h4v1h-4zM5 1h1v1h-1zM8 1h1v1h-1zM10 1h1v1h-1zM12 1h1v1h-1zM15 1h2v1h-2zM20 1h1v1h-1zM22 1h1v1h-1zM0 2h1v1h-1zM5 2h2v1h-2zM8 2h1v1h-1zM11 2h1v1h-1zM15 2h1v1h-1zM22 2h1v1h-1zM5 3h2v1h-2zM8 3h1v1h-1zM11 3h2v1h-2zM15 3h1v1h-1zM17 3h1v1h-1zM22 3h2v1h-2zM0 4h2v1h-2zM5 4h1v1h-1zM11 4h2v1h-2zM17 4h1v1h-1zM20 4h1v1h-1zM22 4h2v1h-2zM12 5h1v1h-1zM24 5h1v1h-1zM15 6h1v1h-1zM18 6h1v1h-1zM0 7h2v1h-2zM5 7h1v1h-1zM8 7h1v1h-1zM12 7h1v1h-1zM15 7h1v1h-1zM22 7h1v1h-1zM11 8h2v1h-2zM15 8h2v1h-2zM22 8h1v1h-1zM24 8h1v1h-1zM12 9h1v1h-1zM16 9h1v1h-1zM19 9h1v1h-1zM21 9h2v1h-2zM0 10h2v1h-2zM8 10h1v1h-1zM11 10h2v1h-2zM15 10h1v1h-1zM22 10h1v1h-1zM1 11h1v1h-1zM11 11h2v1h-2zM15 11h3v1h-3zM21 11h3v1h-3zM17 12h1v1h-1zM22 12h1v1h-1zM0 13h1v1h-1zM11 13h2v1h-2zM15 13h3v1h-3zM22 13h1v1h-1z"/>
<path fill="#f4a582" d="M20 0h1v1h-1zM0 1h1v1h-1zM3 1h2v1h-2zM9 1h1v1h-1zM13 1h1v1h-1zM17 1h1v1h-1zM19 1h1v1h-1zM2 2h3v1h-3zM9 2h2v1h-2zM13 2h1v1h-1zM16 2h1v1h-1zM19 2h1v1h-1zM0 3h1v1h-1zM3 3h1v1h-1zM9 3h2v1h-2zM16 3h1v1h-1zM19 3h2v1h-2zM6 4h1v1h-1zM8 4h1v1h-1zM15 4h2v1h-2zM13 5h1v1h-1zM15 5h1v1h-1zM20 5h1v1h-1zM22 5h1v1h-1zM3 6h4v1h-4zM8 6h1v1h-1zM12 6h2v1h-2zM17 6h1v1h-1zM3 7h1v1h-1zM6 7h1v1h-1zM9 7h3v1h-3zM17 7h1v1h-1zM19 7h2v1h-2zM23 7h1v1h-1zM2 8h1v1h-1zM13 8h1v1h-1zM3 9h1v1h-1zM8 9h1v1h-1zM10 9h1v1h-1zM15 9h1v1h-1zM3 10h2v1h-2zM9 10h2v1h-2zM13 10h1v1h-1zM16 10h1v1h-1zM18 10h2v1h-2zM2 11h1v1h-1zM5 11h1v1h-1zM13 11h1v1h-1zM2 12h1v1h-1zM8 12h1v1h-1zM11 12h1v1h-1zM15 12h2v1h-2zM23 12h1v1h-1zM13 13h1v1h-1zM18 13h1v1h-1z"/>
<path fill="#d6604d" d="M5 0h1v1h-1zM13 0h1v1h-1zM15 0h2v1h-2zM7 2h1v1h-1zM17 2h1v1h-1zM4 3h1v1h-1zM3 4h2v1h-2zM9 4h2v1h-2zM13 4h1v1h-1zM19 4h1v1h-1zM0 5h1v1h-1zM2 5h1v1h-1zM5 5h1v1h-1zM8 5h1v1h-1zM10 5h2v1h-2zM9 6h1v1h-1zM16 6h1v1h-1zM4 7h1v1h-1zM16 7h1v1h-1zM0 8h1v1h-1zM5 8h1v1h-1zM8 8h1v1h-1zM18 8h1v1h-1zM2 9h1v1h-1zM4 9h1v1h-1zM6 9h1v1h-1zM9 9h1v1h-1zM13 9h1v1h-1zM2 10h1v1h-1zM18 11h1v1h-1zM3 12h1v1h-1zM6 12h2v1h-2zM9 12h2v1h-2zM13 12h1v1h-1zM19 12h1v1h-1zM7 13h2v1h-2z"/>
<path fill="#b2182b" d="M0 0h1v1h-1zM8 0h1v1h-1zM13 3h1v1h-1zM18 4h1v1h-1zM17 5h2v1h-2zM21 5h1v1h-1zM11 6h1v1h-1zM2 7h1v1h-1zM7 10h1v1h-1zM0 11h1v1h-1zM8 11h1v1h-1zM4 12h1v1h-1zM18 12h1v1h-1zM4 13h1v1h-1zM6 13h1v1h-1zM9 13h1v1h-1zM19 13h1v1h-1z"/>
<path fill="#67001f" d="M2 0h3v1h-3zM6 0h2v1h-2zM9 0h2v1h-2zM18 0h2v1h-2zM2 1h1v1h-1zM7 1h1v1h-1zM18 1h1v1h-1zM18 2h1v1h-1zM2 3h1v1h-1zM7 3h1v1h-1zM18 3h1v1h-1zM2 4h1v1h-1zM7 4h1v1h-1zM3 5h2v1h-2zM6 5h2v1h-2zM9 5h1v1h-1zM16 5h1v1h-1zM19 5h1v1h-1zM2 6h1v1h-1zM7 6h1v1h-1zM20 6h3v1h-3zM7 7h1v1h-1zM13 7h1v1h-1zM18 7h1v1h-1zM3 8h2v1h-2zM6 8h2v1h-2zM9 8h2v1h-2zM19 8h1v1h-1zM7 9h1v1h-1zM18 9h1v1h-1zM3 11h2v1h-2zM6 11h2v1h-2zM9 11h2v1h-2zM19 11h1v1h-1zM3 13h1v1h-1zM10 13h1v1h-1z"/>
<path fill="#d1e5f0" d="M24 2h1v1h-1zM23 6h1v1h-1zM1 8h1v1h-1zM14 8h1v1h-1zM24 9h1v1h-1zM14 10h1v1h-1zM20 12h1v1h-1zM24 13h1v1h-1z"/>
<path fill="#92c5de" d="M0 6h1v1h-1zM17 9h1v1h-1z"/>
</g>
<path d="M0 0V87.7M6.28 0V87.7M12.56 0V87.7M18.84 0V87.7M25.12 0V87.7M31.4 0V87.7M37.68 0V87.7M43.96 0V87.7M50.24 0V87.7M56.52 0V87.7M62.8 0V87.7M69.08 0V87.7M75.36 0V87.7M81.64 0V87.7M87.92 0V87.7M94.2 0V87.7M100.48 0V87.7M106.76 0V87.7M113.04 0V87.7M119.32 0V87.7M125.6 0V87.7M131.88 0V87.7M138.16 0V87.7M144.44 0V87.7M150.72 0V87.7M157 0V87.7M0 0H157M0 6.26H157M0 12.53H157M0 18.79H157M0 25.06H157M0 31.32H157M0 37.59H157M0 43.85H157M0 50.11H157M0 56.38H157M0 62.64H157M0 68.91H157M0 75.17H157M0 81.44H157M0 87.7H157" stroke="#000" stroke-width="0.31" fill="none" stroke-opacity="0.8"/>
<rect x="0" y="0" width="157" height="87.7" fill="none" stroke="#555" stroke-width="0.5"/>
<path d="M3.14 0v1.3M3.14 87.7v-1.3M9.42 0v1.3M9.42 87.7v-1.3M15.7 0v1.3M15.7 87.7v-1.3M21.98 0v1.3M21.98 87.7v-1.3M28.26 0v1.3M28.26 87.7v-1.3M34.54 0v1.3M34.54 87.7v-1.3M40.82 0v1.3M40.82 87.7v-1.3M47.1 0v1.3M47.1 87.7v-1.3M53.38 0v1.3M53.38 87.7v-1.3M59.66 0v1.3M59.66 87.7v-1.3M65.94 0v1.3M65.94 87.7v-1.3M72.22 0v1.3M72.22 87.7v-1.3M78.5 0v1.3M78.5 87.7v-1.3M84.78 0v1.3M84.78 87.7v-1.3M91.06 0v1.3M91.06 87.7v-1.3M97.34 0v1.3M97.34 87.7v-1.3M103.62 0v1.3M103.62 87.7v-1.3M109.9 0v1.3M109.9 87.7v-1.3M116.18 0v1.3M116.18 87.7v-1.3M122.46 0v1.3M122.46 87.7v-1.3M128.74 0v1.3M128.74 87.7v-1.3M135.02 0v1.3M135.02 87.7v-1.3M141.3 0v1.3M141.3 87.7v-1.3M147.58 0v1.3M147.58 87.7v-1.3M153.86 0v1.3M153.86 87.7v-1.3M0 3.13h1.3M157 3.13h-1.3M0 9.4h1.3M157 9.4h-1.3M0 15.66h1.3M157 15.66h-1.3M0 21.93h1.3M157 21.93h-1.3M0 28.19h1.3M157 28.19h-1.3M0 34.45h1.3M157 34.45h-1.3M0 40.72h1.3M157 40.72h-1.3M0 46.98h1.3M157 46.98h-1.3M0 53.25h1.3M157 53.25h-1.3M0 59.51h1.3M157 59.51h-1.3M0 65.78h1.3M157 65.78h-1.3M0 72.04h1.3M157 72.04h-1.3M0 78.3h1.3M157 78.3h-1.3M0 84.57h1.3M157 84.57h-1.3" stroke="#333" stroke-width="0.45" fill="none"/>
</g>
<g transform="translate(1180.1 768.3)">
<g transform="scale(6.2906 6.2643)">
<path fill="#5b51a3" d="M3 13h1v1h-1z"/>
<path fill="#4667ae" d="M4 0h1v1h-1zM10 0h1v1h-1zM12 0h1v1h-1zM15 0h1v1h-1zM4 1h1v1h-1zM10 1h1v1h-1zM12 1h1v1h-1zM15 1h1v1h-1zM4 2h1v1h-1zM15 2h1v1h-1zM4 3h1v1h-1zM10 3h1v1h-1zM12 3h1v1h-1zM15 3h1v1h-1zM4 4h1v1h-1zM10 4h1v1h-1zM12 4h1v1h-1zM15 4h1v1h-1zM4 5h1v1h-1zM11 5h2v1h-2zM15 5h1v1h-1zM10 6h1v1h-1zM12 6h1v1h-1zM15 6h1v1h-1zM4 7h1v1h-1zM9 7h2v1h-2zM12 7h1v1h-1zM15 7h1v1h-1zM4 8h1v1h-1zM10 8h3v1h-3zM15 8h1v1h-1zM4 9h1v1h-1zM10 9h1v1h-1zM12 9h1v1h-1zM15 9h1v1h-1zM10 10h1v1h-1zM12 10h1v1h-1zM15 10h1v1h-1zM4 11h1v1h-1zM10 11h3v1h-3zM15 11h1v1h-1zM4 12h1v1h-1zM9 12h4v1h-4zM15 12h1v1h-1zM4 13h1v1h-1zM11 13h2v1h-2zM15 13h1v1h-1z"/>
<path fill="#3387bc" d="M9 0h1v1h-1zM14 0h1v1h-1zM5 1h1v1h-1zM13 1h2v1h-2zM9 2h2v1h-2zM13 2h2v1h-2zM5 3h1v1h-1zM9 3h1v1h-1zM11 3h1v1h-1zM13 3h2v1h-2zM5 4h1v1h-1zM9 4h1v1h-1zM13 4h2v1h-2zM10 5h1v1h-1zM13 5h2v1h-2zM5 6h1v1h-1zM9 6h1v1h-1zM13 6h2v1h-2zM3 7h1v1h-1zM5 7h1v1h-1zM11 7h1v1h-1zM13 7h2v1h-2zM13 8h1v1h-1zM3 9h1v1h-1zM5 9h1v1h-1zM9 9h1v1h-1zM11 9h1v1h-1zM13 9h2v1h-2zM3 10h1v1h-1zM5 10h1v1h-1zM9 10h1v1h-1zM11 10h1v1h-1zM13 10h2v1h-2zM3 11h1v1h-1zM13 11h2v1h-2zM5 12h1v1h-1zM13 12h2v1h-2zM5 13h1v1h-1zM13 13h1v1h-1z"/>
<path fill="#4ba4b1" d="M5 2h1v1h-1zM2 3h1v1h-1zM2 4h1v1h-1zM2 5h1v1h-1zM2 6h1v1h-1zM2 10h1v1h-1zM2 11h1v1h-1zM2 12h2v1h-2zM2 13h1v1h-1z"/>
<path fill="#66c2a5" d="M5 0h1v1h-1zM2 1h1v1h-1zM6 7h1v1h-1zM2 8h1v1h-1zM5 8h1v1h-1zM9 8h1v1h-1zM0 10h1v1h-1zM0 12h1v1h-1zM6 12h1v1h-1zM0 13h2v1h-2z"/>
<path fill="#abdda4" d="M3 4h1v1h-1zM5 5h1v1h-1zM1 7h1v1h-1zM0 9h2v1h-2zM6 9h1v1h-1zM0 11h1v1h-1zM5 11h1v1h-1zM10 13h1v1h-1z"/>
<path fill="#e6f598" d="M11 0h1v1h-1zM13 0h1v1h-1zM9 1h1v1h-1zM6 3h1v1h-1zM6 4h1v1h-1zM1 6h1v1h-1zM0 7h1v1h-1zM7 7h1v1h-1zM0 8h1v1h-1zM4 10h1v1h-1zM6 10h1v1h-1zM1 12h1v1h-1zM7 12h1v1h-1z"/>
<path fill="#fbf8b0" d="M2 0h2v1h-2zM6 0h1v1h-1zM3 1h1v1h-1zM6 1h1v1h-1zM11 1h1v1h-1zM3 2h1v1h-1zM1 3h1v1h-1zM3 3h1v1h-1zM11 4h1v1h-1zM0 5h1v1h-1zM0 6h1v1h-1zM8 7h1v1h-1zM3 8h1v1h-1zM6 8h1v1h-1zM1 11h1v1h-1zM6 11h2v1h-2zM9 11h1v1h-1zM8 12h1v1h-1zM6 13h1v1h-1zM9 13h1v1h-1z"/>
<path fill="#fee08b" d="M1 0h1v1h-1zM7 0h1v1h-1zM1 1h1v1h-1zM7 1h1v1h-1zM1 2h1v1h-1zM0 4h2v1h-2zM7 4h1v1h-1zM1 5h1v1h-1zM3 5h1v1h-1zM6 5h2v1h-2zM6 6h1v1h-1zM11 6h1v1h-1zM14 8h1v1h-1zM1 10h1v1h-1zM7 10h1v1h-1zM7 13h2v1h-2z"/>
<path fill="#fdae61" d="M2 2h1v1h-1zM7 2h1v1h-1zM7 3h2v1h-2zM8 4h1v1h-1zM9 5h1v1h-1zM3 6h2v1h-2zM7 6h1v1h-1zM1 8h1v1h-1zM7 8h1v1h-1zM8 9h1v1h-1zM8 10h1v1h-1zM14 13h1v1h-1z"/>
<path fill="#f46d43" d="M0 2h1v1h-1zM11 2h2v1h-2zM0 3h1v1h-1zM2 7h1v1h-1zM7 9h1v1h-1zM8 11h1v1h-1z"/>
<path fill="#d53e4f" d="M0 1h1v1h-1zM8 1h1v1h-1zM6 2h1v1h-1zM8 8h1v1h-1z"/>
<path fill="#9e0142" d="M0 0h1v1h-1zM8 0h1v1h-1zM8 2h1v1h-1zM8 5h1v1h-1zM8 6h1v1h-1zM2 9h1v1h-1z"/>
</g>
<path d="M0 0V87.7M6.29 0V87.7M12.58 0V87.7M18.87 0V87.7M25.16 0V87.7M31.45 0V87.7M37.74 0V87.7M44.03 0V87.7M50.33 0V87.7M56.62 0V87.7M62.91 0V87.7M69.2 0V87.7M75.49 0V87.7M81.78 0V87.7M88.07 0V87.7M94.36 0V87.7M100.65 0V87.7M0 0H100.65M0 6.26H100.65M0 12.53H100.65M0 18.79H100.65M0 25.06H100.65M0 31.32H100.65M0 37.59H100.65M0 43.85H100.65M0 50.11H100.65M0 56.38H100.65M0 62.64H100.65M0 68.91H100.65M0 75.17H100.65M0 81.44H100.65M0 87.7H100.65" stroke="#000" stroke-width="0.31" fill="none" stroke-opacity="0.8"/>
<rect x="0" y="0" width="100.65" height="87.7" fill="none" stroke="#555" stroke-width="0.5"/>
<path d="M3.15 0v1.3M3.15 87.7v-1.3M9.44 0v1.3M9.44 87.7v-1.3M15.73 0v1.3M15.73 87.7v-1.3M22.02 0v1.3M22.02 87.7v-1.3M28.31 0v1.3M28.31 87.7v-1.3M34.6 0v1.3M34.6 87.7v-1.3M40.89 0v1.3M40.89 87.7v-1.3M47.18 0v1.3M47.18 87.7v-1.3M53.47 0v1.3M53.47 87.7v-1.3M59.76 0v1.3M59.76 87.7v-1.3M66.05 0v1.3M66.05 87.7v-1.3M72.34 0v1.3M72.34 87.7v-1.3M78.63 0v1.3M78.63 87.7v-1.3M84.92 0v1.3M84.92 87.7v-1.3M91.21 0v1.3M91.21 87.7v-1.3M97.5 0v1.3M97.5 87.7v-1.3M0 3.13h1.3M100.65 3.13h-1.3M0 9.4h1.3M100.65 9.4h-1.3M0 15.66h1.3M100.65 15.66h-1.3M0 21.93h1.3M100.65 21.93h-1.3M0 28.19h1.3M100.65 28.19h-1.3M0 34.45h1.3M100.65 34.45h-1.3M0 40.72h1.3M100.65 40.72h-1.3M0 46.98h1.3M100.65 46.98h-1.3M0 53.25h1.3M100.65 53.25h-1.3M0 59.51h1.3M100.65 59.51h-1.3M0 65.78h1.3M100.65 65.78h-1.3M0 72.04h1.3M100.65 72.04h-1.3M0 78.3h1.3M100.65 78.3h-1.3M0 84.57h1.3M100.65 84.57h-1.3" stroke="#333" stroke-width="0.45" fill="none"/>
</g>
<path d="M1018.29 856V863.8L914.15 870.8V874.3M1049.69 856V863.8L968.15 870.8V874.3M1125.05 856V863.8L1093.15 870.8V874.3M1131.33 856V863.8L1106.9 870.8V874.3M1150.17 856V863.8L1138.15 870.8V874.3M1183.25 856V863.4C1183.25 867.4 1179.5 869.4 1179.5 874.3" stroke="#6a6a6a" stroke-width="1.4" fill="none"/>
<text transform="translate(918.15 876.4) rotate(-90)" text-anchor="end" font-size="11.8" fill="#111" stroke="#111" stroke-width="0.12">G−CSF→pSTAT3</text>
<text transform="translate(929.05 876.4) rotate(-90)" text-anchor="end" font-size="5.95" fill="#222" stroke="#222" stroke-width="0.22">IL−3→pSTAT3</text>
<text transform="translate(938.65 876.4) rotate(-90)" text-anchor="end" font-size="5.95" fill="#222" stroke="#222" stroke-width="0.22">IL−3→pSTAT5</text>
<text transform="translate(947.4 876.4) rotate(-90)" text-anchor="end" font-size="5.95" fill="#222" stroke="#222" stroke-width="0.22">PVO4→pZAP70/SYK</text>
<text transform="translate(957.15 876.4) rotate(-90)" text-anchor="end" font-size="5.95" fill="#222" stroke="#222" stroke-width="0.22">PVO4→pP38</text>
<text transform="translate(972.15 876.4) rotate(-90)" text-anchor="end" font-size="11.8" fill="#111" stroke="#111" stroke-width="0.12">G−CSF→pSTAT5</text>
<text transform="translate(981.55 876.4) rotate(-90)" text-anchor="end" font-size="5.95" fill="#222" stroke="#222" stroke-width="0.22">PVO4→pERK1/2</text>
<text transform="translate(991.75 876.4) rotate(-90)" text-anchor="end" font-size="5.95" fill="#222" stroke="#222" stroke-width="0.22">GM−CSF→pSTAT5</text>
<text transform="translate(1001.9 876.4) rotate(-90)" text-anchor="end" font-size="5.95" fill="#222" stroke="#222" stroke-width="0.22">PVO4→pSTAT5</text>
<text transform="translate(1011.9 876.4) rotate(-90)" text-anchor="end" font-size="5.95" fill="#222" stroke="#222" stroke-width="0.22">PVO4→pPLCg2</text>
<text transform="translate(1022.15 876.4) rotate(-90)" text-anchor="end" font-size="5.95" fill="#222" stroke="#222" stroke-width="0.22">PVO4→pSTAT3</text>
<text transform="translate(1032.4 876.4) rotate(-90)" text-anchor="end" font-size="5.95" fill="#222" stroke="#222" stroke-width="0.22">PVO4→pS6</text>
<text transform="translate(1042.4 876.4) rotate(-90)" text-anchor="end" font-size="5.95" fill="#222" stroke="#222" stroke-width="0.22">GM−CSF→pSTAT3</text>
<text transform="translate(1052.75 876.4) rotate(-90)" text-anchor="end" font-size="5.95" fill="#222" stroke="#222" stroke-width="0.22">GM−CSF→pCREB</text>
<text transform="translate(1063.25 876.4) rotate(-90)" text-anchor="end" font-size="5.95" fill="#222" stroke="#222" stroke-width="0.22">PMA/iono.→pP38</text>
<text transform="translate(1073.4 876.4) rotate(-90)" text-anchor="end" font-size="5.95" fill="#222" stroke="#222" stroke-width="0.22">PVO4→pAKT</text>
<text transform="translate(1083.65 876.4) rotate(-90)" text-anchor="end" font-size="5.95" fill="#222" stroke="#222" stroke-width="0.22">GM−CSF→pS6</text>
<text transform="translate(1097.15 876.4) rotate(-90)" text-anchor="end" font-size="11.8" fill="#111" stroke="#111" stroke-width="0.12">FLT3L→pAKT</text>
<text transform="translate(1110.9 876.4) rotate(-90)" text-anchor="end" font-size="11.8" fill="#111" stroke="#111" stroke-width="0.12">SCF→pAKT</text>
<text transform="translate(1119.9 876.4) rotate(-90)" text-anchor="end" font-size="5.95" fill="#222" stroke="#222" stroke-width="0.22">PVO4→pCBL</text>
<text transform="translate(1128.15 876.4) rotate(-90)" text-anchor="end" font-size="5.95" fill="#222" stroke="#222" stroke-width="0.22">IL−3→pS6</text>
<text transform="translate(1142.15 876.4) rotate(-90)" text-anchor="end" font-size="11.8" fill="#111" stroke="#111" stroke-width="0.12">IL−10→pSTAT3</text>
<text transform="translate(1151.15 876.4) rotate(-90)" text-anchor="end" font-size="5.95" fill="#222" stroke="#222" stroke-width="0.22">GM−CSF→pERK1/2</text>
<text transform="translate(1158.65 876.4) rotate(-90)" text-anchor="end" font-size="5.95" fill="#222" stroke="#222" stroke-width="0.22">PVO4→pCREB</text>
<text transform="translate(1166.55 876.4) rotate(-90)" text-anchor="end" font-size="5.95" fill="#222" stroke="#222" stroke-width="0.22">G−CSF→pCREB</text>
<text transform="translate(1183.4 876.4) rotate(-90)" text-anchor="end" font-size="11.8" fill="#111" stroke="#111" stroke-width="0.12">CD34</text>
<text transform="translate(1189.75 876.4) rotate(-90)" text-anchor="end" font-size="5.95" fill="#222" stroke="#222" stroke-width="0.22">CD38</text>
<text transform="translate(1196.49 876.4) rotate(-90)" text-anchor="end" font-size="5.95" fill="#222" stroke="#222" stroke-width="0.22">CD117</text>
<text transform="translate(1203.23 876.4) rotate(-90)" text-anchor="end" font-size="5.95" fill="#222" stroke="#222" stroke-width="0.22">HLA−DR</text>
<text transform="translate(1209.97 876.4) rotate(-90)" text-anchor="end" font-size="5.95" fill="#222" stroke="#222" stroke-width="0.22">CD123</text>
<text transform="translate(1216.71 876.4) rotate(-90)" text-anchor="end" font-size="5.95" fill="#222" stroke="#222" stroke-width="0.22">CD33</text>
<text transform="translate(1223.45 876.4) rotate(-90)" text-anchor="end" font-size="5.95" fill="#222" stroke="#222" stroke-width="0.22">CD45</text>
<text transform="translate(1230.19 876.4) rotate(-90)" text-anchor="end" font-size="5.95" fill="#222" stroke="#222" stroke-width="0.22">CD47</text>
<text transform="translate(1236.93 876.4) rotate(-90)" text-anchor="end" font-size="5.95" fill="#222" stroke="#222" stroke-width="0.22">CD44</text>
<text transform="translate(1243.67 876.4) rotate(-90)" text-anchor="end" font-size="5.95" fill="#222" stroke="#222" stroke-width="0.22">CD64</text>
<text transform="translate(1250.41 876.4) rotate(-90)" text-anchor="end" font-size="5.95" fill="#222" stroke="#222" stroke-width="0.22">CD11b</text>
<text transform="translate(1257.15 876.4) rotate(-90)" text-anchor="end" font-size="5.95" fill="#222" stroke="#222" stroke-width="0.22">CD7</text>
<text transform="translate(1263.89 876.4) rotate(-90)" text-anchor="end" font-size="5.95" fill="#222" stroke="#222" stroke-width="0.22">CD3</text>
<text transform="translate(1270.63 876.4) rotate(-90)" text-anchor="end" font-size="5.95" fill="#222" stroke="#222" stroke-width="0.22">CD19</text>
<text transform="translate(1277.37 876.4) rotate(-90)" text-anchor="end" font-size="5.95" fill="#222" stroke="#222" stroke-width="0.22">CD15</text>
<text transform="translate(1284.11 876.4) rotate(-90)" text-anchor="end" font-size="5.95" fill="#222" stroke="#222" stroke-width="0.22">CD41</text>
</g>
<g id="SJ13">
<text x="52.2" y="1025.3" font-size="36" fill="#000" stroke="#000" stroke-width="0.25">SJ13</text>
<g transform="translate(48.1 1031)">
<rect x="0" y="0" width="106.1" height="105.5" fill="#fff" stroke="#bdbdbd" stroke-width="0.65"/>
<path d="M8.84 0v1.2M8.84 105.5v-1.2M0 8.79h1.2M106.1 8.79h-1.2M17.68 0v1.2M17.68 105.5v-1.2M0 17.58h1.2M106.1 17.58h-1.2M26.52 0v1.2M26.52 105.5v-1.2M0 26.38h1.2M106.1 26.38h-1.2M35.37 0v1.2M35.37 105.5v-1.2M0 35.17h1.2M106.1 35.17h-1.2M44.21 0v1.2M44.21 105.5v-1.2M0 43.96h1.2M106.1 43.96h-1.2M53.05 0v1.2M53.05 105.5v-1.2M0 52.75h1.2M106.1 52.75h-1.2M61.89 0v1.2M61.89 105.5v-1.2M0 61.54h1.2M106.1 61.54h-1.2M70.73 0v1.2M70.73 105.5v-1.2M0 70.33h1.2M106.1 70.33h-1.2M79.58 0v1.2M79.58 105.5v-1.2M0 79.12h1.2M106.1 79.12h-1.2M88.42 0v1.2M88.42 105.5v-1.2M0 87.92h1.2M106.1 87.92h-1.2M97.26 0v1.2M97.26 105.5v-1.2M0 96.71h1.2M106.1 96.71h-1.2" stroke="#a8a8a8" stroke-width="0.55" fill="none"/>
<use href="#ct"/>
<g fill="#1db46b"><circle cx="65.2" cy="30" r="1.4"/><circle cx="67.8" cy="30.7" r="1"/><circle cx="70.4" cy="30.3" r="1.4"/><circle cx="72.6" cy="30.3" r="1.2"/><circle cx="75" cy="30.3" r="1.5"/><circle cx="80.9" cy="32.2" r="1.7"/><circle cx="80.7" cy="34.3" r="1.6"/><circle cx="52.3" cy="35" r="0.7"/><circle cx="85.2" cy="41" r="0.6"/><circle cx="70.9" cy="48" r="1.3"/><circle cx="53.9" cy="24.3" r="0.4"/></g>
<g fill="#a3005f"><circle cx="72.8" cy="49.1" r="0.7"/><circle cx="41" cy="52.6" r="1.3"/><circle cx="30.2" cy="55.7" r="0.7"/><circle cx="32.6" cy="57.8" r="0.6"/><circle cx="19.1" cy="68.3" r="0.7"/><circle cx="48.4" cy="67.8" r="0.7"/><circle cx="69.3" cy="69.6" r="0.9"/></g>
</g>
<path d="M178.64 1083.9V1089.5M210.04 1083.9V1089.5M285.4 1083.9V1089.5M291.68 1083.9V1089.5M310.52 1083.9V1089.5M343.65 1083.9V1089.5" stroke="#6a6a6a" stroke-width="1.4" fill="none"/>
<rect x="163.1" y="1008.75" width="10.3" height="75.15" fill="#1db46b"/>
<text transform="translate(171.9 1046.33) rotate(-90)" text-anchor="middle" font-size="10" fill="#fff">Primitive</text>
<g transform="translate(175.5 1008.75)">
<g transform="scale(6.2800 6.2625)">
<path fill="#fbfbfb" d="M1 0h1v1h-1zM6 0h1v1h-1zM12 0h3v1h-3zM16 0h1v1h-1zM20 0h3v1h-3zM24 0h1v1h-1zM1 1h4v1h-4zM8 1h1v1h-1zM10 1h1v1h-1zM12 1h3v1h-3zM16 1h2v1h-2zM19 1h1v1h-1zM21 1h2v1h-2zM24 1h1v1h-1zM1 2h1v1h-1zM6 2h1v1h-1zM12 2h3v1h-3zM16 2h1v1h-1zM20 2h4v1h-4zM1 3h1v1h-1zM6 3h1v1h-1zM12 3h3v1h-3zM16 3h1v1h-1zM20 3h4v1h-4zM1 4h1v1h-1zM6 4h1v1h-1zM12 4h6v1h-6zM20 4h3v1h-3zM1 5h3v1h-3zM8 5h1v1h-1zM10 5h1v1h-1zM12 5h3v1h-3zM16 5h1v1h-1zM19 5h4v1h-4zM1 6h1v1h-1zM11 6h2v1h-2zM14 6h2v1h-2zM17 6h1v1h-1zM20 6h1v1h-1zM22 6h2v1h-2zM1 7h1v1h-1zM12 7h5v1h-5zM23 7h1v1h-1zM1 8h1v1h-1zM14 8h1v1h-1zM20 8h3v1h-3zM1 9h1v1h-1zM6 9h1v1h-1zM12 9h3v1h-3zM16 9h1v1h-1zM21 9h1v1h-1zM2 10h1v1h-1zM8 10h1v1h-1zM12 10h2v1h-2zM16 10h1v1h-1zM19 10h1v1h-1zM22 10h1v1h-1zM2 11h2v1h-2zM7 11h1v1h-1zM10 11h1v1h-1zM19 11h1v1h-1zM21 11h2v1h-2z"/>
<path fill="#fddbc7" d="M2 0h3v1h-3zM7 0h2v1h-2zM10 0h2v1h-2zM15 0h1v1h-1zM17 0h1v1h-1zM19 0h1v1h-1zM0 1h1v1h-1zM5 1h1v1h-1zM7 1h1v1h-1zM9 1h1v1h-1zM11 1h1v1h-1zM15 1h1v1h-1zM2 2h3v1h-3zM7 2h2v1h-2zM10 2h1v1h-1zM19 2h1v1h-1zM24 2h1v1h-1zM2 3h2v1h-2zM7 3h1v1h-1zM10 3h1v1h-1zM19 3h1v1h-1zM24 3h1v1h-1zM2 4h3v1h-3zM8 4h4v1h-4zM19 4h1v1h-1zM4 5h2v1h-2zM7 5h1v1h-1zM9 5h1v1h-1zM11 5h1v1h-1zM15 5h1v1h-1zM17 5h1v1h-1zM16 6h1v1h-1zM21 6h1v1h-1zM20 7h1v1h-1zM22 7h1v1h-1zM24 7h1v1h-1zM12 8h2v1h-2zM16 8h1v1h-1zM23 8h1v1h-1zM3 9h2v1h-2zM8 9h1v1h-1zM10 9h1v1h-1zM15 9h1v1h-1zM19 9h1v1h-1zM22 9h1v1h-1zM1 10h1v1h-1zM3 10h2v1h-2zM7 10h1v1h-1zM9 10h3v1h-3zM15 10h1v1h-1zM17 10h1v1h-1zM21 10h1v1h-1zM24 10h1v1h-1zM0 11h1v1h-1zM4 11h2v1h-2zM8 11h2v1h-2zM14 11h1v1h-1zM17 11h1v1h-1zM23 11h1v1h-1z"/>
<path fill="#f4a582" d="M5 0h1v1h-1zM9 0h1v1h-1zM9 2h1v1h-1zM11 2h1v1h-1zM15 2h1v1h-1zM17 2h1v1h-1zM4 3h1v1h-1zM8 3h1v1h-1zM11 3h1v1h-1zM17 3h1v1h-1zM0 4h1v1h-1zM5 4h1v1h-1zM7 4h1v1h-1zM18 4h1v1h-1zM0 5h1v1h-1zM6 6h1v1h-1zM8 6h1v1h-1zM10 6h1v1h-1zM13 6h1v1h-1zM19 6h1v1h-1zM24 6h1v1h-1zM6 7h1v1h-1zM10 7h2v1h-2zM17 8h1v1h-1zM24 8h1v1h-1zM2 9h1v1h-1zM9 9h1v1h-1zM24 9h1v1h-1zM5 10h1v1h-1zM13 11h1v1h-1z"/>
<path fill="#d6604d" d="M0 0h1v1h-1zM18 1h1v1h-1zM5 2h1v1h-1zM5 3h1v1h-1zM9 3h1v1h-1zM15 3h1v1h-1zM4 6h1v1h-1zM9 6h1v1h-1zM18 6h1v1h-1zM0 7h1v1h-1zM2 7h2v1h-2zM5 7h1v1h-1zM7 7h2v1h-2zM17 7h1v1h-1zM19 7h1v1h-1zM21 7h1v1h-1zM2 8h1v1h-1zM7 8h1v1h-1zM11 8h1v1h-1zM7 9h1v1h-1zM11 11h1v1h-1z"/>
<path fill="#b2182b" d="M0 2h1v1h-1zM0 3h1v1h-1zM18 5h1v1h-1zM3 6h1v1h-1zM4 7h1v1h-1zM9 7h1v1h-1zM3 8h1v1h-1zM6 8h1v1h-1zM8 8h1v1h-1zM10 8h1v1h-1zM15 8h1v1h-1zM18 9h1v1h-1zM0 10h1v1h-1zM18 10h1v1h-1zM24 11h1v1h-1z"/>
<path fill="#67001f" d="M18 0h1v1h-1zM18 2h1v1h-1zM18 3h1v1h-1zM0 6h1v1h-1zM2 6h1v1h-1zM5 6h1v1h-1zM7 6h1v1h-1zM18 7h1v1h-1zM0 8h1v1h-1zM4 8h2v1h-2zM9 8h1v1h-1zM18 8h2v1h-2zM0 9h1v1h-1zM5 9h1v1h-1zM18 11h1v1h-1z"/>
<path fill="#d1e5f0" d="M23 0h1v1h-1zM20 1h1v1h-1zM23 1h1v1h-1zM23 4h2v1h-2zM6 5h1v1h-1zM23 5h2v1h-2zM11 9h1v1h-1zM17 9h1v1h-1zM20 9h1v1h-1zM23 9h1v1h-1zM6 10h1v1h-1zM14 10h1v1h-1zM20 10h1v1h-1zM23 10h1v1h-1zM6 11h1v1h-1zM12 11h1v1h-1zM16 11h1v1h-1zM20 11h1v1h-1z"/>
<path fill="#92c5de" d="M6 1h1v1h-1zM1 11h1v1h-1zM15 11h1v1h-1z"/>
</g>
<path d="M0 0V75.15M6.28 0V75.15M12.56 0V75.15M18.84 0V75.15M25.12 0V75.15M31.4 0V75.15M37.68 0V75.15M43.96 0V75.15M50.24 0V75.15M56.52 0V75.15M62.8 0V75.15M69.08 0V75.15M75.36 0V75.15M81.64 0V75.15M87.92 0V75.15M94.2 0V75.15M100.48 0V75.15M106.76 0V75.15M113.04 0V75.15M119.32 0V75.15M125.6 0V75.15M131.88 0V75.15M138.16 0V75.15M144.44 0V75.15M150.72 0V75.15M157 0V75.15M0 0H157M0 6.26H157M0 12.53H157M0 18.79H157M0 25.05H157M0 31.31H157M0 37.58H157M0 43.84H157M0 50.1H157M0 56.36H157M0 62.63H157M0 68.89H157M0 75.15H157" stroke="#000" stroke-width="0.31" fill="none" stroke-opacity="0.8"/>
<rect x="0" y="0" width="157" height="75.15" fill="none" stroke="#555" stroke-width="0.5"/>
<path d="M3.14 0v1.3M3.14 75.15v-1.3M9.42 0v1.3M9.42 75.15v-1.3M15.7 0v1.3M15.7 75.15v-1.3M21.98 0v1.3M21.98 75.15v-1.3M28.26 0v1.3M28.26 75.15v-1.3M34.54 0v1.3M34.54 75.15v-1.3M40.82 0v1.3M40.82 75.15v-1.3M47.1 0v1.3M47.1 75.15v-1.3M53.38 0v1.3M53.38 75.15v-1.3M59.66 0v1.3M59.66 75.15v-1.3M65.94 0v1.3M65.94 75.15v-1.3M72.22 0v1.3M72.22 75.15v-1.3M78.5 0v1.3M78.5 75.15v-1.3M84.78 0v1.3M84.78 75.15v-1.3M91.06 0v1.3M91.06 75.15v-1.3M97.34 0v1.3M97.34 75.15v-1.3M103.62 0v1.3M103.62 75.15v-1.3M109.9 0v1.3M109.9 75.15v-1.3M116.18 0v1.3M116.18 75.15v-1.3M122.46 0v1.3M122.46 75.15v-1.3M128.74 0v1.3M128.74 75.15v-1.3M135.02 0v1.3M135.02 75.15v-1.3M141.3 0v1.3M141.3 75.15v-1.3M147.58 0v1.3M147.58 75.15v-1.3M153.86 0v1.3M153.86 75.15v-1.3M0 3.13h1.3M157 3.13h-1.3M0 9.39h1.3M157 9.39h-1.3M0 15.66h1.3M157 15.66h-1.3M0 21.92h1.3M157 21.92h-1.3M0 28.18h1.3M157 28.18h-1.3M0 34.44h1.3M157 34.44h-1.3M0 40.71h1.3M157 40.71h-1.3M0 46.97h1.3M157 46.97h-1.3M0 53.23h1.3M157 53.23h-1.3M0 59.49h1.3M157 59.49h-1.3M0 65.76h1.3M157 65.76h-1.3M0 72.02h1.3M157 72.02h-1.3" stroke="#333" stroke-width="0.45" fill="none"/>
</g>
<g transform="translate(340.5 1008.75)">
<g transform="scale(6.2906 6.2625)">
<path fill="#5b51a3" d="M15 0h1v1h-1zM15 1h1v1h-1zM12 2h1v1h-1zM15 2h1v1h-1zM12 3h1v1h-1zM15 3h1v1h-1zM12 4h1v1h-1zM15 4h1v1h-1zM15 5h1v1h-1zM12 6h1v1h-1zM15 6h1v1h-1zM15 7h1v1h-1zM15 8h1v1h-1zM15 9h1v1h-1zM15 10h1v1h-1zM15 11h1v1h-1z"/>
<path fill="#4667ae" d="M5 0h1v1h-1zM9 0h2v1h-2zM12 0h3v1h-3zM5 1h1v1h-1zM9 1h2v1h-2zM13 1h2v1h-2zM5 2h1v1h-1zM9 2h2v1h-2zM13 2h2v1h-2zM5 3h1v1h-1zM9 3h2v1h-2zM13 3h2v1h-2zM5 4h1v1h-1zM9 4h2v1h-2zM13 4h2v1h-2zM5 5h1v1h-1zM9 5h2v1h-2zM13 5h2v1h-2zM9 6h3v1h-3zM13 6h2v1h-2zM5 7h1v1h-1zM9 7h2v1h-2zM12 7h3v1h-3zM5 8h1v1h-1zM9 8h2v1h-2zM12 8h1v1h-1zM14 8h1v1h-1zM5 9h1v1h-1zM9 9h2v1h-2zM12 9h3v1h-3zM5 10h1v1h-1zM10 10h1v1h-1zM12 10h3v1h-3zM5 11h1v1h-1zM9 11h6v1h-6z"/>
<path fill="#3387bc" d="M2 3h1v1h-1zM4 3h1v1h-1zM2 4h1v1h-1zM4 4h1v1h-1zM2 5h1v1h-1zM4 5h1v1h-1zM3 6h2v1h-2zM4 8h1v1h-1zM4 10h1v1h-1zM4 11h1v1h-1z"/>
<path fill="#4ba4b1" d="M4 0h1v1h-1zM4 1h1v1h-1zM4 2h1v1h-1zM3 3h1v1h-1zM0 6h1v1h-1zM5 6h1v1h-1zM4 9h1v1h-1zM11 9h1v1h-1zM3 11h1v1h-1z"/>
<path fill="#66c2a5" d="M3 0h1v1h-1zM3 1h1v1h-1zM3 2h1v1h-1zM3 4h1v1h-1zM3 5h1v1h-1zM2 7h1v1h-1zM11 7h1v1h-1zM3 8h1v1h-1zM3 9h1v1h-1zM2 10h2v1h-2zM2 11h1v1h-1z"/>
<path fill="#abdda4" d="M11 4h1v1h-1zM2 8h1v1h-1zM1 11h1v1h-1z"/>
<path fill="#e6f598" d="M11 0h1v1h-1zM11 1h2v1h-2zM0 4h1v1h-1zM6 4h1v1h-1zM11 5h2v1h-2zM4 7h1v1h-1zM11 8h1v1h-1zM13 8h1v1h-1zM6 9h1v1h-1zM9 10h1v1h-1z"/>
<path fill="#fbf8b0" d="M6 0h1v1h-1zM0 1h1v1h-1zM6 1h1v1h-1zM2 2h1v1h-1zM6 2h1v1h-1zM11 2h1v1h-1zM6 3h1v1h-1zM0 5h1v1h-1zM6 5h1v1h-1zM6 6h1v1h-1zM6 7h1v1h-1zM6 8h1v1h-1zM0 9h1v1h-1zM6 10h1v1h-1zM11 10h1v1h-1zM6 11h2v1h-2z"/>
<path fill="#fee08b" d="M0 0h1v1h-1zM0 2h1v1h-1zM11 3h1v1h-1zM0 8h1v1h-1zM0 10h1v1h-1z"/>
<path fill="#fdae61" d="M1 0h1v1h-1zM1 1h1v1h-1zM0 3h1v1h-1zM1 4h1v1h-1zM8 4h1v1h-1zM1 5h1v1h-1zM2 6h1v1h-1zM7 6h1v1h-1zM0 7h1v1h-1zM7 7h1v1h-1zM1 9h1v1h-1zM8 11h1v1h-1z"/>
<path fill="#f46d43" d="M7 0h1v1h-1zM2 1h1v1h-1zM7 1h2v1h-2zM1 2h1v1h-1zM7 2h1v1h-1zM1 3h1v1h-1zM7 4h1v1h-1zM7 5h2v1h-2zM1 6h1v1h-1zM1 7h1v1h-1zM3 7h1v1h-1zM1 8h1v1h-1zM7 8h1v1h-1zM7 9h1v1h-1zM1 10h1v1h-1zM7 10h2v1h-2z"/>
<path fill="#d53e4f" d="M8 0h1v1h-1zM8 2h1v1h-1zM7 3h2v1h-2zM8 6h1v1h-1zM8 8h1v1h-1zM8 9h1v1h-1zM0 11h1v1h-1z"/>
<path fill="#9e0142" d="M2 0h1v1h-1zM8 7h1v1h-1zM2 9h1v1h-1z"/>
</g>
<path d="M0 0V75.15M6.29 0V75.15M12.58 0V75.15M18.87 0V75.15M25.16 0V75.15M31.45 0V75.15M37.74 0V75.15M44.03 0V75.15M50.33 0V75.15M56.62 0V75.15M62.91 0V75.15M69.2 0V75.15M75.49 0V75.15M81.78 0V75.15M88.07 0V75.15M94.36 0V75.15M100.65 0V75.15M0 0H100.65M0 6.26H100.65M0 12.53H100.65M0 18.79H100.65M0 25.05H100.65M0 31.31H100.65M0 37.58H100.65M0 43.84H100.65M0 50.1H100.65M0 56.36H100.65M0 62.63H100.65M0 68.89H100.65M0 75.15H100.65" stroke="#000" stroke-width="0.31" fill="none" stroke-opacity="0.8"/>
<rect x="0" y="0" width="100.65" height="75.15" fill="none" stroke="#555" stroke-width="0.5"/>
<path d="M3.15 0v1.3M3.15 75.15v-1.3M9.44 0v1.3M9.44 75.15v-1.3M15.73 0v1.3M15.73 75.15v-1.3M22.02 0v1.3M22.02 75.15v-1.3M28.31 0v1.3M28.31 75.15v-1.3M34.6 0v1.3M34.6 75.15v-1.3M40.89 0v1.3M40.89 75.15v-1.3M47.18 0v1.3M47.18 75.15v-1.3M53.47 0v1.3M53.47 75.15v-1.3M59.76 0v1.3M59.76 75.15v-1.3M66.05 0v1.3M66.05 75.15v-1.3M72.34 0v1.3M72.34 75.15v-1.3M78.63 0v1.3M78.63 75.15v-1.3M84.92 0v1.3M84.92 75.15v-1.3M91.21 0v1.3M91.21 75.15v-1.3M97.5 0v1.3M97.5 75.15v-1.3M0 3.13h1.3M100.65 3.13h-1.3M0 9.39h1.3M100.65 9.39h-1.3M0 15.66h1.3M100.65 15.66h-1.3M0 21.92h1.3M100.65 21.92h-1.3M0 28.18h1.3M100.65 28.18h-1.3M0 34.44h1.3M100.65 34.44h-1.3M0 40.71h1.3M100.65 40.71h-1.3M0 46.97h1.3M100.65 46.97h-1.3M0 53.23h1.3M100.65 53.23h-1.3M0 59.49h1.3M100.65 59.49h-1.3M0 65.76h1.3M100.65 65.76h-1.3M0 72.02h1.3M100.65 72.02h-1.3" stroke="#333" stroke-width="0.45" fill="none"/>
</g>
<rect x="163.1" y="1089.5" width="10.3" height="43.75" fill="#a3005f"/>
<text transform="translate(171.9 1111.38) rotate(-90)" text-anchor="middle" font-size="10" fill="#fff">Mature</text>
<g transform="translate(175.5 1089.5)">
<g transform="scale(6.2800 6.2500)">
<path fill="#fbfbfb" d="M1 0h1v1h-1zM14 0h1v1h-1zM20 0h1v1h-1zM22 0h2v1h-2zM1 1h1v1h-1zM15 1h1v1h-1zM18 1h1v1h-1zM20 1h1v1h-1zM23 1h1v1h-1zM1 2h1v1h-1zM4 2h1v1h-1zM8 2h1v1h-1zM10 2h3v1h-3zM14 2h1v1h-1zM16 2h1v1h-1zM18 2h5v1h-5zM0 3h1v1h-1zM2 3h2v1h-2zM5 3h1v1h-1zM9 3h4v1h-4zM16 3h2v1h-2zM19 3h2v1h-2zM22 3h1v1h-1zM2 4h1v1h-1zM5 4h1v1h-1zM13 4h2v1h-2zM16 4h3v1h-3zM20 4h2v1h-2zM0 5h6v1h-6zM7 5h1v1h-1zM9 5h4v1h-4zM16 5h1v1h-1zM19 5h4v1h-4zM0 6h2v1h-2zM12 6h1v1h-1zM18 6h1v1h-1zM22 6h3v1h-3z"/>
<path fill="#fddbc7" d="M11 0h3v1h-3zM15 0h3v1h-3zM21 0h1v1h-1zM24 0h1v1h-1zM11 1h2v1h-2zM17 1h1v1h-1zM22 1h1v1h-1zM0 2h1v1h-1zM3 2h1v1h-1zM5 2h1v1h-1zM9 2h1v1h-1zM7 3h1v1h-1zM21 3h1v1h-1zM1 4h1v1h-1zM11 4h1v1h-1zM15 4h1v1h-1zM22 4h1v1h-1zM5 6h1v1h-1zM7 6h1v1h-1zM11 6h1v1h-1zM13 6h5v1h-5zM20 6h1v1h-1z"/>
<path fill="#f4a582" d="M13 1h2v1h-2zM16 1h1v1h-1zM24 1h1v1h-1zM7 2h1v1h-1zM12 4h1v1h-1zM2 6h1v1h-1z"/>
<path fill="#d6604d" d="M8 0h1v1h-1zM10 0h1v1h-1zM0 4h1v1h-1zM6 4h3v1h-3zM19 4h1v1h-1z"/>
<path fill="#b2182b" d="M6 0h1v1h-1zM9 0h1v1h-1zM18 0h2v1h-2zM9 4h1v1h-1zM3 6h1v1h-1zM6 6h1v1h-1zM10 6h1v1h-1zM19 6h1v1h-1z"/>
<path fill="#67001f" d="M0 0h1v1h-1zM2 0h4v1h-4zM7 0h1v1h-1zM0 1h1v1h-1zM2 1h9v1h-9zM19 1h1v1h-1zM21 1h1v1h-1zM3 4h2v1h-2zM10 4h1v1h-1zM4 6h1v1h-1zM8 6h2v1h-2zM21 6h1v1h-1z"/>
<path fill="#d1e5f0" d="M2 2h1v1h-1zM6 2h1v1h-1zM13 2h1v1h-1zM15 2h1v1h-1zM17 2h1v1h-1zM1 3h1v1h-1zM4 3h1v1h-1zM8 3h1v1h-1zM13 3h3v1h-3zM18 3h1v1h-1zM23 4h1v1h-1zM8 5h1v1h-1zM14 5h2v1h-2z"/>
<path fill="#92c5de" d="M23 2h2v1h-2zM6 3h1v1h-1zM23 3h1v1h-1zM24 4h1v1h-1zM6 5h1v1h-1zM13 5h1v1h-1zM17 5h2v1h-2zM23 5h2v1h-2z"/>
<path fill="#4393c3" d="M24 3h1v1h-1z"/>
</g>
<path d="M0 0V43.75M6.28 0V43.75M12.56 0V43.75M18.84 0V43.75M25.12 0V43.75M31.4 0V43.75M37.68 0V43.75M43.96 0V43.75M50.24 0V43.75M56.52 0V43.75M62.8 0V43.75M69.08 0V43.75M75.36 0V43.75M81.64 0V43.75M87.92 0V43.75M94.2 0V43.75M100.48 0V43.75M106.76 0V43.75M113.04 0V43.75M119.32 0V43.75M125.6 0V43.75M131.88 0V43.75M138.16 0V43.75M144.44 0V43.75M150.72 0V43.75M157 0V43.75M0 0H157M0 6.25H157M0 12.5H157M0 18.75H157M0 25H157M0 31.25H157M0 37.5H157M0 43.75H157" stroke="#000" stroke-width="0.31" fill="none" stroke-opacity="0.8"/>
<rect x="0" y="0" width="157" height="43.75" fill="none" stroke="#555" stroke-width="0.5"/>
<path d="M3.14 0v1.3M3.14 43.75v-1.3M9.42 0v1.3M9.42 43.75v-1.3M15.7 0v1.3M15.7 43.75v-1.3M21.98 0v1.3M21.98 43.75v-1.3M28.26 0v1.3M28.26 43.75v-1.3M34.54 0v1.3M34.54 43.75v-1.3M40.82 0v1.3M40.82 43.75v-1.3M47.1 0v1.3M47.1 43.75v-1.3M53.38 0v1.3M53.38 43.75v-1.3M59.66 0v1.3M59.66 43.75v-1.3M65.94 0v1.3M65.94 43.75v-1.3M72.22 0v1.3M72.22 43.75v-1.3M78.5 0v1.3M78.5 43.75v-1.3M84.78 0v1.3M84.78 43.75v-1.3M91.06 0v1.3M91.06 43.75v-1.3M97.34 0v1.3M97.34 43.75v-1.3M103.62 0v1.3M103.62 43.75v-1.3M109.9 0v1.3M109.9 43.75v-1.3M116.18 0v1.3M116.18 43.75v-1.3M122.46 0v1.3M122.46 43.75v-1.3M128.74 0v1.3M128.74 43.75v-1.3M135.02 0v1.3M135.02 43.75v-1.3M141.3 0v1.3M141.3 43.75v-1.3M147.58 0v1.3M147.58 43.75v-1.3M153.86 0v1.3M153.86 43.75v-1.3M0 3.12h1.3M157 3.12h-1.3M0 9.38h1.3M157 9.38h-1.3M0 15.62h1.3M157 15.62h-1.3M0 21.88h1.3M157 21.88h-1.3M0 28.12h1.3M157 28.12h-1.3M0 34.38h1.3M157 34.38h-1.3M0 40.62h1.3M157 40.62h-1.3" stroke="#333" stroke-width="0.45" fill="none"/>
</g>
<g transform="translate(340.5 1089.5)">
<g transform="scale(6.2906 6.2500)">
<path fill="#5b51a3" d="M12 0h1v1h-1zM15 0h1v1h-1zM12 1h1v1h-1zM15 1h1v1h-1zM12 2h1v1h-1zM15 2h1v1h-1zM12 3h1v1h-1zM15 3h1v1h-1zM3 4h1v1h-1zM12 4h1v1h-1zM15 4h1v1h-1zM3 5h1v1h-1zM15 5h1v1h-1zM3 6h1v1h-1zM12 6h1v1h-1zM15 6h1v1h-1z"/>
<path fill="#4667ae" d="M9 0h3v1h-3zM13 0h2v1h-2zM11 1h1v1h-1zM13 1h2v1h-2zM5 2h1v1h-1zM9 2h2v1h-2zM13 2h2v1h-2zM0 3h1v1h-1zM3 3h3v1h-3zM9 3h2v1h-2zM13 3h2v1h-2zM0 4h1v1h-1zM4 4h2v1h-2zM11 4h1v1h-1zM13 4h1v1h-1zM0 5h1v1h-1zM4 5h2v1h-2zM9 5h2v1h-2zM13 5h2v1h-2zM0 6h1v1h-1zM4 6h2v1h-2zM9 6h2v1h-2zM13 6h2v1h-2z"/>
<path fill="#3387bc" d="M2 0h4v1h-4zM0 1h1v1h-1zM2 1h1v1h-1zM4 1h1v1h-1zM10 1h1v1h-1zM0 2h1v1h-1zM3 2h2v1h-2zM2 3h1v1h-1zM11 3h1v1h-1zM2 4h1v1h-1zM9 4h1v1h-1zM11 5h1v1h-1zM1 6h2v1h-2z"/>
<path fill="#4ba4b1" d="M0 0h1v1h-1zM2 5h1v1h-1z"/>
<path fill="#66c2a5" d="M5 1h1v1h-1zM11 2h1v1h-1zM6 3h1v1h-1zM1 4h1v1h-1zM10 4h1v1h-1zM6 5h1v1h-1z"/>
<path fill="#abdda4" d="M1 5h1v1h-1zM11 6h1v1h-1z"/>
<path fill="#e6f598" d="M9 1h1v1h-1zM6 2h1v1h-1zM1 3h1v1h-1zM7 3h1v1h-1zM7 5h1v1h-1zM7 6h1v1h-1z"/>
<path fill="#fbf8b0" d="M6 0h1v1h-1zM8 3h1v1h-1zM6 4h1v1h-1zM8 5h1v1h-1zM12 5h1v1h-1z"/>
<path fill="#fee08b" d="M1 1h1v1h-1zM3 1h1v1h-1zM6 1h2v1h-2zM1 2h1v1h-1zM7 2h1v1h-1zM7 4h1v1h-1z"/>
<path fill="#fdae61" d="M7 0h1v1h-1zM2 2h1v1h-1zM8 2h1v1h-1z"/>
<path fill="#f46d43" d="M1 0h1v1h-1zM8 4h1v1h-1z"/>
<path fill="#d53e4f" d="M14 4h1v1h-1z"/>
<path fill="#9e0142" d="M8 0h1v1h-1zM8 1h1v1h-1zM6 6h1v1h-1zM8 6h1v1h-1z"/>
</g>
<path d="M0 0V43.75M6.29 0V43.75M12.58 0V43.75M18.87 0V43.75M25.16 0V43.75M31.45 0V43.75M37.74 0V43.75M44.03 0V43.75M50.33 0V43.75M56.62 0V43.75M62.91 0V43.75M69.2 0V43.75M75.49 0V43.75M81.78 0V43.75M88.07 0V43.75M94.36 0V43.75M100.65 0V43.75M0 0H100.65M0 6.25H100.65M0 12.5H100.65M0 18.75H100.65M0 25H100.65M0 31.25H100.65M0 37.5H100.65M0 43.75H100.65" stroke="#000" stroke-width="0.31" fill="none" stroke-opacity="0.8"/>
<rect x="0" y="0" width="100.65" height="43.75" fill="none" stroke="#555" stroke-width="0.5"/>
<path d="M3.15 0v1.3M3.15 43.75v-1.3M9.44 0v1.3M9.44 43.75v-1.3M15.73 0v1.3M15.73 43.75v-1.3M22.02 0v1.3M22.02 43.75v-1.3M28.31 0v1.3M28.31 43.75v-1.3M34.6 0v1.3M34.6 43.75v-1.3M40.89 0v1.3M40.89 43.75v-1.3M47.18 0v1.3M47.18 43.75v-1.3M53.47 0v1.3M53.47 43.75v-1.3M59.76 0v1.3M59.76 43.75v-1.3M66.05 0v1.3M66.05 43.75v-1.3M72.34 0v1.3M72.34 43.75v-1.3M78.63 0v1.3M78.63 43.75v-1.3M84.92 0v1.3M84.92 43.75v-1.3M91.21 0v1.3M91.21 43.75v-1.3M97.5 0v1.3M97.5 43.75v-1.3M0 3.12h1.3M100.65 3.12h-1.3M0 9.38h1.3M100.65 9.38h-1.3M0 15.62h1.3M100.65 15.62h-1.3M0 21.88h1.3M100.65 21.88h-1.3M0 28.12h1.3M100.65 28.12h-1.3M0 34.38h1.3M100.65 34.38h-1.3M0 40.62h1.3M100.65 40.62h-1.3" stroke="#333" stroke-width="0.45" fill="none"/>
</g>
<path d="M178.64 1133.25V1137.65L74.5 1144.65V1148.15M210.04 1133.25V1137.65L128.5 1144.65V1148.15M285.4 1133.25V1137.65L253.5 1144.65V1148.15M291.68 1133.25V1137.65L267.25 1144.65V1148.15M310.52 1133.25V1137.65L298.5 1144.65V1148.15M343.65 1133.25V1137.25C343.65 1141.25 339.9 1143.25 339.9 1148.15" stroke="#6a6a6a" stroke-width="1.4" fill="none"/>
<text transform="translate(78.5 1150.25) rotate(-90)" text-anchor="end" font-size="11.8" fill="#111" stroke="#111" stroke-width="0.12">G−CSF→pSTAT3</text>
<text transform="translate(89.4 1150.25) rotate(-90)" text-anchor="end" font-size="5.95" fill="#222" stroke="#222" stroke-width="0.22">IL−3→pSTAT3</text>
<text transform="translate(99 1150.25) rotate(-90)" text-anchor="end" font-size="5.95" fill="#222" stroke="#222" stroke-width="0.22">IL−3→pSTAT5</text>
<text transform="translate(107.75 1150.25) rotate(-90)" text-anchor="end" font-size="5.95" fill="#222" stroke="#222" stroke-width="0.22">PVO4→pZAP70/SYK</text>
<text transform="translate(117.5 1150.25) rotate(-90)" text-anchor="end" font-size="5.95" fill="#222" stroke="#222" stroke-width="0.22">PVO4→pP38</text>
<text transform="translate(132.5 1150.25) rotate(-90)" text-anchor="end" font-size="11.8" fill="#111" stroke="#111" stroke-width="0.12">G−CSF→pSTAT5</text>
<text transform="translate(141.9 1150.25) rotate(-90)" text-anchor="end" font-size="5.95" fill="#222" stroke="#222" stroke-width="0.22">PVO4→pERK1/2</text>
<text transform="translate(152.1 1150.25) rotate(-90)" text-anchor="end" font-size="5.95" fill="#222" stroke="#222" stroke-width="0.22">GM−CSF→pSTAT5</text>
<text transform="translate(162.25 1150.25) rotate(-90)" text-anchor="end" font-size="5.95" fill="#222" stroke="#222" stroke-width="0.22">PVO4→pSTAT5</text>
<text transform="translate(172.25 1150.25) rotate(-90)" text-anchor="end" font-size="5.95" fill="#222" stroke="#222" stroke-width="0.22">PVO4→pPLCg2</text>
<text transform="translate(182.5 1150.25) rotate(-90)" text-anchor="end" font-size="5.95" fill="#222" stroke="#222" stroke-width="0.22">PVO4→pSTAT3</text>
<text transform="translate(192.75 1150.25) rotate(-90)" text-anchor="end" font-size="5.95" fill="#222" stroke="#222" stroke-width="0.22">PVO4→pS6</text>
<text transform="translate(202.75 1150.25) rotate(-90)" text-anchor="end" font-size="5.95" fill="#222" stroke="#222" stroke-width="0.22">GM−CSF→pSTAT3</text>
<text transform="translate(213.1 1150.25) rotate(-90)" text-anchor="end" font-size="5.95" fill="#222" stroke="#222" stroke-width="0.22">GM−CSF→pCREB</text>
<text transform="translate(223.6 1150.25) rotate(-90)" text-anchor="end" font-size="5.95" fill="#222" stroke="#222" stroke-width="0.22">PMA/iono.→pP38</text>
<text transform="translate(233.75 1150.25) rotate(-90)" text-anchor="end" font-size="5.95" fill="#222" stroke="#222" stroke-width="0.22">PVO4→pAKT</text>
<text transform="translate(244 1150.25) rotate(-90)" text-anchor="end" font-size="5.95" fill="#222" stroke="#222" stroke-width="0.22">GM−CSF→pS6</text>
<text transform="translate(257.5 1150.25) rotate(-90)" text-anchor="end" font-size="11.8" fill="#111" stroke="#111" stroke-width="0.12">FLT3L→pAKT</text>
<text transform="translate(271.25 1150.25) rotate(-90)" text-anchor="end" font-size="11.8" fill="#111" stroke="#111" stroke-width="0.12">SCF→pAKT</text>
<text transform="translate(280.25 1150.25) rotate(-90)" text-anchor="end" font-size="5.95" fill="#222" stroke="#222" stroke-width="0.22">PVO4→pCBL</text>
<text transform="translate(288.5 1150.25) rotate(-90)" text-anchor="end" font-size="5.95" fill="#222" stroke="#222" stroke-width="0.22">IL−3→pS6</text>
<text transform="translate(302.5 1150.25) rotate(-90)" text-anchor="end" font-size="11.8" fill="#111" stroke="#111" stroke-width="0.12">IL−10→pSTAT3</text>
<text transform="translate(311.5 1150.25) rotate(-90)" text-anchor="end" font-size="5.95" fill="#222" stroke="#222" stroke-width="0.22">GM−CSF→pERK1/2</text>
<text transform="translate(319 1150.25) rotate(-90)" text-anchor="end" font-size="5.95" fill="#222" stroke="#222" stroke-width="0.22">PVO4→pCREB</text>
<text transform="translate(326.9 1150.25) rotate(-90)" text-anchor="end" font-size="5.95" fill="#222" stroke="#222" stroke-width="0.22">G−CSF→pCREB</text>
<text transform="translate(343.8 1150.25) rotate(-90)" text-anchor="end" font-size="11.8" fill="#111" stroke="#111" stroke-width="0.12">CD34</text>
<text transform="translate(350.15 1150.25) rotate(-90)" text-anchor="end" font-size="5.95" fill="#222" stroke="#222" stroke-width="0.22">CD38</text>
<text transform="translate(356.89 1150.25) rotate(-90)" text-anchor="end" font-size="5.95" fill="#222" stroke="#222" stroke-width="0.22">CD117</text>
<text transform="translate(363.63 1150.25) rotate(-90)" text-anchor="end" font-size="5.95" fill="#222" stroke="#222" stroke-width="0.22">HLA−DR</text>
<text transform="translate(370.37 1150.25) rotate(-90)" text-anchor="end" font-size="5.95" fill="#222" stroke="#222" stroke-width="0.22">CD123</text>
<text transform="translate(377.11 1150.25) rotate(-90)" text-anchor="end" font-size="5.95" fill="#222" stroke="#222" stroke-width="0.22">CD33</text>
<text transform="translate(383.85 1150.25) rotate(-90)" text-anchor="end" font-size="5.95" fill="#222" stroke="#222" stroke-width="0.22">CD45</text>
<text transform="translate(390.59 1150.25) rotate(-90)" text-anchor="end" font-size="5.95" fill="#222" stroke="#222" stroke-width="0.22">CD47</text>
<text transform="translate(397.33 1150.25) rotate(-90)" text-anchor="end" font-size="5.95" fill="#222" stroke="#222" stroke-width="0.22">CD44</text>
<text transform="translate(404.07 1150.25) rotate(-90)" text-anchor="end" font-size="5.95" fill="#222" stroke="#222" stroke-width="0.22">CD64</text>
<text transform="translate(410.81 1150.25) rotate(-90)" text-anchor="end" font-size="5.95" fill="#222" stroke="#222" stroke-width="0.22">CD11b</text>
<text transform="translate(417.55 1150.25) rotate(-90)" text-anchor="end" font-size="5.95" fill="#222" stroke="#222" stroke-width="0.22">CD7</text>
<text transform="translate(424.29 1150.25) rotate(-90)" text-anchor="end" font-size="5.95" fill="#222" stroke="#222" stroke-width="0.22">CD3</text>
<text transform="translate(431.03 1150.25) rotate(-90)" text-anchor="end" font-size="5.95" fill="#222" stroke="#222" stroke-width="0.22">CD19</text>
<text transform="translate(437.77 1150.25) rotate(-90)" text-anchor="end" font-size="5.95" fill="#222" stroke="#222" stroke-width="0.22">CD15</text>
<text transform="translate(444.51 1150.25) rotate(-90)" text-anchor="end" font-size="5.95" fill="#222" stroke="#222" stroke-width="0.22">CD41</text>
</g>
<g id="SJ14">
<text x="469.7" y="1025.3" font-size="36" fill="#000" stroke="#000" stroke-width="0.25">SJ14</text>
<g transform="translate(465.6 1031)">
<rect x="0" y="0" width="106.1" height="105.5" fill="#fff" stroke="#bdbdbd" stroke-width="0.65"/>
<path d="M8.84 0v1.2M8.84 105.5v-1.2M0 8.79h1.2M106.1 8.79h-1.2M17.68 0v1.2M17.68 105.5v-1.2M0 17.58h1.2M106.1 17.58h-1.2M26.52 0v1.2M26.52 105.5v-1.2M0 26.38h1.2M106.1 26.38h-1.2M35.37 0v1.2M35.37 105.5v-1.2M0 35.17h1.2M106.1 35.17h-1.2M44.21 0v1.2M44.21 105.5v-1.2M0 43.96h1.2M106.1 43.96h-1.2M53.05 0v1.2M53.05 105.5v-1.2M0 52.75h1.2M106.1 52.75h-1.2M61.89 0v1.2M61.89 105.5v-1.2M0 61.54h1.2M106.1 61.54h-1.2M70.73 0v1.2M70.73 105.5v-1.2M0 70.33h1.2M106.1 70.33h-1.2M79.58 0v1.2M79.58 105.5v-1.2M0 79.12h1.2M106.1 79.12h-1.2M88.42 0v1.2M88.42 105.5v-1.2M0 87.92h1.2M106.1 87.92h-1.2M97.26 0v1.2M97.26 105.5v-1.2M0 96.71h1.2M106.1 96.71h-1.2" stroke="#a8a8a8" stroke-width="0.55" fill="none"/>
<use href="#ct"/>
<g fill="#1db46b"><circle cx="44.5" cy="31.5" r="1.5"/><circle cx="46.7" cy="32.8" r="1.2"/><circle cx="48.4" cy="32.6" r="0.7"/><circle cx="45.4" cy="34.5" r="1.4"/><circle cx="43.7" cy="35.8" r="1.3"/><circle cx="45.4" cy="37.1" r="1.3"/><circle cx="42.6" cy="37.6" r="1"/><circle cx="43" cy="41" r="0.7"/></g>
<g fill="#a3005f"><circle cx="38" cy="37.7" r="0.5"/><circle cx="50.4" cy="58.4" r="0.5"/><circle cx="45.4" cy="72.1" r="0.8"/><circle cx="46.9" cy="71.2" r="0.4"/><circle cx="61.2" cy="72.8" r="1.3"/><circle cx="61.9" cy="71.2" r="0.8"/><circle cx="66.3" cy="75.7" r="1.9"/><circle cx="79.7" cy="71.2" r="1.4"/></g>
</g>
<path d="M596.39 1064.9V1070.5M627.79 1064.9V1070.5M703.15 1064.9V1070.5M709.43 1064.9V1070.5M728.27 1064.9V1070.5M761.2 1064.9V1070.5" stroke="#6a6a6a" stroke-width="1.4" fill="none"/>
<rect x="580.6" y="996.1" width="10.3" height="68.8" fill="#1db46b"/>
<text transform="translate(589.4 1030.5) rotate(-90)" text-anchor="middle" font-size="10" fill="#fff">Primitive</text>
<g transform="translate(593.25 996.1)">
<g transform="scale(6.2800 6.2545)">
<path fill="#fbfbfb" d="M2 0h1v1h-1zM6 0h1v1h-1zM10 0h1v1h-1zM12 0h1v1h-1zM16 0h1v1h-1zM19 0h2v1h-2zM22 0h1v1h-1zM0 1h1v1h-1zM6 1h1v1h-1zM10 1h1v1h-1zM12 1h1v1h-1zM16 1h1v1h-1zM19 1h2v1h-2zM22 1h1v1h-1zM2 2h1v1h-1zM6 2h1v1h-1zM10 2h4v1h-4zM16 2h1v1h-1zM19 2h1v1h-1zM22 2h1v1h-1zM0 3h1v1h-1zM2 3h2v1h-2zM6 3h1v1h-1zM8 3h1v1h-1zM10 3h1v1h-1zM12 3h1v1h-1zM16 3h1v1h-1zM19 3h2v1h-2zM22 3h1v1h-1zM2 4h1v1h-1zM7 4h1v1h-1zM11 4h2v1h-2zM15 4h2v1h-2zM20 4h1v1h-1zM22 4h2v1h-2zM0 5h1v1h-1zM6 5h1v1h-1zM8 5h1v1h-1zM10 5h1v1h-1zM12 5h3v1h-3zM16 5h1v1h-1zM19 5h2v1h-2zM22 5h1v1h-1zM2 6h1v1h-1zM11 6h3v1h-3zM20 6h1v1h-1zM22 6h1v1h-1zM10 7h1v1h-1zM12 7h3v1h-3zM19 7h2v1h-2zM22 7h1v1h-1zM0 8h1v1h-1zM10 8h1v1h-1zM12 8h1v1h-1zM18 8h2v1h-2zM2 9h1v1h-1zM12 9h1v1h-1zM16 9h1v1h-1zM20 9h1v1h-1zM22 9h1v1h-1zM6 10h1v1h-1zM10 10h1v1h-1zM12 10h2v1h-2zM22 10h1v1h-1z"/>
<path fill="#fddbc7" d="M3 0h1v1h-1zM5 0h1v1h-1zM7 0h3v1h-3zM13 0h2v1h-2zM2 1h2v1h-2zM5 1h1v1h-1zM7 1h3v1h-3zM13 1h2v1h-2zM24 1h1v1h-1zM3 2h1v1h-1zM7 2h3v1h-3zM14 2h1v1h-1zM5 3h1v1h-1zM7 3h1v1h-1zM13 3h2v1h-2zM24 3h1v1h-1zM5 4h1v1h-1zM10 4h1v1h-1zM13 4h1v1h-1zM19 4h1v1h-1zM2 5h4v1h-4zM7 5h1v1h-1zM24 5h1v1h-1zM7 6h1v1h-1zM10 6h1v1h-1zM14 6h1v1h-1zM16 6h1v1h-1zM0 7h1v1h-1zM2 7h2v1h-2zM5 7h5v1h-5zM16 7h1v1h-1zM24 7h1v1h-1zM2 8h1v1h-1zM5 8h2v1h-2zM14 8h1v1h-1zM16 8h1v1h-1zM20 8h1v1h-1zM22 8h1v1h-1zM24 8h1v1h-1zM0 9h1v1h-1zM5 9h1v1h-1zM7 9h1v1h-1zM13 9h1v1h-1zM15 9h1v1h-1zM24 9h1v1h-1zM0 10h1v1h-1zM3 10h1v1h-1zM8 10h2v1h-2zM14 10h1v1h-1zM19 10h2v1h-2zM24 10h1v1h-1z"/>
<path fill="#f4a582" d="M0 0h1v1h-1zM4 0h1v1h-1zM24 0h1v1h-1zM4 1h1v1h-1zM4 2h2v1h-2zM24 2h1v1h-1zM4 3h1v1h-1zM0 4h1v1h-1zM3 4h1v1h-1zM6 4h1v1h-1zM8 4h2v1h-2zM14 4h1v1h-1zM21 4h1v1h-1zM24 4h1v1h-1zM4 6h2v1h-2zM8 6h1v1h-1zM19 6h1v1h-1zM24 6h1v1h-1zM4 7h1v1h-1zM3 8h2v1h-2zM7 8h3v1h-3zM13 8h1v1h-1zM8 9h1v1h-1zM10 9h1v1h-1zM14 9h1v1h-1zM19 9h1v1h-1zM2 10h1v1h-1zM4 10h2v1h-2zM7 10h1v1h-1zM16 10h1v1h-1z"/>
<path fill="#d6604d" d="M21 0h1v1h-1zM18 1h1v1h-1zM21 1h1v1h-1zM0 2h1v1h-1zM21 2h1v1h-1zM4 4h1v1h-1zM0 6h1v1h-1zM3 6h1v1h-1zM6 6h1v1h-1zM9 6h1v1h-1zM3 9h2v1h-2zM6 9h1v1h-1zM9 9h1v1h-1zM21 9h1v1h-1z"/>
<path fill="#b2182b" d="M21 3h1v1h-1zM18 5h1v1h-1zM21 5h1v1h-1zM21 6h1v1h-1zM21 7h1v1h-1z"/>
<path fill="#67001f" d="M17 0h2v1h-2zM17 1h1v1h-1zM17 2h2v1h-2zM17 3h2v1h-2zM17 4h2v1h-2zM17 5h1v1h-1zM17 6h2v1h-2zM17 7h2v1h-2zM17 8h1v1h-1zM21 8h1v1h-1zM17 9h2v1h-2zM17 10h2v1h-2zM21 10h1v1h-1z"/>
<path fill="#d1e5f0" d="M1 0h1v1h-1zM11 0h1v1h-1zM15 0h1v1h-1zM1 1h1v1h-1zM11 1h1v1h-1zM15 1h1v1h-1zM1 2h1v1h-1zM15 2h1v1h-1zM20 2h1v1h-1zM1 3h1v1h-1zM9 3h1v1h-1zM11 3h1v1h-1zM15 3h1v1h-1zM1 4h1v1h-1zM1 5h1v1h-1zM9 5h1v1h-1zM15 5h1v1h-1zM1 6h1v1h-1zM15 6h1v1h-1zM1 7h1v1h-1zM11 7h1v1h-1zM15 7h1v1h-1zM1 8h1v1h-1zM11 8h1v1h-1zM15 8h1v1h-1zM1 9h1v1h-1zM11 9h1v1h-1zM23 9h1v1h-1zM1 10h1v1h-1zM11 10h1v1h-1zM15 10h1v1h-1z"/>
<path fill="#92c5de" d="M23 0h1v1h-1zM23 1h1v1h-1zM23 2h1v1h-1zM23 3h1v1h-1zM11 5h1v1h-1zM23 6h1v1h-1zM23 7h1v1h-1zM23 8h1v1h-1zM23 10h1v1h-1z"/>
<path fill="#4393c3" d="M23 5h1v1h-1z"/>
</g>
<path d="M0 0V68.8M6.28 0V68.8M12.56 0V68.8M18.84 0V68.8M25.12 0V68.8M31.4 0V68.8M37.68 0V68.8M43.96 0V68.8M50.24 0V68.8M56.52 0V68.8M62.8 0V68.8M69.08 0V68.8M75.36 0V68.8M81.64 0V68.8M87.92 0V68.8M94.2 0V68.8M100.48 0V68.8M106.76 0V68.8M113.04 0V68.8M119.32 0V68.8M125.6 0V68.8M131.88 0V68.8M138.16 0V68.8M144.44 0V68.8M150.72 0V68.8M157 0V68.8M0 0H157M0 6.25H157M0 12.51H157M0 18.76H157M0 25.02H157M0 31.27H157M0 37.53H157M0 43.78H157M0 50.04H157M0 56.29H157M0 62.55H157M0 68.8H157" stroke="#000" stroke-width="0.31" fill="none" stroke-opacity="0.8"/>
<rect x="0" y="0" width="157" height="68.8" fill="none" stroke="#555" stroke-width="0.5"/>
<path d="M3.14 0v1.3M3.14 68.8v-1.3M9.42 0v1.3M9.42 68.8v-1.3M15.7 0v1.3M15.7 68.8v-1.3M21.98 0v1.3M21.98 68.8v-1.3M28.26 0v1.3M28.26 68.8v-1.3M34.54 0v1.3M34.54 68.8v-1.3M40.82 0v1.3M40.82 68.8v-1.3M47.1 0v1.3M47.1 68.8v-1.3M53.38 0v1.3M53.38 68.8v-1.3M59.66 0v1.3M59.66 68.8v-1.3M65.94 0v1.3M65.94 68.8v-1.3M72.22 0v1.3M72.22 68.8v-1.3M78.5 0v1.3M78.5 68.8v-1.3M84.78 0v1.3M84.78 68.8v-1.3M91.06 0v1.3M91.06 68.8v-1.3M97.34 0v1.3M97.34 68.8v-1.3M103.62 0v1.3M103.62 68.8v-1.3M109.9 0v1.3M109.9 68.8v-1.3M116.18 0v1.3M116.18 68.8v-1.3M122.46 0v1.3M122.46 68.8v-1.3M128.74 0v1.3M128.74 68.8v-1.3M135.02 0v1.3M135.02 68.8v-1.3M141.3 0v1.3M141.3 68.8v-1.3M147.58 0v1.3M147.58 68.8v-1.3M153.86 0v1.3M153.86 68.8v-1.3M0 3.13h1.3M157 3.13h-1.3M0 9.38h1.3M157 9.38h-1.3M0 15.64h1.3M157 15.64h-1.3M0 21.89h1.3M157 21.89h-1.3M0 28.15h1.3M157 28.15h-1.3M0 34.4h1.3M157 34.4h-1.3M0 40.65h1.3M157 40.65h-1.3M0 46.91h1.3M157 46.91h-1.3M0 53.16h1.3M157 53.16h-1.3M0 59.42h1.3M157 59.42h-1.3M0 65.67h1.3M157 65.67h-1.3" stroke="#333" stroke-width="0.45" fill="none"/>
</g>
<g transform="translate(758.05 996.1)">
<g transform="scale(6.2906 6.2545)">
<path fill="#5b51a3" d="M12 0h1v1h-1zM12 1h1v1h-1zM12 2h1v1h-1zM12 3h1v1h-1zM15 3h1v1h-1zM11 4h2v1h-2zM15 4h1v1h-1zM12 5h1v1h-1zM11 6h2v1h-2zM12 7h1v1h-1zM12 8h1v1h-1zM12 9h1v1h-1zM12 10h1v1h-1z"/>
<path fill="#4667ae" d="M5 0h1v1h-1zM9 0h3v1h-3zM13 0h3v1h-3zM5 1h1v1h-1zM9 1h2v1h-2zM13 1h3v1h-3zM5 2h1v1h-1zM9 2h3v1h-3zM13 2h3v1h-3zM5 3h1v1h-1zM9 3h3v1h-3zM13 3h2v1h-2zM5 4h1v1h-1zM9 4h2v1h-2zM13 4h2v1h-2zM5 5h1v1h-1zM9 5h3v1h-3zM13 5h3v1h-3zM9 6h2v1h-2zM13 6h3v1h-3zM5 7h1v1h-1zM9 7h3v1h-3zM13 7h3v1h-3zM5 8h1v1h-1zM9 8h2v1h-2zM13 8h3v1h-3zM5 9h1v1h-1zM9 9h3v1h-3zM14 9h2v1h-2zM5 10h1v1h-1zM11 10h1v1h-1zM13 10h3v1h-3z"/>
<path fill="#3387bc" d="M2 0h1v1h-1zM2 1h1v1h-1zM2 3h1v1h-1zM2 4h1v1h-1zM4 4h1v1h-1zM2 5h1v1h-1zM2 6h1v1h-1zM4 6h1v1h-1zM2 7h1v1h-1zM1 8h2v1h-2zM2 9h1v1h-1zM2 10h1v1h-1zM10 10h1v1h-1z"/>
<path fill="#66c2a5" d="M0 7h1v1h-1zM0 8h1v1h-1z"/>
<path fill="#abdda4" d="M11 1h1v1h-1zM1 3h1v1h-1zM1 4h1v1h-1zM11 8h1v1h-1z"/>
<path fill="#e6f598" d="M4 0h1v1h-1zM1 1h1v1h-1zM1 2h1v1h-1zM4 2h1v1h-1zM7 4h1v1h-1zM1 5h1v1h-1zM5 6h1v1h-1zM1 7h1v1h-1zM1 9h1v1h-1zM13 9h1v1h-1zM1 10h1v1h-1zM9 10h1v1h-1z"/>
<path fill="#fbf8b0" d="M1 0h1v1h-1zM2 2h1v1h-1zM3 3h1v1h-1zM7 3h1v1h-1zM0 6h1v1h-1zM4 9h1v1h-1zM4 10h1v1h-1z"/>
<path fill="#fee08b" d="M6 0h2v1h-2zM0 1h1v1h-1zM7 1h1v1h-1zM6 2h2v1h-2zM0 3h1v1h-1zM4 3h1v1h-1zM0 4h1v1h-1zM6 4h1v1h-1zM1 6h1v1h-1zM6 6h2v1h-2zM4 7h1v1h-1zM7 7h1v1h-1zM7 9h1v1h-1zM0 10h1v1h-1zM7 10h1v1h-1z"/>
<path fill="#fdae61" d="M0 0h1v1h-1zM3 1h1v1h-1zM6 1h1v1h-1zM0 2h1v1h-1zM6 3h1v1h-1zM3 4h1v1h-1zM6 7h1v1h-1zM6 8h1v1h-1zM0 9h1v1h-1zM6 9h1v1h-1z"/>
<path fill="#f46d43" d="M4 1h1v1h-1zM0 5h1v1h-1zM6 5h2v1h-2zM7 8h2v1h-2zM3 9h1v1h-1zM3 10h1v1h-1zM6 10h1v1h-1z"/>
<path fill="#d53e4f" d="M3 0h1v1h-1zM8 1h1v1h-1zM3 2h1v1h-1zM8 3h1v1h-1zM8 4h1v1h-1zM3 5h2v1h-2zM8 5h1v1h-1zM3 7h1v1h-1zM3 8h1v1h-1zM8 9h1v1h-1z"/>
<path fill="#9e0142" d="M8 0h1v1h-1zM8 2h1v1h-1zM3 6h1v1h-1zM8 6h1v1h-1zM8 7h1v1h-1zM4 8h1v1h-1zM8 10h1v1h-1z"/>
</g>
<path d="M0 0V68.8M6.29 0V68.8M12.58 0V68.8M18.87 0V68.8M25.16 0V68.8M31.45 0V68.8M37.74 0V68.8M44.03 0V68.8M50.33 0V68.8M56.62 0V68.8M62.91 0V68.8M69.2 0V68.8M75.49 0V68.8M81.78 0V68.8M88.07 0V68.8M94.36 0V68.8M100.65 0V68.8M0 0H100.65M0 6.25H100.65M0 12.51H100.65M0 18.76H100.65M0 25.02H100.65M0 31.27H100.65M0 37.53H100.65M0 43.78H100.65M0 50.04H100.65M0 56.29H100.65M0 62.55H100.65M0 68.8H100.65" stroke="#000" stroke-width="0.31" fill="none" stroke-opacity="0.8"/>
<rect x="0" y="0" width="100.65" height="68.8" fill="none" stroke="#555" stroke-width="0.5"/>
<path d="M3.15 0v1.3M3.15 68.8v-1.3M9.44 0v1.3M9.44 68.8v-1.3M15.73 0v1.3M15.73 68.8v-1.3M22.02 0v1.3M22.02 68.8v-1.3M28.31 0v1.3M28.31 68.8v-1.3M34.6 0v1.3M34.6 68.8v-1.3M40.89 0v1.3M40.89 68.8v-1.3M47.18 0v1.3M47.18 68.8v-1.3M53.47 0v1.3M53.47 68.8v-1.3M59.76 0v1.3M59.76 68.8v-1.3M66.05 0v1.3M66.05 68.8v-1.3M72.34 0v1.3M72.34 68.8v-1.3M78.63 0v1.3M78.63 68.8v-1.3M84.92 0v1.3M84.92 68.8v-1.3M91.21 0v1.3M91.21 68.8v-1.3M97.5 0v1.3M97.5 68.8v-1.3M0 3.13h1.3M100.65 3.13h-1.3M0 9.38h1.3M100.65 9.38h-1.3M0 15.64h1.3M100.65 15.64h-1.3M0 21.89h1.3M100.65 21.89h-1.3M0 28.15h1.3M100.65 28.15h-1.3M0 34.4h1.3M100.65 34.4h-1.3M0 40.65h1.3M100.65 40.65h-1.3M0 46.91h1.3M100.65 46.91h-1.3M0 53.16h1.3M100.65 53.16h-1.3M0 59.42h1.3M100.65 59.42h-1.3M0 65.67h1.3M100.65 65.67h-1.3" stroke="#333" stroke-width="0.45" fill="none"/>
</g>
<rect x="580.6" y="1070.5" width="10.3" height="62.75" fill="#a3005f"/>
<text transform="translate(589.4 1101.88) rotate(-90)" text-anchor="middle" font-size="10" fill="#fff">Mature</text>
<g transform="translate(593.25 1070.5)">
<g transform="scale(6.2800 6.2750)">
<path fill="#fbfbfb" d="M1 0h1v1h-1zM3 0h2v1h-2zM8 0h1v1h-1zM10 0h1v1h-1zM12 0h3v1h-3zM16 0h1v1h-1zM19 0h1v1h-1zM22 0h1v1h-1zM2 1h1v1h-1zM11 1h2v1h-2zM16 1h1v1h-1zM20 1h1v1h-1zM22 1h1v1h-1zM2 2h1v1h-1zM12 2h1v1h-1zM14 2h1v1h-1zM18 2h1v1h-1zM22 2h1v1h-1zM24 2h1v1h-1zM11 3h3v1h-3zM22 3h1v1h-1zM11 4h1v1h-1zM15 4h1v1h-1zM20 4h1v1h-1zM0 5h1v1h-1zM12 5h1v1h-1zM15 5h1v1h-1zM18 5h1v1h-1zM20 5h1v1h-1zM12 6h1v1h-1zM15 6h1v1h-1zM18 6h1v1h-1zM20 6h1v1h-1zM1 7h1v1h-1zM3 7h1v1h-1zM6 7h1v1h-1zM8 7h1v1h-1zM10 7h2v1h-2zM13 7h1v1h-1zM19 7h2v1h-2zM1 8h1v1h-1zM11 8h2v1h-2zM15 8h2v1h-2zM20 8h1v1h-1zM22 8h1v1h-1zM1 9h1v1h-1zM12 9h1v1h-1zM15 9h1v1h-1zM17 9h2v1h-2zM22 9h1v1h-1z"/>
<path fill="#fddbc7" d="M0 0h1v1h-1zM2 0h1v1h-1zM5 0h1v1h-1zM7 0h1v1h-1zM24 0h1v1h-1zM13 1h1v1h-1zM18 1h1v1h-1zM24 1h1v1h-1zM16 2h2v1h-2zM2 3h1v1h-1zM14 3h1v1h-1zM16 3h2v1h-2zM24 3h1v1h-1zM2 4h1v1h-1zM12 4h1v1h-1zM17 4h2v1h-2zM22 4h3v1h-3zM14 5h1v1h-1zM17 5h1v1h-1zM22 5h1v1h-1zM24 5h1v1h-1zM14 6h1v1h-1zM17 6h1v1h-1zM22 6h3v1h-3zM0 7h1v1h-1zM4 7h2v1h-2zM9 7h1v1h-1zM12 7h1v1h-1zM14 7h1v1h-1zM21 7h2v1h-2zM24 7h1v1h-1zM0 8h1v1h-1zM2 8h1v1h-1zM5 8h1v1h-1zM7 8h1v1h-1zM18 8h1v1h-1zM23 8h2v1h-2zM14 9h1v1h-1zM16 9h1v1h-1zM24 9h1v1h-1z"/>
<path fill="#f4a582" d="M17 0h2v1h-2zM5 1h1v1h-1zM7 1h1v1h-1zM14 1h1v1h-1zM6 2h1v1h-1zM0 3h1v1h-1zM6 4h1v1h-1zM8 4h3v1h-3zM13 4h2v1h-2zM13 5h1v1h-1zM16 5h1v1h-1zM0 6h1v1h-1zM2 6h1v1h-1zM13 6h1v1h-1zM16 7h3v1h-3zM13 8h2v1h-2zM17 8h1v1h-1zM0 9h1v1h-1zM2 9h2v1h-2zM6 9h1v1h-1zM13 9h1v1h-1z"/>
<path fill="#d6604d" d="M0 1h1v1h-1zM6 1h1v1h-1zM8 1h3v1h-3zM0 2h1v1h-1zM3 2h3v1h-3zM7 2h4v1h-4zM19 2h1v1h-1zM5 3h6v1h-6zM16 4h1v1h-1zM19 4h1v1h-1zM3 5h1v1h-1zM5 5h2v1h-2zM8 5h1v1h-1zM10 5h1v1h-1zM19 5h1v1h-1zM10 6h1v1h-1zM16 6h1v1h-1zM10 8h1v1h-1zM21 8h1v1h-1zM4 9h1v1h-1zM8 9h3v1h-3zM19 9h1v1h-1z"/>
<path fill="#b2182b" d="M21 0h1v1h-1zM4 1h1v1h-1zM17 1h1v1h-1zM19 1h1v1h-1zM3 3h2v1h-2zM19 3h1v1h-1zM0 4h1v1h-1zM3 4h3v1h-3zM7 4h1v1h-1zM2 5h1v1h-1zM4 5h1v1h-1zM9 5h1v1h-1zM5 6h2v1h-2zM8 6h2v1h-2zM19 6h1v1h-1zM6 8h1v1h-1zM8 8h2v1h-2zM5 9h1v1h-1z"/>
<path fill="#67001f" d="M3 1h1v1h-1zM21 1h1v1h-1zM21 2h1v1h-1zM21 3h1v1h-1zM21 4h1v1h-1zM7 5h1v1h-1zM21 5h1v1h-1zM3 6h2v1h-2zM7 6h1v1h-1zM21 6h1v1h-1zM2 7h1v1h-1zM7 7h1v1h-1zM3 8h2v1h-2zM19 8h1v1h-1zM7 9h1v1h-1zM21 9h1v1h-1z"/>
<path fill="#d1e5f0" d="M6 0h1v1h-1zM9 0h1v1h-1zM15 0h1v1h-1zM20 0h1v1h-1zM1 1h1v1h-1zM15 1h1v1h-1zM23 1h1v1h-1zM1 2h1v1h-1zM11 2h1v1h-1zM13 2h1v1h-1zM15 2h1v1h-1zM20 2h1v1h-1zM15 3h1v1h-1zM18 3h1v1h-1zM20 3h1v1h-1zM23 3h1v1h-1zM1 4h1v1h-1zM1 5h1v1h-1zM11 5h1v1h-1zM23 5h1v1h-1zM1 6h1v1h-1zM11 6h1v1h-1zM15 7h1v1h-1zM23 7h1v1h-1zM11 9h1v1h-1zM20 9h1v1h-1zM23 9h1v1h-1z"/>
<path fill="#92c5de" d="M11 0h1v1h-1zM23 2h1v1h-1zM1 3h1v1h-1z"/>
<path fill="#4393c3" d="M23 0h1v1h-1z"/>
</g>
<path d="M0 0V62.75M6.28 0V62.75M12.56 0V62.75M18.84 0V62.75M25.12 0V62.75M31.4 0V62.75M37.68 0V62.75M43.96 0V62.75M50.24 0V62.75M56.52 0V62.75M62.8 0V62.75M69.08 0V62.75M75.36 0V62.75M81.64 0V62.75M87.92 0V62.75M94.2 0V62.75M100.48 0V62.75M106.76 0V62.75M113.04 0V62.75M119.32 0V62.75M125.6 0V62.75M131.88 0V62.75M138.16 0V62.75M144.44 0V62.75M150.72 0V62.75M157 0V62.75M0 0H157M0 6.28H157M0 12.55H157M0 18.83H157M0 25.1H157M0 31.38H157M0 37.65H157M0 43.93H157M0 50.2H157M0 56.48H157M0 62.75H157" stroke="#000" stroke-width="0.31" fill="none" stroke-opacity="0.8"/>
<rect x="0" y="0" width="157" height="62.75" fill="none" stroke="#555" stroke-width="0.5"/>
<path d="M3.14 0v1.3M3.14 62.75v-1.3M9.42 0v1.3M9.42 62.75v-1.3M15.7 0v1.3M15.7 62.75v-1.3M21.98 0v1.3M21.98 62.75v-1.3M28.26 0v1.3M28.26 62.75v-1.3M34.54 0v1.3M34.54 62.75v-1.3M40.82 0v1.3M40.82 62.75v-1.3M47.1 0v1.3M47.1 62.75v-1.3M53.38 0v1.3M53.38 62.75v-1.3M59.66 0v1.3M59.66 62.75v-1.3M65.94 0v1.3M65.94 62.75v-1.3M72.22 0v1.3M72.22 62.75v-1.3M78.5 0v1.3M78.5 62.75v-1.3M84.78 0v1.3M84.78 62.75v-1.3M91.06 0v1.3M91.06 62.75v-1.3M97.34 0v1.3M97.34 62.75v-1.3M103.62 0v1.3M103.62 62.75v-1.3M109.9 0v1.3M109.9 62.75v-1.3M116.18 0v1.3M116.18 62.75v-1.3M122.46 0v1.3M122.46 62.75v-1.3M128.74 0v1.3M128.74 62.75v-1.3M135.02 0v1.3M135.02 62.75v-1.3M141.3 0v1.3M141.3 62.75v-1.3M147.58 0v1.3M147.58 62.75v-1.3M153.86 0v1.3M153.86 62.75v-1.3M0 3.14h1.3M157 3.14h-1.3M0 9.41h1.3M157 9.41h-1.3M0 15.69h1.3M157 15.69h-1.3M0 21.96h1.3M157 21.96h-1.3M0 28.24h1.3M157 28.24h-1.3M0 34.51h1.3M157 34.51h-1.3M0 40.79h1.3M157 40.79h-1.3M0 47.06h1.3M157 47.06h-1.3M0 53.34h1.3M157 53.34h-1.3M0 59.61h1.3M157 59.61h-1.3" stroke="#333" stroke-width="0.45" fill="none"/>
</g>
<g transform="translate(758.05 1070.5)">
<g transform="scale(6.2906 6.2750)">
<path fill="#5b51a3" d="M11 0h2v1h-2zM15 0h1v1h-1zM11 1h2v1h-2zM15 1h1v1h-1zM11 2h2v1h-2zM15 2h1v1h-1zM11 3h2v1h-2zM15 3h1v1h-1zM11 4h2v1h-2zM15 4h1v1h-1zM11 5h2v1h-2zM15 5h1v1h-1zM11 6h2v1h-2zM15 6h1v1h-1zM11 7h2v1h-2zM15 7h1v1h-1zM11 8h2v1h-2zM15 8h1v1h-1zM11 9h2v1h-2zM15 9h1v1h-1z"/>
<path fill="#4667ae" d="M5 0h1v1h-1zM9 0h2v1h-2zM13 0h2v1h-2zM13 1h2v1h-2zM4 2h1v1h-1zM13 2h2v1h-2zM4 3h1v1h-1zM13 3h2v1h-2zM4 4h1v1h-1zM13 4h2v1h-2zM1 5h1v1h-1zM5 5h1v1h-1zM9 5h1v1h-1zM13 5h2v1h-2zM4 6h1v1h-1zM13 6h2v1h-2zM3 7h1v1h-1zM9 7h2v1h-2zM13 7h2v1h-2zM4 8h1v1h-1zM10 8h1v1h-1zM13 8h2v1h-2zM0 9h2v1h-2zM4 9h2v1h-2zM13 9h2v1h-2z"/>
<path fill="#3387bc" d="M1 0h2v1h-2zM2 1h1v1h-1zM4 1h1v1h-1zM2 2h1v1h-1zM2 4h1v1h-1zM0 5h1v1h-1zM2 5h1v1h-1zM10 5h1v1h-1zM0 6h1v1h-1zM2 6h1v1h-1zM5 6h1v1h-1zM0 7h1v1h-1zM2 7h1v1h-1zM0 8h1v1h-1zM2 8h1v1h-1zM2 9h1v1h-1zM7 9h1v1h-1z"/>
<path fill="#4ba4b1" d="M10 1h1v1h-1zM0 2h1v1h-1zM0 3h1v1h-1zM0 4h1v1h-1zM4 5h1v1h-1zM7 5h1v1h-1zM1 6h1v1h-1zM9 9h2v1h-2z"/>
<path fill="#66c2a5" d="M7 0h1v1h-1zM10 3h1v1h-1zM7 6h1v1h-1zM10 6h1v1h-1zM1 7h1v1h-1zM5 8h1v1h-1z"/>
<path fill="#abdda4" d="M0 1h1v1h-1zM7 2h1v1h-1zM7 4h1v1h-1zM5 7h1v1h-1zM1 8h1v1h-1zM9 8h1v1h-1zM3 9h1v1h-1z"/>
<path fill="#e6f598" d="M1 2h1v1h-1zM1 3h1v1h-1zM5 3h1v1h-1zM7 3h1v1h-1zM1 4h1v1h-1zM10 4h1v1h-1zM7 8h1v1h-1z"/>
<path fill="#fbf8b0" d="M5 1h1v1h-1zM7 1h1v1h-1zM9 1h1v1h-1zM2 3h1v1h-1zM3 4h1v1h-1zM5 4h1v1h-1zM3 5h1v1h-1zM9 6h1v1h-1zM3 8h1v1h-1z"/>
<path fill="#fee08b" d="M0 0h1v1h-1zM1 1h1v1h-1zM10 2h1v1h-1zM3 3h1v1h-1zM9 3h1v1h-1zM3 6h1v1h-1zM7 7h1v1h-1z"/>
<path fill="#fdae61" d="M3 0h1v1h-1zM8 0h1v1h-1zM3 2h1v1h-1zM9 2h1v1h-1zM6 7h1v1h-1z"/>
<path fill="#f46d43" d="M4 0h1v1h-1zM6 0h1v1h-1zM3 1h1v1h-1zM6 1h1v1h-1zM9 4h1v1h-1zM6 8h1v1h-1zM8 9h1v1h-1z"/>
<path fill="#d53e4f" d="M5 2h1v1h-1zM6 3h1v1h-1zM6 4h1v1h-1zM4 7h1v1h-1zM6 9h1v1h-1z"/>
<path fill="#9e0142" d="M8 1h1v1h-1zM6 2h1v1h-1zM8 2h1v1h-1zM8 3h1v1h-1zM8 4h1v1h-1zM6 5h1v1h-1zM8 5h1v1h-1zM6 6h1v1h-1zM8 6h1v1h-1zM8 7h1v1h-1zM8 8h1v1h-1z"/>
</g>
<path d="M0 0V62.75M6.29 0V62.75M12.58 0V62.75M18.87 0V62.75M25.16 0V62.75M31.45 0V62.75M37.74 0V62.75M44.03 0V62.75M50.33 0V62.75M56.62 0V62.75M62.91 0V62.75M69.2 0V62.75M75.49 0V62.75M81.78 0V62.75M88.07 0V62.75M94.36 0V62.75M100.65 0V62.75M0 0H100.65M0 6.28H100.65M0 12.55H100.65M0 18.83H100.65M0 25.1H100.65M0 31.38H100.65M0 37.65H100.65M0 43.93H100.65M0 50.2H100.65M0 56.48H100.65M0 62.75H100.65" stroke="#000" stroke-width="0.31" fill="none" stroke-opacity="0.8"/>
<rect x="0" y="0" width="100.65" height="62.75" fill="none" stroke="#555" stroke-width="0.5"/>
<path d="M3.15 0v1.3M3.15 62.75v-1.3M9.44 0v1.3M9.44 62.75v-1.3M15.73 0v1.3M15.73 62.75v-1.3M22.02 0v1.3M22.02 62.75v-1.3M28.31 0v1.3M28.31 62.75v-1.3M34.6 0v1.3M34.6 62.75v-1.3M40.89 0v1.3M40.89 62.75v-1.3M47.18 0v1.3M47.18 62.75v-1.3M53.47 0v1.3M53.47 62.75v-1.3M59.76 0v1.3M59.76 62.75v-1.3M66.05 0v1.3M66.05 62.75v-1.3M72.34 0v1.3M72.34 62.75v-1.3M78.63 0v1.3M78.63 62.75v-1.3M84.92 0v1.3M84.92 62.75v-1.3M91.21 0v1.3M91.21 62.75v-1.3M97.5 0v1.3M97.5 62.75v-1.3M0 3.14h1.3M100.65 3.14h-1.3M0 9.41h1.3M100.65 9.41h-1.3M0 15.69h1.3M100.65 15.69h-1.3M0 21.96h1.3M100.65 21.96h-1.3M0 28.24h1.3M100.65 28.24h-1.3M0 34.51h1.3M100.65 34.51h-1.3M0 40.79h1.3M100.65 40.79h-1.3M0 47.06h1.3M100.65 47.06h-1.3M0 53.34h1.3M100.65 53.34h-1.3M0 59.61h1.3M100.65 59.61h-1.3" stroke="#333" stroke-width="0.45" fill="none"/>
</g>
<path d="M596.39 1133.25V1137.65L492.25 1144.65V1148.15M627.79 1133.25V1137.65L546.25 1144.65V1148.15M703.15 1133.25V1137.65L671.25 1144.65V1148.15M709.43 1133.25V1137.65L685 1144.65V1148.15M728.27 1133.25V1137.65L716.25 1144.65V1148.15M761.2 1133.25V1137.25C761.2 1141.25 757.45 1143.25 757.45 1148.15" stroke="#6a6a6a" stroke-width="1.4" fill="none"/>
<text transform="translate(496.25 1150.25) rotate(-90)" text-anchor="end" font-size="11.8" fill="#111" stroke="#111" stroke-width="0.12">G−CSF→pSTAT3</text>
<text transform="translate(507.15 1150.25) rotate(-90)" text-anchor="end" font-size="5.95" fill="#222" stroke="#222" stroke-width="0.22">IL−3→pSTAT3</text>
<text transform="translate(516.75 1150.25) rotate(-90)" text-anchor="end" font-size="5.95" fill="#222" stroke="#222" stroke-width="0.22">IL−3→pSTAT5</text>
<text transform="translate(525.5 1150.25) rotate(-90)" text-anchor="end" font-size="5.95" fill="#222" stroke="#222" stroke-width="0.22">PVO4→pZAP70/SYK</text>
<text transform="translate(535.25 1150.25) rotate(-90)" text-anchor="end" font-size="5.95" fill="#222" stroke="#222" stroke-width="0.22">PVO4→pP38</text>
<text transform="translate(550.25 1150.25) rotate(-90)" text-anchor="end" font-size="11.8" fill="#111" stroke="#111" stroke-width="0.12">G−CSF→pSTAT5</text>
<text transform="translate(559.65 1150.25) rotate(-90)" text-anchor="end" font-size="5.95" fill="#222" stroke="#222" stroke-width="0.22">PVO4→pERK1/2</text>
<text transform="translate(569.85 1150.25) rotate(-90)" text-anchor="end" font-size="5.95" fill="#222" stroke="#222" stroke-width="0.22">GM−CSF→pSTAT5</text>
<text transform="translate(580 1150.25) rotate(-90)" text-anchor="end" font-size="5.95" fill="#222" stroke="#222" stroke-width="0.22">PVO4→pSTAT5</text>
<text transform="translate(590 1150.25) rotate(-90)" text-anchor="end" font-size="5.95" fill="#222" stroke="#222" stroke-width="0.22">PVO4→pPLCg2</text>
<text transform="translate(600.25 1150.25) rotate(-90)" text-anchor="end" font-size="5.95" fill="#222" stroke="#222" stroke-width="0.22">PVO4→pSTAT3</text>
<text transform="translate(610.5 1150.25) rotate(-90)" text-anchor="end" font-size="5.95" fill="#222" stroke="#222" stroke-width="0.22">PVO4→pS6</text>
<text transform="translate(620.5 1150.25) rotate(-90)" text-anchor="end" font-size="5.95" fill="#222" stroke="#222" stroke-width="0.22">GM−CSF→pSTAT3</text>
<text transform="translate(630.85 1150.25) rotate(-90)" text-anchor="end" font-size="5.95" fill="#222" stroke="#222" stroke-width="0.22">GM−CSF→pCREB</text>
<text transform="translate(641.35 1150.25) rotate(-90)" text-anchor="end" font-size="5.95" fill="#222" stroke="#222" stroke-width="0.22">PMA/iono.→pP38</text>
<text transform="translate(651.5 1150.25) rotate(-90)" text-anchor="end" font-size="5.95" fill="#222" stroke="#222" stroke-width="0.22">PVO4→pAKT</text>
<text transform="translate(661.75 1150.25) rotate(-90)" text-anchor="end" font-size="5.95" fill="#222" stroke="#222" stroke-width="0.22">GM−CSF→pS6</text>
<text transform="translate(675.25 1150.25) rotate(-90)" text-anchor="end" font-size="11.8" fill="#111" stroke="#111" stroke-width="0.12">FLT3L→pAKT</text>
<text transform="translate(689 1150.25) rotate(-90)" text-anchor="end" font-size="11.8" fill="#111" stroke="#111" stroke-width="0.12">SCF→pAKT</text>
<text transform="translate(698 1150.25) rotate(-90)" text-anchor="end" font-size="5.95" fill="#222" stroke="#222" stroke-width="0.22">PVO4→pCBL</text>
<text transform="translate(706.25 1150.25) rotate(-90)" text-anchor="end" font-size="5.95" fill="#222" stroke="#222" stroke-width="0.22">IL−3→pS6</text>
<text transform="translate(720.25 1150.25) rotate(-90)" text-anchor="end" font-size="11.8" fill="#111" stroke="#111" stroke-width="0.12">IL−10→pSTAT3</text>
<text transform="translate(729.25 1150.25) rotate(-90)" text-anchor="end" font-size="5.95" fill="#222" stroke="#222" stroke-width="0.22">GM−CSF→pERK1/2</text>
<text transform="translate(736.75 1150.25) rotate(-90)" text-anchor="end" font-size="5.95" fill="#222" stroke="#222" stroke-width="0.22">PVO4→pCREB</text>
<text transform="translate(744.65 1150.25) rotate(-90)" text-anchor="end" font-size="5.95" fill="#222" stroke="#222" stroke-width="0.22">G−CSF→pCREB</text>
<text transform="translate(761.35 1150.25) rotate(-90)" text-anchor="end" font-size="11.8" fill="#111" stroke="#111" stroke-width="0.12">CD34</text>
<text transform="translate(767.7 1150.25) rotate(-90)" text-anchor="end" font-size="5.95" fill="#222" stroke="#222" stroke-width="0.22">CD38</text>
<text transform="translate(774.44 1150.25) rotate(-90)" text-anchor="end" font-size="5.95" fill="#222" stroke="#222" stroke-width="0.22">CD117</text>
<text transform="translate(781.18 1150.25) rotate(-90)" text-anchor="end" font-size="5.95" fill="#222" stroke="#222" stroke-width="0.22">HLA−DR</text>
<text transform="translate(787.92 1150.25) rotate(-90)" text-anchor="end" font-size="5.95" fill="#222" stroke="#222" stroke-width="0.22">CD123</text>
<text transform="translate(794.66 1150.25) rotate(-90)" text-anchor="end" font-size="5.95" fill="#222" stroke="#222" stroke-width="0.22">CD33</text>
<text transform="translate(801.4 1150.25) rotate(-90)" text-anchor="end" font-size="5.95" fill="#222" stroke="#222" stroke-width="0.22">CD45</text>
<text transform="translate(808.14 1150.25) rotate(-90)" text-anchor="end" font-size="5.95" fill="#222" stroke="#222" stroke-width="0.22">CD47</text>
<text transform="translate(814.88 1150.25) rotate(-90)" text-anchor="end" font-size="5.95" fill="#222" stroke="#222" stroke-width="0.22">CD44</text>
<text transform="translate(821.62 1150.25) rotate(-90)" text-anchor="end" font-size="5.95" fill="#222" stroke="#222" stroke-width="0.22">CD64</text>
<text transform="translate(828.36 1150.25) rotate(-90)" text-anchor="end" font-size="5.95" fill="#222" stroke="#222" stroke-width="0.22">CD11b</text>
<text transform="translate(835.1 1150.25) rotate(-90)" text-anchor="end" font-size="5.95" fill="#222" stroke="#222" stroke-width="0.22">CD7</text>
<text transform="translate(841.84 1150.25) rotate(-90)" text-anchor="end" font-size="5.95" fill="#222" stroke="#222" stroke-width="0.22">CD3</text>
<text transform="translate(848.58 1150.25) rotate(-90)" text-anchor="end" font-size="5.95" fill="#222" stroke="#222" stroke-width="0.22">CD19</text>
<text transform="translate(855.32 1150.25) rotate(-90)" text-anchor="end" font-size="5.95" fill="#222" stroke="#222" stroke-width="0.22">CD15</text>
<text transform="translate(862.06 1150.25) rotate(-90)" text-anchor="end" font-size="5.95" fill="#222" stroke="#222" stroke-width="0.22">CD41</text>
</g>
<g id="SJ15">
<text x="891.8" y="1016.3" font-size="36" fill="#000" stroke="#000" stroke-width="0.25">SJ15</text>
<g transform="translate(887.7 1022)">
<rect x="0" y="0" width="106.1" height="105.1" fill="#fff" stroke="#bdbdbd" stroke-width="0.65"/>
<path d="M8.84 0v1.2M8.84 105.1v-1.2M0 8.76h1.2M106.1 8.76h-1.2M17.68 0v1.2M17.68 105.1v-1.2M0 17.52h1.2M106.1 17.52h-1.2M26.52 0v1.2M26.52 105.1v-1.2M0 26.27h1.2M106.1 26.27h-1.2M35.37 0v1.2M35.37 105.1v-1.2M0 35.03h1.2M106.1 35.03h-1.2M44.21 0v1.2M44.21 105.1v-1.2M0 43.79h1.2M106.1 43.79h-1.2M53.05 0v1.2M53.05 105.1v-1.2M0 52.55h1.2M106.1 52.55h-1.2M61.89 0v1.2M61.89 105.1v-1.2M0 61.31h1.2M106.1 61.31h-1.2M70.73 0v1.2M70.73 105.1v-1.2M0 70.07h1.2M106.1 70.07h-1.2M79.58 0v1.2M79.58 105.1v-1.2M0 78.82h1.2M106.1 78.82h-1.2M88.42 0v1.2M88.42 105.1v-1.2M0 87.58h1.2M106.1 87.58h-1.2M97.26 0v1.2M97.26 105.1v-1.2M0 96.34h1.2M106.1 96.34h-1.2" stroke="#a8a8a8" stroke-width="0.55" fill="none"/>
<use href="#ct"/>
<g fill="#1db46b"><circle cx="49.6" cy="37.4" r="1"/><circle cx="51.5" cy="39.1" r="1"/><circle cx="53.5" cy="42.9" r="1.4"/><circle cx="55.7" cy="43.3" r="1.6"/><circle cx="63.7" cy="44.2" r="0.7"/><circle cx="67.8" cy="44.6" r="1.4"/><circle cx="70.9" cy="42.2" r="1.6"/><circle cx="72.8" cy="40.9" r="1.8"/><circle cx="53.9" cy="49.8" r="0.6"/><circle cx="55.2" cy="53.9" r="1.1"/><circle cx="56.5" cy="54.8" r="0.9"/><circle cx="35.8" cy="54.3" r="0.6"/></g>
<g fill="#a3005f"><circle cx="57.4" cy="80.9" r="0.8"/><circle cx="35.8" cy="55.4" r="0.3"/></g>
</g>
<path d="M1018.29 1124.5V1130.2M1049.69 1124.5V1130.2M1125.05 1124.5V1130.2M1131.33 1124.5V1130.2M1150.17 1124.5V1130.2M1183.25 1124.5V1130.2" stroke="#6a6a6a" stroke-width="1.4" fill="none"/>
<rect x="1002.7" y="1005.75" width="10.3" height="118.75" fill="#1db46b"/>
<text transform="translate(1011.5 1065.12) rotate(-90)" text-anchor="middle" font-size="10" fill="#fff">Primitive</text>
<g transform="translate(1015.15 1005.75)">
<g transform="scale(6.2800 6.2500)">
<path fill="#fbfbfb" d="M1 0h1v1h-1zM12 0h3v1h-3zM16 0h1v1h-1zM21 0h1v1h-1zM1 1h1v1h-1zM12 1h2v1h-2zM16 1h1v1h-1zM21 1h2v1h-2zM1 2h1v1h-1zM12 2h3v1h-3zM16 2h1v1h-1zM21 2h2v1h-2zM1 3h1v1h-1zM6 3h1v1h-1zM12 3h2v1h-2zM16 3h1v1h-1zM21 3h2v1h-2zM1 4h1v1h-1zM12 4h2v1h-2zM21 4h2v1h-2zM1 5h1v1h-1zM6 5h1v1h-1zM12 5h1v1h-1zM16 5h1v1h-1zM21 5h2v1h-2zM24 5h1v1h-1zM1 6h1v1h-1zM12 6h1v1h-1zM14 6h1v1h-1zM16 6h1v1h-1zM21 6h2v1h-2zM1 7h1v1h-1zM12 7h2v1h-2zM16 7h1v1h-1zM21 7h1v1h-1zM1 8h1v1h-1zM12 8h2v1h-2zM16 8h2v1h-2zM21 8h2v1h-2zM1 9h1v1h-1zM12 9h2v1h-2zM21 9h2v1h-2zM1 10h1v1h-1zM12 10h1v1h-1zM14 10h1v1h-1zM16 10h1v1h-1zM21 10h2v1h-2zM1 11h1v1h-1zM12 11h1v1h-1zM16 11h1v1h-1zM21 11h2v1h-2zM1 12h1v1h-1zM6 12h1v1h-1zM12 12h2v1h-2zM21 12h2v1h-2zM24 12h1v1h-1zM1 13h1v1h-1zM6 13h1v1h-1zM12 13h1v1h-1zM14 13h1v1h-1zM17 13h1v1h-1zM21 13h2v1h-2zM6 14h1v1h-1zM13 14h1v1h-1zM16 14h1v1h-1zM21 14h1v1h-1zM1 15h1v1h-1zM11 15h2v1h-2zM15 15h4v1h-4zM22 15h2v1h-2zM12 16h1v1h-1zM14 16h3v1h-3zM22 16h3v1h-3zM13 17h1v1h-1zM16 17h1v1h-1zM22 17h1v1h-1zM0 18h1v1h-1zM6 18h1v1h-1zM12 18h1v1h-1zM14 18h1v1h-1zM16 18h1v1h-1zM21 18h2v1h-2z"/>
<path fill="#fddbc7" d="M7 0h1v1h-1zM10 0h2v1h-2zM19 0h1v1h-1zM22 0h3v1h-3zM7 1h1v1h-1zM10 1h2v1h-2zM14 1h1v1h-1zM19 1h1v1h-1zM23 1h2v1h-2zM6 2h2v1h-2zM11 2h1v1h-1zM15 2h1v1h-1zM23 2h2v1h-2zM7 3h1v1h-1zM14 3h1v1h-1zM24 3h1v1h-1zM6 4h2v1h-2zM14 4h1v1h-1zM16 4h1v1h-1zM24 4h1v1h-1zM7 5h1v1h-1zM11 5h1v1h-1zM14 5h1v1h-1zM23 5h1v1h-1zM6 6h2v1h-2zM11 6h1v1h-1zM23 6h2v1h-2zM7 7h1v1h-1zM11 7h1v1h-1zM14 7h1v1h-1zM22 7h3v1h-3zM4 8h1v1h-1zM7 8h1v1h-1zM10 8h2v1h-2zM14 8h2v1h-2zM19 8h1v1h-1zM23 8h2v1h-2zM7 9h1v1h-1zM14 9h1v1h-1zM16 9h1v1h-1zM24 9h1v1h-1zM3 10h1v1h-1zM7 10h1v1h-1zM10 10h2v1h-2zM15 10h1v1h-1zM19 10h1v1h-1zM23 10h2v1h-2zM7 11h1v1h-1zM14 11h1v1h-1zM24 11h1v1h-1zM3 12h1v1h-1zM5 12h1v1h-1zM7 12h1v1h-1zM11 12h1v1h-1zM15 12h2v1h-2zM19 12h1v1h-1zM23 12h1v1h-1zM7 13h1v1h-1zM11 13h1v1h-1zM15 13h2v1h-2zM18 13h1v1h-1zM23 13h2v1h-2zM1 14h1v1h-1zM7 14h1v1h-1zM11 14h2v1h-2zM14 14h1v1h-1zM22 14h2v1h-2zM3 15h1v1h-1zM7 15h1v1h-1zM0 16h1v1h-1zM5 16h2v1h-2zM11 16h1v1h-1zM17 16h2v1h-2zM7 17h1v1h-1zM5 18h1v1h-1zM10 18h2v1h-2zM17 18h1v1h-1zM23 18h1v1h-1z"/>
<path fill="#f4a582" d="M3 0h2v1h-2zM8 0h2v1h-2zM15 0h1v1h-1zM17 0h1v1h-1zM2 1h1v1h-1zM4 1h2v1h-2zM8 1h2v1h-2zM15 1h1v1h-1zM17 1h1v1h-1zM3 2h1v1h-1zM5 2h1v1h-1zM10 2h1v1h-1zM17 2h1v1h-1zM19 2h1v1h-1zM2 3h1v1h-1zM5 3h1v1h-1zM10 3h2v1h-2zM23 3h1v1h-1zM2 4h1v1h-1zM5 4h1v1h-1zM10 4h2v1h-2zM23 4h1v1h-1zM2 5h2v1h-2zM5 5h1v1h-1zM10 5h1v1h-1zM15 5h1v1h-1zM19 5h1v1h-1zM2 6h1v1h-1zM5 6h1v1h-1zM10 6h1v1h-1zM15 6h1v1h-1zM17 6h1v1h-1zM19 6h1v1h-1zM5 7h2v1h-2zM15 7h1v1h-1zM2 8h2v1h-2zM5 8h1v1h-1zM8 8h2v1h-2zM18 8h1v1h-1zM11 9h1v1h-1zM23 9h1v1h-1zM4 10h2v1h-2zM8 10h2v1h-2zM17 10h1v1h-1zM5 11h1v1h-1zM11 11h1v1h-1zM23 11h1v1h-1zM0 12h1v1h-1zM2 12h1v1h-1zM4 12h1v1h-1zM10 12h1v1h-1zM17 12h2v1h-2zM0 13h1v1h-1zM3 13h1v1h-1zM5 13h1v1h-1zM10 13h1v1h-1zM19 13h1v1h-1zM5 14h1v1h-1zM10 14h1v1h-1zM15 14h1v1h-1zM17 14h1v1h-1zM24 14h1v1h-1zM0 15h1v1h-1zM4 15h2v1h-2zM8 15h1v1h-1zM10 15h1v1h-1zM3 16h1v1h-1zM7 16h1v1h-1zM19 16h1v1h-1zM11 17h1v1h-1zM14 17h1v1h-1zM23 17h2v1h-2zM3 18h2v1h-2zM15 18h1v1h-1zM19 18h1v1h-1z"/>
<path fill="#d6604d" d="M2 0h1v1h-1zM5 0h1v1h-1zM3 1h1v1h-1zM0 2h1v1h-1zM2 2h1v1h-1zM4 2h1v1h-1zM8 2h1v1h-1zM18 2h1v1h-1zM0 3h1v1h-1zM3 3h1v1h-1zM8 3h2v1h-2zM15 3h1v1h-1zM19 3h1v1h-1zM0 4h1v1h-1zM3 4h1v1h-1zM8 4h1v1h-1zM15 4h1v1h-1zM17 4h1v1h-1zM19 4h1v1h-1zM0 5h1v1h-1zM4 5h1v1h-1zM8 5h2v1h-2zM17 5h2v1h-2zM0 6h1v1h-1zM3 6h2v1h-2zM8 6h1v1h-1zM2 7h2v1h-2zM10 7h1v1h-1zM19 7h1v1h-1zM0 8h1v1h-1zM2 9h1v1h-1zM5 9h2v1h-2zM15 9h1v1h-1zM0 10h1v1h-1zM2 10h1v1h-1zM18 10h1v1h-1zM0 11h1v1h-1zM2 11h1v1h-1zM15 11h1v1h-1zM8 12h2v1h-2zM2 13h1v1h-1zM4 13h1v1h-1zM8 13h1v1h-1zM2 14h3v1h-3zM8 14h2v1h-2zM19 14h1v1h-1zM2 15h1v1h-1zM9 15h1v1h-1zM2 16h1v1h-1zM4 16h1v1h-1zM8 16h1v1h-1zM10 16h1v1h-1zM0 17h1v1h-1zM2 17h1v1h-1zM5 17h1v1h-1zM15 17h1v1h-1zM8 18h2v1h-2z"/>
<path fill="#b2182b" d="M0 0h1v1h-1zM0 1h1v1h-1zM9 2h1v1h-1zM4 3h1v1h-1zM17 3h1v1h-1zM4 4h1v1h-1zM9 4h1v1h-1zM9 6h1v1h-1zM18 6h1v1h-1zM0 7h1v1h-1zM4 7h1v1h-1zM8 7h2v1h-2zM17 7h2v1h-2zM3 9h1v1h-1zM8 9h3v1h-3zM17 9h1v1h-1zM19 9h1v1h-1zM3 11h1v1h-1zM17 11h1v1h-1zM19 11h1v1h-1zM9 13h1v1h-1zM0 14h1v1h-1zM18 14h1v1h-1zM9 16h1v1h-1zM3 17h1v1h-1zM6 17h1v1h-1zM8 17h1v1h-1zM10 17h1v1h-1zM17 17h1v1h-1zM19 17h1v1h-1zM7 18h1v1h-1z"/>
<path fill="#67001f" d="M18 0h1v1h-1zM18 1h1v1h-1zM18 3h1v1h-1zM18 4h1v1h-1zM0 9h1v1h-1zM4 9h1v1h-1zM18 9h1v1h-1zM4 11h1v1h-1zM6 11h1v1h-1zM8 11h3v1h-3zM18 11h1v1h-1zM4 17h1v1h-1zM9 17h1v1h-1zM18 17h1v1h-1zM2 18h1v1h-1z"/>
<path fill="#d1e5f0" d="M20 2h1v1h-1zM13 5h1v1h-1zM13 6h1v1h-1zM13 10h1v1h-1zM20 10h1v1h-1zM13 11h1v1h-1zM14 12h1v1h-1zM20 12h1v1h-1zM13 13h1v1h-1zM20 13h1v1h-1zM6 15h1v1h-1zM13 15h2v1h-2zM19 15h3v1h-3zM24 15h1v1h-1zM1 16h1v1h-1zM13 16h1v1h-1zM21 16h1v1h-1zM1 17h1v1h-1zM12 17h1v1h-1zM21 17h1v1h-1zM1 18h1v1h-1zM13 18h1v1h-1zM24 18h1v1h-1z"/>
<path fill="#92c5de" d="M6 0h1v1h-1zM20 0h1v1h-1zM6 1h1v1h-1zM20 1h1v1h-1zM20 3h1v1h-1zM20 4h1v1h-1zM20 5h1v1h-1zM20 6h1v1h-1zM20 7h1v1h-1zM20 8h1v1h-1zM20 9h1v1h-1zM20 11h1v1h-1zM20 14h1v1h-1zM20 16h1v1h-1zM20 17h1v1h-1zM18 18h1v1h-1zM20 18h1v1h-1z"/>
<path fill="#4393c3" d="M6 8h1v1h-1zM6 10h1v1h-1z"/>
</g>
<path d="M0 0V118.75M6.28 0V118.75M12.56 0V118.75M18.84 0V118.75M25.12 0V118.75M31.4 0V118.75M37.68 0V118.75M43.96 0V118.75M50.24 0V118.75M56.52 0V118.75M62.8 0V118.75M69.08 0V118.75M75.36 0V118.75M81.64 0V118.75M87.92 0V118.75M94.2 0V118.75M100.48 0V118.75M106.76 0V118.75M113.04 0V118.75M119.32 0V118.75M125.6 0V118.75M131.88 0V118.75M138.16 0V118.75M144.44 0V118.75M150.72 0V118.75M157 0V118.75M0 0H157M0 6.25H157M0 12.5H157M0 18.75H157M0 25H157M0 31.25H157M0 37.5H157M0 43.75H157M0 50H157M0 56.25H157M0 62.5H157M0 68.75H157M0 75H157M0 81.25H157M0 87.5H157M0 93.75H157M0 100H157M0 106.25H157M0 112.5H157M0 118.75H157" stroke="#000" stroke-width="0.31" fill="none" stroke-opacity="0.8"/>
<rect x="0" y="0" width="157" height="118.75" fill="none" stroke="#555" stroke-width="0.5"/>
<path d="M3.14 0v1.3M3.14 118.75v-1.3M9.42 0v1.3M9.42 118.75v-1.3M15.7 0v1.3M15.7 118.75v-1.3M21.98 0v1.3M21.98 118.75v-1.3M28.26 0v1.3M28.26 118.75v-1.3M34.54 0v1.3M34.54 118.75v-1.3M40.82 0v1.3M40.82 118.75v-1.3M47.1 0v1.3M47.1 118.75v-1.3M53.38 0v1.3M53.38 118.75v-1.3M59.66 0v1.3M59.66 118.75v-1.3M65.94 0v1.3M65.94 118.75v-1.3M72.22 0v1.3M72.22 118.75v-1.3M78.5 0v1.3M78.5 118.75v-1.3M84.78 0v1.3M84.78 118.75v-1.3M91.06 0v1.3M91.06 118.75v-1.3M97.34 0v1.3M97.34 118.75v-1.3M103.62 0v1.3M103.62 118.75v-1.3M109.9 0v1.3M109.9 118.75v-1.3M116.18 0v1.3M116.18 118.75v-1.3M122.46 0v1.3M122.46 118.75v-1.3M128.74 0v1.3M128.74 118.75v-1.3M135.02 0v1.3M135.02 118.75v-1.3M141.3 0v1.3M141.3 118.75v-1.3M147.58 0v1.3M147.58 118.75v-1.3M153.86 0v1.3M153.86 118.75v-1.3M0 3.12h1.3M157 3.12h-1.3M0 9.38h1.3M157 9.38h-1.3M0 15.62h1.3M157 15.62h-1.3M0 21.88h1.3M157 21.88h-1.3M0 28.12h1.3M157 28.12h-1.3M0 34.38h1.3M157 34.38h-1.3M0 40.62h1.3M157 40.62h-1.3M0 46.88h1.3M157 46.88h-1.3M0 53.12h1.3M157 53.12h-1.3M0 59.38h1.3M157 59.38h-1.3M0 65.62h1.3M157 65.62h-1.3M0 71.88h1.3M157 71.88h-1.3M0 78.12h1.3M157 78.12h-1.3M0 84.38h1.3M157 84.38h-1.3M0 90.62h1.3M157 90.62h-1.3M0 96.88h1.3M157 96.88h-1.3M0 103.12h1.3M157 103.12h-1.3M0 109.38h1.3M157 109.38h-1.3M0 115.62h1.3M157 115.62h-1.3" stroke="#333" stroke-width="0.45" fill="none"/>
</g>
<g transform="translate(1180.1 1005.75)">
<g transform="scale(6.2906 6.2500)">
<path fill="#5b51a3" d="M10 0h1v1h-1zM14 0h1v1h-1zM0 2h1v1h-1zM10 2h3v1h-3zM14 2h1v1h-1zM10 3h2v1h-2zM14 3h1v1h-1zM10 4h3v1h-3zM14 4h1v1h-1zM10 5h3v1h-3zM14 5h1v1h-1zM0 6h1v1h-1zM10 6h3v1h-3zM14 6h1v1h-1zM10 7h1v1h-1zM12 7h1v1h-1zM14 7h1v1h-1zM10 8h1v1h-1zM12 8h1v1h-1zM14 8h1v1h-1zM10 9h1v1h-1zM14 9h1v1h-1zM10 10h1v1h-1zM12 10h1v1h-1zM14 10h1v1h-1zM11 11h2v1h-2zM14 11h1v1h-1zM0 12h1v1h-1zM10 12h3v1h-3zM14 12h2v1h-2zM0 13h1v1h-1zM10 13h3v1h-3zM14 13h2v1h-2zM10 14h1v1h-1zM12 14h1v1h-1zM0 15h1v1h-1zM5 15h1v1h-1zM10 15h3v1h-3zM14 15h2v1h-2zM0 16h1v1h-1zM10 16h3v1h-3zM14 16h2v1h-2zM11 17h2v1h-2zM14 17h1v1h-1zM10 18h3v1h-3zM14 18h2v1h-2z"/>
<path fill="#4667ae" d="M0 0h1v1h-1zM12 0h2v1h-2zM10 1h1v1h-1zM12 1h3v1h-3zM13 2h1v1h-1zM15 2h1v1h-1zM0 3h1v1h-1zM12 3h2v1h-2zM13 4h1v1h-1zM15 4h1v1h-1zM13 5h1v1h-1zM15 5h1v1h-1zM13 6h1v1h-1zM15 6h1v1h-1zM11 7h1v1h-1zM15 7h1v1h-1zM13 8h1v1h-1zM15 8h1v1h-1zM12 9h1v1h-1zM0 10h1v1h-1zM13 10h1v1h-1zM15 10h1v1h-1zM0 11h1v1h-1zM13 11h1v1h-1zM15 11h1v1h-1zM2 12h1v1h-1zM5 12h1v1h-1zM13 12h1v1h-1zM2 13h1v1h-1zM13 13h1v1h-1zM0 14h1v1h-1zM11 14h1v1h-1zM13 14h1v1h-1zM15 14h1v1h-1zM2 15h1v1h-1zM7 15h1v1h-1zM9 15h1v1h-1zM13 15h1v1h-1zM2 16h1v1h-1zM5 16h1v1h-1zM13 16h1v1h-1zM0 17h1v1h-1zM13 17h1v1h-1zM0 18h1v1h-1zM13 18h1v1h-1z"/>
<path fill="#3387bc" d="M15 0h1v1h-1zM15 1h1v1h-1zM9 2h1v1h-1zM15 3h1v1h-1zM2 5h1v1h-1zM9 5h1v1h-1zM2 6h1v1h-1zM0 7h1v1h-1zM2 7h1v1h-1zM2 8h1v1h-1zM9 8h1v1h-1zM0 9h1v1h-1zM11 9h1v1h-1zM15 9h1v1h-1zM2 10h1v1h-1zM9 10h1v1h-1zM2 11h1v1h-1zM9 12h1v1h-1zM9 13h1v1h-1zM15 17h1v1h-1zM2 18h1v1h-1zM9 18h1v1h-1z"/>
<path fill="#4ba4b1" d="M9 0h1v1h-1zM9 1h1v1h-1zM5 2h1v1h-1zM9 4h1v1h-1zM9 7h1v1h-1zM9 9h1v1h-1zM9 11h1v1h-1zM9 14h1v1h-1zM9 17h1v1h-1z"/>
<path fill="#66c2a5" d="M9 6h1v1h-1zM7 13h1v1h-1zM3 15h1v1h-1zM7 16h1v1h-1z"/>
<path fill="#abdda4" d="M9 3h1v1h-1zM5 5h1v1h-1zM5 10h1v1h-1zM10 11h1v1h-1zM3 18h1v1h-1z"/>
<path fill="#e6f598" d="M11 0h1v1h-1zM7 2h1v1h-1zM0 4h1v1h-1zM0 5h1v1h-1zM5 7h1v1h-1zM13 7h1v1h-1zM5 8h1v1h-1zM13 9h1v1h-1zM11 10h1v1h-1zM5 11h1v1h-1zM7 12h1v1h-1zM5 13h1v1h-1zM2 14h1v1h-1zM14 14h1v1h-1zM1 15h1v1h-1zM6 15h1v1h-1zM3 16h1v1h-1zM9 16h1v1h-1zM10 17h1v1h-1zM8 18h1v1h-1z"/>
<path fill="#fbf8b0" d="M5 0h1v1h-1zM0 1h1v1h-1zM5 1h1v1h-1zM11 1h1v1h-1zM3 2h2v1h-2zM5 4h1v1h-1zM7 5h1v1h-1zM5 6h1v1h-1zM7 7h1v1h-1zM1 8h1v1h-1zM7 8h1v1h-1zM11 8h1v1h-1zM5 9h1v1h-1zM7 10h1v1h-1zM7 11h1v1h-1zM1 12h1v1h-1zM3 12h2v1h-2zM6 12h1v1h-1zM1 13h1v1h-1zM3 13h2v1h-2zM6 13h1v1h-1zM5 14h1v1h-1zM4 15h1v1h-1zM8 15h1v1h-1zM1 16h1v1h-1zM4 16h1v1h-1zM6 16h1v1h-1zM5 17h1v1h-1zM5 18h1v1h-1z"/>
<path fill="#fee08b" d="M4 0h1v1h-1zM6 0h2v1h-2zM7 1h1v1h-1zM1 2h1v1h-1zM6 2h1v1h-1zM4 3h4v1h-4zM4 4h1v1h-1zM6 4h2v1h-2zM1 5h1v1h-1zM4 5h1v1h-1zM6 5h1v1h-1zM4 6h1v1h-1zM6 6h2v1h-2zM1 7h1v1h-1zM4 7h1v1h-1zM6 7h1v1h-1zM0 8h1v1h-1zM4 8h1v1h-1zM4 9h1v1h-1zM6 9h2v1h-2zM4 10h1v1h-1zM6 10h1v1h-1zM4 11h1v1h-1zM6 11h1v1h-1zM8 13h1v1h-1zM3 14h2v1h-2zM6 14h2v1h-2zM8 16h1v1h-1zM4 17h1v1h-1zM6 17h2v1h-2zM6 18h1v1h-1z"/>
<path fill="#fdae61" d="M1 0h1v1h-1zM3 0h1v1h-1zM1 1h1v1h-1zM4 1h1v1h-1zM6 1h1v1h-1zM2 2h1v1h-1zM8 2h1v1h-1zM3 3h1v1h-1zM1 4h1v1h-1zM3 4h1v1h-1zM3 5h1v1h-1zM3 6h1v1h-1zM3 7h1v1h-1zM3 8h1v1h-1zM6 8h1v1h-1zM1 9h1v1h-1zM3 9h1v1h-1zM1 10h1v1h-1zM3 10h1v1h-1zM1 11h1v1h-1zM3 11h1v1h-1zM8 12h1v1h-1zM1 14h1v1h-1zM3 17h1v1h-1zM4 18h1v1h-1zM7 18h1v1h-1z"/>
<path fill="#f46d43" d="M8 0h1v1h-1zM3 1h1v1h-1zM1 3h1v1h-1zM8 5h1v1h-1zM1 6h1v1h-1zM8 7h1v1h-1zM8 10h1v1h-1zM8 11h1v1h-1zM8 14h1v1h-1zM1 17h1v1h-1zM1 18h1v1h-1z"/>
<path fill="#d53e4f" d="M2 0h1v1h-1zM2 1h1v1h-1zM8 1h1v1h-1zM2 3h1v1h-1zM8 3h1v1h-1zM2 4h1v1h-1zM8 4h1v1h-1zM8 6h1v1h-1zM8 8h1v1h-1zM2 9h1v1h-1zM8 9h1v1h-1zM8 17h1v1h-1z"/>
<path fill="#9e0142" d="M2 17h1v1h-1z"/>
</g>
<path d="M0 0V118.75M6.29 0V118.75M12.58 0V118.75M18.87 0V118.75M25.16 0V118.75M31.45 0V118.75M37.74 0V118.75M44.03 0V118.75M50.33 0V118.75M56.62 0V118.75M62.91 0V118.75M69.2 0V118.75M75.49 0V118.75M81.78 0V118.75M88.07 0V118.75M94.36 0V118.75M100.65 0V118.75M0 0H100.65M0 6.25H100.65M0 12.5H100.65M0 18.75H100.65M0 25H100.65M0 31.25H100.65M0 37.5H100.65M0 43.75H100.65M0 50H100.65M0 56.25H100.65M0 62.5H100.65M0 68.75H100.65M0 75H100.65M0 81.25H100.65M0 87.5H100.65M0 93.75H100.65M0 100H100.65M0 106.25H100.65M0 112.5H100.65M0 118.75H100.65" stroke="#000" stroke-width="0.31" fill="none" stroke-opacity="0.8"/>
<rect x="0" y="0" width="100.65" height="118.75" fill="none" stroke="#555" stroke-width="0.5"/>
<path d="M3.15 0v1.3M3.15 118.75v-1.3M9.44 0v1.3M9.44 118.75v-1.3M15.73 0v1.3M15.73 118.75v-1.3M22.02 0v1.3M22.02 118.75v-1.3M28.31 0v1.3M28.31 118.75v-1.3M34.6 0v1.3M34.6 118.75v-1.3M40.89 0v1.3M40.89 118.75v-1.3M47.18 0v1.3M47.18 118.75v-1.3M53.47 0v1.3M53.47 118.75v-1.3M59.76 0v1.3M59.76 118.75v-1.3M66.05 0v1.3M66.05 118.75v-1.3M72.34 0v1.3M72.34 118.75v-1.3M78.63 0v1.3M78.63 118.75v-1.3M84.92 0v1.3M84.92 118.75v-1.3M91.21 0v1.3M91.21 118.75v-1.3M97.5 0v1.3M97.5 118.75v-1.3M0 3.12h1.3M100.65 3.12h-1.3M0 9.38h1.3M100.65 9.38h-1.3M0 15.62h1.3M100.65 15.62h-1.3M0 21.88h1.3M100.65 21.88h-1.3M0 28.12h1.3M100.65 28.12h-1.3M0 34.38h1.3M100.65 34.38h-1.3M0 40.62h1.3M100.65 40.62h-1.3M0 46.88h1.3M100.65 46.88h-1.3M0 53.12h1.3M100.65 53.12h-1.3M0 59.38h1.3M100.65 59.38h-1.3M0 65.62h1.3M100.65 65.62h-1.3M0 71.88h1.3M100.65 71.88h-1.3M0 78.12h1.3M100.65 78.12h-1.3M0 84.38h1.3M100.65 84.38h-1.3M0 90.62h1.3M100.65 90.62h-1.3M0 96.88h1.3M100.65 96.88h-1.3M0 103.12h1.3M100.65 103.12h-1.3M0 109.38h1.3M100.65 109.38h-1.3M0 115.62h1.3M100.65 115.62h-1.3" stroke="#333" stroke-width="0.45" fill="none"/>
</g>
<rect x="1002.7" y="1130.2" width="10.3" height="12.45" fill="#a3005f"/>
<path d="M1007.7 1135.53L998.95 1138.03" stroke="#222" stroke-width="0.8" fill="none"/>
<text x="996.4" y="1140.73" text-anchor="end" font-size="10" fill="#111">Mature</text>
<g transform="translate(1015.15 1130.2)">
<g transform="scale(6.2800 6.2250)">
<path fill="#fbfbfb" d="M1 0h1v1h-1zM18 0h1v1h-1zM5 1h1v1h-1zM10 1h2v1h-2zM13 1h1v1h-1zM15 1h1v1h-1zM17 1h1v1h-1zM21 1h1v1h-1z"/>
<path fill="#fddbc7" d="M13 0h1v1h-1zM15 0h1v1h-1zM22 0h3v1h-3zM12 1h1v1h-1zM14 1h1v1h-1zM16 1h1v1h-1zM18 1h1v1h-1zM22 1h1v1h-1z"/>
<path fill="#f4a582" d="M0 0h1v1h-1zM5 0h1v1h-1zM7 0h1v1h-1zM11 0h2v1h-2zM14 0h1v1h-1zM16 0h2v1h-2zM21 0h1v1h-1zM6 1h1v1h-1zM8 1h1v1h-1z"/>
<path fill="#d6604d" d="M2 0h1v1h-1zM4 1h1v1h-1zM7 1h1v1h-1zM9 1h1v1h-1zM19 1h1v1h-1z"/>
<path fill="#b2182b" d="M2 1h1v1h-1z"/>
<path fill="#67001f" d="M3 0h2v1h-2zM6 0h1v1h-1zM8 0h3v1h-3zM19 0h1v1h-1zM3 1h1v1h-1z"/>
<path fill="#d1e5f0" d="M0 1h2v1h-2zM23 1h2v1h-2z"/>
<path fill="#92c5de" d="M20 0h1v1h-1zM20 1h1v1h-1z"/>
</g>
<path d="M0 0V12.45M6.28 0V12.45M12.56 0V12.45M18.84 0V12.45M25.12 0V12.45M31.4 0V12.45M37.68 0V12.45M43.96 0V12.45M50.24 0V12.45M56.52 0V12.45M62.8 0V12.45M69.08 0V12.45M75.36 0V12.45M81.64 0V12.45M87.92 0V12.45M94.2 0V12.45M100.48 0V12.45M106.76 0V12.45M113.04 0V12.45M119.32 0V12.45M125.6 0V12.45M131.88 0V12.45M138.16 0V12.45M144.44 0V12.45M150.72 0V12.45M157 0V12.45M0 0H157M0 6.23H157M0 12.45H157" stroke="#000" stroke-width="0.31" fill="none" stroke-opacity="0.8"/>
<rect x="0" y="0" width="157" height="12.45" fill="none" stroke="#555" stroke-width="0.5"/>
<path d="M3.14 0v1.3M3.14 12.45v-1.3M9.42 0v1.3M9.42 12.45v-1.3M15.7 0v1.3M15.7 12.45v-1.3M21.98 0v1.3M21.98 12.45v-1.3M28.26 0v1.3M28.26 12.45v-1.3M34.54 0v1.3M34.54 12.45v-1.3M40.82 0v1.3M40.82 12.45v-1.3M47.1 0v1.3M47.1 12.45v-1.3M53.38 0v1.3M53.38 12.45v-1.3M59.66 0v1.3M59.66 12.45v-1.3M65.94 0v1.3M65.94 12.45v-1.3M72.22 0v1.3M72.22 12.45v-1.3M78.5 0v1.3M78.5 12.45v-1.3M84.78 0v1.3M84.78 12.45v-1.3M91.06 0v1.3M91.06 12.45v-1.3M97.34 0v1.3M97.34 12.45v-1.3M103.62 0v1.3M103.62 12.45v-1.3M109.9 0v1.3M109.9 12.45v-1.3M116.18 0v1.3M116.18 12.45v-1.3M122.46 0v1.3M122.46 12.45v-1.3M128.74 0v1.3M128.74 12.45v-1.3M135.02 0v1.3M135.02 12.45v-1.3M141.3 0v1.3M141.3 12.45v-1.3M147.58 0v1.3M147.58 12.45v-1.3M153.86 0v1.3M153.86 12.45v-1.3M0 3.11h1.3M157 3.11h-1.3M0 9.34h1.3M157 9.34h-1.3" stroke="#333" stroke-width="0.45" fill="none"/>
</g>
<g transform="translate(1180.1 1130.2)">
<g transform="scale(6.2906 6.2250)">
<path fill="#5b51a3" d="M11 0h2v1h-2zM14 0h1v1h-1zM10 1h3v1h-3zM14 1h1v1h-1z"/>
<path fill="#4667ae" d="M0 0h1v1h-1zM2 0h1v1h-1zM13 0h1v1h-1zM15 0h1v1h-1zM0 1h1v1h-1zM2 1h1v1h-1zM5 1h1v1h-1zM13 1h1v1h-1z"/>
<path fill="#4ba4b1" d="M3 1h1v1h-1zM9 1h1v1h-1z"/>
<path fill="#66c2a5" d="M4 1h1v1h-1zM7 1h1v1h-1z"/>
<path fill="#abdda4" d="M4 0h1v1h-1z"/>
<path fill="#e6f598" d="M3 0h1v1h-1zM7 0h1v1h-1zM10 0h1v1h-1zM1 1h1v1h-1zM6 1h1v1h-1zM8 1h1v1h-1z"/>
<path fill="#fee08b" d="M1 0h1v1h-1zM5 0h2v1h-2zM15 1h1v1h-1z"/>
<path fill="#fdae61" d="M9 0h1v1h-1z"/>
<path fill="#f46d43" d="M8 0h1v1h-1z"/>
</g>
<path d="M0 0V12.45M6.29 0V12.45M12.58 0V12.45M18.87 0V12.45M25.16 0V12.45M31.45 0V12.45M37.74 0V12.45M44.03 0V12.45M50.33 0V12.45M56.62 0V12.45M62.91 0V12.45M69.2 0V12.45M75.49 0V12.45M81.78 0V12.45M88.07 0V12.45M94.36 0V12.45M100.65 0V12.45M0 0H100.65M0 6.23H100.65M0 12.45H100.65" stroke="#000" stroke-width="0.31" fill="none" stroke-opacity="0.8"/>
<rect x="0" y="0" width="100.65" height="12.45" fill="none" stroke="#555" stroke-width="0.5"/>
<path d="M3.15 0v1.3M3.15 12.45v-1.3M9.44 0v1.3M9.44 12.45v-1.3M15.73 0v1.3M15.73 12.45v-1.3M22.02 0v1.3M22.02 12.45v-1.3M28.31 0v1.3M28.31 12.45v-1.3M34.6 0v1.3M34.6 12.45v-1.3M40.89 0v1.3M40.89 12.45v-1.3M47.18 0v1.3M47.18 12.45v-1.3M53.47 0v1.3M53.47 12.45v-1.3M59.76 0v1.3M59.76 12.45v-1.3M66.05 0v1.3M66.05 12.45v-1.3M72.34 0v1.3M72.34 12.45v-1.3M78.63 0v1.3M78.63 12.45v-1.3M84.92 0v1.3M84.92 12.45v-1.3M91.21 0v1.3M91.21 12.45v-1.3M97.5 0v1.3M97.5 12.45v-1.3M0 3.11h1.3M100.65 3.11h-1.3M0 9.34h1.3M100.65 9.34h-1.3" stroke="#333" stroke-width="0.45" fill="none"/>
</g>
<path d="M1018.29 1142.65V1147.15L914.15 1154.15V1157.65M1049.69 1142.65V1147.15L968.15 1154.15V1157.65M1125.05 1142.65V1147.15L1093.15 1154.15V1157.65M1131.33 1142.65V1147.15L1106.9 1154.15V1157.65M1150.17 1142.65V1147.15L1138.15 1154.15V1157.65M1183.25 1142.65V1146.75C1183.25 1150.75 1179.5 1152.75 1179.5 1157.65" stroke="#6a6a6a" stroke-width="1.4" fill="none"/>
<text transform="translate(918.15 1159.75) rotate(-90)" text-anchor="end" font-size="11.8" fill="#111" stroke="#111" stroke-width="0.12">G−CSF→pSTAT3</text>
<text transform="translate(929.05 1159.75) rotate(-90)" text-anchor="end" font-size="5.95" fill="#222" stroke="#222" stroke-width="0.22">IL−3→pSTAT3</text>
<text transform="translate(938.65 1159.75) rotate(-90)" text-anchor="end" font-size="5.95" fill="#222" stroke="#222" stroke-width="0.22">IL−3→pSTAT5</text>
<text transform="translate(947.4 1159.75) rotate(-90)" text-anchor="end" font-size="5.95" fill="#222" stroke="#222" stroke-width="0.22">PVO4→pZAP70/SYK</text>
<text transform="translate(957.15 1159.75) rotate(-90)" text-anchor="end" font-size="5.95" fill="#222" stroke="#222" stroke-width="0.22">PVO4→pP38</text>
<text transform="translate(972.15 1159.75) rotate(-90)" text-anchor="end" font-size="11.8" fill="#111" stroke="#111" stroke-width="0.12">G−CSF→pSTAT5</text>
<text transform="translate(981.55 1159.75) rotate(-90)" text-anchor="end" font-size="5.95" fill="#222" stroke="#222" stroke-width="0.22">PVO4→pERK1/2</text>
<text transform="translate(991.75 1159.75) rotate(-90)" text-anchor="end" font-size="5.95" fill="#222" stroke="#222" stroke-width="0.22">GM−CSF→pSTAT5</text>
<text transform="translate(1001.9 1159.75) rotate(-90)" text-anchor="end" font-size="5.95" fill="#222" stroke="#222" stroke-width="0.22">PVO4→pSTAT5</text>
<text transform="translate(1011.9 1159.75) rotate(-90)" text-anchor="end" font-size="5.95" fill="#222" stroke="#222" stroke-width="0.22">PVO4→pPLCg2</text>
<text transform="translate(1022.15 1159.75) rotate(-90)" text-anchor="end" font-size="5.95" fill="#222" stroke="#222" stroke-width="0.22">PVO4→pSTAT3</text>
<text transform="translate(1032.4 1159.75) rotate(-90)" text-anchor="end" font-size="5.95" fill="#222" stroke="#222" stroke-width="0.22">PVO4→pS6</text>
<text transform="translate(1042.4 1159.75) rotate(-90)" text-anchor="end" font-size="5.95" fill="#222" stroke="#222" stroke-width="0.22">GM−CSF→pSTAT3</text>
<text transform="translate(1052.75 1159.75) rotate(-90)" text-anchor="end" font-size="5.95" fill="#222" stroke="#222" stroke-width="0.22">GM−CSF→pCREB</text>
<text transform="translate(1063.25 1159.75) rotate(-90)" text-anchor="end" font-size="5.95" fill="#222" stroke="#222" stroke-width="0.22">PMA/iono.→pP38</text>
<text transform="translate(1073.4 1159.75) rotate(-90)" text-anchor="end" font-size="5.95" fill="#222" stroke="#222" stroke-width="0.22">PVO4→pAKT</text>
<text transform="translate(1083.65 1159.75) rotate(-90)" text-anchor="end" font-size="5.95" fill="#222" stroke="#222" stroke-width="0.22">GM−CSF→pS6</text>
<text transform="translate(1097.15 1159.75) rotate(-90)" text-anchor="end" font-size="11.8" fill="#111" stroke="#111" stroke-width="0.12">FLT3L→pAKT</text>
<text transform="translate(1110.9 1159.75) rotate(-90)" text-anchor="end" font-size="11.8" fill="#111" stroke="#111" stroke-width="0.12">SCF→pAKT</text>
<text transform="translate(1119.9 1159.75) rotate(-90)" text-anchor="end" font-size="5.95" fill="#222" stroke="#222" stroke-width="0.22">PVO4→pCBL</text>
<text transform="translate(1128.15 1159.75) rotate(-90)" text-anchor="end" font-size="5.95" fill="#222" stroke="#222" stroke-width="0.22">IL−3→pS6</text>
<text transform="translate(1142.15 1159.75) rotate(-90)" text-anchor="end" font-size="11.8" fill="#111" stroke="#111" stroke-width="0.12">IL−10→pSTAT3</text>
<text transform="translate(1151.15 1159.75) rotate(-90)" text-anchor="end" font-size="5.95" fill="#222" stroke="#222" stroke-width="0.22">GM−CSF→pERK1/2</text>
<text transform="translate(1158.65 1159.75) rotate(-90)" text-anchor="end" font-size="5.95" fill="#222" stroke="#222" stroke-width="0.22">PVO4→pCREB</text>
<text transform="translate(1166.55 1159.75) rotate(-90)" text-anchor="end" font-size="5.95" fill="#222" stroke="#222" stroke-width="0.22">G−CSF→pCREB</text>
<text transform="translate(1183.4 1159.75) rotate(-90)" text-anchor="end" font-size="11.8" fill="#111" stroke="#111" stroke-width="0.12">CD34</text>
<text transform="translate(1189.75 1159.75) rotate(-90)" text-anchor="end" font-size="5.95" fill="#222" stroke="#222" stroke-width="0.22">CD38</text>
<text transform="translate(1196.49 1159.75) rotate(-90)" text-anchor="end" font-size="5.95" fill="#222" stroke="#222" stroke-width="0.22">CD117</text>
<text transform="translate(1203.23 1159.75) rotate(-90)" text-anchor="end" font-size="5.95" fill="#222" stroke="#222" stroke-width="0.22">HLA−DR</text>
<text transform="translate(1209.97 1159.75) rotate(-90)" text-anchor="end" font-size="5.95" fill="#222" stroke="#222" stroke-width="0.22">CD123</text>
<text transform="translate(1216.71 1159.75) rotate(-90)" text-anchor="end" font-size="5.95" fill="#222" stroke="#222" stroke-width="0.22">CD33</text>
<text transform="translate(1223.45 1159.75) rotate(-90)" text-anchor="end" font-size="5.95" fill="#222" stroke="#222" stroke-width="0.22">CD45</text>
<text transform="translate(1230.19 1159.75) rotate(-90)" text-anchor="end" font-size="5.95" fill="#222" stroke="#222" stroke-width="0.22">CD47</text>
<text transform="translate(1236.93 1159.75) rotate(-90)" text-anchor="end" font-size="5.95" fill="#222" stroke="#222" stroke-width="0.22">CD44</text>
<text transform="translate(1243.67 1159.75) rotate(-90)" text-anchor="end" font-size="5.95" fill="#222" stroke="#222" stroke-width="0.22">CD64</text>
<text transform="translate(1250.41 1159.75) rotate(-90)" text-anchor="end" font-size="5.95" fill="#222" stroke="#222" stroke-width="0.22">CD11b</text>
<text transform="translate(1257.15 1159.75) rotate(-90)" text-anchor="end" font-size="5.95" fill="#222" stroke="#222" stroke-width="0.22">CD7</text>
<text transform="translate(1263.89 1159.75) rotate(-90)" text-anchor="end" font-size="5.95" fill="#222" stroke="#222" stroke-width="0.22">CD3</text>
<text transform="translate(1270.63 1159.75) rotate(-90)" text-anchor="end" font-size="5.95" fill="#222" stroke="#222" stroke-width="0.22">CD19</text>
<text transform="translate(1277.37 1159.75) rotate(-90)" text-anchor="end" font-size="5.95" fill="#222" stroke="#222" stroke-width="0.22">CD15</text>
<text transform="translate(1284.11 1159.75) rotate(-90)" text-anchor="end" font-size="5.95" fill="#222" stroke="#222" stroke-width="0.22">CD41</text>
</g>
</svg></body></html>
